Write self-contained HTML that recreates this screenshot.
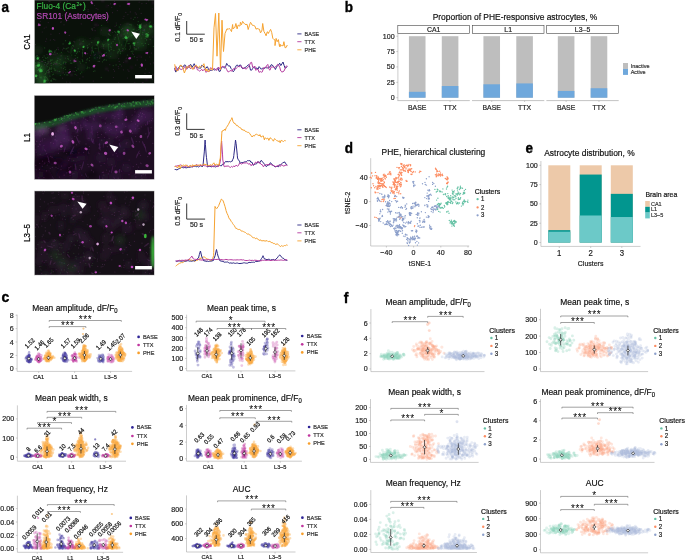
<!DOCTYPE html>
<html><head><meta charset="utf-8"><title>Figure</title>
<style>html,body{margin:0;padding:0;background:#fff;width:685px;height:560px;overflow:hidden}svg{display:block;will-change:transform}text{font-family:'Liberation Sans',sans-serif}</style>
</head><body>
<svg width="685" height="560" viewBox="0 0 685 560" style="font-family:'Liberation Sans',sans-serif">
<defs>
<filter id="b1" x="-50%" y="-50%" width="200%" height="200%"><feGaussianBlur stdDeviation="0.45"/></filter>
<filter id="b15" x="-50%" y="-50%" width="200%" height="200%"><feGaussianBlur stdDeviation="0.7"/></filter>
<filter id="b2" x="-50%" y="-50%" width="200%" height="200%"><feGaussianBlur stdDeviation="1.2"/></filter>
<filter id="b3" x="-50%" y="-50%" width="200%" height="200%"><feGaussianBlur stdDeviation="2.2"/></filter>
<clipPath id="clip1"><rect x="34.3" y="0" width="120.00000000000001" height="83.6"/></clipPath>
<clipPath id="clip2"><rect x="34.3" y="95.4" width="120.00000000000001" height="84.19999999999999"/></clipPath>
<clipPath id="clip3"><rect x="34.3" y="191" width="120.00000000000001" height="84.10000000000002"/></clipPath>
</defs>
<rect width="685" height="560" fill="#fff"/>
<text x="1.50" y="12.50" font-size="13.5" text-anchor="start" fill="#000" stroke="#000" stroke-width="0.35" font-weight="bold" transform="matrix(1 0 0 1.1 0 -1.250)">a</text>
<g clip-path="url(#clip1)">
<rect x="34.30" y="0.00" width="120.00" height="83.60" fill="#0a110a" />
<g filter="url(#b3)"><ellipse cx="110.8" cy="43.6" rx="3.7" ry="3.9" fill="#1a3f1d" fill-opacity="0.33"/><ellipse cx="41.6" cy="67.8" rx="4.4" ry="3.9" fill="#1a3f1d" fill-opacity="0.24"/><ellipse cx="60.2" cy="61.1" rx="4.7" ry="6.0" fill="#1a3f1d" fill-opacity="0.32"/><ellipse cx="102.5" cy="31.1" rx="3.5" ry="4.8" fill="#1a3f1d" fill-opacity="0.21"/><ellipse cx="37.6" cy="50.4" rx="5.8" ry="4.9" fill="#1a3f1d" fill-opacity="0.28"/><ellipse cx="91.5" cy="43.3" rx="5.1" ry="3.6" fill="#1a3f1d" fill-opacity="0.26"/><ellipse cx="39.2" cy="67.2" rx="3.8" ry="5.6" fill="#1a3f1d" fill-opacity="0.28"/><ellipse cx="136.3" cy="47.3" rx="3.3" ry="4.6" fill="#1a3f1d" fill-opacity="0.28"/><ellipse cx="148.9" cy="41.5" rx="3.2" ry="4.2" fill="#1a3f1d" fill-opacity="0.25"/><ellipse cx="55.7" cy="65.2" rx="5.9" ry="4.8" fill="#1a3f1d" fill-opacity="0.29"/><ellipse cx="108.5" cy="46.2" rx="4.3" ry="3.7" fill="#1a3f1d" fill-opacity="0.26"/><ellipse cx="51.6" cy="57.4" rx="5.0" ry="3.9" fill="#1a3f1d" fill-opacity="0.33"/><ellipse cx="113.3" cy="54.2" rx="5.8" ry="5.7" fill="#1a3f1d" fill-opacity="0.29"/><ellipse cx="59.4" cy="62.5" rx="4.7" ry="3.5" fill="#1a3f1d" fill-opacity="0.33"/><ellipse cx="105.7" cy="45.0" rx="4.2" ry="3.7" fill="#1a3f1d" fill-opacity="0.21"/><ellipse cx="142.8" cy="32.5" rx="4.0" ry="5.3" fill="#1a3f1d" fill-opacity="0.20"/><ellipse cx="80.7" cy="42.9" rx="5.9" ry="5.0" fill="#1a3f1d" fill-opacity="0.26"/><ellipse cx="108.4" cy="43.3" rx="4.8" ry="5.1" fill="#1a3f1d" fill-opacity="0.25"/><ellipse cx="95.6" cy="55.8" rx="3.5" ry="5.8" fill="#1a3f1d" fill-opacity="0.20"/><ellipse cx="119.4" cy="42.5" rx="4.3" ry="5.4" fill="#1a3f1d" fill-opacity="0.20"/><ellipse cx="106.8" cy="44.7" rx="5.2" ry="3.7" fill="#1a3f1d" fill-opacity="0.23"/><ellipse cx="82.1" cy="42.8" rx="5.8" ry="4.7" fill="#1a3f1d" fill-opacity="0.25"/><ellipse cx="59.2" cy="70.6" rx="5.9" ry="4.5" fill="#1a3f1d" fill-opacity="0.28"/><ellipse cx="137.0" cy="43.1" rx="4.3" ry="5.6" fill="#1a3f1d" fill-opacity="0.26"/><ellipse cx="138.6" cy="43.3" rx="4.6" ry="5.9" fill="#1a3f1d" fill-opacity="0.24"/><ellipse cx="129.4" cy="33.7" rx="4.9" ry="5.9" fill="#1a3f1d" fill-opacity="0.25"/><ellipse cx="75.2" cy="48.8" rx="3.6" ry="5.7" fill="#1a3f1d" fill-opacity="0.33"/><ellipse cx="44.0" cy="78.5" rx="4.8" ry="5.0" fill="#1a3f1d" fill-opacity="0.25"/><ellipse cx="153.3" cy="31.4" rx="4.9" ry="3.6" fill="#1a3f1d" fill-opacity="0.21"/><ellipse cx="83.0" cy="45.9" rx="5.2" ry="3.3" fill="#1a3f1d" fill-opacity="0.34"/><ellipse cx="130.4" cy="34.8" rx="5.7" ry="3.1" fill="#1a3f1d" fill-opacity="0.20"/><ellipse cx="36.8" cy="80.6" rx="3.6" ry="4.7" fill="#1a3f1d" fill-opacity="0.21"/><ellipse cx="109.9" cy="54.9" rx="3.1" ry="3.9" fill="#1a3f1d" fill-opacity="0.34"/><ellipse cx="103.5" cy="45.7" rx="4.8" ry="3.6" fill="#1a3f1d" fill-opacity="0.29"/><ellipse cx="43.4" cy="85.4" rx="5.6" ry="3.2" fill="#1a3f1d" fill-opacity="0.25"/><ellipse cx="67.4" cy="58.5" rx="5.4" ry="3.9" fill="#1a3f1d" fill-opacity="0.33"/><ellipse cx="130.2" cy="36.6" rx="5.6" ry="3.6" fill="#1a3f1d" fill-opacity="0.29"/><ellipse cx="106.1" cy="32.0" rx="5.0" ry="4.9" fill="#1a3f1d" fill-opacity="0.32"/><ellipse cx="127.4" cy="30.3" rx="5.6" ry="5.7" fill="#1a3f1d" fill-opacity="0.22"/><ellipse cx="39.2" cy="87.1" rx="4.7" ry="5.8" fill="#1a3f1d" fill-opacity="0.26"/><ellipse cx="57.4" cy="57.7" rx="3.3" ry="4.1" fill="#1a3f1d" fill-opacity="0.22"/><ellipse cx="119.6" cy="44.0" rx="4.1" ry="4.6" fill="#1a3f1d" fill-opacity="0.23"/><ellipse cx="60.6" cy="57.4" rx="3.2" ry="5.3" fill="#1a3f1d" fill-opacity="0.29"/><ellipse cx="75.9" cy="60.7" rx="3.4" ry="3.4" fill="#1a3f1d" fill-opacity="0.22"/><ellipse cx="46.8" cy="70.3" rx="3.9" ry="5.5" fill="#1a3f1d" fill-opacity="0.29"/><ellipse cx="50.4" cy="63.0" rx="4.1" ry="5.1" fill="#1a3f1d" fill-opacity="0.21"/><ellipse cx="119.3" cy="47.6" rx="5.0" ry="4.1" fill="#1a3f1d" fill-opacity="0.21"/><ellipse cx="97.0" cy="41.6" rx="3.8" ry="4.6" fill="#1a3f1d" fill-opacity="0.31"/><ellipse cx="141.9" cy="46.6" rx="5.4" ry="4.9" fill="#1a3f1d" fill-opacity="0.31"/><ellipse cx="158.7" cy="37.5" rx="5.3" ry="4.2" fill="#1a3f1d" fill-opacity="0.30"/><ellipse cx="55.4" cy="64.7" rx="5.2" ry="4.3" fill="#1a3f1d" fill-opacity="0.26"/><ellipse cx="81.5" cy="67.2" rx="4.6" ry="4.2" fill="#1a3f1d" fill-opacity="0.28"/><ellipse cx="120.6" cy="48.7" rx="5.8" ry="4.2" fill="#1a3f1d" fill-opacity="0.22"/><ellipse cx="117.6" cy="38.2" rx="5.1" ry="5.5" fill="#1a3f1d" fill-opacity="0.34"/><ellipse cx="42.2" cy="79.0" rx="3.4" ry="3.5" fill="#1a3f1d" fill-opacity="0.29"/><ellipse cx="38.0" cy="68.0" rx="7.0" ry="7.0" fill="#2a6a2e" fill-opacity="0.50"/><ellipse cx="42.0" cy="80.0" rx="6.0" ry="6.0" fill="#2a6a2e" fill-opacity="0.50"/><ellipse cx="128.0" cy="32.0" rx="8.0" ry="8.0" fill="#2a6a2e" fill-opacity="0.35"/><ellipse cx="146.0" cy="30.0" rx="7.0" ry="7.0" fill="#2a6a2e" fill-opacity="0.35"/><ellipse cx="140.0" cy="40.0" rx="6.0" ry="6.0" fill="#2a6a2e" fill-opacity="0.30"/></g>
<g filter="url(#b2)"><ellipse cx="71.4" cy="74.8" rx="1.1" ry="1.2" fill="#5a245a" fill-opacity="0.45"/><ellipse cx="139.6" cy="56.2" rx="0.9" ry="0.9" fill="#5a245a" fill-opacity="0.45"/><ellipse cx="153.2" cy="2.4" rx="1.0" ry="1.5" fill="#5a245a" fill-opacity="0.45"/><ellipse cx="36.1" cy="13.5" rx="0.9" ry="0.9" fill="#5a245a" fill-opacity="0.45"/><ellipse cx="90.9" cy="49.5" rx="1.0" ry="0.9" fill="#5a245a" fill-opacity="0.45"/><ellipse cx="131.6" cy="67.3" rx="1.2" ry="0.9" fill="#5a245a" fill-opacity="0.45"/><ellipse cx="99.3" cy="52.6" rx="1.1" ry="1.4" fill="#5a245a" fill-opacity="0.45"/><ellipse cx="81.1" cy="42.7" rx="0.9" ry="1.2" fill="#5a245a" fill-opacity="0.45"/><ellipse cx="126.3" cy="61.1" rx="1.0" ry="1.5" fill="#5a245a" fill-opacity="0.45"/><ellipse cx="120.7" cy="35.4" rx="1.1" ry="1.3" fill="#5a245a" fill-opacity="0.45"/><ellipse cx="55.4" cy="53.5" rx="1.3" ry="1.2" fill="#5a245a" fill-opacity="0.45"/><ellipse cx="139.1" cy="39.2" rx="1.1" ry="1.0" fill="#5a245a" fill-opacity="0.45"/><ellipse cx="144.6" cy="26.4" rx="1.3" ry="1.1" fill="#5a245a" fill-opacity="0.45"/><ellipse cx="146.6" cy="79.2" rx="0.8" ry="1.5" fill="#5a245a" fill-opacity="0.45"/><ellipse cx="106.9" cy="6.2" rx="1.1" ry="0.8" fill="#5a245a" fill-opacity="0.45"/><ellipse cx="100.2" cy="15.5" rx="1.1" ry="1.0" fill="#5a245a" fill-opacity="0.45"/><ellipse cx="106.6" cy="68.7" rx="1.5" ry="1.0" fill="#5a245a" fill-opacity="0.45"/><ellipse cx="102.7" cy="0.5" rx="1.1" ry="1.5" fill="#5a245a" fill-opacity="0.45"/><ellipse cx="48.6" cy="72.7" rx="1.3" ry="1.0" fill="#5a245a" fill-opacity="0.45"/><ellipse cx="127.7" cy="24.2" rx="1.4" ry="0.9" fill="#5a245a" fill-opacity="0.45"/><ellipse cx="48.6" cy="62.7" rx="1.1" ry="0.9" fill="#5a245a" fill-opacity="0.45"/><ellipse cx="95.9" cy="24.8" rx="1.2" ry="1.3" fill="#5a245a" fill-opacity="0.45"/></g>
<g filter="url(#b15)"><path d="M134.4 56.7h0M146.5 33.7h0M49.1 71.9h0M126.6 37.2h0M123.1 38.5h0M68.5 59.2h0M145.4 43.4h0M79.8 61.6h0M95.2 48.4h0M64.7 74.7h0M136.9 30.4h0M87.8 47.5h0M101.6 25.4h0M75.2 55.6h0M121.6 29.6h0M99.7 55.8h0M47.5 79.0h0M141.2 38.1h0M47.2 64.0h0M150.3 22.1h0M50.0 91.8h0M43.4 60.0h0M82.6 60.4h0M128.4 30.5h0M89.6 57.7h0M91.5 47.8h0M67.7 56.6h0M138.3 21.7h0M35.6 66.9h0M140.8 26.3h0M65.0 61.9h0M149.2 23.1h0M119.5 49.5h0M118.2 51.7h0M81.8 72.1h0M50.0 76.2h0M102.3 44.1h0M61.4 52.6h0M53.0 78.3h0M34.6 65.3h0M113.9 50.5h0M93.5 51.7h0M119.2 27.0h0M45.1 74.2h0M51.7 81.2h0M144.3 29.3h0M102.5 61.8h0M127.4 55.2h0M113.1 41.6h0M125.7 49.0h0M93.3 65.4h0M117.7 53.0h0M91.7 28.9h0M91.7 42.4h0M56.9 62.6h0M142.8 32.7h0M109.5 51.0h0M104.0 44.7h0M150.2 39.5h0M115.5 43.8h0M135.9 49.5h0M65.5 69.6h0M63.5 68.4h0M129.2 43.5h0M118.9 49.2h0M109.5 50.3h0M56.6 49.7h0M120.4 53.5h0M106.3 60.2h0M140.0 35.8h0M63.5 62.2h0M66.1 62.4h0M118.4 51.8h0M83.5 41.2h0M104.8 53.5h0M26.1 65.7h0M86.8 59.9h0M135.9 49.0h0M108.8 44.5h0M52.5 95.6h0M53.5 74.2h0M125.2 30.3h0M130.3 48.0h0M87.8 47.3h0M124.1 34.1h0M127.6 33.0h0M133.5 19.3h0M113.3 65.7h0M106.4 55.7h0M80.4 73.7h0M82.9 41.3h0M114.7 31.3h0M59.1 71.5h0M59.5 71.4h0M61.2 67.8h0M139.2 29.6h0M63.1 43.9h0M119.4 50.7h0M74.0 62.4h0M77.3 52.0h0M104.6 59.5h0M132.9 51.2h0M158.6 30.5h0M44.7 47.9h0M45.0 60.3h0M94.9 70.9h0M76.5 70.5h0M69.9 69.6h0M73.4 46.0h0M57.5 60.4h0M108.4 34.0h0M52.9 93.0h0M80.3 63.1h0M55.1 70.5h0M41.4 66.5h0M50.2 61.2h0M89.1 44.1h0M66.9 48.5h0M94.8 57.9h0M156.5 26.9h0M87.6 67.2h0M46.6 91.9h0M119.6 42.9h0M72.6 45.3h0M71.4 63.3h0M43.7 94.2h0M116.5 25.1h0M52.2 59.9h0M67.9 51.2h0M114.2 39.1h0M133.3 32.9h0M77.3 57.7h0M148.6 44.4h0M33.9 65.3h0M115.3 37.5h0M76.6 53.6h0M40.7 69.1h0M123.4 48.8h0M153.4 46.4h0M101.3 77.5h0M46.6 88.2h0M87.1 68.5h0M134.0 29.2h0M128.7 37.0h0M68.2 47.7h0M142.0 43.7h0M36.9 78.5h0M106.2 52.7h0M130.2 46.2h0M89.2 67.8h0M75.2 74.3h0M49.5 69.0h0M96.3 44.3h0M145.2 38.3h0M56.1 62.0h0M132.4 53.2h0M67.8 74.9h0M41.3 77.1h0M136.6 49.0h0M61.0 64.7h0M93.5 71.3h0M87.3 45.7h0M86.1 62.7h0M77.7 57.3h0M103.2 55.0h0M131.3 51.5h0M120.0 64.5h0M130.2 45.8h0M49.6 67.8h0M57.2 60.9h0M34.9 56.2h0M127.2 40.9h0M137.5 24.6h0M71.8 55.1h0M103.4 46.3h0M99.0 61.4h0M115.7 32.5h0M39.0 62.4h0M63.3 63.3h0M93.4 52.6h0M79.3 51.5h0M35.3 62.9h0M39.3 65.1h0M103.3 45.3h0M138.2 26.0h0M93.2 51.5h0M111.4 43.2h0M116.1 64.9h0M101.8 54.1h0M82.4 53.0h0M65.6 40.7h0M60.1 59.6h0M111.3 49.5h0M54.2 68.3h0M138.6 29.5h0M134.7 48.9h0M110.7 56.6h0M131.2 25.0h0M87.6 48.5h0M51.5 67.9h0M66.1 48.9h0M57.3 53.4h0M59.1 63.3h0M117.5 34.4h0M82.2 59.6h0M67.9 58.6h0M60.3 75.3h0M71.9 63.1h0M110.8 46.8h0M47.3 70.3h0M146.5 40.2h0M64.9 67.2h0M33.1 70.2h0M70.3 60.6h0M96.9 45.4h0M109.4 50.7h0M133.2 29.7h0M154.8 24.8h0M141.3 24.1h0M51.6 63.2h0M66.8 74.9h0M149.2 24.9h0M33.9 57.9h0M57.8 87.2h0M32.5 81.7h0M47.7 57.6h0M57.0 62.8h0M121.6 44.9h0M61.7 55.8h0M143.3 45.7h0M111.2 47.6h0M78.1 68.9h0M99.9 57.8h0M122.7 48.7h0M129.9 24.5h0M115.0 39.1h0M87.7 58.6h0M82.7 61.5h0M30.2 91.7h0M70.4 63.1h0M120.8 51.7h0M138.9 29.6h0M135.7 42.8h0M89.4 60.7h0M110.0 35.5h0M158.1 24.6h0M148.3 32.6h0M135.0 17.5h0M132.0 34.9h0M128.1 43.7h0M64.1 48.4h0M78.3 48.7h0M39.2 84.1h0M46.1 58.4h0M103.7 60.2h0M129.5 49.3h0M87.0 59.4h0M67.3 72.1h0M51.7 69.1h0M131.8 35.6h0M36.3 67.7h0M50.6 80.8h0M48.4 70.2h0M42.8 69.2h0M46.5 80.4h0M52.5 74.8h0M54.6 52.2h0M51.2 65.6h0M50.8 60.0h0M44.6 77.7h0M35.1 59.8h0M45.0 78.6h0M40.2 77.7h0M39.7 60.2h0M46.5 72.0h0M53.7 79.6h0M39.8 75.1h0M48.3 63.0h0M51.4 80.2h0M44.8 80.8h0M37.1 55.6h0M51.1 60.3h0M47.2 66.7h0M37.5 75.3h0M50.6 54.9h0M40.0 76.9h0M54.4 79.2h0M45.3 62.3h0M44.1 55.9h0M45.2 57.8h0M37.9 62.8h0M35.7 65.8h0M49.6 71.9h0M55.8 79.8h0M48.2 80.2h0M44.1 76.8h0M40.6 67.7h0M55.9 70.1h0M45.4 76.5h0M41.2 77.9h0M34.7 58.0h0M38.2 58.6h0M55.1 50.8h0M40.9 69.3h0M49.8 76.0h0M42.7 57.4h0M53.1 54.1h0M35.7 57.8h0M45.1 81.7h0M50.3 68.9h0M45.8 73.3h0M48.1 61.3h0M36.3 56.8h0M51.5 71.3h0M51.8 51.5h0M54.1 62.8h0M54.7 70.0h0M46.3 77.5h0M48.1 72.7h0M37.8 70.3h0" stroke="#3a9a40" stroke-opacity="0.3" stroke-width="1.3" stroke-linecap="round" fill="none"/><path d="M77.1 6.3h0M50.3 40.1h0M65.8 64.0h0M49.0 1.2h0M153.9 26.2h0M95.5 17.6h0M59.4 33.6h0M129.1 3.3h0M134.8 82.8h0M101.4 30.1h0M62.4 15.3h0M73.1 71.2h0M34.7 65.7h0M114.4 1.6h0M42.6 61.5h0M115.1 26.2h0M137.7 17.6h0M85.5 9.6h0M111.8 7.3h0M55.8 64.1h0M94.3 55.3h0M122.4 50.7h0M58.0 58.4h0M48.2 22.6h0M88.1 9.6h0M47.0 54.5h0M123.3 31.0h0M81.1 17.4h0M96.9 48.5h0M146.3 3.4h0M143.3 82.8h0M75.9 60.7h0M133.3 54.4h0M69.0 52.1h0M139.5 8.9h0M91.9 1.9h0M135.7 65.1h0M39.8 62.3h0M117.3 10.6h0M97.3 57.6h0M74.6 42.1h0M151.4 53.1h0M94.5 5.5h0M48.8 71.1h0M123.4 69.8h0M103.7 48.2h0M98.0 61.5h0M73.9 41.5h0M90.7 55.3h0M60.2 2.1h0M44.9 15.0h0M137.2 59.9h0M124.3 37.1h0M46.6 38.9h0M137.9 42.6h0M110.1 31.3h0M52.3 52.4h0M92.5 28.9h0M65.3 58.2h0M72.4 48.2h0M65.5 63.0h0M79.3 40.0h0M145.6 60.1h0M122.7 28.4h0M135.1 32.2h0M152.9 74.9h0M113.4 69.5h0M99.6 61.3h0M49.3 82.6h0M130.3 11.9h0M63.4 48.1h0M125.8 12.4h0M149.6 28.9h0M153.7 62.9h0M92.6 30.3h0M45.9 7.3h0M109.8 64.7h0M143.2 30.5h0M146.8 24.8h0M147.1 76.8h0M52.9 72.0h0M118.7 58.7h0M135.1 44.9h0M95.1 30.7h0M138.1 75.3h0M53.6 64.6h0M67.4 15.4h0M58.0 47.9h0M67.9 20.3h0M46.1 27.1h0M127.2 1.8h0M92.2 50.4h0M40.3 24.6h0M143.1 83.1h0M136.3 14.2h0M126.0 37.7h0M54.8 40.2h0M145.0 73.3h0M81.3 5.3h0M142.4 82.5h0M95.7 18.8h0M99.6 58.2h0M92.2 29.5h0M64.0 24.8h0M40.3 21.3h0M148.7 0.7h0M121.6 66.0h0M82.9 49.8h0M60.8 55.8h0M119.2 61.4h0M93.3 81.1h0M138.3 47.9h0M116.2 23.0h0M147.5 53.9h0M141.7 24.1h0M152.2 8.8h0M97.9 9.2h0M57.1 63.9h0M42.2 32.0h0M57.3 71.1h0M44.2 28.1h0M137.0 57.4h0M118.7 82.9h0M37.1 55.6h0M123.7 62.5h0M120.0 6.0h0M44.4 64.6h0M107.7 22.0h0M35.4 44.6h0M45.2 62.6h0M75.2 67.5h0M45.8 41.3h0M46.3 65.2h0M101.5 19.6h0M149.8 57.0h0M74.7 71.5h0M79.9 78.8h0M70.0 82.3h0M41.8 61.4h0M69.3 35.4h0M110.6 3.8h0M61.1 8.7h0M123.1 18.5h0M94.1 27.5h0M62.6 78.2h0M95.2 54.4h0M118.8 68.6h0M65.9 6.6h0M90.4 14.2h0M36.8 76.9h0M109.5 34.6h0M50.7 63.6h0M98.3 14.6h0M152.2 79.5h0M145.6 69.1h0M98.1 25.1h0M112.5 12.7h0M108.3 5.5h0M35.9 59.8h0M75.4 58.3h0M127.9 69.8h0M108.2 70.8h0M113.4 77.5h0M141.9 3.6h0M66.4 32.5h0M64.6 14.8h0M139.1 2.1h0M56.1 63.6h0M61.1 21.6h0M150.4 63.8h0M88.1 11.4h0M66.6 82.0h0M129.2 5.8h0M119.1 31.4h0M120.7 24.7h0M49.9 1.6h0M69.8 71.9h0M141.2 57.1h0M124.0 16.3h0M76.8 75.2h0M152.7 37.0h0M127.4 78.0h0M153.9 24.7h0M112.8 32.6h0M90.1 38.6h0M67.7 1.6h0M126.3 58.2h0M135.2 12.8h0M62.7 49.8h0M146.7 39.4h0M58.4 49.7h0M149.2 72.6h0M142.2 34.3h0M65.8 72.8h0M128.9 71.2h0M81.2 23.9h0M63.1 72.8h0M144.6 30.7h0M139.2 31.9h0M88.0 47.4h0M60.9 22.4h0M66.3 21.7h0M96.2 8.4h0M127.9 14.6h0M87.6 53.7h0M50.9 34.2h0M101.9 46.0h0M141.4 65.6h0M48.8 69.7h0M100.3 56.7h0M53.5 39.5h0M118.3 66.7h0M131.0 18.2h0M134.2 47.5h0M114.5 71.2h0M83.0 76.9h0M140.1 67.5h0M79.9 44.2h0M55.1 63.5h0M141.2 13.4h0" stroke="#8a3a8a" stroke-opacity="0.25" stroke-width="1.2" stroke-linecap="round" fill="none"/></g>
<g filter="url(#b1)"><ellipse cx="125.9" cy="37.7" rx="1.7" ry="1.1" fill="#3cbc48" fill-opacity="0.52"/><ellipse cx="126.6" cy="38.3" rx="1.0" ry="1.2" fill="#3cbc48" fill-opacity="0.45"/><ellipse cx="125.8" cy="37.2" rx="1.0" ry="1.7" fill="#3cbc48" fill-opacity="0.54"/><ellipse cx="126.3" cy="37.8" rx="1.3" ry="1.1" fill="#3cbc48" fill-opacity="0.41"/><ellipse cx="118.6" cy="31.8" rx="0.9" ry="1.4" fill="#3cbc48" fill-opacity="0.39"/><ellipse cx="119.2" cy="32.7" rx="1.0" ry="1.1" fill="#3cbc48" fill-opacity="0.36"/><ellipse cx="117.9" cy="31.7" rx="1.1" ry="1.1" fill="#3cbc48" fill-opacity="0.43"/><ellipse cx="119.0" cy="31.6" rx="0.9" ry="0.9" fill="#3cbc48" fill-opacity="0.46"/><ellipse cx="140.2" cy="27.9" rx="0.9" ry="1.1" fill="#3cbc48" fill-opacity="0.58"/><ellipse cx="140.1" cy="26.5" rx="1.0" ry="1.2" fill="#3cbc48" fill-opacity="0.49"/><ellipse cx="140.1" cy="27.2" rx="1.4" ry="1.3" fill="#3cbc48" fill-opacity="0.65"/><ellipse cx="140.1" cy="25.5" rx="1.3" ry="1.2" fill="#3cbc48" fill-opacity="0.63"/><ellipse cx="147.6" cy="36.3" rx="1.0" ry="1.5" fill="#3cbc48" fill-opacity="0.46"/><ellipse cx="146.3" cy="36.6" rx="1.0" ry="1.2" fill="#3cbc48" fill-opacity="0.38"/><ellipse cx="147.9" cy="35.1" rx="1.4" ry="1.1" fill="#3cbc48" fill-opacity="0.49"/><ellipse cx="146.7" cy="34.3" rx="1.5" ry="1.2" fill="#3cbc48" fill-opacity="0.43"/><ellipse cx="150.8" cy="26.1" rx="1.2" ry="0.9" fill="#3cbc48" fill-opacity="0.54"/><ellipse cx="150.6" cy="26.4" rx="1.3" ry="0.8" fill="#3cbc48" fill-opacity="0.62"/><ellipse cx="150.0" cy="26.6" rx="1.3" ry="1.1" fill="#3cbc48" fill-opacity="0.57"/><ellipse cx="151.3" cy="26.9" rx="1.2" ry="1.4" fill="#3cbc48" fill-opacity="0.44"/><ellipse cx="133.5" cy="43.5" rx="0.8" ry="1.1" fill="#3cbc48" fill-opacity="0.43"/><ellipse cx="134.4" cy="45.1" rx="0.8" ry="1.0" fill="#3cbc48" fill-opacity="0.52"/><ellipse cx="133.8" cy="43.3" rx="1.2" ry="1.0" fill="#3cbc48" fill-opacity="0.50"/><ellipse cx="134.4" cy="43.2" rx="1.1" ry="1.0" fill="#3cbc48" fill-opacity="0.49"/><ellipse cx="98.5" cy="41.9" rx="1.0" ry="1.2" fill="#3cbc48" fill-opacity="0.47"/><ellipse cx="97.9" cy="43.3" rx="0.9" ry="1.2" fill="#3cbc48" fill-opacity="0.51"/><ellipse cx="97.6" cy="42.7" rx="0.7" ry="0.9" fill="#3cbc48" fill-opacity="0.53"/><ellipse cx="97.9" cy="42.1" rx="1.1" ry="1.1" fill="#3cbc48" fill-opacity="0.48"/><ellipse cx="83.6" cy="47.1" rx="0.8" ry="0.9" fill="#3cbc48" fill-opacity="0.56"/><ellipse cx="83.2" cy="47.2" rx="0.8" ry="0.9" fill="#3cbc48" fill-opacity="0.55"/><ellipse cx="83.8" cy="46.5" rx="0.8" ry="1.1" fill="#3cbc48" fill-opacity="0.47"/><ellipse cx="83.5" cy="46.7" rx="1.1" ry="0.8" fill="#3cbc48" fill-opacity="0.47"/><ellipse cx="69.3" cy="43.8" rx="1.2" ry="1.0" fill="#3cbc48" fill-opacity="0.46"/><ellipse cx="69.7" cy="43.4" rx="1.0" ry="0.8" fill="#3cbc48" fill-opacity="0.40"/><ellipse cx="69.9" cy="42.3" rx="0.8" ry="1.1" fill="#3cbc48" fill-opacity="0.47"/><ellipse cx="70.1" cy="43.3" rx="1.1" ry="0.9" fill="#3cbc48" fill-opacity="0.45"/><ellipse cx="74.4" cy="50.2" rx="0.9" ry="0.9" fill="#3cbc48" fill-opacity="0.48"/><ellipse cx="74.9" cy="51.5" rx="0.8" ry="0.8" fill="#3cbc48" fill-opacity="0.42"/><ellipse cx="75.0" cy="50.6" rx="1.0" ry="1.0" fill="#3cbc48" fill-opacity="0.41"/><ellipse cx="74.8" cy="50.7" rx="1.0" ry="0.9" fill="#3cbc48" fill-opacity="0.53"/><ellipse cx="39.9" cy="69.6" rx="1.8" ry="1.4" fill="#3cbc48" fill-opacity="0.48"/><ellipse cx="40.1" cy="71.1" rx="1.2" ry="1.5" fill="#3cbc48" fill-opacity="0.55"/><ellipse cx="41.2" cy="70.9" rx="1.3" ry="1.4" fill="#3cbc48" fill-opacity="0.61"/><ellipse cx="41.4" cy="70.8" rx="1.3" ry="1.5" fill="#3cbc48" fill-opacity="0.43"/><ellipse cx="38.6" cy="65.8" rx="1.4" ry="1.0" fill="#3cbc48" fill-opacity="0.50"/><ellipse cx="37.8" cy="65.8" rx="1.5" ry="1.0" fill="#3cbc48" fill-opacity="0.55"/><ellipse cx="39.2" cy="64.7" rx="0.9" ry="1.3" fill="#3cbc48" fill-opacity="0.50"/><ellipse cx="38.4" cy="65.1" rx="1.6" ry="1.5" fill="#3cbc48" fill-opacity="0.41"/><ellipse cx="50.8" cy="51.4" rx="1.1" ry="1.1" fill="#3cbc48" fill-opacity="0.47"/><ellipse cx="49.5" cy="50.5" rx="0.9" ry="1.1" fill="#3cbc48" fill-opacity="0.47"/><ellipse cx="49.6" cy="51.7" rx="0.6" ry="1.0" fill="#3cbc48" fill-opacity="0.48"/><ellipse cx="49.0" cy="51.7" rx="1.0" ry="0.8" fill="#3cbc48" fill-opacity="0.38"/><ellipse cx="37.7" cy="58.7" rx="1.1" ry="1.4" fill="#3cbc48" fill-opacity="0.38"/><ellipse cx="38.3" cy="57.7" rx="1.3" ry="1.1" fill="#3cbc48" fill-opacity="0.34"/><ellipse cx="37.6" cy="58.0" rx="0.9" ry="1.3" fill="#3cbc48" fill-opacity="0.44"/><ellipse cx="37.6" cy="58.7" rx="1.4" ry="1.0" fill="#3cbc48" fill-opacity="0.44"/><ellipse cx="44.7" cy="81.1" rx="1.2" ry="0.9" fill="#3cbc48" fill-opacity="0.42"/><ellipse cx="44.7" cy="81.2" rx="1.1" ry="1.4" fill="#3cbc48" fill-opacity="0.43"/><ellipse cx="44.2" cy="82.2" rx="1.2" ry="1.5" fill="#3cbc48" fill-opacity="0.38"/><ellipse cx="44.6" cy="80.3" rx="1.4" ry="1.1" fill="#3cbc48" fill-opacity="0.44"/><ellipse cx="36.0" cy="76.0" rx="1.4" ry="1.3" fill="#3cbc48" fill-opacity="0.48"/><ellipse cx="36.0" cy="75.6" rx="1.1" ry="1.4" fill="#3cbc48" fill-opacity="0.52"/><ellipse cx="35.9" cy="76.4" rx="0.8" ry="0.9" fill="#3cbc48" fill-opacity="0.49"/><ellipse cx="36.0" cy="76.1" rx="1.1" ry="0.9" fill="#3cbc48" fill-opacity="0.58"/><ellipse cx="107.9" cy="40.7" rx="0.9" ry="0.7" fill="#3cbc48" fill-opacity="0.50"/><ellipse cx="108.4" cy="39.6" rx="1.1" ry="0.7" fill="#3cbc48" fill-opacity="0.60"/><ellipse cx="108.7" cy="39.3" rx="0.6" ry="0.9" fill="#3cbc48" fill-opacity="0.55"/><ellipse cx="108.0" cy="39.9" rx="0.8" ry="1.1" fill="#3cbc48" fill-opacity="0.57"/><ellipse cx="125.8" cy="44.0" rx="0.4" ry="4.5" fill="#2c8a33" fill-opacity="0.30" transform="rotate(14 125.8 44.0)"/><ellipse cx="118.4" cy="38.0" rx="0.4" ry="4.5" fill="#2c8a33" fill-opacity="0.30" transform="rotate(-14 118.4 38.0)"/><ellipse cx="98.3" cy="48.0" rx="0.4" ry="4.5" fill="#2c8a33" fill-opacity="0.30" transform="rotate(-10 98.3 48.0)"/><ellipse cx="82.7" cy="53.0" rx="0.4" ry="4.5" fill="#2c8a33" fill-opacity="0.30" transform="rotate(2 82.7 53.0)"/><ellipse cx="71.1" cy="50.0" rx="0.4" ry="4.5" fill="#2c8a33" fill-opacity="0.30" transform="rotate(2 71.1 50.0)"/><ellipse cx="108.3" cy="47.0" rx="0.4" ry="4.5" fill="#2c8a33" fill-opacity="0.30" transform="rotate(-5 108.3 47.0)"/><ellipse cx="140.1" cy="33.0" rx="0.4" ry="4.5" fill="#2c8a33" fill-opacity="0.30" transform="rotate(8 140.1 33.0)"/><ellipse cx="92.2" cy="50.0" rx="0.4" ry="4.5" fill="#2c8a33" fill-opacity="0.30" transform="rotate(9 92.2 50.0)"/><ellipse cx="38.8" cy="24.4" rx="0.8" ry="1.1" fill="#c24cc2" fill-opacity="0.65"/><ellipse cx="39.8" cy="25.2" rx="1.1" ry="0.9" fill="#c24cc2" fill-opacity="0.54"/><ellipse cx="38.8" cy="25.2" rx="1.1" ry="1.0" fill="#c24cc2" fill-opacity="0.50"/><ellipse cx="52.9" cy="28.5" rx="0.9" ry="1.3" fill="#c24cc2" fill-opacity="0.81"/><ellipse cx="53.0" cy="28.4" rx="0.9" ry="1.1" fill="#c24cc2" fill-opacity="0.82"/><ellipse cx="52.8" cy="28.4" rx="1.1" ry="1.1" fill="#c24cc2" fill-opacity="0.77"/><ellipse cx="65.1" cy="32.8" rx="1.1" ry="0.8" fill="#c24cc2" fill-opacity="0.64"/><ellipse cx="65.4" cy="32.7" rx="0.7" ry="1.2" fill="#c24cc2" fill-opacity="0.51"/><ellipse cx="65.0" cy="32.0" rx="1.0" ry="0.8" fill="#c24cc2" fill-opacity="0.50"/><ellipse cx="110.0" cy="30.2" rx="0.9" ry="0.8" fill="#c24cc2" fill-opacity="0.58"/><ellipse cx="110.0" cy="30.0" rx="0.8" ry="1.1" fill="#c24cc2" fill-opacity="0.51"/><ellipse cx="109.3" cy="30.5" rx="0.9" ry="1.1" fill="#c24cc2" fill-opacity="0.64"/><ellipse cx="127.6" cy="30.2" rx="0.9" ry="1.0" fill="#c24cc2" fill-opacity="0.78"/><ellipse cx="128.1" cy="30.7" rx="0.9" ry="0.7" fill="#c24cc2" fill-opacity="0.79"/><ellipse cx="127.5" cy="29.9" rx="1.1" ry="0.7" fill="#c24cc2" fill-opacity="0.58"/><ellipse cx="147.3" cy="19.6" rx="1.0" ry="0.7" fill="#c24cc2" fill-opacity="0.73"/><ellipse cx="145.5" cy="19.6" rx="1.1" ry="1.0" fill="#c24cc2" fill-opacity="0.84"/><ellipse cx="146.7" cy="20.2" rx="0.9" ry="1.1" fill="#c24cc2" fill-opacity="0.81"/><ellipse cx="128.1" cy="3.9" rx="1.4" ry="1.0" fill="#c24cc2" fill-opacity="0.69"/><ellipse cx="129.0" cy="3.8" rx="1.3" ry="1.1" fill="#c24cc2" fill-opacity="0.59"/><ellipse cx="128.9" cy="3.9" rx="0.9" ry="0.8" fill="#c24cc2" fill-opacity="0.65"/><ellipse cx="91.5" cy="2.4" rx="0.8" ry="0.9" fill="#c24cc2" fill-opacity="0.62"/><ellipse cx="91.4" cy="2.2" rx="0.9" ry="1.1" fill="#c24cc2" fill-opacity="0.59"/><ellipse cx="92.1" cy="3.3" rx="1.1" ry="0.9" fill="#c24cc2" fill-opacity="0.70"/><ellipse cx="85.0" cy="52.9" rx="0.8" ry="0.9" fill="#c24cc2" fill-opacity="0.64"/><ellipse cx="85.6" cy="53.6" rx="0.6" ry="1.1" fill="#c24cc2" fill-opacity="0.56"/><ellipse cx="85.2" cy="53.2" rx="1.1" ry="0.7" fill="#c24cc2" fill-opacity="0.64"/><ellipse cx="50.6" cy="54.1" rx="1.2" ry="1.2" fill="#c24cc2" fill-opacity="0.67"/><ellipse cx="49.9" cy="53.9" rx="0.8" ry="1.1" fill="#c24cc2" fill-opacity="0.61"/><ellipse cx="50.0" cy="54.4" rx="0.8" ry="0.8" fill="#c24cc2" fill-opacity="0.82"/><ellipse cx="117.0" cy="45.0" rx="0.8" ry="1.2" fill="#c24cc2" fill-opacity="0.67"/><ellipse cx="116.9" cy="44.9" rx="0.9" ry="0.7" fill="#c24cc2" fill-opacity="0.53"/><ellipse cx="117.2" cy="45.0" rx="1.0" ry="0.7" fill="#c24cc2" fill-opacity="0.52"/><ellipse cx="93.9" cy="66.4" rx="1.3" ry="1.2" fill="#c24cc2" fill-opacity="0.62"/><ellipse cx="93.9" cy="66.2" rx="0.9" ry="1.1" fill="#c24cc2" fill-opacity="0.71"/><ellipse cx="94.4" cy="65.5" rx="1.1" ry="0.8" fill="#c24cc2" fill-opacity="0.69"/><ellipse cx="74.3" cy="60.2" rx="1.0" ry="0.8" fill="#c24cc2" fill-opacity="0.51"/><ellipse cx="75.5" cy="61.2" rx="1.1" ry="0.7" fill="#c24cc2" fill-opacity="0.65"/><ellipse cx="74.3" cy="61.2" rx="0.9" ry="0.6" fill="#c24cc2" fill-opacity="0.56"/><ellipse cx="146.1" cy="53.0" rx="1.1" ry="0.8" fill="#c24cc2" fill-opacity="0.62"/><ellipse cx="147.6" cy="52.8" rx="0.7" ry="0.7" fill="#c24cc2" fill-opacity="0.79"/><ellipse cx="147.0" cy="53.0" rx="0.9" ry="0.9" fill="#c24cc2" fill-opacity="0.66"/><ellipse cx="142.0" cy="65.6" rx="1.0" ry="1.3" fill="#c24cc2" fill-opacity="0.74"/><ellipse cx="141.7" cy="64.6" rx="0.9" ry="1.3" fill="#c24cc2" fill-opacity="0.59"/><ellipse cx="141.7" cy="65.1" rx="1.1" ry="1.4" fill="#c24cc2" fill-opacity="0.72"/><ellipse cx="69.3" cy="72.3" rx="0.7" ry="0.6" fill="#c24cc2" fill-opacity="0.63"/><ellipse cx="68.9" cy="72.8" rx="0.8" ry="0.9" fill="#c24cc2" fill-opacity="0.55"/><ellipse cx="70.2" cy="71.8" rx="0.9" ry="0.8" fill="#c24cc2" fill-opacity="0.70"/><ellipse cx="114.2" cy="4.3" rx="0.8" ry="1.0" fill="#c24cc2" fill-opacity="0.79"/><ellipse cx="115.3" cy="3.8" rx="0.9" ry="0.9" fill="#c24cc2" fill-opacity="0.65"/><ellipse cx="114.7" cy="3.6" rx="1.0" ry="0.7" fill="#c24cc2" fill-opacity="0.73"/><ellipse cx="103.9" cy="55.3" rx="0.9" ry="1.4" fill="#c24cc2" fill-opacity="0.64"/><ellipse cx="103.9" cy="55.1" rx="1.2" ry="1.1" fill="#c24cc2" fill-opacity="0.64"/><ellipse cx="102.6" cy="55.9" rx="0.9" ry="0.9" fill="#c24cc2" fill-opacity="0.80"/><ellipse cx="130.4" cy="58.0" rx="0.9" ry="0.9" fill="#c24cc2" fill-opacity="0.59"/><ellipse cx="129.5" cy="58.3" rx="0.9" ry="1.2" fill="#c24cc2" fill-opacity="0.53"/><ellipse cx="129.5" cy="58.4" rx="1.4" ry="0.9" fill="#c24cc2" fill-opacity="0.62"/></g>
</g>
<text x="36.60" y="9.20" font-size="8.35" text-anchor="start" fill="#38b545" stroke="#38b545" stroke-width="0.18" transform="matrix(1 0 0 1.1 0 -0.920)">Fluo-4 (Ca<tspan font-size="5.2" dy="-3.0" dx="0.4">2+</tspan><tspan dy="3.0" dx="0.8">)</tspan></text>
<text x="36.60" y="18.80" font-size="8.35" text-anchor="start" fill="#b54ab5" stroke="#b54ab5" stroke-width="0.18" transform="matrix(1 0 0 1.1 0 -1.880)">SR101 (Astrocytes)</text>
<g clip-path="url(#clip2)">
<rect x="34.30" y="95.40" width="120.00" height="84.20" fill="#1e0e22" />
<g filter="url(#b3)"><ellipse cx="123.7" cy="124.3" rx="3.1" ry="5.8" fill="#48205a" fill-opacity="0.40"/><ellipse cx="66.6" cy="119.7" rx="5.3" ry="4.0" fill="#48205a" fill-opacity="0.40"/><ellipse cx="57.7" cy="137.8" rx="4.2" ry="5.4" fill="#48205a" fill-opacity="0.43"/><ellipse cx="120.9" cy="113.2" rx="3.2" ry="5.6" fill="#48205a" fill-opacity="0.49"/><ellipse cx="111.5" cy="132.2" rx="5.1" ry="4.8" fill="#48205a" fill-opacity="0.38"/><ellipse cx="77.0" cy="128.7" rx="3.7" ry="4.3" fill="#48205a" fill-opacity="0.40"/><ellipse cx="38.0" cy="136.9" rx="3.9" ry="4.9" fill="#48205a" fill-opacity="0.46"/><ellipse cx="108.0" cy="126.1" rx="4.8" ry="3.8" fill="#48205a" fill-opacity="0.38"/><ellipse cx="135.6" cy="129.6" rx="3.5" ry="3.0" fill="#48205a" fill-opacity="0.49"/><ellipse cx="137.5" cy="120.6" rx="5.5" ry="4.8" fill="#48205a" fill-opacity="0.48"/><ellipse cx="63.5" cy="131.6" rx="5.0" ry="3.6" fill="#48205a" fill-opacity="0.44"/><ellipse cx="65.8" cy="137.7" rx="5.4" ry="4.3" fill="#48205a" fill-opacity="0.50"/><ellipse cx="110.1" cy="128.2" rx="3.1" ry="3.3" fill="#48205a" fill-opacity="0.44"/><ellipse cx="147.5" cy="120.1" rx="5.7" ry="3.2" fill="#48205a" fill-opacity="0.48"/><ellipse cx="139.6" cy="120.9" rx="4.3" ry="5.1" fill="#48205a" fill-opacity="0.35"/><ellipse cx="114.4" cy="125.8" rx="4.6" ry="3.8" fill="#48205a" fill-opacity="0.30"/><ellipse cx="57.8" cy="143.7" rx="3.6" ry="3.2" fill="#48205a" fill-opacity="0.35"/><ellipse cx="96.6" cy="126.0" rx="5.6" ry="5.6" fill="#48205a" fill-opacity="0.49"/><ellipse cx="140.4" cy="116.2" rx="3.4" ry="5.9" fill="#48205a" fill-opacity="0.35"/><ellipse cx="109.0" cy="115.6" rx="5.5" ry="3.6" fill="#48205a" fill-opacity="0.38"/><ellipse cx="60.7" cy="143.4" rx="4.9" ry="4.9" fill="#48205a" fill-opacity="0.36"/><ellipse cx="55.5" cy="145.1" rx="5.3" ry="5.2" fill="#48205a" fill-opacity="0.50"/><ellipse cx="101.4" cy="114.6" rx="4.8" ry="3.9" fill="#48205a" fill-opacity="0.40"/><ellipse cx="89.4" cy="127.3" rx="5.8" ry="5.4" fill="#48205a" fill-opacity="0.38"/><ellipse cx="132.4" cy="127.7" rx="5.3" ry="4.7" fill="#48205a" fill-opacity="0.48"/><ellipse cx="93.3" cy="114.4" rx="3.8" ry="5.0" fill="#48205a" fill-opacity="0.38"/><ellipse cx="85.0" cy="124.3" rx="3.6" ry="3.3" fill="#48205a" fill-opacity="0.31"/><ellipse cx="115.0" cy="116.1" rx="4.4" ry="5.8" fill="#48205a" fill-opacity="0.43"/><ellipse cx="131.6" cy="125.3" rx="5.9" ry="3.2" fill="#48205a" fill-opacity="0.38"/><ellipse cx="148.3" cy="115.7" rx="5.8" ry="3.6" fill="#48205a" fill-opacity="0.31"/><ellipse cx="141.8" cy="115.0" rx="4.5" ry="5.8" fill="#48205a" fill-opacity="0.34"/><ellipse cx="150.5" cy="113.7" rx="3.7" ry="3.7" fill="#48205a" fill-opacity="0.40"/><ellipse cx="90.3" cy="135.4" rx="3.2" ry="3.1" fill="#48205a" fill-opacity="0.33"/><ellipse cx="107.0" cy="129.4" rx="4.4" ry="4.8" fill="#48205a" fill-opacity="0.43"/><ellipse cx="36.6" cy="133.4" rx="6.0" ry="4.0" fill="#48205a" fill-opacity="0.49"/><ellipse cx="93.4" cy="117.4" rx="3.0" ry="3.7" fill="#48205a" fill-opacity="0.36"/><ellipse cx="87.0" cy="124.9" rx="4.6" ry="4.4" fill="#48205a" fill-opacity="0.31"/><ellipse cx="66.3" cy="144.0" rx="3.1" ry="5.2" fill="#48205a" fill-opacity="0.40"/><ellipse cx="119.1" cy="115.6" rx="4.1" ry="4.6" fill="#48205a" fill-opacity="0.48"/><ellipse cx="73.7" cy="119.0" rx="3.1" ry="5.6" fill="#48205a" fill-opacity="0.36"/><ellipse cx="48.6" cy="140.2" rx="5.5" ry="4.8" fill="#48205a" fill-opacity="0.33"/><ellipse cx="83.0" cy="121.3" rx="3.0" ry="5.9" fill="#48205a" fill-opacity="0.39"/><ellipse cx="50.5" cy="147.3" rx="6.0" ry="5.4" fill="#48205a" fill-opacity="0.35"/><ellipse cx="57.2" cy="135.9" rx="4.8" ry="5.6" fill="#48205a" fill-opacity="0.49"/><ellipse cx="143.5" cy="113.0" rx="4.8" ry="3.4" fill="#48205a" fill-opacity="0.40"/><ellipse cx="42.8" cy="128.7" rx="3.4" ry="3.9" fill="#48205a" fill-opacity="0.36"/><ellipse cx="118.9" cy="109.0" rx="3.3" ry="5.0" fill="#48205a" fill-opacity="0.43"/><ellipse cx="119.6" cy="125.6" rx="5.0" ry="4.7" fill="#48205a" fill-opacity="0.45"/><ellipse cx="44.1" cy="131.0" rx="5.2" ry="3.6" fill="#48205a" fill-opacity="0.41"/><ellipse cx="65.5" cy="130.5" rx="5.5" ry="5.0" fill="#48205a" fill-opacity="0.39"/><ellipse cx="67.1" cy="139.7" rx="5.0" ry="4.3" fill="#48205a" fill-opacity="0.47"/><ellipse cx="117.4" cy="132.8" rx="5.0" ry="5.7" fill="#48205a" fill-opacity="0.41"/><ellipse cx="119.5" cy="128.8" rx="3.3" ry="4.4" fill="#48205a" fill-opacity="0.42"/><ellipse cx="41.2" cy="146.6" rx="5.1" ry="5.8" fill="#48205a" fill-opacity="0.37"/><ellipse cx="90.6" cy="136.0" rx="4.2" ry="5.5" fill="#48205a" fill-opacity="0.38"/><ellipse cx="74.8" cy="123.7" rx="3.6" ry="4.3" fill="#48205a" fill-opacity="0.33"/><ellipse cx="133.7" cy="130.5" rx="3.3" ry="3.2" fill="#48205a" fill-opacity="0.30"/><ellipse cx="146.1" cy="105.8" rx="5.0" ry="3.9" fill="#48205a" fill-opacity="0.34"/><ellipse cx="63.9" cy="137.8" rx="3.1" ry="5.6" fill="#48205a" fill-opacity="0.41"/><ellipse cx="62.6" cy="125.8" rx="5.0" ry="4.9" fill="#48205a" fill-opacity="0.36"/><ellipse cx="74.4" cy="158.4" rx="5.7" ry="4.6" fill="#321540" fill-opacity="0.38"/><ellipse cx="111.2" cy="162.3" rx="4.5" ry="5.0" fill="#321540" fill-opacity="0.32"/><ellipse cx="121.4" cy="147.2" rx="4.0" ry="5.6" fill="#321540" fill-opacity="0.31"/><ellipse cx="135.5" cy="177.1" rx="4.7" ry="3.3" fill="#321540" fill-opacity="0.36"/><ellipse cx="114.2" cy="151.5" rx="5.6" ry="4.4" fill="#321540" fill-opacity="0.26"/><ellipse cx="42.5" cy="149.0" rx="4.8" ry="5.4" fill="#321540" fill-opacity="0.26"/><ellipse cx="37.0" cy="164.7" rx="4.2" ry="4.3" fill="#321540" fill-opacity="0.37"/><ellipse cx="144.6" cy="178.3" rx="5.3" ry="3.0" fill="#321540" fill-opacity="0.27"/><ellipse cx="104.8" cy="177.8" rx="3.2" ry="4.5" fill="#321540" fill-opacity="0.31"/><ellipse cx="83.1" cy="150.6" rx="3.8" ry="3.7" fill="#321540" fill-opacity="0.27"/><ellipse cx="100.8" cy="157.7" rx="5.1" ry="4.9" fill="#321540" fill-opacity="0.39"/><ellipse cx="75.1" cy="174.9" rx="4.2" ry="5.0" fill="#321540" fill-opacity="0.37"/><ellipse cx="81.9" cy="157.7" rx="4.9" ry="3.3" fill="#321540" fill-opacity="0.33"/><ellipse cx="45.7" cy="148.9" rx="4.9" ry="5.9" fill="#321540" fill-opacity="0.40"/><ellipse cx="65.6" cy="145.8" rx="4.6" ry="4.3" fill="#321540" fill-opacity="0.31"/><ellipse cx="126.5" cy="168.1" rx="4.7" ry="4.9" fill="#321540" fill-opacity="0.34"/><ellipse cx="115.5" cy="176.7" rx="5.8" ry="5.9" fill="#321540" fill-opacity="0.38"/><ellipse cx="46.9" cy="157.9" rx="5.3" ry="3.9" fill="#321540" fill-opacity="0.34"/><ellipse cx="40.9" cy="148.1" rx="4.2" ry="3.2" fill="#321540" fill-opacity="0.31"/><ellipse cx="61.9" cy="174.1" rx="4.0" ry="4.1" fill="#321540" fill-opacity="0.37"/><ellipse cx="101.5" cy="142.0" rx="3.7" ry="4.8" fill="#321540" fill-opacity="0.28"/><ellipse cx="64.1" cy="164.7" rx="4.5" ry="3.8" fill="#321540" fill-opacity="0.33"/><ellipse cx="110.3" cy="141.6" rx="3.8" ry="3.9" fill="#321540" fill-opacity="0.38"/><ellipse cx="40.5" cy="153.7" rx="3.6" ry="5.1" fill="#321540" fill-opacity="0.37"/><ellipse cx="41.2" cy="174.2" rx="5.1" ry="3.7" fill="#321540" fill-opacity="0.39"/><ellipse cx="69.5" cy="171.2" rx="3.2" ry="4.4" fill="#321540" fill-opacity="0.33"/><ellipse cx="141.9" cy="173.1" rx="4.6" ry="3.2" fill="#321540" fill-opacity="0.31"/><ellipse cx="79.3" cy="179.4" rx="5.0" ry="4.2" fill="#321540" fill-opacity="0.30"/><ellipse cx="126.4" cy="143.8" rx="5.5" ry="5.0" fill="#321540" fill-opacity="0.32"/><ellipse cx="119.5" cy="155.8" rx="3.4" ry="4.3" fill="#321540" fill-opacity="0.26"/><ellipse cx="39.5" cy="163.0" rx="5.5" ry="3.6" fill="#0e060f" fill-opacity="0.40"/><ellipse cx="93.0" cy="174.5" rx="5.7" ry="5.0" fill="#0e060f" fill-opacity="0.42"/><ellipse cx="69.2" cy="167.8" rx="4.4" ry="4.1" fill="#0e060f" fill-opacity="0.35"/><ellipse cx="38.2" cy="160.9" rx="5.3" ry="4.7" fill="#0e060f" fill-opacity="0.33"/><ellipse cx="83.2" cy="151.2" rx="5.8" ry="5.0" fill="#0e060f" fill-opacity="0.41"/><ellipse cx="59.1" cy="174.4" rx="3.0" ry="3.0" fill="#0e060f" fill-opacity="0.40"/><ellipse cx="52.1" cy="161.9" rx="4.6" ry="3.1" fill="#0e060f" fill-opacity="0.50"/><ellipse cx="75.0" cy="152.9" rx="5.2" ry="4.6" fill="#0e060f" fill-opacity="0.44"/><ellipse cx="78.6" cy="179.3" rx="3.4" ry="6.0" fill="#0e060f" fill-opacity="0.40"/><ellipse cx="46.4" cy="161.1" rx="4.1" ry="5.7" fill="#0e060f" fill-opacity="0.40"/><ellipse cx="38.3" cy="171.2" rx="4.5" ry="5.4" fill="#0e060f" fill-opacity="0.31"/><ellipse cx="86.2" cy="176.4" rx="3.0" ry="4.4" fill="#0e060f" fill-opacity="0.32"/><ellipse cx="66.1" cy="152.6" rx="5.7" ry="3.6" fill="#0e060f" fill-opacity="0.43"/><ellipse cx="73.5" cy="159.5" rx="3.6" ry="5.7" fill="#0e060f" fill-opacity="0.31"/><ellipse cx="49.5" cy="159.7" rx="4.8" ry="4.1" fill="#0e060f" fill-opacity="0.32"/><ellipse cx="68.5" cy="171.4" rx="5.1" ry="4.5" fill="#0e060f" fill-opacity="0.36"/><ellipse cx="34.9" cy="165.8" rx="4.9" ry="4.3" fill="#0e060f" fill-opacity="0.49"/><ellipse cx="46.4" cy="174.1" rx="5.2" ry="5.7" fill="#0e060f" fill-opacity="0.48"/><ellipse cx="48.5" cy="177.3" rx="4.2" ry="5.0" fill="#0e060f" fill-opacity="0.49"/><ellipse cx="70.0" cy="167.3" rx="3.2" ry="4.8" fill="#0e060f" fill-opacity="0.35"/><ellipse cx="57.6" cy="161.2" rx="5.9" ry="4.9" fill="#0e060f" fill-opacity="0.44"/><ellipse cx="44.7" cy="159.0" rx="5.6" ry="3.4" fill="#0e060f" fill-opacity="0.49"/><ellipse cx="59.9" cy="161.5" rx="4.5" ry="4.3" fill="#0e060f" fill-opacity="0.39"/><ellipse cx="59.7" cy="170.8" rx="3.8" ry="3.5" fill="#0e060f" fill-opacity="0.39"/><ellipse cx="39.6" cy="163.2" rx="4.5" ry="5.4" fill="#0e060f" fill-opacity="0.32"/></g>
<path d="M 34.3 95.4 L 34.3 123.4 L 52 120 L 69.6 113.9 L 96 106.9 L 122.6 102.4 L 154.3 99 L 154.3 95.4 Z" fill="#080808" filter="url(#b1)"/>
<path d="M 34.3 126.9 L 52 123.5 L 69.6 117.4 L 96 110.4 L 122.6 105.9 L 154.3 102.5" fill="none" stroke="#1e5c26" stroke-width="6" stroke-opacity="0.75" filter="url(#b2)"/>
<g filter="url(#b3)"><ellipse cx="42.0" cy="130.0" rx="8.0" ry="4.0" fill="#8a7a90" fill-opacity="0.35"/><ellipse cx="60.0" cy="128.0" rx="6.0" ry="3.0" fill="#6a5a70" fill-opacity="0.30"/></g>
<g filter="url(#b15)"><path d="M38.2 146.3h0M42.1 140.8h0M52.3 167.4h0M45.6 150.9h0M118.8 118.6h0M105.4 123.2h0M36.2 152.1h0M44.7 163.1h0M97.8 134.8h0M104.3 163.5h0M109.2 138.6h0M71.9 138.9h0M152.8 143.4h0M91.6 170.2h0M129.0 174.7h0M35.5 144.0h0M50.8 142.7h0M138.7 116.7h0M100.8 125.2h0M75.5 129.4h0M34.7 131.5h0M66.1 125.5h0M53.8 123.6h0M118.2 178.2h0M58.0 168.4h0M36.1 169.8h0M113.0 154.9h0M141.7 137.5h0M71.7 122.2h0M58.9 148.9h0M147.4 102.5h0M80.7 125.0h0M43.9 145.5h0M152.3 118.7h0M121.6 171.2h0M66.8 172.8h0M124.1 149.8h0M46.5 170.8h0M98.0 113.3h0M126.2 143.7h0M147.7 156.6h0M46.4 126.8h0M103.5 172.2h0M52.8 124.4h0M64.2 138.4h0M141.6 175.8h0M53.4 143.3h0M115.2 108.2h0M98.1 112.2h0M78.0 122.7h0M132.1 115.1h0M99.1 144.7h0M73.9 173.7h0M74.2 122.9h0M117.4 136.5h0M121.3 108.3h0M52.1 157.4h0M80.9 167.6h0M137.9 125.9h0M126.6 117.8h0M101.0 165.7h0M107.6 158.8h0M151.5 120.6h0M139.4 141.8h0M126.9 142.3h0M39.6 169.4h0M105.8 132.7h0M51.2 135.0h0M144.4 144.6h0M89.4 146.6h0M100.4 147.9h0M35.8 165.4h0M104.5 137.5h0M142.5 113.4h0M94.0 119.9h0M88.9 153.3h0M72.9 151.4h0M36.7 141.4h0M143.2 174.1h0M102.9 178.2h0M62.5 120.5h0M88.1 138.2h0M132.6 133.1h0M40.1 154.3h0M61.0 169.7h0M59.7 120.3h0M106.4 117.9h0M40.1 144.8h0M122.5 104.6h0M36.3 126.9h0M68.7 169.1h0M35.9 149.8h0M122.3 130.5h0M94.4 116.2h0M50.8 156.4h0M89.2 138.5h0M130.2 105.8h0M69.8 158.7h0M70.1 175.5h0M55.3 139.8h0M98.9 137.5h0M99.8 161.9h0M40.4 141.4h0M87.2 129.5h0M98.8 148.0h0M118.7 171.0h0M113.1 179.5h0M114.1 118.1h0M116.3 153.5h0M107.7 127.6h0M90.0 117.2h0M72.8 143.6h0M56.0 167.3h0M92.0 126.6h0M105.1 119.1h0M39.7 144.2h0M70.8 166.7h0M117.3 156.1h0M141.1 163.6h0M73.8 143.3h0M115.0 116.6h0M39.9 130.9h0M58.4 153.4h0M60.9 142.3h0M55.4 136.0h0M138.4 120.9h0M97.6 132.3h0M135.4 124.1h0M116.6 130.1h0M134.9 111.8h0M92.4 141.6h0M77.8 135.4h0M99.5 153.8h0M122.3 114.3h0M87.2 120.5h0M80.8 126.0h0M68.7 167.6h0M135.2 174.1h0M109.4 171.1h0M47.2 165.1h0M34.5 157.1h0M93.5 171.9h0M94.1 115.8h0M77.6 129.8h0M34.8 135.4h0M147.7 136.6h0M59.6 177.0h0M91.1 132.2h0M79.5 169.6h0M135.6 136.5h0M106.5 170.0h0M93.7 118.7h0M98.0 137.5h0M77.2 157.3h0M54.1 179.3h0M62.5 118.4h0M49.0 128.4h0M78.9 152.8h0M141.8 116.3h0M131.4 121.4h0M141.4 126.8h0M118.0 114.5h0M88.5 152.1h0M54.8 139.8h0M134.6 109.2h0M90.4 110.9h0M51.5 136.7h0M89.1 149.6h0M137.2 154.9h0M74.7 136.3h0M115.2 166.0h0M116.2 137.7h0M50.3 168.5h0M68.1 129.5h0M140.5 112.9h0M144.0 114.7h0M44.8 138.6h0M129.7 129.3h0M135.4 128.8h0M132.1 104.9h0M123.1 134.9h0M113.0 115.5h0M122.5 179.0h0M138.6 167.1h0M138.9 114.5h0M86.0 143.9h0M65.3 130.9h0M42.5 161.2h0M34.7 178.4h0M142.0 178.5h0M144.3 172.0h0M126.3 116.7h0M136.6 164.4h0M50.6 129.8h0M85.9 125.3h0M141.4 108.3h0M113.0 122.6h0M111.9 164.6h0M133.3 166.6h0M69.4 118.6h0M48.6 161.4h0M129.1 160.1h0M151.1 127.7h0M39.7 163.4h0M68.7 160.5h0M106.1 153.0h0M101.7 140.2h0M41.9 124.8h0M100.0 116.4h0M55.8 133.0h0M83.5 118.0h0M145.5 174.8h0M39.9 135.8h0M62.8 123.7h0M140.6 163.0h0M66.6 153.6h0M148.5 105.2h0M101.5 134.6h0M71.5 119.6h0M44.7 149.9h0M58.0 131.0h0M145.7 124.7h0M72.2 173.9h0M104.3 143.4h0M61.0 149.4h0M79.8 141.2h0M139.6 153.6h0M149.3 121.2h0M71.0 122.8h0M69.6 167.6h0M87.9 164.4h0M42.6 139.0h0M107.3 146.7h0M56.9 140.8h0M88.9 166.7h0M135.8 176.9h0M73.7 160.6h0M64.2 175.2h0M42.5 134.0h0M38.9 177.9h0M110.0 143.3h0M109.4 130.6h0M140.6 155.4h0M85.9 119.3h0M145.3 117.1h0M100.5 149.8h0M43.9 177.5h0M122.7 123.8h0M139.5 115.5h0M72.0 153.7h0M137.5 169.8h0M68.9 140.1h0M83.6 152.3h0M61.6 166.1h0M119.9 110.1h0M72.0 123.7h0M145.9 133.8h0M108.3 173.8h0M81.9 175.1h0M46.6 153.7h0M80.1 165.6h0M98.3 153.1h0M76.6 144.8h0M118.1 127.1h0M93.2 166.4h0M145.8 124.9h0M42.3 166.3h0M88.0 177.0h0M125.8 126.4h0M136.3 141.5h0M119.9 169.9h0M103.9 175.2h0M82.1 127.3h0M111.1 129.5h0M119.2 140.1h0M123.4 164.9h0M102.4 172.4h0M128.0 167.6h0M110.5 123.4h0M139.1 128.4h0" stroke="#9a4aa0" stroke-opacity="0.25" stroke-width="1.2" stroke-linecap="round" fill="none"/></g>
<g filter="url(#b1)"><ellipse cx="81.9" cy="113.1" rx="0.6" ry="0.8" fill="#3fae45" fill-opacity="0.52"/><ellipse cx="39.3" cy="123.3" rx="0.8" ry="0.7" fill="#3fae45" fill-opacity="0.50"/><ellipse cx="153.1" cy="102.9" rx="0.7" ry="0.8" fill="#3fae45" fill-opacity="0.43"/><ellipse cx="35.5" cy="123.8" rx="0.7" ry="0.9" fill="#3fae45" fill-opacity="0.48"/><ellipse cx="68.3" cy="117.0" rx="0.7" ry="0.6" fill="#3fae45" fill-opacity="0.47"/><ellipse cx="75.6" cy="112.9" rx="0.8" ry="0.8" fill="#3fae45" fill-opacity="0.59"/><ellipse cx="50.7" cy="122.1" rx="0.8" ry="0.6" fill="#3fae45" fill-opacity="0.44"/><ellipse cx="109.9" cy="106.0" rx="0.5" ry="0.8" fill="#3fae45" fill-opacity="0.35"/><ellipse cx="93.2" cy="109.3" rx="0.9" ry="0.7" fill="#3fae45" fill-opacity="0.43"/><ellipse cx="151.5" cy="101.4" rx="0.8" ry="0.6" fill="#3fae45" fill-opacity="0.53"/><ellipse cx="124.5" cy="106.0" rx="0.7" ry="0.6" fill="#3fae45" fill-opacity="0.49"/><ellipse cx="143.5" cy="102.0" rx="0.5" ry="0.6" fill="#3fae45" fill-opacity="0.58"/><ellipse cx="35.0" cy="123.6" rx="0.5" ry="0.9" fill="#3fae45" fill-opacity="0.41"/><ellipse cx="117.3" cy="106.4" rx="0.7" ry="0.8" fill="#3fae45" fill-opacity="0.44"/><ellipse cx="99.3" cy="107.7" rx="0.5" ry="0.7" fill="#3fae45" fill-opacity="0.38"/><ellipse cx="67.3" cy="117.0" rx="0.6" ry="0.5" fill="#3fae45" fill-opacity="0.49"/><ellipse cx="98.9" cy="106.9" rx="0.6" ry="0.7" fill="#3fae45" fill-opacity="0.38"/><ellipse cx="152.6" cy="103.6" rx="0.7" ry="0.9" fill="#3fae45" fill-opacity="0.31"/><ellipse cx="61.2" cy="119.0" rx="0.7" ry="0.6" fill="#3fae45" fill-opacity="0.47"/><ellipse cx="121.9" cy="105.3" rx="0.5" ry="0.5" fill="#3fae45" fill-opacity="0.42"/><ellipse cx="36.3" cy="123.4" rx="0.8" ry="0.7" fill="#3fae45" fill-opacity="0.33"/><ellipse cx="139.5" cy="102.6" rx="0.9" ry="0.7" fill="#3fae45" fill-opacity="0.49"/><ellipse cx="85.2" cy="112.0" rx="0.6" ry="0.6" fill="#3fae45" fill-opacity="0.56"/><ellipse cx="58.7" cy="118.7" rx="0.8" ry="0.6" fill="#3fae45" fill-opacity="0.41"/><ellipse cx="143.4" cy="101.5" rx="0.6" ry="0.9" fill="#3fae45" fill-opacity="0.38"/><ellipse cx="74.0" cy="115.3" rx="0.6" ry="0.9" fill="#3fae45" fill-opacity="0.55"/><ellipse cx="135.9" cy="102.3" rx="0.6" ry="0.8" fill="#3fae45" fill-opacity="0.55"/><ellipse cx="61.2" cy="117.5" rx="0.6" ry="0.6" fill="#3fae45" fill-opacity="0.43"/><ellipse cx="94.6" cy="109.6" rx="0.5" ry="0.6" fill="#3fae45" fill-opacity="0.34"/><ellipse cx="66.7" cy="115.6" rx="0.9" ry="0.6" fill="#3fae45" fill-opacity="0.34"/><ellipse cx="114.3" cy="107.9" rx="0.8" ry="0.8" fill="#3fae45" fill-opacity="0.41"/><ellipse cx="82.7" cy="111.6" rx="0.8" ry="0.8" fill="#3fae45" fill-opacity="0.45"/><ellipse cx="137.7" cy="104.1" rx="0.8" ry="0.6" fill="#3fae45" fill-opacity="0.37"/><ellipse cx="61.6" cy="118.9" rx="0.8" ry="0.9" fill="#3fae45" fill-opacity="0.55"/><ellipse cx="130.9" cy="103.7" rx="0.8" ry="0.6" fill="#3fae45" fill-opacity="0.50"/><ellipse cx="39.4" cy="124.0" rx="0.9" ry="0.6" fill="#3fae45" fill-opacity="0.53"/><ellipse cx="133.1" cy="101.8" rx="0.7" ry="0.7" fill="#3fae45" fill-opacity="0.49"/><ellipse cx="140.7" cy="104.2" rx="0.6" ry="0.7" fill="#3fae45" fill-opacity="0.47"/><ellipse cx="35.7" cy="123.6" rx="0.6" ry="0.6" fill="#3fae45" fill-opacity="0.37"/><ellipse cx="115.4" cy="107.7" rx="0.7" ry="0.8" fill="#3fae45" fill-opacity="0.53"/><ellipse cx="115.1" cy="106.5" rx="0.5" ry="0.8" fill="#3fae45" fill-opacity="0.35"/><ellipse cx="56.0" cy="119.9" rx="0.7" ry="0.8" fill="#3fae45" fill-opacity="0.39"/><ellipse cx="147.7" cy="103.1" rx="0.8" ry="0.7" fill="#3fae45" fill-opacity="0.32"/><ellipse cx="35.8" cy="124.2" rx="0.7" ry="0.7" fill="#3fae45" fill-opacity="0.40"/><ellipse cx="55.7" cy="119.9" rx="0.6" ry="0.9" fill="#3fae45" fill-opacity="0.35"/><ellipse cx="150.4" cy="104.1" rx="0.7" ry="0.8" fill="#3fae45" fill-opacity="0.47"/><ellipse cx="90.2" cy="111.2" rx="0.8" ry="0.6" fill="#3fae45" fill-opacity="0.57"/><ellipse cx="38.1" cy="123.0" rx="0.7" ry="0.6" fill="#3fae45" fill-opacity="0.43"/><ellipse cx="91.8" cy="109.8" rx="0.9" ry="0.9" fill="#3fae45" fill-opacity="0.40"/><ellipse cx="68.8" cy="116.0" rx="0.6" ry="0.7" fill="#3fae45" fill-opacity="0.52"/><ellipse cx="35.0" cy="124.5" rx="0.8" ry="0.7" fill="#3fae45" fill-opacity="0.37"/><ellipse cx="99.1" cy="107.7" rx="0.8" ry="0.7" fill="#3fae45" fill-opacity="0.39"/><ellipse cx="131.2" cy="104.5" rx="0.6" ry="0.7" fill="#3fae45" fill-opacity="0.45"/><ellipse cx="147.7" cy="101.6" rx="0.7" ry="0.9" fill="#3fae45" fill-opacity="0.43"/><ellipse cx="133.6" cy="102.0" rx="0.7" ry="0.6" fill="#3fae45" fill-opacity="0.57"/><ellipse cx="100.6" cy="107.2" rx="0.5" ry="0.7" fill="#3fae45" fill-opacity="0.33"/><ellipse cx="92.5" cy="110.4" rx="0.6" ry="0.6" fill="#3fae45" fill-opacity="0.41"/><ellipse cx="54.2" cy="121.1" rx="0.5" ry="0.8" fill="#3fae45" fill-opacity="0.40"/><ellipse cx="121.7" cy="106.0" rx="0.6" ry="0.8" fill="#3fae45" fill-opacity="0.58"/><ellipse cx="102.3" cy="108.4" rx="0.6" ry="0.6" fill="#3fae45" fill-opacity="0.52"/><ellipse cx="132.8" cy="102.5" rx="0.5" ry="0.6" fill="#3fae45" fill-opacity="0.49"/><ellipse cx="78.1" cy="114.5" rx="0.8" ry="0.9" fill="#3fae45" fill-opacity="0.48"/><ellipse cx="125.0" cy="106.5" rx="0.5" ry="0.7" fill="#3fae45" fill-opacity="0.36"/><ellipse cx="129.7" cy="103.0" rx="0.8" ry="0.6" fill="#3fae45" fill-opacity="0.50"/><ellipse cx="115.8" cy="107.4" rx="0.8" ry="0.7" fill="#3fae45" fill-opacity="0.51"/><ellipse cx="56.2" cy="119.0" rx="0.8" ry="0.9" fill="#3fae45" fill-opacity="0.52"/><ellipse cx="96.3" cy="109.2" rx="0.8" ry="0.7" fill="#3fae45" fill-opacity="0.41"/><ellipse cx="136.4" cy="102.9" rx="0.9" ry="0.8" fill="#3fae45" fill-opacity="0.54"/><ellipse cx="134.3" cy="105.9" rx="0.9" ry="0.7" fill="#3fae45" fill-opacity="0.41"/><ellipse cx="122.3" cy="106.8" rx="0.8" ry="0.5" fill="#3fae45" fill-opacity="0.31"/><ellipse cx="90.0" cy="111.2" rx="0.9" ry="0.7" fill="#3fae45" fill-opacity="0.46"/><ellipse cx="95.9" cy="107.5" rx="0.5" ry="0.7" fill="#3fae45" fill-opacity="0.45"/><ellipse cx="137.9" cy="101.9" rx="0.8" ry="0.6" fill="#3fae45" fill-opacity="0.46"/><ellipse cx="119.1" cy="103.9" rx="0.9" ry="0.9" fill="#3fae45" fill-opacity="0.59"/><ellipse cx="34.6" cy="124.4" rx="0.8" ry="0.9" fill="#3fae45" fill-opacity="0.36"/><ellipse cx="49.2" cy="122.2" rx="0.6" ry="0.5" fill="#3fae45" fill-opacity="0.33"/><ellipse cx="111.7" cy="106.6" rx="0.8" ry="0.8" fill="#3fae45" fill-opacity="0.30"/><ellipse cx="146.3" cy="104.5" rx="0.9" ry="0.8" fill="#3fae45" fill-opacity="0.42"/><ellipse cx="64.1" cy="118.1" rx="0.7" ry="0.7" fill="#3fae45" fill-opacity="0.51"/><ellipse cx="116.9" cy="106.4" rx="0.7" ry="0.7" fill="#3fae45" fill-opacity="0.53"/><ellipse cx="81.8" cy="111.7" rx="0.9" ry="0.8" fill="#3fae45" fill-opacity="0.52"/><ellipse cx="54.5" cy="119.5" rx="0.9" ry="0.9" fill="#3fae45" fill-opacity="0.38"/><ellipse cx="109.8" cy="104.9" rx="0.7" ry="0.8" fill="#3fae45" fill-opacity="0.41"/><ellipse cx="131.2" cy="105.8" rx="0.6" ry="0.8" fill="#3fae45" fill-opacity="0.41"/><ellipse cx="55.2" cy="119.8" rx="0.7" ry="0.9" fill="#3fae45" fill-opacity="0.53"/><ellipse cx="34.9" cy="123.6" rx="0.9" ry="0.7" fill="#3fae45" fill-opacity="0.48"/><ellipse cx="76.6" cy="114.5" rx="0.7" ry="0.7" fill="#3fae45" fill-opacity="0.37"/><ellipse cx="127.5" cy="103.1" rx="0.6" ry="0.7" fill="#3fae45" fill-opacity="0.55"/><ellipse cx="69.5" cy="115.0" rx="0.6" ry="0.7" fill="#3fae45" fill-opacity="0.53"/><ellipse cx="49.4" cy="121.7" rx="0.7" ry="0.5" fill="#3fae45" fill-opacity="0.46"/><ellipse cx="66.9" cy="115.6" rx="0.9" ry="0.5" fill="#3fae45" fill-opacity="0.40"/><ellipse cx="108.5" cy="106.6" rx="0.5" ry="0.8" fill="#3fae45" fill-opacity="0.37"/><ellipse cx="83.7" cy="113.0" rx="0.9" ry="0.9" fill="#3fae45" fill-opacity="0.42"/><ellipse cx="123.6" cy="106.1" rx="0.6" ry="0.9" fill="#3fae45" fill-opacity="0.33"/><ellipse cx="113.2" cy="105.2" rx="0.6" ry="0.6" fill="#3fae45" fill-opacity="0.58"/><ellipse cx="49.7" cy="122.3" rx="0.6" ry="0.6" fill="#3fae45" fill-opacity="0.36"/><ellipse cx="152.9" cy="99.9" rx="0.8" ry="0.6" fill="#3fae45" fill-opacity="0.59"/><ellipse cx="124.3" cy="103.6" rx="0.7" ry="0.6" fill="#3fae45" fill-opacity="0.42"/><ellipse cx="37.5" cy="124.0" rx="0.7" ry="0.6" fill="#3fae45" fill-opacity="0.30"/><ellipse cx="147.0" cy="100.7" rx="0.6" ry="0.5" fill="#3fae45" fill-opacity="0.41"/><ellipse cx="82.5" cy="112.3" rx="0.6" ry="0.6" fill="#3fae45" fill-opacity="0.54"/><ellipse cx="67.8" cy="115.6" rx="0.7" ry="0.6" fill="#3fae45" fill-opacity="0.52"/><ellipse cx="44.4" cy="122.3" rx="0.7" ry="0.6" fill="#3fae45" fill-opacity="0.55"/><ellipse cx="76.8" cy="113.4" rx="0.7" ry="0.8" fill="#3fae45" fill-opacity="0.37"/><ellipse cx="133.8" cy="105.8" rx="0.6" ry="0.6" fill="#3fae45" fill-opacity="0.54"/><ellipse cx="71.8" cy="114.2" rx="0.5" ry="0.7" fill="#3fae45" fill-opacity="0.58"/><ellipse cx="140.1" cy="103.6" rx="0.7" ry="0.9" fill="#3fae45" fill-opacity="0.50"/><ellipse cx="149.0" cy="103.3" rx="0.8" ry="0.8" fill="#3fae45" fill-opacity="0.34"/><ellipse cx="64.6" cy="116.1" rx="0.9" ry="0.9" fill="#3fae45" fill-opacity="0.48"/><ellipse cx="53.0" cy="120.2" rx="0.7" ry="0.7" fill="#3fae45" fill-opacity="0.36"/><ellipse cx="45.0" cy="122.7" rx="0.8" ry="0.5" fill="#3fae45" fill-opacity="0.39"/><ellipse cx="70.4" cy="115.3" rx="0.7" ry="0.7" fill="#3fae45" fill-opacity="0.56"/><ellipse cx="81.2" cy="112.0" rx="0.8" ry="0.8" fill="#3fae45" fill-opacity="0.56"/><ellipse cx="54.6" cy="119.8" rx="0.7" ry="0.9" fill="#3fae45" fill-opacity="0.49"/><ellipse cx="109.1" cy="106.2" rx="0.9" ry="0.6" fill="#3fae45" fill-opacity="0.47"/><ellipse cx="115.3" cy="107.1" rx="0.8" ry="0.7" fill="#3fae45" fill-opacity="0.38"/><ellipse cx="151.9" cy="102.4" rx="0.6" ry="0.6" fill="#3fae45" fill-opacity="0.54"/><ellipse cx="136.1" cy="103.9" rx="0.7" ry="0.8" fill="#3fae45" fill-opacity="0.59"/><ellipse cx="103.7" cy="108.7" rx="0.9" ry="0.8" fill="#3fae45" fill-opacity="0.45"/><ellipse cx="55.7" cy="120.4" rx="0.8" ry="0.9" fill="#3fae45" fill-opacity="0.35"/><ellipse cx="52.6" cy="133.9" rx="1.4" ry="1.4" fill="#cc5ccc" fill-opacity="0.81"/><ellipse cx="75.5" cy="127.7" rx="1.7" ry="1.2" fill="#cc5ccc" fill-opacity="0.85" transform="rotate(65 75.5 127.7)"/><ellipse cx="100.3" cy="125.9" rx="1.3" ry="1.4" fill="#cc5ccc" fill-opacity="0.68"/><ellipse cx="116.2" cy="126.8" rx="1.4" ry="1.2" fill="#cc5ccc" fill-opacity="0.63"/><ellipse cx="125.9" cy="119.7" rx="1.6" ry="1.2" fill="#cc5ccc" fill-opacity="0.77" transform="rotate(162 125.9 119.7)"/><ellipse cx="138.2" cy="120.6" rx="1.6" ry="1.1" fill="#cc5ccc" fill-opacity="0.84" transform="rotate(36 138.2 120.6)"/><ellipse cx="121.5" cy="132.1" rx="1.5" ry="1.3" fill="#cc5ccc" fill-opacity="0.75" transform="rotate(62 121.5 132.1)"/><ellipse cx="130.3" cy="131.2" rx="1.6" ry="1.4" fill="#cc5ccc" fill-opacity="0.71" transform="rotate(51 130.3 131.2)"/><ellipse cx="140.9" cy="136.5" rx="1.5" ry="1.3" fill="#cc5ccc" fill-opacity="0.67" transform="rotate(108 140.9 136.5)"/><ellipse cx="61.4" cy="146.2" rx="1.6" ry="1.3" fill="#cc5ccc" fill-opacity="0.78" transform="rotate(146 61.4 146.2)"/><ellipse cx="86.1" cy="148.9" rx="1.7" ry="1.2" fill="#cc5ccc" fill-opacity="0.83" transform="rotate(19 86.1 148.9)"/><ellipse cx="106.4" cy="142.7" rx="1.8" ry="1.3" fill="#cc5ccc" fill-opacity="0.70" transform="rotate(152 106.4 142.7)"/><ellipse cx="105.6" cy="153.3" rx="1.7" ry="1.5" fill="#cc5ccc" fill-opacity="0.82" transform="rotate(21 105.6 153.3)"/><ellipse cx="124.1" cy="153.3" rx="1.6" ry="1.4" fill="#cc5ccc" fill-opacity="0.62" transform="rotate(98 124.1 153.3)"/><ellipse cx="132.9" cy="146.2" rx="1.9" ry="1.2" fill="#cc5ccc" fill-opacity="0.63" transform="rotate(52 132.9 146.2)"/><ellipse cx="149.7" cy="153.3" rx="1.5" ry="1.2" fill="#cc5ccc" fill-opacity="0.71" transform="rotate(150 149.7 153.3)"/><ellipse cx="55.2" cy="163.0" rx="1.6" ry="1.3" fill="#cc5ccc" fill-opacity="0.63" transform="rotate(12 55.2 163.0)"/><ellipse cx="72.9" cy="141.8" rx="1.9" ry="1.2" fill="#cc5ccc" fill-opacity="0.84" transform="rotate(60 72.9 141.8)"/><ellipse cx="147.1" cy="165.7" rx="1.7" ry="1.4" fill="#cc5ccc" fill-opacity="0.62" transform="rotate(13 147.1 165.7)"/><ellipse cx="92.0" cy="165.0" rx="1.6" ry="1.2" fill="#cc5ccc" fill-opacity="0.67" transform="rotate(35 92.0 165.0)"/><ellipse cx="70.0" cy="172.0" rx="1.5" ry="1.3" fill="#cc5ccc" fill-opacity="0.68" transform="rotate(60 70.0 172.0)"/><ellipse cx="116.0" cy="172.0" rx="1.6" ry="1.4" fill="#cc5ccc" fill-opacity="0.61" transform="rotate(180 116.0 172.0)"/><ellipse cx="86.0" cy="175.0" rx="0.4" ry="2.2" fill="#5e2a6c" fill-opacity="0.45" transform="rotate(-24 86.0 175.0)"/><ellipse cx="143.8" cy="144.8" rx="0.7" ry="4.1" fill="#5e2a6c" fill-opacity="0.45" transform="rotate(-25 143.8 144.8)"/><ellipse cx="77.7" cy="140.0" rx="0.6" ry="4.3" fill="#5e2a6c" fill-opacity="0.45" transform="rotate(-25 77.7 140.0)"/><ellipse cx="145.5" cy="148.6" rx="0.5" ry="4.1" fill="#5e2a6c" fill-opacity="0.45" transform="rotate(-13 145.5 148.6)"/><ellipse cx="119.8" cy="145.0" rx="0.6" ry="2.6" fill="#5e2a6c" fill-opacity="0.45" transform="rotate(-18 119.8 145.0)"/><ellipse cx="137.7" cy="154.5" rx="0.6" ry="4.3" fill="#5e2a6c" fill-opacity="0.45" transform="rotate(25 137.7 154.5)"/><ellipse cx="53.4" cy="179.5" rx="0.4" ry="3.8" fill="#5e2a6c" fill-opacity="0.45" transform="rotate(-14 53.4 179.5)"/><ellipse cx="64.6" cy="149.7" rx="0.6" ry="3.3" fill="#5e2a6c" fill-opacity="0.45" transform="rotate(13 64.6 149.7)"/><ellipse cx="148.3" cy="130.4" rx="0.5" ry="3.8" fill="#5e2a6c" fill-opacity="0.45" transform="rotate(-5 148.3 130.4)"/><ellipse cx="72.1" cy="150.3" rx="0.7" ry="4.7" fill="#5e2a6c" fill-opacity="0.45" transform="rotate(26 72.1 150.3)"/><ellipse cx="132.6" cy="140.9" rx="0.8" ry="4.1" fill="#5e2a6c" fill-opacity="0.45" transform="rotate(-20 132.6 140.9)"/><ellipse cx="148.7" cy="135.0" rx="0.7" ry="4.1" fill="#5e2a6c" fill-opacity="0.45" transform="rotate(24 148.7 135.0)"/><ellipse cx="114.3" cy="178.6" rx="0.4" ry="2.1" fill="#5e2a6c" fill-opacity="0.45" transform="rotate(-18 114.3 178.6)"/><ellipse cx="103.3" cy="145.5" rx="0.4" ry="2.6" fill="#5e2a6c" fill-opacity="0.45" transform="rotate(5 103.3 145.5)"/><ellipse cx="82.6" cy="165.6" rx="0.6" ry="4.6" fill="#5e2a6c" fill-opacity="0.45" transform="rotate(16 82.6 165.6)"/><ellipse cx="93.6" cy="141.6" rx="0.5" ry="2.9" fill="#5e2a6c" fill-opacity="0.45" transform="rotate(-9 93.6 141.6)"/><ellipse cx="77.6" cy="131.0" rx="0.6" ry="2.3" fill="#5e2a6c" fill-opacity="0.45" transform="rotate(22 77.6 131.0)"/><ellipse cx="100.3" cy="126.0" rx="0.5" ry="2.8" fill="#5e2a6c" fill-opacity="0.45" transform="rotate(-21 100.3 126.0)"/><ellipse cx="92.0" cy="131.2" rx="0.5" ry="4.1" fill="#5e2a6c" fill-opacity="0.45" transform="rotate(-4 92.0 131.2)"/><ellipse cx="114.9" cy="148.2" rx="0.6" ry="2.9" fill="#5e2a6c" fill-opacity="0.45" transform="rotate(-4 114.9 148.2)"/><ellipse cx="92.0" cy="140.7" rx="0.7" ry="2.7" fill="#5e2a6c" fill-opacity="0.45" transform="rotate(-17 92.0 140.7)"/><ellipse cx="75.6" cy="166.9" rx="0.7" ry="3.7" fill="#5e2a6c" fill-opacity="0.45" transform="rotate(-8 75.6 166.9)"/><ellipse cx="112.2" cy="169.3" rx="0.5" ry="4.0" fill="#5e2a6c" fill-opacity="0.45" transform="rotate(13 112.2 169.3)"/><ellipse cx="81.1" cy="129.0" rx="0.6" ry="2.6" fill="#5e2a6c" fill-opacity="0.45" transform="rotate(-8 81.1 129.0)"/><ellipse cx="99.6" cy="177.4" rx="0.5" ry="2.2" fill="#5e2a6c" fill-opacity="0.45" transform="rotate(2 99.6 177.4)"/><ellipse cx="147.5" cy="123.1" rx="0.7" ry="2.1" fill="#5e2a6c" fill-opacity="0.45" transform="rotate(3 147.5 123.1)"/><ellipse cx="48.6" cy="159.4" rx="0.5" ry="4.0" fill="#5e2a6c" fill-opacity="0.45" transform="rotate(-15 48.6 159.4)"/><ellipse cx="43.3" cy="131.2" rx="0.5" ry="2.5" fill="#5e2a6c" fill-opacity="0.45" transform="rotate(-18 43.3 131.2)"/><ellipse cx="99.6" cy="146.3" rx="0.7" ry="3.5" fill="#5e2a6c" fill-opacity="0.45" transform="rotate(2 99.6 146.3)"/><ellipse cx="119.5" cy="170.9" rx="0.6" ry="2.1" fill="#5e2a6c" fill-opacity="0.45" transform="rotate(-2 119.5 170.9)"/><ellipse cx="52.6" cy="133.9" rx="1.3" ry="1.9" fill="#f0c8f0" fill-opacity="0.80"/></g>
</g>
<g clip-path="url(#clip3)">
<rect x="34.30" y="191.00" width="120.00" height="84.10" fill="#161017" />
<g filter="url(#b3)"><ellipse cx="123.6" cy="211.7" rx="4.9" ry="5.7" fill="#301c34" fill-opacity="0.52"/><ellipse cx="78.3" cy="231.5" rx="4.6" ry="4.0" fill="#301c34" fill-opacity="0.42"/><ellipse cx="150.0" cy="265.0" rx="3.9" ry="5.1" fill="#301c34" fill-opacity="0.54"/><ellipse cx="77.8" cy="262.4" rx="5.4" ry="5.7" fill="#301c34" fill-opacity="0.32"/><ellipse cx="145.1" cy="273.5" rx="3.7" ry="4.9" fill="#301c34" fill-opacity="0.32"/><ellipse cx="106.6" cy="250.6" rx="5.2" ry="5.6" fill="#301c34" fill-opacity="0.37"/><ellipse cx="48.2" cy="259.7" rx="3.1" ry="3.7" fill="#301c34" fill-opacity="0.36"/><ellipse cx="127.3" cy="228.2" rx="5.5" ry="5.0" fill="#301c34" fill-opacity="0.51"/><ellipse cx="128.6" cy="265.0" rx="3.8" ry="4.1" fill="#301c34" fill-opacity="0.46"/><ellipse cx="104.2" cy="256.4" rx="5.4" ry="3.9" fill="#301c34" fill-opacity="0.33"/><ellipse cx="123.3" cy="248.8" rx="3.8" ry="3.2" fill="#301c34" fill-opacity="0.31"/><ellipse cx="64.1" cy="214.0" rx="3.6" ry="3.2" fill="#301c34" fill-opacity="0.34"/><ellipse cx="76.3" cy="198.8" rx="3.6" ry="4.3" fill="#301c34" fill-opacity="0.51"/><ellipse cx="138.9" cy="225.1" rx="3.4" ry="3.8" fill="#301c34" fill-opacity="0.47"/><ellipse cx="83.2" cy="239.0" rx="5.2" ry="5.0" fill="#301c34" fill-opacity="0.51"/><ellipse cx="44.6" cy="216.0" rx="3.1" ry="4.6" fill="#301c34" fill-opacity="0.45"/><ellipse cx="64.8" cy="195.7" rx="4.4" ry="3.5" fill="#301c34" fill-opacity="0.35"/><ellipse cx="80.1" cy="270.5" rx="4.1" ry="5.1" fill="#301c34" fill-opacity="0.39"/><ellipse cx="82.9" cy="202.8" rx="3.6" ry="5.3" fill="#301c34" fill-opacity="0.41"/><ellipse cx="68.5" cy="274.0" rx="5.6" ry="3.8" fill="#301c34" fill-opacity="0.41"/><ellipse cx="102.3" cy="205.0" rx="4.3" ry="3.9" fill="#301c34" fill-opacity="0.50"/><ellipse cx="45.6" cy="274.4" rx="3.7" ry="4.0" fill="#301c34" fill-opacity="0.32"/><ellipse cx="143.8" cy="260.6" rx="3.2" ry="4.6" fill="#301c34" fill-opacity="0.40"/><ellipse cx="107.0" cy="219.2" rx="5.9" ry="3.7" fill="#301c34" fill-opacity="0.51"/><ellipse cx="66.4" cy="245.6" rx="4.3" ry="4.6" fill="#301c34" fill-opacity="0.43"/><ellipse cx="109.4" cy="196.7" rx="3.2" ry="5.9" fill="#301c34" fill-opacity="0.36"/><ellipse cx="77.1" cy="211.2" rx="4.9" ry="6.0" fill="#301c34" fill-opacity="0.40"/><ellipse cx="72.9" cy="220.4" rx="3.1" ry="3.3" fill="#301c34" fill-opacity="0.31"/><ellipse cx="73.2" cy="273.8" rx="3.4" ry="4.6" fill="#301c34" fill-opacity="0.35"/><ellipse cx="38.7" cy="261.4" rx="3.4" ry="3.4" fill="#301c34" fill-opacity="0.50"/><ellipse cx="63.5" cy="207.7" rx="5.8" ry="3.6" fill="#301c34" fill-opacity="0.51"/><ellipse cx="71.1" cy="238.6" rx="3.9" ry="4.0" fill="#301c34" fill-opacity="0.53"/><ellipse cx="143.2" cy="205.7" rx="5.2" ry="3.4" fill="#301c34" fill-opacity="0.37"/><ellipse cx="42.8" cy="245.5" rx="5.2" ry="5.2" fill="#301c34" fill-opacity="0.49"/><ellipse cx="81.7" cy="205.9" rx="3.0" ry="4.3" fill="#301c34" fill-opacity="0.53"/><ellipse cx="88.2" cy="242.8" rx="5.8" ry="5.6" fill="#301c34" fill-opacity="0.48"/><ellipse cx="105.4" cy="210.5" rx="5.2" ry="4.3" fill="#301c34" fill-opacity="0.48"/><ellipse cx="61.1" cy="270.1" rx="3.5" ry="5.4" fill="#301c34" fill-opacity="0.52"/><ellipse cx="52.5" cy="263.8" rx="4.9" ry="4.8" fill="#301c34" fill-opacity="0.36"/><ellipse cx="73.7" cy="210.8" rx="4.3" ry="4.9" fill="#301c34" fill-opacity="0.48"/><ellipse cx="119.0" cy="220.2" rx="4.0" ry="5.3" fill="#301c34" fill-opacity="0.54"/><ellipse cx="60.9" cy="225.7" rx="3.8" ry="5.9" fill="#301c34" fill-opacity="0.30"/><ellipse cx="141.4" cy="255.5" rx="4.0" ry="5.0" fill="#301c34" fill-opacity="0.39"/><ellipse cx="110.7" cy="226.8" rx="5.7" ry="4.4" fill="#301c34" fill-opacity="0.50"/><ellipse cx="103.5" cy="222.3" rx="5.9" ry="3.6" fill="#301c34" fill-opacity="0.53"/><ellipse cx="152.1" cy="262.4" rx="4.8" ry="4.9" fill="#301c34" fill-opacity="0.53"/><ellipse cx="86.3" cy="260.3" rx="5.3" ry="5.6" fill="#301c34" fill-opacity="0.41"/><ellipse cx="112.6" cy="198.8" rx="3.2" ry="3.3" fill="#301c34" fill-opacity="0.48"/><ellipse cx="76.9" cy="267.4" rx="3.2" ry="3.5" fill="#301c34" fill-opacity="0.51"/><ellipse cx="84.5" cy="209.5" rx="5.3" ry="3.7" fill="#301c34" fill-opacity="0.54"/><ellipse cx="67.3" cy="263.2" rx="4.4" ry="5.8" fill="#301c34" fill-opacity="0.37"/><ellipse cx="145.3" cy="216.5" rx="4.3" ry="4.9" fill="#301c34" fill-opacity="0.44"/><ellipse cx="114.8" cy="249.5" rx="3.8" ry="3.0" fill="#301c34" fill-opacity="0.48"/><ellipse cx="106.3" cy="238.4" rx="4.5" ry="5.8" fill="#301c34" fill-opacity="0.37"/><ellipse cx="143.7" cy="205.1" rx="5.1" ry="5.8" fill="#301c34" fill-opacity="0.34"/><ellipse cx="126.7" cy="214.0" rx="3.2" ry="4.3" fill="#301c34" fill-opacity="0.47"/><ellipse cx="68.3" cy="270.9" rx="3.0" ry="3.8" fill="#301c34" fill-opacity="0.39"/><ellipse cx="78.8" cy="216.2" rx="3.1" ry="3.6" fill="#301c34" fill-opacity="0.37"/><ellipse cx="115.0" cy="222.7" rx="5.2" ry="4.3" fill="#301c34" fill-opacity="0.39"/><ellipse cx="53.4" cy="210.2" rx="5.7" ry="4.4" fill="#301c34" fill-opacity="0.38"/><ellipse cx="60.5" cy="264.7" rx="5.1" ry="5.1" fill="#301c34" fill-opacity="0.50"/><ellipse cx="63.3" cy="252.5" rx="3.2" ry="5.0" fill="#301c34" fill-opacity="0.38"/><ellipse cx="113.7" cy="210.1" rx="4.1" ry="5.0" fill="#301c34" fill-opacity="0.53"/><ellipse cx="75.2" cy="205.2" rx="3.4" ry="5.0" fill="#301c34" fill-opacity="0.52"/><ellipse cx="36.3" cy="220.0" rx="3.5" ry="5.9" fill="#301c34" fill-opacity="0.33"/><ellipse cx="42.5" cy="255.6" rx="6.0" ry="5.3" fill="#301c34" fill-opacity="0.33"/><ellipse cx="83.2" cy="234.7" rx="5.7" ry="5.3" fill="#301c34" fill-opacity="0.32"/><ellipse cx="88.7" cy="256.5" rx="4.6" ry="5.0" fill="#301c34" fill-opacity="0.54"/><ellipse cx="151.7" cy="261.4" rx="4.7" ry="3.9" fill="#301c34" fill-opacity="0.34"/><ellipse cx="54.4" cy="244.9" rx="5.3" ry="5.6" fill="#301c34" fill-opacity="0.53"/><ellipse cx="62.0" cy="262.0" rx="5.0" ry="5.0" fill="#1e3a20" fill-opacity="0.50"/><ellipse cx="72.0" cy="268.0" rx="5.0" ry="5.0" fill="#1e3a20" fill-opacity="0.50"/><ellipse cx="55.0" cy="255.0" rx="5.0" ry="5.0" fill="#1e3a20" fill-opacity="0.50"/><ellipse cx="140.0" cy="215.0" rx="5.0" ry="5.0" fill="#1e3a20" fill-opacity="0.50"/><ellipse cx="120.0" cy="240.0" rx="5.0" ry="5.0" fill="#1e3a20" fill-opacity="0.50"/></g>
<g filter="url(#b2)"><ellipse cx="153.0" cy="252.0" rx="2.0" ry="16.0" fill="#3ec83e" fill-opacity="0.85"/></g>
<g filter="url(#b15)"><path d="M83.5 193.2h0M139.8 225.4h0M45.3 215.3h0M64.9 194.7h0M74.0 205.2h0M59.9 247.7h0M53.3 192.8h0M55.7 215.8h0M54.1 241.2h0M139.9 260.9h0M90.8 257.1h0M129.2 244.4h0M130.6 222.8h0M124.0 235.0h0M122.9 253.2h0M42.2 261.1h0M38.6 226.9h0M105.2 260.3h0M41.2 247.5h0M75.7 194.4h0M74.2 244.9h0M44.2 262.3h0M39.5 211.1h0M73.9 196.4h0M145.4 272.3h0M142.9 207.7h0M134.3 219.4h0M69.0 249.0h0M44.5 191.5h0M146.0 220.8h0M129.7 226.8h0M45.4 230.9h0M54.8 197.8h0M36.6 224.7h0M65.3 219.3h0M149.7 260.7h0M119.0 211.5h0M124.3 249.7h0M97.7 211.1h0M59.2 226.3h0M67.5 265.4h0M90.2 248.0h0M142.0 243.2h0M53.6 217.9h0M145.0 194.9h0M60.9 243.0h0M136.8 260.0h0M122.0 250.1h0M79.1 196.2h0M110.6 197.1h0M130.1 202.0h0M37.2 275.0h0M54.4 239.9h0M41.7 273.5h0M36.3 248.9h0M135.5 215.9h0M35.2 194.1h0M41.6 254.4h0M97.7 266.4h0M110.2 241.0h0M58.5 209.8h0M151.7 271.1h0M86.8 257.9h0M120.7 214.4h0M58.3 254.0h0M149.8 273.7h0M77.2 196.5h0M72.6 196.9h0M152.8 216.8h0M136.0 211.7h0M149.5 232.1h0M134.4 241.4h0M126.2 197.1h0M44.8 221.0h0M139.6 267.5h0M119.6 241.4h0M40.2 269.0h0M113.5 242.8h0M135.3 210.9h0M108.7 248.4h0M125.0 199.0h0M121.7 266.9h0M109.7 205.3h0M144.5 199.6h0M61.9 262.9h0M105.0 219.2h0M130.7 245.4h0M48.5 210.5h0M131.6 259.2h0M43.2 234.9h0M119.9 218.4h0M41.8 226.1h0M146.5 252.4h0M59.9 262.0h0M114.4 215.4h0M66.5 205.9h0M82.9 221.3h0M68.5 264.5h0M125.6 232.4h0M149.8 247.7h0M148.5 260.4h0M110.4 249.3h0M127.3 254.7h0M139.1 219.6h0M77.9 211.8h0M144.9 267.0h0M87.3 224.7h0M50.2 273.0h0M114.9 272.0h0M110.2 234.2h0M124.2 265.6h0M135.7 220.1h0M95.1 270.5h0M95.1 258.5h0M97.3 261.0h0M42.5 191.1h0M45.2 227.7h0M78.4 271.7h0M153.9 202.3h0M134.4 233.8h0M135.3 222.0h0M127.0 191.4h0M90.4 219.0h0M64.5 216.3h0M84.6 232.7h0M97.3 252.8h0M133.5 271.9h0M114.6 212.6h0M103.8 227.9h0M62.5 219.0h0M61.8 236.3h0M42.2 236.7h0M83.7 191.6h0M67.4 272.7h0M103.8 196.4h0M103.6 250.2h0M50.5 224.9h0M60.0 236.6h0M133.0 211.2h0M51.0 202.7h0M108.0 196.8h0M97.5 259.1h0M126.3 247.4h0M35.6 227.3h0M63.5 234.3h0M52.5 202.4h0M148.5 265.1h0M46.0 260.6h0M42.2 219.5h0M153.6 270.1h0M90.4 250.0h0M80.2 262.4h0M72.2 208.3h0M51.6 244.0h0M101.2 266.9h0M51.9 258.7h0M147.6 253.8h0M48.1 203.9h0M44.8 219.1h0M125.4 203.2h0M88.2 194.7h0M115.7 199.3h0M129.5 242.5h0M57.2 249.7h0M76.2 235.0h0M101.1 213.8h0M84.3 257.1h0M138.0 262.4h0M102.5 264.4h0M51.1 273.7h0M39.7 266.6h0M129.3 223.8h0M129.1 271.5h0M54.0 245.6h0M34.8 246.9h0M41.7 247.2h0M37.5 224.9h0M138.3 216.8h0M150.6 230.6h0M56.1 269.7h0M53.0 241.0h0M147.4 270.1h0M101.0 208.8h0M94.4 215.6h0M72.0 217.7h0M58.5 194.3h0M124.4 192.1h0M103.1 221.9h0M112.3 239.8h0M91.8 256.4h0M102.9 266.6h0M104.5 264.7h0M138.0 250.4h0M73.8 231.9h0M43.8 252.0h0M111.8 259.8h0M44.4 201.8h0M111.8 252.6h0M43.1 193.6h0M73.3 219.5h0M40.5 199.2h0M58.8 192.2h0M52.0 193.2h0M78.7 254.0h0M113.7 241.8h0M90.4 206.8h0M40.1 206.6h0M148.0 259.5h0M102.7 242.6h0M123.7 260.1h0M63.3 258.5h0M112.1 214.4h0M68.8 205.4h0M100.0 272.5h0M129.1 205.0h0M48.7 214.7h0M54.0 203.0h0M122.1 217.5h0M102.2 217.5h0M152.5 240.8h0M51.1 256.4h0M69.1 229.3h0M68.8 232.2h0M71.2 218.0h0M53.2 271.7h0M59.2 214.8h0M83.5 200.9h0M61.8 225.3h0M104.4 236.1h0M78.5 247.9h0M123.8 213.3h0M63.1 243.6h0M83.7 260.8h0M35.5 236.5h0M76.1 208.9h0M138.5 209.2h0M128.9 262.8h0M150.4 200.8h0M53.0 198.1h0M72.8 267.3h0M111.5 204.0h0M47.0 254.0h0M109.1 191.2h0M104.8 207.0h0M69.5 199.5h0M153.3 229.4h0M108.3 208.2h0M79.3 245.4h0M123.9 267.3h0M64.0 211.2h0" stroke="#8a4a8e" stroke-opacity="0.25" stroke-width="1.2" stroke-linecap="round" fill="none"/><path d="M58.5 250.8h0M83.5 253.0h0M56.7 257.6h0M68.1 252.4h0M34.8 265.8h0M41.2 270.0h0M49.1 249.0h0M66.4 271.8h0M57.1 256.9h0M59.2 243.9h0M51.6 272.2h0M90.7 249.0h0M89.5 240.6h0M77.4 240.9h0M59.9 254.5h0M60.4 273.0h0M55.4 240.6h0M40.9 266.3h0M42.0 242.1h0M46.0 274.3h0M61.0 245.2h0M73.8 253.3h0M67.5 275.0h0M76.2 258.8h0M94.2 257.7h0M61.5 269.9h0M91.8 265.3h0M56.2 254.1h0M34.8 248.4h0M80.9 257.2h0M85.7 263.5h0M68.3 268.3h0M64.2 263.4h0M63.7 252.4h0M80.2 242.5h0M92.9 273.7h0M84.1 256.4h0M61.3 254.1h0M61.9 247.8h0M82.2 270.9h0M64.3 269.9h0M51.8 270.2h0M92.7 263.5h0M92.1 265.5h0M75.9 256.6h0M37.9 244.4h0M84.0 246.4h0M75.5 245.6h0M79.6 273.5h0M71.4 241.4h0" stroke="#4a8a4e" stroke-opacity="0.25" stroke-width="1.2" stroke-linecap="round" fill="none"/></g>
<g filter="url(#b1)"><ellipse cx="145.3" cy="236.0" rx="1.4" ry="2.2" fill="#3ec83e" fill-opacity="0.90"/><ellipse cx="72.0" cy="192.8" rx="1.2" ry="1.1" fill="#cc50cc" fill-opacity="0.75"/><ellipse cx="73.2" cy="199.0" rx="1.5" ry="1.2" fill="#cc50cc" fill-opacity="0.81" transform="rotate(29 73.2 199.0)"/><ellipse cx="110.9" cy="203.0" rx="1.4" ry="1.3" fill="#cc50cc" fill-opacity="0.89" transform="rotate(53 110.9 203.0)"/><ellipse cx="132.9" cy="197.7" rx="1.3" ry="1.2" fill="#cc50cc" fill-opacity="0.93"/><ellipse cx="51.7" cy="215.7" rx="1.3" ry="1.0" fill="#cc50cc" fill-opacity="0.70" transform="rotate(44 51.7 215.7)"/><ellipse cx="125.9" cy="222.8" rx="1.4" ry="1.2" fill="#cc50cc" fill-opacity="0.82" transform="rotate(74 125.9 222.8)"/><ellipse cx="122.3" cy="221.0" rx="1.2" ry="1.2" fill="#cc50cc" fill-opacity="0.82"/><ellipse cx="90.5" cy="226.3" rx="1.4" ry="1.3" fill="#cc50cc" fill-opacity="0.72"/><ellipse cx="111.7" cy="232.5" rx="1.1" ry="1.1" fill="#cc50cc" fill-opacity="0.94"/><ellipse cx="82.6" cy="242.2" rx="1.2" ry="1.2" fill="#cc50cc" fill-opacity="0.85"/><ellipse cx="97.6" cy="244.0" rx="1.4" ry="1.2" fill="#cc50cc" fill-opacity="0.76" transform="rotate(88 97.6 244.0)"/><ellipse cx="120.6" cy="249.3" rx="1.4" ry="1.2" fill="#cc50cc" fill-opacity="0.84" transform="rotate(133 120.6 249.3)"/><ellipse cx="119.7" cy="266.1" rx="1.2" ry="1.0" fill="#cc50cc" fill-opacity="0.71"/><ellipse cx="132.0" cy="267.0" rx="1.3" ry="1.3" fill="#cc50cc" fill-opacity="0.94"/><ellipse cx="95.8" cy="272.3" rx="1.3" ry="1.1" fill="#cc50cc" fill-opacity="0.84"/><ellipse cx="106.4" cy="226.3" rx="1.3" ry="1.1" fill="#cc50cc" fill-opacity="0.87" transform="rotate(59 106.4 226.3)"/><ellipse cx="60.0" cy="235.0" rx="1.3" ry="1.0" fill="#cc50cc" fill-opacity="0.84" transform="rotate(86 60.0 235.0)"/><ellipse cx="45.0" cy="250.0" rx="1.4" ry="1.2" fill="#cc50cc" fill-opacity="0.84" transform="rotate(133 45.0 250.0)"/><ellipse cx="140.0" cy="250.0" rx="1.2" ry="1.2" fill="#cc50cc" fill-opacity="0.86"/><ellipse cx="89.7" cy="258.1" rx="1.2" ry="1.3" fill="#e8d0e8" fill-opacity="0.75"/><ellipse cx="138.2" cy="209.6" rx="1.2" ry="1.3" fill="#e8d0e8" fill-opacity="0.75"/><ellipse cx="143.5" cy="224.6" rx="1.2" ry="1.3" fill="#e8d0e8" fill-opacity="0.75"/><ellipse cx="80.8" cy="212.2" rx="1.2" ry="1.3" fill="#e8d0e8" fill-opacity="0.75"/><ellipse cx="97.6" cy="244.0" rx="1.2" ry="1.3" fill="#e8d0e8" fill-opacity="0.75"/><ellipse cx="82.2" cy="198.2" rx="0.9" ry="3.2" fill="#5a3060" fill-opacity="0.45" transform="rotate(176 82.2 198.2)"/><ellipse cx="89.5" cy="265.4" rx="0.8" ry="2.6" fill="#5a3060" fill-opacity="0.45" transform="rotate(162 89.5 265.4)"/><ellipse cx="132.1" cy="199.6" rx="0.6" ry="2.3" fill="#5a3060" fill-opacity="0.45" transform="rotate(96 132.1 199.6)"/><ellipse cx="112.6" cy="238.5" rx="0.9" ry="3.1" fill="#5a3060" fill-opacity="0.45" transform="rotate(18 112.6 238.5)"/><ellipse cx="75.0" cy="265.7" rx="0.8" ry="1.5" fill="#5a3060" fill-opacity="0.45" transform="rotate(113 75.0 265.7)"/><ellipse cx="49.5" cy="233.3" rx="0.9" ry="1.7" fill="#5a3060" fill-opacity="0.45" transform="rotate(148 49.5 233.3)"/><ellipse cx="92.3" cy="273.3" rx="0.8" ry="1.6" fill="#5a3060" fill-opacity="0.45" transform="rotate(116 92.3 273.3)"/><ellipse cx="137.5" cy="214.5" rx="0.8" ry="2.0" fill="#5a3060" fill-opacity="0.45" transform="rotate(37 137.5 214.5)"/><ellipse cx="74.2" cy="215.6" rx="0.9" ry="2.0" fill="#5a3060" fill-opacity="0.45" transform="rotate(76 74.2 215.6)"/><ellipse cx="92.6" cy="249.1" rx="0.9" ry="2.7" fill="#5a3060" fill-opacity="0.45" transform="rotate(155 92.6 249.1)"/><ellipse cx="50.1" cy="246.6" rx="0.6" ry="3.2" fill="#5a3060" fill-opacity="0.45" transform="rotate(107 50.1 246.6)"/><ellipse cx="50.6" cy="262.5" rx="0.7" ry="2.5" fill="#5a3060" fill-opacity="0.45" transform="rotate(15 50.6 262.5)"/><ellipse cx="143.1" cy="234.2" rx="0.8" ry="1.7" fill="#5a3060" fill-opacity="0.45" transform="rotate(122 143.1 234.2)"/><ellipse cx="79.4" cy="236.1" rx="0.7" ry="3.2" fill="#5a3060" fill-opacity="0.45" transform="rotate(166 79.4 236.1)"/><ellipse cx="54.3" cy="263.3" rx="0.5" ry="1.5" fill="#5a3060" fill-opacity="0.45" transform="rotate(54 54.3 263.3)"/><ellipse cx="68.5" cy="255.9" rx="0.7" ry="2.3" fill="#5a3060" fill-opacity="0.45" transform="rotate(142 68.5 255.9)"/><ellipse cx="146.6" cy="244.9" rx="0.8" ry="3.2" fill="#5a3060" fill-opacity="0.45" transform="rotate(53 146.6 244.9)"/><ellipse cx="153.8" cy="205.8" rx="0.5" ry="3.1" fill="#5a3060" fill-opacity="0.45" transform="rotate(31 153.8 205.8)"/><ellipse cx="74.6" cy="234.2" rx="0.5" ry="2.3" fill="#5a3060" fill-opacity="0.45" transform="rotate(64 74.6 234.2)"/><ellipse cx="44.6" cy="241.7" rx="0.7" ry="1.8" fill="#5a3060" fill-opacity="0.45" transform="rotate(142 44.6 241.7)"/></g>
</g>
<rect x="34.3" y="0" width="120.00000000000001" height="83.6" fill="none" stroke="#bbb" stroke-width="0.5"/>
<rect x="34.3" y="95.4" width="120.00000000000001" height="84.19999999999999" fill="none" stroke="#bbb" stroke-width="0.5"/>
<rect x="34.3" y="191" width="120.00000000000001" height="84.10000000000002" fill="none" stroke="#bbb" stroke-width="0.5"/>
<polygon points="131.2,31.4 139.9,33.8 136.3,39" fill="#fff"/>
<polygon points="109.2,144.4 118.3,147.1 114.3,152.2" fill="#fff"/>
<polygon points="77.3,201.6 86.6,203.7 82.6,208.7" fill="#fff"/>
<rect x="135.10" y="75.00" width="16.80" height="3.40" fill="#fff" />
<rect x="135.10" y="170.10" width="16.80" height="3.40" fill="#fff" />
<rect x="135.10" y="266.00" width="16.80" height="3.40" fill="#fff" />
<text x="30.10" y="42.00" font-size="8" text-anchor="middle" fill="#000" stroke="#000" stroke-width="0.18" transform="rotate(-90 30.10 42.00) matrix(1 0 0 1.1 0 -4.200)">CA1</text>
<text x="30.10" y="137.50" font-size="8" text-anchor="middle" fill="#000" stroke="#000" stroke-width="0.18" transform="rotate(-90 30.10 137.50) matrix(1 0 0 1.1 0 -13.750)">L1</text>
<text x="30.10" y="233.00" font-size="8" text-anchor="middle" fill="#000" stroke="#000" stroke-width="0.18" transform="rotate(-90 30.10 233.00) matrix(1 0 0 1.1 0 -23.300)">L3–5</text>
<line x1="186.70" y1="21.00" x2="186.70" y2="34.20" stroke="#222" stroke-width="0.9"/>
<line x1="186.70" y1="34.20" x2="204.80" y2="34.20" stroke="#222" stroke-width="0.9"/>
<text x="196.35" y="42.40" font-size="7.0" text-anchor="middle" fill="#222" stroke="#222" stroke-width="0.18" transform="matrix(1 0 0 1.1 0 -4.240)">50 s</text>
<text x="179.40" y="29.10" font-size="6.6" text-anchor="middle" fill="#222" stroke="#222" stroke-width="0.18" transform="rotate(-90 179.40 29.10) matrix(1 0 0 1.1 0 -2.910)"></text>
<text x="179.80" y="27.50" font-size="7.0" text-anchor="middle" fill="#222" stroke="#222" stroke-width="0.18" transform="rotate(-90 179.80 27.50) matrix(1 0 0 1.1 0 -2.750)">0.1 dF/F<tspan font-size="4.7" dy="1.7">0</tspan></text>
<polyline points="174.7,67.9 175.8,72.1 176.9,69.5 177.9,68.6 179.0,67.5 180.1,65.7 181.2,65.9 182.3,67.0 183.4,66.6 184.4,64.9 185.5,65.3 186.6,68.2 187.7,67.9 188.8,67.1 189.9,64.9 190.9,64.6 192.0,67.3 193.1,65.9 194.2,63.7 195.3,66.0 196.4,67.2 197.4,67.4 198.5,67.9 199.6,68.1 200.7,68.2 201.8,65.2 202.8,65.6 203.9,67.2 205.0,68.3 206.1,68.1 207.2,66.6 208.3,68.5 209.3,70.6 210.4,70.5 211.5,70.3 212.6,69.9 213.7,69.5 214.8,70.1 215.8,69.6 216.9,68.5 218.0,68.1 219.1,71.4 220.2,71.2 221.3,67.5 222.3,67.0 223.4,67.2 224.5,68.1 225.6,66.6 226.7,63.4 227.8,65.4 228.8,66.0 229.9,65.9 231.0,68.4 232.1,69.6 233.2,71.8 234.2,70.7 235.3,67.5 236.4,65.4 237.5,65.0 238.6,66.7 239.7,65.0 240.7,65.0 241.8,67.9 242.9,68.7 244.0,68.2 245.1,67.5 246.2,66.9 247.2,66.1 248.3,64.7 249.4,65.5 250.5,70.1 251.6,70.2 252.7,68.5 253.7,66.9 254.8,68.4 255.9,68.7 257.0,67.8 258.1,69.1 259.1,66.6 260.2,67.9 261.3,69.3 262.4,68.1 263.5,68.7 264.6,68.4 265.6,67.2 266.7,67.9 267.8,67.9 268.9,67.3 270.0,67.0 271.1,64.8 272.1,64.8 273.2,66.2 274.3,67.1 275.4,69.5 276.5,67.1 277.6,65.6 278.6,64.9 279.7,63.2 280.8,65.6 281.9,63.9 283.0,62.0 284.1,65.4 285.1,68.1 286.2,67.7 287.3,66.5" fill="none" stroke="#2e2a85" stroke-width="1.0" stroke-linejoin="round" />
<polyline points="174.7,70.5 175.8,66.4 176.9,68.9 177.9,70.8 179.0,68.1 180.1,68.9 181.2,69.6 182.3,68.9 183.4,69.0 184.4,66.7 185.5,67.7 186.6,69.3 187.7,66.7 188.8,65.4 189.9,68.1 190.9,68.6 192.0,67.4 193.1,68.7 194.2,68.8 195.3,65.9 196.4,66.6 197.4,69.9 198.5,70.2 199.6,71.1 200.7,70.4 201.8,69.3 202.8,70.9 203.9,69.5 205.0,69.7 206.1,72.4 207.2,71.1 208.3,71.3 209.3,71.4 210.4,67.8 211.5,68.1 212.6,69.7 213.7,68.8 214.8,68.6 215.8,69.8 216.9,70.3 218.0,67.6 219.1,67.5 220.2,69.4 221.3,67.8 222.3,66.3 223.4,66.7 224.5,66.5 225.6,67.5 226.7,69.6 227.8,71.7 228.8,71.9 229.9,70.7 231.0,70.7 232.1,71.1 233.2,69.1 234.2,68.2 235.3,69.2 236.4,68.1 237.5,67.0 238.6,66.5 239.7,66.8 240.7,65.8 241.8,66.9 242.9,68.5 244.0,67.9 245.1,68.4 246.2,69.2 247.2,68.0 248.3,66.9 249.4,65.5 250.5,62.7 251.6,62.3 252.7,67.3 253.7,67.4 254.8,66.0 255.9,70.4 257.0,69.2 258.1,69.4 259.1,72.4 260.2,71.5 261.3,72.2 262.4,71.8 263.5,67.7 264.6,67.5 265.6,67.9 266.7,65.5 267.8,64.4 268.9,69.2 270.0,70.2 271.1,67.1 272.1,66.9 273.2,67.1 274.3,67.7 275.4,67.0 276.5,65.7 277.6,64.3 278.6,65.0 279.7,67.2 280.8,71.0 281.9,72.0 283.0,71.7 284.1,70.9 285.1,68.4 286.2,66.0 287.3,66.1" fill="none" stroke="#b53a9f" stroke-width="1.0" stroke-linejoin="round" />
<polyline points="174.7,64.3 175.8,70.1 176.9,71.1 177.9,70.3 179.0,69.2 180.1,65.4 181.2,65.2 182.3,66.7 183.3,69.3 184.4,73.0 185.5,70.0 186.6,66.4 187.7,67.3 188.7,67.3 189.8,65.6 190.9,66.3 192.0,68.8 193.1,69.2 194.1,66.8 195.2,66.0 196.3,65.2 197.4,66.8 198.5,67.9 199.5,66.1 200.6,67.0 201.7,66.5 202.8,65.6 203.9,63.7 204.9,68.0 206.0,71.1 207.1,68.9 208.2,71.7 209.3,71.2 210.3,68.8 211.4,69.0 212.5,70.0 214.0,27.8 215.5,13.5 217.0,56.2 218.8,13.0 220.5,69.5 222.0,20.2 223.5,51.5 225.0,33.5 227.0,28.7 227.0,28.7 228.1,29.5 229.2,28.3 230.3,29.6 231.5,31.6 232.6,24.5 233.0,29.0 233.7,27.9 234.8,27.6 235.9,23.5 237.1,28.9 238.2,25.0 239.3,25.9 240.0,26.0 240.4,22.3 241.5,24.7 242.6,21.4 243.8,23.1 244.9,24.2 246.0,24.6 246.0,24.5 247.1,24.4 248.2,29.5 249.3,25.8 250.5,22.3 251.6,23.7 252.0,25.0 252.7,25.4 253.8,25.5 254.9,26.1 256.0,29.0 256.0,29.2 257.1,28.5 258.3,28.9 259.4,29.2 260.5,32.9 261.6,31.1 262.0,30.0 262.7,23.5 263.9,31.4 265.0,33.4 266.1,35.8 267.2,31.9 268.0,32.0 268.3,33.5 269.4,31.5 270.6,29.4 271.7,32.5 272.0,34.0 272.8,38.3 273.9,39.5 275.0,40.0 275.0,45.6 276.1,38.4 277.2,41.7 278.4,39.6 279.5,46.6 280.0,44.0 280.6,46.4 281.7,45.4 282.8,45.8 283.0,46.0 283.9,41.7 285.1,47.8 286.2,47.4 287.3,45.0" fill="none" stroke="#f6a331" stroke-width="1.0" stroke-linejoin="round" />
<line x1="297.30" y1="33.90" x2="301.50" y2="33.90" stroke="#2e2a85" stroke-width="1.0" stroke-opacity="0.9"/>
<text x="304.60" y="35.90" font-size="5.5" text-anchor="start" fill="#333" stroke="#333" stroke-width="0.18" transform="matrix(1 0 0 1.1 0 -3.590)">BASE</text>
<line x1="297.30" y1="41.70" x2="301.50" y2="41.70" stroke="#b53a9f" stroke-width="1.0" stroke-opacity="0.9"/>
<text x="304.60" y="43.70" font-size="5.5" text-anchor="start" fill="#333" stroke="#333" stroke-width="0.18" transform="matrix(1 0 0 1.1 0 -4.370)">TTX</text>
<line x1="297.30" y1="49.80" x2="301.50" y2="49.80" stroke="#f6a331" stroke-width="1.0" stroke-opacity="0.9"/>
<text x="304.60" y="51.80" font-size="5.5" text-anchor="start" fill="#333" stroke="#333" stroke-width="0.18" transform="matrix(1 0 0 1.1 0 -5.180)">PHE</text>
<line x1="186.70" y1="113.30" x2="186.70" y2="129.40" stroke="#222" stroke-width="0.9"/>
<line x1="186.70" y1="129.40" x2="204.70" y2="129.40" stroke="#222" stroke-width="0.9"/>
<text x="196.30" y="137.60" font-size="7.0" text-anchor="middle" fill="#222" stroke="#222" stroke-width="0.18" transform="matrix(1 0 0 1.1 0 -13.760)">50 s</text>
<text x="179.40" y="122.85" font-size="6.6" text-anchor="middle" fill="#222" stroke="#222" stroke-width="0.18" transform="rotate(-90 179.40 122.85) matrix(1 0 0 1.1 0 -12.285)"></text>
<text x="179.80" y="121.50" font-size="7.0" text-anchor="middle" fill="#222" stroke="#222" stroke-width="0.18" transform="rotate(-90 179.80 121.50) matrix(1 0 0 1.1 0 -12.150)">0.3 dF/F<tspan font-size="4.7" dy="1.7">0</tspan></text>
<polyline points="174.7,169.5 175.8,169.5 177.0,170.0 178.1,169.1 179.2,168.7 180.4,168.1 181.5,167.3 182.7,167.6 183.8,167.8 184.9,167.4 185.0,167.5 186.1,167.9 187.2,167.6 188.3,167.4 189.5,167.5 190.6,167.1 191.8,166.8 192.9,167.0 194.0,165.6 195.0,166.5 195.2,165.7 196.3,166.9 197.4,166.4 198.6,167.0 199.7,166.3 200.9,165.6 202.0,166.7 203.0,166.0 203.1,164.6 204.0,155.0 204.3,151.9 205.1,140.0 205.4,144.4 206.2,155.0 206.5,157.7 207.5,166.0 207.7,167.1 208.8,166.3 210.0,166.1 211.1,167.0 212.2,166.3 213.4,166.4 214.5,166.6 215.0,166.5 215.6,167.0 216.8,166.4 217.9,165.7 219.1,165.0 220.2,165.5 221.3,166.0 222.0,165.0 222.5,164.1 223.6,164.3 224.7,162.4 225.9,161.4 227.0,162.0 227.0,161.6 228.2,161.8 229.3,161.5 230.4,161.9 231.6,161.4 232.0,161.5 232.7,159.6 233.5,158.0 233.8,155.5 235.0,145.2 235.5,140.0 236.1,143.6 237.3,155.2 237.5,158.0 238.4,159.9 239.5,161.1 240.0,163.0 240.7,163.1 241.8,162.4 242.9,162.6 244.1,162.1 245.2,161.7 246.0,162.0 246.4,161.6 247.5,160.6 248.6,160.7 249.8,160.6 250.0,160.5 250.9,162.3 252.0,162.2 253.2,165.2 254.0,165.0 254.3,164.2 255.5,164.0 256.6,163.8 257.7,162.1 258.0,162.0 258.9,161.9 260.0,162.7 261.1,160.4 262.0,161.0 262.3,161.4 263.4,162.9 264.6,164.3 265.7,165.9 266.0,166.5 266.8,166.3 268.0,164.6 269.1,165.3 270.2,162.8 271.0,163.0 271.4,163.5 272.5,165.1 273.7,165.6 274.8,167.0 275.0,166.5 275.9,166.8 277.1,166.1 278.2,166.9 279.3,164.8 280.0,165.0 280.5,165.0 281.6,163.9 282.8,162.6 283.9,162.4 284.0,162.0 285.0,162.2 286.2,164.4 287.3,165.0" fill="none" stroke="#2e2a85" stroke-width="1.0" stroke-linejoin="round" />
<polyline points="174.7,166.5 175.8,166.1 177.0,166.1 178.1,165.6 179.2,165.5 180.0,165.0 180.4,164.9 181.5,165.4 182.7,166.3 183.8,166.7 184.9,167.0 186.0,166.5 186.1,166.4 187.2,165.4 188.3,166.7 189.5,166.7 190.6,165.8 191.8,166.4 192.9,166.6 194.0,165.7 195.0,165.5 195.2,165.7 196.3,164.5 197.4,165.3 198.6,165.4 199.7,166.0 200.9,165.2 202.0,165.4 203.1,165.1 204.3,165.7 205.4,165.8 206.5,166.4 207.7,166.3 208.8,165.9 210.0,166.0 211.1,165.9 212.2,166.0 213.4,166.9 214.5,164.5 215.6,165.9 216.8,166.2 217.9,166.7 219.0,166.0 219.1,166.0 220.2,161.8 220.5,160.0 221.3,144.5 221.6,141.0 222.5,154.1 222.8,160.0 223.6,163.9 224.0,166.5 224.7,166.6 225.9,166.1 227.0,166.2 228.2,165.9 229.3,166.8 230.4,167.4 231.6,166.4 232.7,167.1 233.8,166.0 235.0,166.7 235.0,166.5 236.1,165.1 237.3,166.2 238.4,165.6 239.5,163.2 240.0,164.0 240.7,163.3 241.8,164.2 242.9,163.1 244.1,162.9 245.2,163.2 246.0,162.5 246.4,162.8 247.5,163.0 248.6,164.3 249.8,163.6 250.9,165.6 252.0,165.0 252.0,164.5 253.2,164.8 254.3,164.2 255.5,162.1 256.6,162.9 257.7,161.4 258.0,162.0 258.9,163.1 260.0,162.9 261.1,164.4 262.3,164.7 263.4,166.8 264.0,166.0 264.6,165.2 265.7,164.8 266.8,164.6 268.0,164.8 269.1,164.3 270.0,164.0 270.2,164.2 271.4,164.7 272.5,165.3 273.7,165.5 274.8,166.2 275.9,167.0 276.0,166.5 277.1,166.1 278.2,165.3 279.3,165.8 280.5,166.3 281.6,164.5 282.8,165.7 283.9,166.1 285.0,165.4 286.2,165.0 287.3,165.5" fill="none" stroke="#b53a9f" stroke-width="1.0" stroke-linejoin="round" />
<polyline points="174.7,166.5 175.8,166.3 176.9,167.6 178.1,167.5 179.2,165.3 180.3,168.6 181.4,165.3 182.5,165.9 183.7,165.0 184.8,166.0 185.9,164.7 187.0,165.8 188.2,166.7 189.3,165.9 190.4,165.4 191.5,166.9 192.6,164.7 193.8,166.3 194.9,165.1 196.0,165.5 197.1,165.2 198.2,165.3 199.4,165.0 200.0,165.0 200.5,164.5 201.6,165.5 202.7,165.0 203.9,164.1 205.0,164.5 206.1,164.6 207.2,165.2 208.3,165.4 209.5,165.4 210.6,164.7 211.7,165.4 212.8,164.1 213.9,162.8 215.1,165.4 216.2,164.0 217.3,164.6 218.4,164.4 219.0,165.5 219.5,161.3 220.3,158.0 220.7,151.7 221.8,133.2 222.0,131.0 222.9,130.8 224.0,130.0 225.0,129.0 225.2,130.5 226.3,127.6 227.4,126.1 228.0,125.0 228.5,124.3 229.6,122.0 230.8,119.7 231.7,119.0 231.9,117.7 233.0,121.5 234.0,123.0 234.1,123.3 235.2,123.5 236.4,125.4 236.4,125.6 237.5,125.4 238.6,127.0 239.7,127.5 240.9,128.1 242.0,129.9 242.1,129.4 243.1,130.3 244.2,129.9 245.3,131.4 246.5,131.7 247.6,132.4 247.8,132.3 248.7,132.5 249.8,133.5 250.9,135.5 251.6,136.0 252.1,137.0 253.2,135.5 254.3,136.1 255.4,134.5 256.5,134.0 257.7,135.2 258.8,135.4 259.2,136.0 259.9,134.6 261.0,137.1 262.2,136.3 263.3,135.9 264.4,139.9 264.9,138.0 265.5,137.8 266.6,139.0 267.8,138.0 268.9,140.4 270.0,137.8 271.1,138.3 272.2,139.6 272.5,139.8 273.4,141.2 274.5,138.6 275.6,139.5 276.7,140.6 277.9,141.0 279.0,141.5 280.0,140.8 280.1,142.8 281.2,140.3 282.3,140.9 283.5,141.5 284.6,140.5 285.7,140.8" fill="none" stroke="#f6a331" stroke-width="1.0" stroke-linejoin="round" />
<line x1="297.30" y1="129.80" x2="301.50" y2="129.80" stroke="#2e2a85" stroke-width="1.0" stroke-opacity="0.9"/>
<text x="304.60" y="131.80" font-size="5.5" text-anchor="start" fill="#333" stroke="#333" stroke-width="0.18" transform="matrix(1 0 0 1.1 0 -13.180)">BASE</text>
<line x1="297.30" y1="137.60" x2="301.50" y2="137.60" stroke="#b53a9f" stroke-width="1.0" stroke-opacity="0.9"/>
<text x="304.60" y="139.60" font-size="5.5" text-anchor="start" fill="#333" stroke="#333" stroke-width="0.18" transform="matrix(1 0 0 1.1 0 -13.960)">TTX</text>
<line x1="297.30" y1="145.70" x2="301.50" y2="145.70" stroke="#f6a331" stroke-width="1.0" stroke-opacity="0.9"/>
<text x="304.60" y="147.70" font-size="5.5" text-anchor="start" fill="#333" stroke="#333" stroke-width="0.18" transform="matrix(1 0 0 1.1 0 -14.770)">PHE</text>
<line x1="186.70" y1="203.50" x2="186.70" y2="219.10" stroke="#222" stroke-width="0.9"/>
<line x1="186.70" y1="219.10" x2="205.10" y2="219.10" stroke="#222" stroke-width="0.9"/>
<text x="196.50" y="227.30" font-size="7.0" text-anchor="middle" fill="#222" stroke="#222" stroke-width="0.18" transform="matrix(1 0 0 1.1 0 -22.730)">50 s</text>
<text x="179.40" y="212.80" font-size="6.6" text-anchor="middle" fill="#222" stroke="#222" stroke-width="0.18" transform="rotate(-90 179.40 212.80) matrix(1 0 0 1.1 0 -21.280)"></text>
<text x="179.80" y="211.50" font-size="7.0" text-anchor="middle" fill="#222" stroke="#222" stroke-width="0.18" transform="rotate(-90 179.80 211.50) matrix(1 0 0 1.1 0 -21.150)">0.5 dF/F<tspan font-size="4.7" dy="1.7">0</tspan></text>
<polyline points="175.7,266.2 176.7,265.3 177.8,264.4 178.8,263.9 179.8,262.9 180.8,262.9 181.4,262.4 181.9,262.9 182.9,262.4 183.9,261.8 184.9,261.0 186.0,260.4 187.0,260.7 188.0,259.9 189.0,259.5 189.0,259.2 190.1,260.2 191.1,259.9 192.1,260.6 193.2,260.3 194.2,261.0 194.7,261.4 195.2,261.0 196.2,260.5 197.3,260.4 198.3,259.6 199.3,259.6 200.3,257.8 200.4,258.6 201.4,258.4 202.4,257.3 203.4,257.0 204.2,257.2 204.4,257.0 205.5,257.7 206.5,258.8 207.5,259.1 208.0,259.5 208.6,259.3 209.6,260.0 210.6,260.6 211.6,260.6 211.7,260.5 212.7,258.3 213.6,255.7 213.7,252.4 214.7,217.0 215.0,206.4 215.7,208.0 216.5,208.3 216.8,208.6 217.8,207.0 218.4,206.4 218.8,205.3 219.8,202.8 220.9,200.2 221.2,199.2 221.9,199.4 222.9,200.7 223.1,200.7 224.0,203.4 225.0,206.5 226.0,210.2 226.0,210.5 227.0,213.3 228.1,215.5 228.8,217.8 229.1,218.6 230.1,219.2 231.1,221.3 232.2,222.5 232.6,223.5 233.2,224.3 234.2,225.4 235.2,227.3 236.3,228.8 236.4,228.2 237.3,229.0 238.3,229.5 239.3,229.4 240.4,229.8 241.4,231.2 242.1,231.0 242.4,231.1 243.5,231.6 244.5,232.1 245.5,232.5 246.5,233.5 247.6,234.2 247.8,233.9 248.6,233.9 249.6,235.1 250.6,235.3 251.7,236.2 252.7,237.6 253.5,237.7 253.7,237.9 254.7,237.8 255.8,238.8 256.8,238.1 257.8,239.0 258.9,240.2 259.9,240.3 260.9,239.9 261.1,240.5 261.9,240.9 263.0,240.7 264.0,240.7 265.0,241.1 266.0,240.9 267.1,240.6 268.1,241.7 268.7,241.5 269.1,241.3 270.1,241.5 271.2,242.5 272.2,242.5 273.2,243.4 274.3,243.4 275.3,244.3 276.3,244.3 276.3,244.1 277.3,243.9 278.4,244.6 279.4,245.6 280.4,246.7 281.4,245.6 282.0,246.2 282.5,246.2 283.5,246.1 284.5,245.5 285.5,245.6 286.6,244.9 287.6,245.3" fill="none" stroke="#f6a331" stroke-width="1.0" stroke-linejoin="round" />
<polyline points="175.7,261.0 176.8,261.5 178.0,260.9 179.1,260.9 180.2,261.1 181.3,261.3 182.5,261.1 183.6,260.8 184.7,261.1 185.8,261.3 187.0,260.8 188.1,260.6 189.2,261.1 190.4,261.1 191.5,261.3 192.6,261.0 193.7,260.8 194.9,260.9 195.0,261.0 196.0,259.9 197.1,259.0 198.2,258.1 198.5,258.0 199.4,254.4 200.4,251.0 200.5,251.2 201.6,256.0 202.3,258.0 202.8,258.7 203.9,261.0 204.0,261.0 205.0,260.8 206.1,261.4 207.3,261.2 208.4,261.5 209.5,261.3 210.6,261.2 211.8,261.0 212.9,260.7 213.0,261.0 214.0,258.4 215.0,256.0 215.2,255.3 216.3,250.2 216.5,249.5 217.4,253.6 218.0,256.0 218.5,257.2 219.7,260.3 220.0,261.0 220.8,260.9 221.9,261.3 223.0,261.3 224.2,262.2 225.3,262.1 226.4,262.1 227.6,262.0 228.7,262.7 229.8,263.2 230.0,263.0 230.9,262.9 232.1,263.3 233.2,262.8 234.3,263.2 235.4,263.4 236.6,263.1 237.7,263.1 238.8,263.5 240.0,263.5 240.0,263.5 241.1,263.4 242.2,263.3 243.3,262.9 244.5,262.8 245.6,263.1 246.7,263.2 247.8,263.1 249.0,262.3 250.0,262.5 250.1,262.7 251.2,262.3 252.4,262.3 253.5,262.2 254.6,262.3 255.7,261.3 256.9,261.6 258.0,261.2 259.1,261.1 260.0,261.0 260.2,260.9 261.4,258.6 262.0,258.0 262.5,256.9 263.0,255.7 263.6,257.3 264.5,259.0 264.8,259.1 265.9,259.2 267.0,259.8 268.1,259.3 269.3,259.3 270.4,260.1 271.5,259.5 272.6,259.6 273.8,259.5 274.9,260.3 275.0,260.0 276.0,259.1 277.2,257.9 278.0,257.0 278.3,256.4 279.4,255.2 280.0,254.8 280.5,255.5 281.7,257.4 282.5,258.0 282.8,258.0 283.9,258.6 285.0,260.0 286.2,259.9 287.3,261.0" fill="none" stroke="#2e2a85" stroke-width="1.0" stroke-linejoin="round" />
<polyline points="175.7,261.0 177.0,260.9 178.2,260.9 179.5,260.3 180.7,260.5 182.0,260.2 183.2,260.4 184.5,260.3 185.7,260.0 187.0,260.3 188.0,260.0 188.2,259.7 189.5,258.7 190.5,258.0 190.7,257.6 191.8,256.1 192.0,256.3 193.3,258.7 193.5,259.0 194.5,259.3 195.8,259.4 197.0,259.5 198.3,259.4 199.5,259.8 200.0,260.0 200.8,259.9 202.0,260.1 203.3,259.8 204.5,259.5 205.8,259.9 207.0,259.8 208.3,259.6 209.6,259.6 210.8,259.7 212.1,259.5 213.3,259.6 214.6,259.5 215.0,259.5 215.8,259.5 217.1,259.4 218.3,259.4 219.6,259.7 220.8,259.5 222.1,259.7 223.3,259.9 224.6,259.7 225.9,259.4 227.1,259.6 228.4,259.9 229.6,259.7 230.9,259.7 232.1,259.8 233.4,260.0 234.6,259.9 235.9,260.0 237.1,259.8 238.4,259.9 239.7,259.9 240.0,260.0 240.9,259.6 242.2,260.0 243.4,259.8 244.7,260.4 245.9,260.5 247.2,260.5 248.4,260.4 249.7,260.1 250.9,260.5 252.2,260.3 253.4,260.5 254.7,260.2 256.0,260.3 257.2,260.5 258.5,260.8 259.7,260.5 260.0,260.5 261.0,261.0 262.2,260.2 263.5,260.4 264.7,260.2 266.0,260.4 267.2,260.3 268.5,260.3 269.7,260.5 271.0,260.5 272.3,260.3 273.5,260.2 274.8,260.2 276.0,260.2 277.3,260.3 278.5,260.2 279.8,260.2 281.0,259.9 282.3,260.2 283.5,260.4 284.8,260.1 286.0,259.7 287.3,260.0" fill="none" stroke="#b53a9f" stroke-width="1.0" stroke-linejoin="round" />
<line x1="297.30" y1="225.00" x2="301.50" y2="225.00" stroke="#2e2a85" stroke-width="1.0" stroke-opacity="0.9"/>
<text x="304.60" y="227.00" font-size="5.5" text-anchor="start" fill="#333" stroke="#333" stroke-width="0.18" transform="matrix(1 0 0 1.1 0 -22.700)">BASE</text>
<line x1="297.30" y1="232.80" x2="301.50" y2="232.80" stroke="#b53a9f" stroke-width="1.0" stroke-opacity="0.9"/>
<text x="304.60" y="234.80" font-size="5.5" text-anchor="start" fill="#333" stroke="#333" stroke-width="0.18" transform="matrix(1 0 0 1.1 0 -23.480)">TTX</text>
<line x1="297.30" y1="240.90" x2="301.50" y2="240.90" stroke="#f6a331" stroke-width="1.0" stroke-opacity="0.9"/>
<text x="304.60" y="242.90" font-size="5.5" text-anchor="start" fill="#333" stroke="#333" stroke-width="0.18" transform="matrix(1 0 0 1.1 0 -24.290)">PHE</text>
<text x="344.80" y="12.50" font-size="13.5" text-anchor="start" fill="#000" stroke="#000" stroke-width="0.35" font-weight="bold" transform="matrix(1 0 0 1.1 0 -1.250)">b</text>
<text x="515.00" y="19.60" font-size="8.45" text-anchor="middle" fill="#111" stroke="#111" stroke-width="0.18" transform="matrix(1 0 0 1.1 0 -1.960)">Proportion of PHE-responsive astrocytes, %</text>
<line x1="397.90" y1="33.40" x2="397.90" y2="100.60" stroke="#aaa" stroke-width="0.6"/>
<line x1="396.30" y1="97.70" x2="397.90" y2="97.70" stroke="#aaa" stroke-width="0.6"/>
<text x="394.60" y="100.20" font-size="7.1" text-anchor="end" fill="#222" stroke="#222" stroke-width="0.18" transform="matrix(1 0 0 1.1 0 -10.020)">0</text>
<line x1="396.30" y1="82.33" x2="397.90" y2="82.33" stroke="#aaa" stroke-width="0.6"/>
<text x="394.60" y="84.83" font-size="7.1" text-anchor="end" fill="#222" stroke="#222" stroke-width="0.18" transform="matrix(1 0 0 1.1 0 -8.483)">25</text>
<line x1="396.30" y1="66.95" x2="397.90" y2="66.95" stroke="#aaa" stroke-width="0.6"/>
<text x="394.60" y="69.45" font-size="7.1" text-anchor="end" fill="#222" stroke="#222" stroke-width="0.18" transform="matrix(1 0 0 1.1 0 -6.945)">50</text>
<line x1="396.30" y1="51.58" x2="397.90" y2="51.58" stroke="#aaa" stroke-width="0.6"/>
<text x="394.60" y="54.08" font-size="7.1" text-anchor="end" fill="#222" stroke="#222" stroke-width="0.18" transform="matrix(1 0 0 1.1 0 -5.408)">75</text>
<line x1="396.30" y1="36.20" x2="397.90" y2="36.20" stroke="#aaa" stroke-width="0.6"/>
<text x="394.60" y="38.70" font-size="7.1" text-anchor="end" fill="#222" stroke="#222" stroke-width="0.18" transform="matrix(1 0 0 1.1 0 -3.870)">100</text>
<rect x="397.80" y="25.4" width="71.70" height="8" fill="#fff" stroke="#444" stroke-width="0.6"/>
<text x="433.65" y="32.00" font-size="6.9" text-anchor="middle" fill="#222" stroke="#222" stroke-width="0.18" transform="matrix(1 0 0 1.1 0 -3.200)">CA1</text>
<line x1="397.50" y1="100.60" x2="469.80" y2="100.60" stroke="#aaa" stroke-width="0.7"/>
<rect x="408.92" y="36.20" width="16.60" height="61.50" fill="#bebebe" />
<rect x="408.92" y="91.80" width="16.60" height="5.90" fill="#6fa8dc" />
<line x1="417.22" y1="100.60" x2="417.22" y2="102.00" stroke="#aaa" stroke-width="0.6"/>
<text x="417.22" y="109.80" font-size="6.9" text-anchor="middle" fill="#222" stroke="#222" stroke-width="0.18" transform="matrix(1 0 0 1.1 0 -10.980)">BASE</text>
<rect x="441.78" y="36.20" width="16.60" height="61.50" fill="#bebebe" />
<rect x="441.78" y="86.02" width="16.60" height="11.69" fill="#6fa8dc" />
<line x1="450.08" y1="100.60" x2="450.08" y2="102.00" stroke="#aaa" stroke-width="0.6"/>
<text x="450.08" y="109.80" font-size="6.9" text-anchor="middle" fill="#222" stroke="#222" stroke-width="0.18" transform="matrix(1 0 0 1.1 0 -10.980)">TTX</text>
<rect x="472.30" y="25.4" width="71.70" height="8" fill="#fff" stroke="#444" stroke-width="0.6"/>
<text x="508.15" y="32.00" font-size="6.9" text-anchor="middle" fill="#222" stroke="#222" stroke-width="0.18" transform="matrix(1 0 0 1.1 0 -3.200)">L1</text>
<line x1="472.00" y1="100.60" x2="544.30" y2="100.60" stroke="#aaa" stroke-width="0.7"/>
<rect x="483.42" y="36.20" width="16.60" height="61.50" fill="#bebebe" />
<rect x="483.42" y="84.29" width="16.60" height="13.41" fill="#6fa8dc" />
<line x1="491.72" y1="100.60" x2="491.72" y2="102.00" stroke="#aaa" stroke-width="0.6"/>
<text x="491.72" y="109.80" font-size="6.9" text-anchor="middle" fill="#222" stroke="#222" stroke-width="0.18" transform="matrix(1 0 0 1.1 0 -10.980)">BASE</text>
<rect x="516.28" y="36.20" width="16.60" height="61.50" fill="#bebebe" />
<rect x="516.28" y="83.43" width="16.60" height="14.27" fill="#6fa8dc" />
<line x1="524.58" y1="100.60" x2="524.58" y2="102.00" stroke="#aaa" stroke-width="0.6"/>
<text x="524.58" y="109.80" font-size="6.9" text-anchor="middle" fill="#222" stroke="#222" stroke-width="0.18" transform="matrix(1 0 0 1.1 0 -10.980)">TTX</text>
<rect x="546.70" y="25.4" width="71.70" height="8" fill="#fff" stroke="#444" stroke-width="0.6"/>
<text x="582.55" y="32.00" font-size="6.9" text-anchor="middle" fill="#222" stroke="#222" stroke-width="0.18" transform="matrix(1 0 0 1.1 0 -3.200)">L3–5</text>
<line x1="546.40" y1="100.60" x2="618.70" y2="100.60" stroke="#aaa" stroke-width="0.7"/>
<rect x="557.82" y="36.20" width="16.60" height="61.50" fill="#bebebe" />
<rect x="557.82" y="90.94" width="16.60" height="6.77" fill="#6fa8dc" />
<line x1="566.12" y1="100.60" x2="566.12" y2="102.00" stroke="#aaa" stroke-width="0.6"/>
<text x="566.12" y="109.80" font-size="6.9" text-anchor="middle" fill="#222" stroke="#222" stroke-width="0.18" transform="matrix(1 0 0 1.1 0 -10.980)">BASE</text>
<rect x="590.68" y="36.20" width="16.60" height="61.50" fill="#bebebe" />
<rect x="590.68" y="88.23" width="16.60" height="9.47" fill="#6fa8dc" />
<line x1="598.98" y1="100.60" x2="598.98" y2="102.00" stroke="#aaa" stroke-width="0.6"/>
<text x="598.98" y="109.80" font-size="6.9" text-anchor="middle" fill="#222" stroke="#222" stroke-width="0.18" transform="matrix(1 0 0 1.1 0 -10.980)">TTX</text>
<rect x="623.00" y="63.00" width="5.00" height="5.95" fill="#bebebe" />
<rect x="623.00" y="68.95" width="5.00" height="5.95" fill="#6fa8dc" />
<text x="630.70" y="68.10" font-size="5.5" text-anchor="start" fill="#333" stroke="#333" stroke-width="0.18" transform="matrix(1 0 0 1.1 0 -6.810)">Inactive</text>
<text x="630.70" y="74.10" font-size="5.5" text-anchor="start" fill="#333" stroke="#333" stroke-width="0.18" transform="matrix(1 0 0 1.1 0 -7.410)">Active</text>
<text x="344.80" y="152.70" font-size="13.5" text-anchor="start" fill="#000" stroke="#000" stroke-width="0.35" font-weight="bold" transform="matrix(1 0 0 1.1 0 -15.270)">d</text>
<text x="381.60" y="155.30" font-size="8.45" text-anchor="start" fill="#111" stroke="#111" stroke-width="0.18" transform="matrix(1 0 0 1.1 0 -15.530)">PHE, hierarchical clustering</text>
<line x1="370.70" y1="158.20" x2="370.70" y2="246.00" stroke="#aaa" stroke-width="0.6"/>
<line x1="370.70" y1="246.00" x2="469.20" y2="246.00" stroke="#aaa" stroke-width="0.6"/>
<line x1="369.20" y1="225.50" x2="370.70" y2="225.50" stroke="#aaa" stroke-width="0.6"/>
<text x="367.60" y="228.00" font-size="7.1" text-anchor="end" fill="#222" stroke="#222" stroke-width="0.18" transform="matrix(1 0 0 1.1 0 -22.800)">−40</text>
<line x1="369.20" y1="201.60" x2="370.70" y2="201.60" stroke="#aaa" stroke-width="0.6"/>
<text x="367.60" y="204.10" font-size="7.1" text-anchor="end" fill="#222" stroke="#222" stroke-width="0.18" transform="matrix(1 0 0 1.1 0 -20.410)">0</text>
<line x1="369.20" y1="177.70" x2="370.70" y2="177.70" stroke="#aaa" stroke-width="0.6"/>
<text x="367.60" y="180.20" font-size="7.1" text-anchor="end" fill="#222" stroke="#222" stroke-width="0.18" transform="matrix(1 0 0 1.1 0 -18.020)">40</text>
<line x1="386.40" y1="246.00" x2="386.40" y2="247.50" stroke="#aaa" stroke-width="0.6"/>
<text x="386.40" y="255.20" font-size="7.1" text-anchor="middle" fill="#222" stroke="#222" stroke-width="0.18" transform="matrix(1 0 0 1.1 0 -25.520)">−40</text>
<line x1="413.60" y1="246.00" x2="413.60" y2="247.50" stroke="#aaa" stroke-width="0.6"/>
<text x="413.60" y="255.20" font-size="7.1" text-anchor="middle" fill="#222" stroke="#222" stroke-width="0.18" transform="matrix(1 0 0 1.1 0 -25.520)">0</text>
<line x1="440.80" y1="246.00" x2="440.80" y2="247.50" stroke="#aaa" stroke-width="0.6"/>
<text x="440.80" y="255.20" font-size="7.1" text-anchor="middle" fill="#222" stroke="#222" stroke-width="0.18" transform="matrix(1 0 0 1.1 0 -25.520)">40</text>
<line x1="468.00" y1="246.00" x2="468.00" y2="247.50" stroke="#aaa" stroke-width="0.6"/>
<text x="468.00" y="255.20" font-size="7.1" text-anchor="middle" fill="#222" stroke="#222" stroke-width="0.18" transform="matrix(1 0 0 1.1 0 -25.520)">80</text>
<text x="420.00" y="265.80" font-size="6.9" text-anchor="middle" fill="#222" stroke="#222" stroke-width="0.18" transform="matrix(1 0 0 1.1 0 -26.580)">tSNE-1</text>
<text x="350.50" y="202.80" font-size="6.9" text-anchor="middle" fill="#222" stroke="#222" stroke-width="0.18" transform="rotate(-90 350.50 202.80) matrix(1 0 0 1.1 0 -20.280)">tSNE-2</text>
<path d="M378.3 177.1h0M412.0 174.3h0M397.2 190.2h0M395.3 198.4h0M384.1 174.2h0M401.9 164.3h0M389.4 174.1h0M400.7 184.4h0M447.1 183.7h0M384.2 176.7h0M403.7 165.2h0M378.5 182.9h0M376.9 176.0h0M383.3 185.3h0M447.8 182.3h0M384.7 186.4h0M389.8 187.0h0M413.5 171.9h0M401.4 172.4h0M398.8 167.6h0M398.9 193.8h0M407.7 166.6h0M448.2 178.8h0M393.4 182.5h0M382.5 199.2h0M414.5 226.6h0M383.9 200.6h0M407.1 181.3h0M397.8 186.3h0M401.4 164.5h0M371.7 173.3h0M409.9 168.9h0M394.5 186.8h0M381.1 201.5h0M381.8 180.5h0M379.7 185.2h0M440.5 173.0h0M440.9 174.9h0M435.8 169.2h0M370.4 177.2h0M394.7 184.5h0M399.2 181.4h0M381.5 179.3h0M419.3 172.6h0M446.1 179.0h0M371.5 178.0h0M391.9 191.6h0M394.4 191.6h0M412.4 172.6h0M405.5 171.2h0M389.4 172.2h0M385.6 186.7h0M394.6 184.1h0M380.8 179.5h0M382.3 180.7h0M440.9 174.8h0M400.9 186.3h0M380.5 180.9h0M390.9 174.8h0M387.9 174.3h0M401.6 178.2h0M383.1 186.9h0M380.8 180.1h0M396.3 178.9h0M438.6 173.9h0M402.1 179.7h0M400.8 169.9h0M394.1 182.0h0M374.7 187.8h0M436.7 171.7h0M403.1 168.4h0M397.0 182.2h0M401.1 217.4h0M396.2 177.8h0M397.2 187.2h0M386.2 187.5h0M400.3 179.3h0M381.9 180.0h0M447.5 183.5h0M376.3 217.6h0M378.2 185.5h0M401.1 173.2h0M395.0 179.2h0M406.1 168.0h0M384.5 199.1h0M400.3 186.8h0M408.3 171.7h0M382.3 183.8h0M384.0 177.2h0M377.9 189.4h0M399.7 172.0h0M390.1 187.5h0M405.8 165.8h0M379.9 185.6h0M401.2 174.2h0M406.4 181.4h0M402.2 179.1h0M400.9 163.4h0M402.4 167.5h0M399.8 183.7h0M376.1 178.0h0M394.0 198.5h0M384.6 175.9h0M408.7 170.5h0M403.5 170.5h0M384.4 182.5h0M404.3 165.1h0M379.8 188.4h0M375.0 175.7h0M383.3 175.0h0M378.9 186.3h0M399.6 167.6h0M378.4 177.3h0M395.1 178.6h0M384.0 181.8h0M399.8 183.7h0M380.9 185.9h0M382.4 180.3h0M378.2 182.3h0M400.7 193.8h0M400.2 172.9h0M385.6 176.1h0M378.0 182.8h0M400.3 178.1h0M381.0 181.3h0M391.4 188.9h0M383.3 179.7h0M400.4 173.8h0M408.2 169.2h0M410.4 170.8h0M393.1 184.6h0M398.6 216.9h0M382.0 199.5h0M447.0 183.0h0M399.6 185.1h0M404.1 167.1h0M396.6 189.1h0M375.9 186.5h0M402.1 169.4h0M387.8 174.4h0M381.3 181.0h0M407.8 170.7h0M397.8 184.3h0M435.4 174.7h0M377.8 188.4h0M406.5 165.2h0M385.9 175.6h0M394.4 185.4h0M409.6 170.2h0M378.2 187.8h0M407.6 170.8h0M378.7 183.0h0M382.6 178.1h0M398.3 178.1h0M385.9 176.6h0M392.8 190.8h0M395.0 196.4h0M408.3 165.6h0M401.2 172.2h0M394.0 192.7h0M381.9 181.1h0M385.4 178.9h0M407.6 165.3h0M436.2 176.8h0M391.9 187.3h0M403.9 166.4h0M436.7 176.6h0M399.3 172.4h0M381.4 178.5h0M398.9 167.8h0M399.2 216.9h0M442.7 175.5h0M401.4 175.3h0M394.2 184.3h0M396.4 182.6h0M380.6 178.9h0M398.1 174.6h0M376.6 177.1h0M379.6 182.7h0M375.5 172.4h0M377.0 178.3h0M383.3 201.5h0M377.2 187.5h0M388.7 173.9h0M404.0 171.0h0M410.6 164.8h0M400.7 218.1h0M405.0 170.5h0M393.5 192.0h0M402.0 169.9h0M386.4 177.2h0M373.6 185.7h0M438.4 175.7h0M385.3 176.0h0M410.1 170.6h0M411.7 168.7h0M391.2 190.4h0M382.0 179.9h0M382.6 186.4h0M380.3 183.4h0M396.3 186.5h0M436.4 169.6h0M447.6 178.0h0M398.1 181.5h0M399.8 185.1h0M394.1 193.7h0M375.2 192.8h0M395.4 181.2h0M392.0 191.8h0M410.6 165.4h0M372.5 175.9h0M395.3 189.8h0M406.1 180.4h0M394.3 182.9h0M401.0 182.6h0M438.0 171.4h0M377.3 178.7h0M439.8 174.4h0M390.8 173.3h0M394.7 185.2h0M442.1 175.6h0M404.7 167.6h0M378.0 186.0h0M379.6 182.7h0M420.8 171.5h0M439.0 174.7h0M391.4 191.2h0M408.0 172.2h0M385.3 175.3h0M395.6 182.3h0M378.7 179.2h0M414.7 225.6h0M397.1 187.9h0M382.1 185.3h0M380.1 178.5h0M401.4 166.4h0M447.7 177.4h0M375.9 192.6h0M413.3 171.4h0M436.7 173.9h0M436.6 175.2h0M395.7 184.9h0M440.5 176.1h0M390.1 171.8h0M371.7 172.8h0M410.3 169.5h0M391.7 188.0h0M413.5 171.7h0M378.7 186.6h0M397.2 177.9h0M437.3 175.1h0M392.7 193.0h0M439.7 171.2h0M381.2 180.4h0M436.2 169.2h0M376.9 177.0h0M377.9 218.4h0M401.7 175.3h0M435.5 168.3h0M377.6 186.0h0M397.0 167.4h0M403.5 168.7h0M408.4 172.5h0M390.0 173.9h0M401.2 185.1h0M378.0 178.1h0M380.2 186.8h0M394.1 179.0h0M378.0 192.6h0M398.9 168.6h0M383.2 184.6h0M371.3 187.7h0M400.7 182.4h0M448.4 182.1h0M403.1 165.6h0M394.4 179.3h0M400.2 169.9h0M382.8 187.2h0M399.2 174.9h0M403.5 169.1h0M446.6 179.4h0M406.0 168.9h0M411.1 168.9h0M377.6 179.4h0M384.9 186.5h0M446.6 183.4h0M397.2 188.7h0M379.4 186.6h0M381.2 185.9h0M392.9 181.9h0M402.1 164.0h0M396.2 187.6h0M373.0 183.8h0M397.0 182.1h0M396.8 186.2h0M383.7 183.7h0M398.7 192.3h0M442.4 174.2h0M441.0 174.7h0M419.8 171.2h0M447.2 179.9h0M411.2 171.4h0M378.1 178.2h0M395.8 189.5h0M397.0 192.5h0M378.3 183.5h0M380.8 185.4h0M404.5 166.8h0M384.3 185.5h0M395.9 177.5h0M381.3 183.7h0M401.4 184.3h0M374.8 217.3h0M410.4 165.7h0M379.5 183.4h0M445.3 178.4h0M403.9 167.0h0M398.2 182.5h0M378.6 180.7h0M400.1 184.6h0M437.3 171.5h0M394.3 187.2h0M376.6 188.9h0M400.8 163.9h0M384.1 175.6h0M436.6 170.1h0M409.4 169.1h0M440.0 175.3h0M376.6 175.7h0M399.4 175.7h0M447.1 179.0h0M404.3 164.9h0M402.1 172.6h0M411.2 174.5h0M395.9 188.5h0M401.0 180.1h0M398.9 179.9h0M399.4 190.9h0M395.4 180.4h0M379.0 178.4h0M447.0 176.9h0M375.1 191.9h0M404.6 167.0h0M401.7 163.8h0M409.0 164.5h0M437.2 170.6h0M383.8 199.3h0M385.0 178.5h0M393.5 184.0h0M398.6 177.0h0M398.4 174.3h0M378.6 179.2h0M398.2 182.8h0M379.2 179.6h0M397.6 181.9h0M378.4 181.4h0M442.4 175.6h0M393.8 179.0h0M394.5 180.8h0M411.0 174.2h0M415.3 171.9h0M399.5 183.8h0" stroke="#fc8d62" stroke-width="1.4" stroke-linecap="round" fill="none"/>
<path d="M409.5 243.0h0M402.5 228.0h0M397.8 234.0h0M400.5 207.8h0M400.2 231.1h0M390.0 203.7h0M414.5 203.5h0M378.7 220.6h0M391.6 225.9h0M396.1 225.9h0M427.2 193.1h0M433.0 207.2h0M408.5 222.8h0M394.6 196.5h0M382.5 216.2h0M389.8 223.3h0M439.1 205.4h0M380.5 210.0h0M428.6 201.4h0M380.8 211.7h0M410.3 222.1h0M429.4 194.6h0M412.6 237.5h0M390.5 193.0h0M428.3 199.1h0M395.4 200.6h0M384.6 195.2h0M409.6 239.2h0M397.2 217.3h0M396.4 218.8h0M431.0 227.0h0M433.2 210.1h0M379.8 213.7h0M405.6 234.2h0M419.0 205.0h0M432.6 182.5h0M427.8 205.3h0M387.9 203.9h0M390.7 211.5h0M426.8 196.0h0M416.3 205.5h0M429.6 225.3h0M431.7 207.6h0M394.7 218.7h0M405.5 205.9h0M415.7 202.1h0M398.9 230.7h0M405.3 215.8h0M388.0 206.5h0M427.8 195.7h0M418.3 237.3h0M429.1 216.4h0M389.9 211.5h0M435.8 210.1h0M435.0 209.3h0M414.2 203.4h0M430.6 194.3h0M415.5 203.9h0M416.0 204.6h0M429.7 190.5h0M377.1 198.8h0M426.4 217.1h0M403.5 236.1h0M416.1 230.0h0M429.1 176.7h0M428.2 197.0h0M395.0 195.5h0M402.9 225.0h0M430.4 229.0h0M435.2 206.5h0M416.2 214.4h0M410.6 223.3h0M432.2 207.2h0M434.4 206.3h0M415.8 231.4h0M407.4 238.8h0M405.9 209.4h0M416.9 231.2h0M415.2 238.3h0M388.4 204.6h0M388.9 211.1h0M399.1 227.1h0M423.6 227.0h0M436.3 209.0h0M399.7 213.6h0M424.2 222.2h0M398.7 234.7h0M427.4 206.6h0M432.0 207.1h0M415.2 205.1h0M383.8 198.0h0M378.5 199.7h0M400.0 218.0h0M411.7 213.6h0M407.8 238.3h0M418.7 214.9h0M409.7 239.9h0M429.8 228.1h0M415.1 202.6h0M417.5 205.1h0M437.8 206.9h0M386.7 204.7h0M429.4 198.1h0M390.2 221.2h0M402.8 197.1h0M429.0 190.9h0M386.4 221.6h0M390.3 224.5h0M408.1 223.7h0M433.7 208.9h0M388.8 222.0h0M389.3 195.9h0M410.7 238.6h0M436.8 206.8h0M414.0 203.1h0M387.8 202.7h0M402.3 208.3h0M402.3 233.3h0M438.9 206.2h0M433.3 211.1h0M414.6 238.3h0M405.8 234.8h0M387.9 201.7h0M427.9 190.3h0M409.3 213.7h0M413.6 183.3h0M390.2 224.0h0M409.7 214.0h0M413.9 239.2h0M435.0 206.6h0M413.8 186.5h0M412.8 236.4h0M416.3 232.6h0M415.4 204.8h0M400.0 228.0h0M412.4 230.7h0M390.6 212.0h0M403.9 225.7h0M409.4 212.8h0M377.4 200.7h0M424.8 197.6h0M432.6 207.2h0M379.3 219.7h0M393.7 221.0h0M408.6 245.5h0M430.9 228.6h0M383.8 196.7h0M396.6 220.1h0M389.6 200.5h0M417.1 235.6h0M430.6 229.1h0M400.2 215.7h0M393.4 222.6h0M389.6 224.1h0M435.4 186.2h0M396.7 196.6h0M408.1 222.4h0M391.7 201.6h0M380.0 201.2h0M387.6 222.1h0M400.7 231.4h0M392.4 226.3h0M428.0 217.4h0M391.2 224.7h0M400.4 215.8h0M425.4 212.6h0M396.5 202.1h0M424.3 226.9h0M397.1 233.6h0M405.0 207.3h0M379.6 219.3h0M415.0 185.3h0M388.5 197.8h0M394.8 229.9h0M388.5 223.0h0M419.8 222.1h0M431.3 211.6h0M402.8 197.7h0M403.1 225.4h0M431.8 228.6h0M389.6 206.2h0M379.3 220.9h0M401.3 206.8h0M411.8 238.4h0M394.9 219.9h0M410.1 239.4h0M390.3 212.5h0M417.5 215.2h0M378.3 198.4h0M410.6 237.1h0M406.7 203.9h0M413.0 238.0h0M423.0 227.1h0M402.3 228.0h0M381.9 216.6h0M428.5 198.1h0M410.3 214.0h0M414.8 239.3h0M396.7 232.7h0M382.6 209.5h0M416.9 241.4h0M387.5 196.4h0M400.8 214.1h0M437.5 204.9h0M428.8 217.6h0M417.3 217.8h0M420.0 227.4h0M439.3 207.6h0M395.6 212.8h0M407.4 243.6h0M400.6 227.5h0M394.8 229.9h0M397.0 232.4h0M410.7 240.1h0M397.2 235.7h0M379.3 219.4h0M386.5 224.4h0M387.0 203.4h0M418.0 226.2h0M391.9 225.7h0M414.8 239.9h0M412.9 207.4h0M386.0 205.6h0M408.4 221.7h0M405.2 205.2h0M399.3 212.5h0M387.7 221.8h0M424.1 219.5h0M395.2 220.1h0M390.2 205.2h0M393.6 219.0h0M390.1 224.0h0M417.4 236.6h0M405.6 234.4h0M411.1 207.9h0M435.0 205.6h0M427.9 206.7h0M414.3 203.5h0M439.6 206.1h0M423.7 221.3h0M411.8 238.4h0M428.4 216.6h0M414.2 238.0h0M414.9 206.8h0M397.4 234.6h0M404.9 217.9h0M411.2 221.2h0M417.6 213.0h0M405.5 223.1h0M421.4 211.7h0M399.3 227.0h0M404.0 197.7h0M388.6 203.7h0M397.8 233.0h0M428.3 196.6h0M424.1 221.6h0M380.1 218.2h0M393.8 228.5h0M400.3 226.5h0M381.6 194.1h0M418.3 204.3h0M414.6 236.3h0M395.2 231.3h0M377.9 198.5h0M404.9 216.1h0M398.7 217.1h0M437.4 207.3h0M433.8 183.4h0M399.1 227.8h0M387.7 220.7h0M379.4 200.4h0M402.8 216.7h0M397.0 213.1h0M397.2 231.1h0M430.5 226.8h0M431.5 209.5h0M411.4 230.8h0M393.6 222.7h0M433.0 212.6h0M418.8 226.0h0M407.3 243.5h0M398.2 231.9h0M380.7 221.6h0M387.2 205.8h0M402.6 218.5h0M423.0 226.9h0M425.0 182.4h0M417.4 223.8h0M413.2 182.7h0M415.2 238.2h0M393.8 221.7h0M380.3 211.5h0M397.1 225.3h0M410.8 212.7h0M410.6 215.3h0M424.1 221.1h0M412.8 181.7h0M412.8 208.2h0M430.9 208.8h0M399.3 214.9h0M390.0 203.6h0M428.2 199.0h0M403.7 226.6h0M394.1 228.8h0M409.4 212.7h0M409.9 213.0h0M397.4 227.6h0M400.3 215.6h0M398.0 212.9h0M436.1 205.6h0M385.5 201.8h0M411.5 208.4h0M431.2 195.2h0M396.5 234.6h0M378.6 221.1h0M413.9 239.0h0M405.3 234.8h0M406.7 239.4h0M424.7 222.1h0M417.4 245.1h0M418.6 242.9h0M435.3 205.9h0M407.1 242.7h0M432.6 184.4h0M408.6 238.9h0M416.7 230.5h0M397.9 225.9h0M401.5 216.7h0M428.6 195.5h0M398.5 231.2h0M390.4 214.0h0M419.8 218.3h0M388.9 208.9h0M401.4 228.7h0M400.6 227.7h0M387.8 202.5h0M389.4 225.6h0M389.8 203.8h0M410.4 241.9h0M396.1 230.8h0M411.1 206.9h0M422.5 183.7h0M396.5 233.5h0M414.0 184.9h0M403.3 198.2h0M415.9 202.8h0M409.7 212.6h0M390.6 226.5h0M378.6 219.6h0M418.9 213.2h0M387.9 224.2h0M396.5 201.2h0M395.6 219.4h0M425.3 184.5h0M417.4 204.5h0M405.0 236.5h0M398.1 231.8h0M402.8 197.5h0M436.6 207.5h0M396.1 221.1h0M427.2 206.7h0M413.8 181.5h0M387.3 203.7h0M417.5 214.0h0M411.9 239.0h0M387.8 224.5h0M396.6 232.4h0M409.6 215.0h0M399.3 225.5h0M411.3 208.8h0M431.5 229.4h0M379.9 193.5h0M402.3 228.8h0M382.4 197.0h0M403.4 218.5h0M417.9 238.2h0M388.4 197.7h0M405.8 226.5h0M400.7 231.2h0M379.4 218.9h0M394.1 220.5h0M415.5 238.3h0M410.8 237.6h0M384.8 197.1h0M415.5 205.6h0M377.9 197.5h0M396.9 235.5h0M399.8 216.3h0M396.0 226.7h0M409.1 241.9h0M429.6 226.9h0M399.5 224.7h0M387.8 212.1h0M421.6 227.3h0M400.3 214.6h0M393.3 218.8h0M378.6 199.5h0M395.9 228.4h0M406.5 208.5h0M395.5 195.8h0M412.6 230.7h0M408.8 222.4h0M378.4 218.7h0M384.8 196.9h0M424.9 205.3h0M429.3 189.8h0M400.5 228.0h0M384.8 224.6h0M388.7 209.8h0M399.1 230.5h0M389.2 206.6h0M426.5 198.6h0M402.3 220.5h0M387.1 205.2h0M388.7 195.8h0M395.9 234.7h0M402.9 220.7h0M397.6 227.5h0M424.7 221.3h0M399.0 225.5h0M432.8 209.3h0M377.5 201.3h0M422.9 221.1h0M387.8 206.2h0M413.6 185.4h0M428.5 198.8h0M420.3 225.3h0M387.4 208.9h0M398.5 227.7h0M391.6 211.3h0M429.3 198.9h0M420.1 220.9h0M434.8 209.3h0M428.2 215.8h0M420.0 217.9h0M407.2 237.6h0M403.7 197.8h0M386.0 224.5h0M418.9 237.8h0M419.4 220.4h0M397.9 232.4h0M402.5 207.7h0M402.7 219.2h0M424.8 205.6h0M410.5 222.5h0M426.4 178.8h0M426.8 204.7h0M388.8 197.0h0M419.7 238.0h0M384.4 196.6h0M398.7 207.4h0M381.9 194.2h0M412.6 203.5h0M410.8 207.9h0M394.8 227.9h0M426.5 185.1h0M389.1 202.7h0M396.5 234.8h0M387.2 206.4h0M382.3 215.5h0M409.7 223.1h0M390.0 211.6h0M388.7 205.7h0M402.6 218.8h0M413.1 206.1h0M390.0 221.3h0M428.8 198.4h0M411.2 207.4h0M418.8 206.2h0M389.6 211.4h0M407.8 240.8h0M398.8 216.8h0M386.4 223.2h0M404.9 226.9h0M383.2 223.0h0M399.8 219.2h0M401.4 215.1h0M393.2 225.1h0M388.1 194.6h0M384.9 195.9h0M404.1 225.7h0M397.5 227.0h0M412.9 239.7h0M433.4 210.6h0M422.7 222.2h0M408.1 238.7h0M385.1 224.2h0M402.4 219.4h0M388.2 205.8h0M411.7 206.6h0M402.5 230.8h0M429.2 195.7h0M415.5 242.8h0M410.2 215.3h0M398.9 226.4h0M417.8 213.0h0M395.3 220.0h0M398.3 231.1h0M399.7 219.3h0M396.8 232.9h0M401.5 206.9h0M397.6 201.2h0M416.7 236.2h0M398.3 230.9h0M387.7 195.9h0M403.8 222.5h0M395.7 232.5h0M401.3 227.3h0M407.0 235.0h0M412.5 237.7h0M396.6 230.4h0M406.6 222.1h0M403.7 219.3h0" stroke="#8da0cb" stroke-width="1.4" stroke-linecap="round" fill="none"/>
<path d="M464.2 199.9h0M440.7 191.6h0M463.6 203.7h0M441.2 207.4h0M451.0 200.1h0M453.8 192.8h0M463.3 203.8h0M442.9 188.9h0M451.9 226.1h0M454.2 223.4h0M455.8 196.7h0M455.1 222.9h0M455.0 222.0h0M459.8 194.7h0M444.6 207.0h0M451.4 221.5h0M463.5 201.3h0M464.6 193.2h0M452.4 203.6h0M454.3 190.9h0M458.9 199.3h0M446.7 203.4h0M453.3 199.8h0M453.0 223.8h0M454.0 220.8h0M467.9 200.1h0M443.2 208.4h0M460.5 188.6h0M460.3 187.7h0M455.0 195.6h0M451.1 222.0h0M447.0 187.2h0M462.5 202.1h0M467.9 202.4h0M464.7 192.8h0M440.7 203.9h0M452.2 197.0h0M454.2 195.9h0M465.5 189.4h0M451.2 222.2h0M446.8 204.0h0M449.8 202.4h0M456.1 193.7h0M437.3 189.2h0M451.4 223.8h0M439.3 206.1h0M447.5 201.9h0M439.4 190.9h0M448.2 198.4h0M439.1 204.1h0M462.5 203.3h0M445.5 193.7h0M452.9 193.9h0M437.4 204.4h0M451.4 223.9h0M454.8 199.8h0M458.0 202.7h0M459.5 199.3h0M440.4 191.1h0M461.4 206.1h0M445.8 202.9h0M449.3 220.5h0M448.3 198.2h0M463.6 193.3h0M448.0 202.4h0M440.0 191.7h0M454.6 221.7h0M459.4 189.6h0M455.0 221.5h0M446.7 203.1h0M451.7 223.4h0M439.4 203.8h0M453.4 221.3h0M458.2 203.9h0M464.3 190.7h0M449.0 213.3h0M457.6 193.8h0M457.0 194.2h0M446.8 202.6h0M437.3 191.2h0M457.4 203.2h0M442.1 192.0h0M458.9 193.0h0M450.7 203.2h0M445.5 194.7h0M452.5 203.4h0M447.3 203.8h0M448.2 195.7h0M452.9 224.5h0M450.0 200.0h0M450.2 198.2h0M456.5 203.7h0M458.2 199.0h0M439.4 191.0h0M452.1 190.1h0M452.6 191.7h0M434.9 189.4h0M452.8 199.0h0M455.9 202.0h0M448.1 211.2h0M460.9 187.8h0M450.9 201.8h0M446.6 203.1h0M452.5 222.6h0M451.2 198.1h0M440.1 212.1h0M463.5 192.4h0M440.4 204.5h0M453.4 191.6h0M451.3 220.3h0M454.3 226.3h0M460.3 188.2h0M447.7 204.5h0M465.8 201.5h0M454.9 195.9h0M453.1 194.6h0M457.8 187.7h0M450.0 197.3h0M450.0 197.7h0M458.4 193.4h0M462.7 203.2h0M455.0 221.8h0M450.2 198.0h0M444.3 205.4h0M448.1 202.8h0M452.8 202.4h0M464.6 202.1h0M458.4 199.5h0M450.7 195.6h0M440.3 208.0h0M438.4 203.4h0M444.7 206.8h0M439.6 204.9h0M450.0 222.9h0M446.9 212.0h0M460.9 187.9h0M463.0 205.1h0M438.7 211.4h0M462.4 203.8h0M452.4 193.2h0M457.3 188.1h0M463.2 203.3h0M464.4 193.5h0M457.4 195.1h0M450.3 198.9h0M449.3 199.3h0M449.0 198.2h0M437.5 209.5h0M456.3 222.0h0M439.0 205.0h0M455.9 196.1h0M459.5 203.0h0M458.0 186.9h0M446.7 196.5h0M446.4 203.1h0M454.6 220.5h0M442.5 207.5h0M446.5 202.7h0M450.5 221.8h0M436.6 200.1h0M443.4 194.6h0M459.0 199.2h0M451.7 201.4h0M445.9 203.2h0M441.2 208.1h0M458.9 193.5h0M447.6 186.3h0M437.8 209.1h0M437.7 208.7h0M460.3 198.9h0M452.6 222.7h0M451.9 221.8h0M447.6 202.5h0M446.5 189.0h0M457.2 188.6h0M454.1 225.0h0M464.6 193.4h0M446.6 211.9h0M436.3 192.0h0M453.3 224.8h0M460.4 186.3h0M457.6 202.5h0M449.0 198.8h0M462.5 188.2h0M440.4 204.4h0M439.1 205.9h0M453.5 225.4h0M437.9 198.2h0M458.4 197.6h0M452.3 222.3h0M441.1 203.2h0M460.1 188.6h0M451.6 221.8h0M448.1 197.5h0M456.0 198.4h0M448.4 202.6h0M455.5 221.4h0M452.6 223.4h0M463.0 194.2h0M447.8 193.6h0M460.6 197.8h0M444.0 194.3h0M458.7 193.9h0M448.2 197.3h0M457.5 190.1h0M448.2 201.5h0M455.2 221.9h0M452.4 193.2h0M453.9 197.6h0M459.6 199.4h0M437.9 189.8h0M464.6 201.0h0M467.6 201.7h0M439.2 205.4h0M460.5 193.4h0M453.0 197.2h0M446.9 204.5h0M456.0 194.0h0M447.4 203.6h0M458.0 191.9h0" stroke="#66c2a5" stroke-width="1.4" stroke-linecap="round" fill="none"/>
<text x="474.70" y="193.80" font-size="7" text-anchor="start" fill="#111" stroke="#111" stroke-width="0.18" transform="matrix(1 0 0 1.1 0 -19.380)">Clusters</text>
<circle cx="477.6" cy="199.2" r="1.15" fill="#66c2a5"/>
<text x="480.90" y="201.40" font-size="6" text-anchor="start" fill="#222" stroke="#222" stroke-width="0.18" transform="matrix(1 0 0 1.1 0 -20.140)">1</text>
<circle cx="477.6" cy="207.4" r="1.15" fill="#fc8d62"/>
<text x="480.90" y="209.60" font-size="6" text-anchor="start" fill="#222" stroke="#222" stroke-width="0.18" transform="matrix(1 0 0 1.1 0 -20.960)">2</text>
<circle cx="477.6" cy="215.3" r="1.15" fill="#8da0cb"/>
<text x="480.90" y="217.50" font-size="6" text-anchor="start" fill="#222" stroke="#222" stroke-width="0.18" transform="matrix(1 0 0 1.1 0 -21.750)">3</text>
<text x="525.50" y="152.90" font-size="13.5" text-anchor="start" fill="#000" stroke="#000" stroke-width="0.35" font-weight="bold" transform="matrix(1 0 0 1.1 0 -15.290)">e</text>
<text x="544.20" y="155.80" font-size="8.45" text-anchor="start" fill="#111" stroke="#111" stroke-width="0.18" transform="matrix(1 0 0 1.1 0 -15.580)">Astrocyte distribution, %</text>
<line x1="540.90" y1="161.00" x2="540.90" y2="246.40" stroke="#aaa" stroke-width="0.6"/>
<line x1="540.90" y1="246.40" x2="640.50" y2="246.40" stroke="#aaa" stroke-width="0.6"/>
<line x1="539.40" y1="242.50" x2="540.90" y2="242.50" stroke="#aaa" stroke-width="0.6"/>
<text x="537.80" y="245.00" font-size="7.1" text-anchor="end" fill="#222" stroke="#222" stroke-width="0.18" transform="matrix(1 0 0 1.1 0 -24.500)">0</text>
<line x1="539.40" y1="223.20" x2="540.90" y2="223.20" stroke="#aaa" stroke-width="0.6"/>
<text x="537.80" y="225.70" font-size="7.1" text-anchor="end" fill="#222" stroke="#222" stroke-width="0.18" transform="matrix(1 0 0 1.1 0 -22.570)">25</text>
<line x1="539.40" y1="203.90" x2="540.90" y2="203.90" stroke="#aaa" stroke-width="0.6"/>
<text x="537.80" y="206.40" font-size="7.1" text-anchor="end" fill="#222" stroke="#222" stroke-width="0.18" transform="matrix(1 0 0 1.1 0 -20.640)">50</text>
<line x1="539.40" y1="184.60" x2="540.90" y2="184.60" stroke="#aaa" stroke-width="0.6"/>
<text x="537.80" y="187.10" font-size="7.1" text-anchor="end" fill="#222" stroke="#222" stroke-width="0.18" transform="matrix(1 0 0 1.1 0 -18.710)">75</text>
<line x1="539.40" y1="165.30" x2="540.90" y2="165.30" stroke="#aaa" stroke-width="0.6"/>
<text x="537.80" y="167.80" font-size="7.1" text-anchor="end" fill="#222" stroke="#222" stroke-width="0.18" transform="matrix(1 0 0 1.1 0 -16.780)">100</text>
<rect x="548.30" y="165.30" width="22.00" height="77.20" fill="#edc9a9" />
<rect x="548.30" y="230.15" width="22.00" height="12.35" fill="#02968f" />
<rect x="548.30" y="231.69" width="22.00" height="10.81" fill="#6cc9c8" />
<line x1="559.30" y1="246.40" x2="559.30" y2="248.00" stroke="#aaa" stroke-width="0.6"/>
<text x="559.30" y="255.70" font-size="7.8" text-anchor="middle" fill="#222" stroke="#222" stroke-width="0.18" transform="matrix(1 0 0 1.1 0 -25.570)">1</text>
<rect x="579.70" y="165.30" width="22.00" height="77.20" fill="#edc9a9" />
<rect x="579.70" y="174.56" width="22.00" height="67.94" fill="#02968f" />
<rect x="579.70" y="215.48" width="22.00" height="27.02" fill="#6cc9c8" />
<line x1="590.70" y1="246.40" x2="590.70" y2="248.00" stroke="#aaa" stroke-width="0.6"/>
<text x="590.70" y="255.70" font-size="7.8" text-anchor="middle" fill="#222" stroke="#222" stroke-width="0.18" transform="matrix(1 0 0 1.1 0 -25.570)">2</text>
<rect x="610.80" y="165.30" width="22.00" height="77.20" fill="#edc9a9" />
<rect x="610.80" y="193.86" width="22.00" height="48.64" fill="#02968f" />
<rect x="610.80" y="217.02" width="22.00" height="25.48" fill="#6cc9c8" />
<line x1="621.80" y1="246.40" x2="621.80" y2="248.00" stroke="#aaa" stroke-width="0.6"/>
<text x="621.80" y="255.70" font-size="7.8" text-anchor="middle" fill="#222" stroke="#222" stroke-width="0.18" transform="matrix(1 0 0 1.1 0 -25.570)">3</text>
<text x="590.60" y="266.20" font-size="7.0" text-anchor="middle" fill="#222" stroke="#222" stroke-width="0.18" transform="matrix(1 0 0 1.1 0 -26.620)">Clusters</text>
<text x="645.40" y="197.00" font-size="6.9" text-anchor="start" fill="#111" stroke="#111" stroke-width="0.18" transform="matrix(1 0 0 1.1 0 -19.700)">Brain area</text>
<rect x="645.20" y="201.00" width="4.60" height="5.80" fill="#edc9a9" />
<text x="651.00" y="205.60" font-size="5.5" text-anchor="start" fill="#333" stroke="#333" stroke-width="0.18" transform="matrix(1 0 0 1.1 0 -20.560)">CA1</text>
<rect x="645.20" y="206.80" width="4.60" height="5.80" fill="#02968f" />
<text x="651.00" y="211.40" font-size="5.5" text-anchor="start" fill="#333" stroke="#333" stroke-width="0.18" transform="matrix(1 0 0 1.1 0 -21.140)">L1</text>
<rect x="645.20" y="212.60" width="4.60" height="5.80" fill="#6cc9c8" />
<text x="651.00" y="217.20" font-size="5.5" text-anchor="start" fill="#333" stroke="#333" stroke-width="0.18" transform="matrix(1 0 0 1.1 0 -21.720)">L3–5</text>
<text x="1.50" y="302.30" font-size="14" text-anchor="start" fill="#000" stroke="#000" stroke-width="0.35" font-weight="bold" transform="matrix(1 0 0 1.1 0 -30.230)">c</text>
<line x1="17.10" y1="314.60" x2="17.10" y2="371.40" stroke="#aaa" stroke-width="0.6"/>
<line x1="17.10" y1="371.40" x2="132.10" y2="371.40" stroke="#aaa" stroke-width="0.6"/>
<line x1="15.60" y1="368.80" x2="17.10" y2="368.80" stroke="#aaa" stroke-width="0.6"/>
<text x="13.80" y="371.40" font-size="7.1" text-anchor="end" fill="#222" stroke="#222" stroke-width="0.18" transform="matrix(1 0 0 1.1 0 -37.140)">0</text>
<line x1="15.60" y1="355.40" x2="17.10" y2="355.40" stroke="#aaa" stroke-width="0.6"/>
<text x="13.80" y="358.00" font-size="7.1" text-anchor="end" fill="#222" stroke="#222" stroke-width="0.18" transform="matrix(1 0 0 1.1 0 -35.800)">2</text>
<line x1="15.60" y1="342.00" x2="17.10" y2="342.00" stroke="#aaa" stroke-width="0.6"/>
<text x="13.80" y="344.60" font-size="7.1" text-anchor="end" fill="#222" stroke="#222" stroke-width="0.18" transform="matrix(1 0 0 1.1 0 -34.460)">4</text>
<line x1="15.60" y1="328.60" x2="17.10" y2="328.60" stroke="#aaa" stroke-width="0.6"/>
<text x="13.80" y="331.20" font-size="7.1" text-anchor="end" fill="#222" stroke="#222" stroke-width="0.18" transform="matrix(1 0 0 1.1 0 -33.120)">6</text>
<line x1="15.60" y1="315.20" x2="17.10" y2="315.20" stroke="#aaa" stroke-width="0.6"/>
<text x="13.80" y="317.80" font-size="7.1" text-anchor="end" fill="#222" stroke="#222" stroke-width="0.18" transform="matrix(1 0 0 1.1 0 -31.780)">8</text>
<line x1="38.66" y1="371.40" x2="38.66" y2="372.90" stroke="#aaa" stroke-width="0.6"/>
<text x="38.66" y="378.90" font-size="5.6" text-anchor="middle" fill="#222" stroke="#222" stroke-width="0.18" transform="matrix(1 0 0 1.1 0 -37.890)">CA1</text>
<line x1="74.60" y1="371.40" x2="74.60" y2="372.90" stroke="#aaa" stroke-width="0.6"/>
<text x="74.60" y="378.90" font-size="5.6" text-anchor="middle" fill="#222" stroke="#222" stroke-width="0.18" transform="matrix(1 0 0 1.1 0 -37.890)">L1</text>
<line x1="110.54" y1="371.40" x2="110.54" y2="372.90" stroke="#aaa" stroke-width="0.6"/>
<text x="110.54" y="378.90" font-size="5.6" text-anchor="middle" fill="#222" stroke="#222" stroke-width="0.18" transform="matrix(1 0 0 1.1 0 -37.890)">L3–5</text>
<text x="32.20" y="310.60" font-size="8.45" text-anchor="start" fill="#111" stroke="#111" stroke-width="0.18" transform="matrix(1 0 0 1.1 0 -31.060)">Mean amplitude, dF/F<tspan font-size="5.9" dy="1.9">0</tspan></text>
<path d="M26.1 357.6h0M30.9 360.2h0M28.3 357.5h0M31.0 359.7h0M29.1 352.4h0M28.9 356.5h0M29.2 358.2h0M28.8 360.9h0M27.0 356.0h0M28.9 353.4h0M27.6 361.5h0M30.8 361.4h0M27.7 357.5h0M27.0 357.2h0M28.0 359.0h0M65.9 354.5h0M62.8 356.4h0M65.3 356.3h0M65.9 354.1h0M64.4 357.4h0M62.9 360.1h0M64.6 352.6h0M66.3 358.6h0M63.8 361.0h0M64.1 355.5h0M63.0 358.2h0M62.8 358.6h0M63.2 355.9h0M64.5 359.3h0M63.6 358.4h0" stroke="#2e2496" stroke-opacity="0.34" stroke-width="2.60" stroke-linecap="round" fill="none"/>
<path d="M38.7 359.1h0M40.2 360.8h0M38.2 360.7h0M39.4 354.3h0M38.3 359.7h0M38.2 357.0h0M37.1 355.8h0M39.0 361.5h0M40.2 360.9h0M37.0 359.6h0M75.3 354.1h0M75.5 357.3h0M72.1 355.3h0M75.8 360.7h0M74.8 358.9h0M73.0 360.6h0M76.7 361.4h0M72.8 359.3h0" stroke="#c0359e" stroke-opacity="0.34" stroke-width="2.60" stroke-linecap="round" fill="none"/>
<path d="M49.0 358.5h0M54.4 357.8h0M47.6 356.2h0M49.5 352.5h0M49.1 359.2h0M49.9 354.9h0M49.1 355.6h0M52.0 358.5h0M47.3 359.7h0M45.0 358.0h0M49.5 353.7h0M49.7 357.3h0M50.5 357.7h0M49.5 353.1h0M45.6 360.5h0M46.7 358.1h0M49.5 358.3h0M48.6 360.4h0M45.0 356.0h0M48.8 359.5h0M87.1 351.6h0M83.6 349.8h0M87.6 357.0h0M82.6 352.2h0M83.2 356.6h0M89.2 354.5h0M84.7 346.6h0M84.6 357.9h0M85.4 346.1h0M86.5 352.8h0M84.2 351.9h0M85.3 350.1h0M83.9 353.5h0M85.3 354.2h0M86.7 356.7h0M85.8 350.1h0M85.4 357.5h0M84.0 350.2h0M80.6 356.0h0M85.7 355.5h0M83.7 355.1h0M84.1 351.5h0M83.3 355.9h0M80.3 356.0h0M85.1 359.6h0M83.9 358.5h0M86.1 357.8h0M83.6 355.9h0M81.4 358.4h0M84.9 349.4h0M84.0 355.6h0M79.0 353.7h0M84.9 355.3h0M84.7 361.2h0M83.9 348.4h0M79.3 356.1h0M83.0 355.8h0M81.8 351.1h0M83.0 353.0h0M83.8 353.2h0M84.0 356.1h0M86.4 359.2h0M85.5 352.3h0M85.2 358.7h0M84.2 351.8h0M87.0 356.1h0M124.0 359.6h0M122.4 348.7h0M121.5 357.2h0M121.0 355.8h0M120.5 350.0h0M120.7 358.9h0M120.6 351.5h0M118.6 352.3h0M121.8 350.1h0M118.0 356.9h0M120.8 354.5h0M120.0 359.3h0M121.4 351.2h0M117.4 356.5h0M121.3 358.5h0M120.1 353.9h0M119.6 352.6h0M119.9 353.9h0M119.0 350.8h0M120.9 352.3h0M118.4 360.6h0M123.6 353.3h0M121.7 355.0h0M120.2 354.1h0M121.6 355.9h0M119.7 357.5h0M122.7 353.0h0M122.5 353.6h0M118.5 355.3h0M120.2 352.3h0M118.8 358.2h0M122.0 357.9h0" stroke="#f89e2a" stroke-opacity="0.34" stroke-width="2.60" stroke-linecap="round" fill="none"/>
<path d="M83.4 328.6h0" stroke="#f89e2a" stroke-opacity="0.52" stroke-width="2.20" stroke-linecap="round" fill="none"/>
<path d="M101.5 360.7h0M102.6 358.2h0M99.4 356.8h0M102.8 359.3h0M103.4 356.7h0" stroke="#2e2496" stroke-opacity="0.27" stroke-width="2.90" stroke-linecap="round" fill="none"/>
<path d="M109.4 358.0h0M108.3 360.7h0M112.1 362.0h0M112.5 360.4h0M107.5 359.0h0M109.4 356.7h0M110.8 357.5h0M108.9 357.5h0" stroke="#c0359e" stroke-opacity="0.27" stroke-width="2.90" stroke-linecap="round" fill="none"/>
<path d="M29.2 357.1h0M29.2 362.1h0M28.1 358.7h0M28.8 358.6h0M28.3 359.3h0M29.8 359.9h0M29.3 355.0h0M30.1 361.3h0M28.1 358.8h0M29.5 355.6h0M28.5 357.6h0M30.6 361.6h0M28.6 358.4h0M30.9 358.9h0M67.1 359.4h0M63.2 353.9h0M64.4 360.2h0M66.4 355.4h0M64.9 353.7h0M64.4 356.2h0M66.3 361.7h0M66.8 361.7h0M66.2 357.8h0M65.2 353.3h0M65.0 358.8h0M66.3 357.9h0M64.8 358.2h0" stroke="#2e2496" stroke-opacity="0.34" stroke-width="2.60" stroke-linecap="round" fill="none"/>
<path d="M40.7 358.8h0M37.6 359.4h0M37.9 359.1h0M39.0 359.1h0M39.0 356.3h0M37.5 361.2h0M37.6 357.7h0M37.5 357.8h0M39.2 362.1h0M35.6 359.7h0M40.9 359.0h0M36.7 356.6h0M38.4 358.9h0M40.1 357.3h0M40.4 361.1h0M38.7 355.9h0M37.4 356.1h0M73.4 358.2h0M71.5 359.7h0M73.3 359.0h0M72.5 356.6h0M74.1 357.4h0M72.8 356.6h0M73.8 359.4h0M74.0 357.1h0M75.6 359.8h0M75.4 354.0h0M74.5 358.8h0M73.4 361.8h0" stroke="#c0359e" stroke-opacity="0.34" stroke-width="2.60" stroke-linecap="round" fill="none"/>
<path d="M45.8 354.6h0M50.0 355.1h0M48.6 356.5h0M47.7 356.9h0M44.0 358.7h0M48.2 355.3h0M48.3 355.2h0M45.7 357.2h0M48.5 355.8h0M51.3 358.1h0M46.6 356.0h0M49.3 358.1h0M47.8 360.7h0M49.1 353.3h0M48.7 359.3h0M48.1 354.5h0M49.4 358.5h0M51.7 357.2h0M48.8 353.0h0M46.6 358.7h0M48.6 353.9h0M47.1 356.8h0M49.1 353.9h0M53.2 357.2h0M47.2 357.6h0M50.2 355.8h0M47.5 354.4h0M48.9 359.4h0M46.2 358.6h0M50.8 358.1h0M45.9 356.0h0M47.3 357.5h0M49.3 358.2h0M50.0 353.7h0M47.7 360.3h0M48.2 360.5h0M82.3 357.4h0M85.7 354.6h0M82.2 359.2h0M80.1 356.0h0M86.7 352.4h0M82.5 357.2h0M85.0 354.3h0M83.6 352.2h0M83.7 350.3h0M85.3 354.1h0M82.2 354.0h0M85.5 347.8h0M85.0 346.5h0M82.3 355.5h0M85.1 357.7h0M81.8 352.3h0M83.2 359.6h0M83.2 356.5h0M84.7 355.2h0M83.0 357.5h0M83.4 357.7h0M83.5 351.0h0M87.4 357.1h0M83.3 345.7h0M85.1 356.6h0M84.3 357.4h0M84.9 354.0h0M82.7 353.1h0M81.1 356.9h0M85.5 360.3h0M83.4 350.7h0M87.0 353.4h0M88.2 357.9h0M83.9 353.9h0M82.1 351.6h0M84.9 357.5h0M81.0 354.4h0M83.1 359.5h0M81.4 353.8h0M87.4 354.0h0M83.8 359.8h0M83.6 351.3h0M86.6 353.6h0M87.9 357.0h0M85.2 354.8h0M85.9 359.0h0M89.0 357.9h0M86.5 354.1h0M84.5 351.6h0M119.4 352.1h0M121.3 356.0h0M119.4 360.1h0M118.1 357.5h0M119.9 353.1h0M120.9 357.3h0M119.5 354.2h0M118.4 356.6h0M125.4 354.2h0M119.5 356.9h0M122.9 352.1h0M117.8 359.9h0M121.7 348.6h0M120.9 359.9h0M119.5 354.5h0M125.1 355.0h0M120.3 347.3h0M119.3 348.2h0M119.7 353.0h0M121.4 360.9h0M121.0 355.1h0M119.9 352.0h0M118.2 360.1h0M118.6 352.9h0M120.1 354.7h0M122.0 350.9h0M120.5 353.2h0M119.6 354.7h0M120.4 349.4h0M119.0 357.5h0M122.2 359.2h0M119.6 345.4h0M122.7 353.6h0M119.8 352.0h0M120.3 359.6h0M119.5 355.5h0M119.1 360.8h0M115.9 358.5h0" stroke="#f89e2a" stroke-opacity="0.34" stroke-width="2.60" stroke-linecap="round" fill="none"/>
<path d="M99.1 355.2h0M103.8 359.7h0M103.0 358.7h0M103.2 362.1h0M100.1 356.6h0M98.3 361.0h0M100.8 358.4h0M103.3 357.2h0M101.7 360.2h0M97.6 358.1h0M98.5 361.2h0" stroke="#2e2496" stroke-opacity="0.27" stroke-width="2.90" stroke-linecap="round" fill="none"/>
<path d="M111.9 359.1h0M110.9 359.4h0M107.7 357.3h0M108.8 358.7h0M111.0 355.1h0M110.4 362.0h0M109.4 359.1h0M113.0 357.3h0M110.5 360.2h0M109.5 358.8h0" stroke="#c0359e" stroke-opacity="0.27" stroke-width="2.90" stroke-linecap="round" fill="none"/>
<path d="M28.8 361.6h0M27.3 360.4h0M30.1 359.3h0M29.1 358.5h0M31.4 360.0h0M26.6 357.3h0M28.9 358.6h0M28.8 355.6h0M28.7 356.5h0M66.3 360.5h0M65.1 353.8h0M68.3 360.3h0M65.2 357.5h0M65.8 357.8h0M66.2 357.5h0M66.6 355.8h0M63.4 360.9h0M64.4 355.9h0M65.6 359.0h0M65.2 355.3h0M63.1 355.7h0M63.7 356.2h0M64.9 361.4h0M64.8 357.0h0" stroke="#2e2496" stroke-opacity="0.34" stroke-width="2.60" stroke-linecap="round" fill="none"/>
<path d="M36.7 357.1h0M38.8 361.2h0M40.6 360.5h0M38.0 356.2h0M39.5 359.1h0M39.2 356.0h0M74.0 358.3h0M75.2 355.9h0M76.0 360.8h0M74.5 356.6h0M75.0 355.0h0M73.7 360.6h0M79.3 357.7h0M73.4 358.7h0M74.4 353.6h0M75.6 358.6h0M74.9 352.5h0M73.8 359.9h0M75.4 357.2h0M73.9 356.9h0" stroke="#c0359e" stroke-opacity="0.34" stroke-width="2.60" stroke-linecap="round" fill="none"/>
<path d="M49.5 353.8h0M49.5 359.3h0M44.3 358.4h0M47.8 360.6h0M48.5 360.2h0M46.4 360.9h0M48.9 350.9h0M46.2 352.8h0M46.8 359.0h0M48.3 360.2h0M47.9 354.6h0M49.7 355.1h0M46.6 359.6h0M48.3 359.0h0M51.5 358.1h0M46.8 352.7h0M45.0 358.2h0M47.5 356.8h0M49.2 356.9h0M47.6 359.6h0M48.8 356.8h0M48.9 355.6h0M46.8 358.5h0M51.8 358.2h0M49.5 358.4h0M83.1 353.0h0M83.6 356.6h0M79.3 353.7h0M83.2 356.7h0M85.0 354.8h0M81.8 358.4h0M83.6 353.4h0M87.0 355.1h0M83.3 360.2h0M83.3 348.1h0M84.3 360.7h0M85.7 354.2h0M83.4 355.5h0M84.6 356.2h0M85.3 360.6h0M89.9 357.3h0M83.0 355.4h0M84.9 352.7h0M89.0 355.7h0M84.2 360.3h0M84.8 349.3h0M84.1 358.0h0M84.1 345.7h0M81.9 355.5h0M86.4 354.0h0M82.6 353.0h0M81.8 357.4h0M83.3 354.6h0M86.1 358.8h0M84.5 350.5h0M82.4 360.6h0M86.4 358.5h0M83.2 350.0h0M83.5 347.7h0M86.0 354.9h0M81.4 355.9h0M85.8 357.4h0M84.8 349.7h0M86.5 354.2h0M82.7 356.7h0M118.6 356.2h0M120.4 350.9h0M124.5 355.9h0M122.5 359.2h0M121.9 355.6h0M117.9 357.2h0M123.1 353.5h0M118.4 359.7h0M119.2 354.1h0M123.0 355.6h0M121.6 353.0h0M124.8 354.2h0M123.7 354.8h0M116.5 357.1h0M120.8 356.8h0M119.7 354.5h0M119.3 351.5h0M121.8 358.0h0M119.4 356.6h0M117.8 355.8h0M120.7 358.5h0M122.4 350.0h0M119.0 353.1h0M122.8 357.7h0M123.8 357.7h0M118.9 356.8h0M120.6 359.0h0M119.5 360.0h0M123.9 352.9h0M115.6 354.9h0M120.2 355.4h0M120.5 360.1h0M121.3 350.7h0M120.7 360.9h0M120.3 350.6h0" stroke="#f89e2a" stroke-opacity="0.34" stroke-width="2.60" stroke-linecap="round" fill="none"/>
<path d="M102.5 358.2h0M100.4 360.4h0M100.4 361.2h0M103.0 358.6h0M102.8 361.0h0M100.8 356.4h0M102.6 359.8h0" stroke="#2e2496" stroke-opacity="0.27" stroke-width="2.90" stroke-linecap="round" fill="none"/>
<path d="M112.0 355.6h0M112.1 357.7h0M108.1 361.1h0M109.5 358.3h0M112.0 356.7h0M108.6 359.7h0M112.5 359.0h0" stroke="#c0359e" stroke-opacity="0.27" stroke-width="2.90" stroke-linecap="round" fill="none"/>
<path d="M28.0 357.2h0M27.9 361.3h0M29.0 356.1h0M28.5 361.9h0M30.0 361.9h0M27.7 357.9h0M29.4 355.7h0M29.6 360.5h0M29.5 357.2h0M28.4 355.6h0M30.1 359.5h0M65.0 356.9h0M64.5 357.8h0M63.0 358.0h0M65.0 353.1h0M63.6 357.8h0M63.7 354.8h0M62.7 358.1h0M65.4 360.3h0M65.2 358.3h0M61.4 358.2h0M63.5 356.5h0M63.4 358.7h0M66.0 357.9h0M63.0 355.0h0M66.4 358.5h0" stroke="#2e2496" stroke-opacity="0.34" stroke-width="2.60" stroke-linecap="round" fill="none"/>
<path d="M38.5 359.4h0M40.0 361.1h0M39.4 361.2h0M41.7 359.6h0M42.4 359.2h0M38.2 358.8h0M41.6 360.0h0M37.3 360.1h0M41.2 357.3h0M39.2 358.7h0M36.8 357.0h0M38.0 361.4h0M38.6 360.3h0M35.4 359.3h0M39.1 359.5h0M39.3 360.2h0M36.0 358.3h0M71.8 356.1h0M72.8 355.0h0M76.1 357.5h0M73.8 359.1h0M74.7 359.6h0M75.1 359.3h0M74.3 354.3h0M73.5 358.1h0M74.3 359.4h0M73.1 360.2h0M75.2 357.3h0" stroke="#c0359e" stroke-opacity="0.34" stroke-width="2.60" stroke-linecap="round" fill="none"/>
<path d="M48.5 358.9h0M49.9 357.1h0M50.7 353.5h0M47.2 354.1h0M46.8 355.4h0M47.5 352.8h0M47.6 355.0h0M49.4 354.9h0M50.5 357.3h0M48.1 356.0h0M49.2 360.5h0M47.7 358.4h0M49.0 355.8h0M46.7 358.9h0M48.0 350.7h0M50.0 355.0h0M47.7 359.4h0M48.7 358.5h0M47.9 355.0h0M47.7 358.0h0M49.3 359.3h0M47.6 354.6h0M50.1 356.6h0M50.4 359.2h0M46.9 361.3h0M49.7 357.3h0M48.4 352.1h0M48.0 359.2h0M48.7 354.4h0M49.9 355.1h0M47.7 359.7h0M51.7 357.0h0M49.2 354.5h0M48.2 359.5h0M50.7 357.7h0M50.4 359.1h0M47.0 357.2h0M50.0 353.8h0M48.0 353.1h0M47.4 354.7h0M49.4 357.5h0M84.4 361.0h0M86.4 351.6h0M83.5 358.3h0M80.8 357.0h0M84.3 347.1h0M84.2 345.4h0M85.3 354.8h0M83.8 355.8h0M83.7 359.3h0M85.8 350.4h0M83.3 349.5h0M84.7 350.1h0M83.6 350.8h0M84.6 352.7h0M81.8 356.8h0M86.7 355.7h0M82.6 358.3h0M80.3 353.7h0M83.8 354.9h0M85.6 350.5h0M90.4 356.1h0M84.6 359.3h0M83.2 349.1h0M84.3 356.6h0M85.3 359.9h0M82.3 354.3h0M85.6 358.2h0M84.4 356.6h0M86.8 358.7h0M82.8 358.9h0M83.6 353.9h0M83.7 358.1h0M84.8 350.8h0M84.6 350.1h0M86.0 349.2h0M86.9 350.1h0M83.7 352.6h0M83.7 358.4h0M83.8 349.4h0M81.5 357.0h0M122.5 354.7h0M119.3 348.1h0M120.3 347.2h0M121.3 360.7h0M116.4 355.1h0M118.5 356.7h0M123.2 354.2h0M121.8 357.5h0M119.1 348.9h0M118.6 349.7h0M119.4 350.7h0M120.3 354.9h0M118.6 353.8h0M119.0 352.8h0M119.1 353.2h0M120.8 349.8h0M123.1 352.9h0M119.1 355.3h0M122.7 355.1h0M122.8 355.4h0M120.8 354.7h0M119.9 354.8h0M118.7 354.7h0M119.9 349.5h0M121.2 354.5h0M122.2 353.6h0M119.8 347.4h0M116.8 352.8h0M120.2 359.5h0M120.3 358.1h0M122.7 361.1h0M120.2 356.4h0M123.1 354.2h0M120.9 359.6h0M118.9 353.8h0M119.0 349.6h0M121.4 351.3h0M121.0 357.2h0M119.8 361.0h0M122.9 358.2h0M121.9 357.3h0M122.2 352.2h0M122.2 356.2h0M119.8 354.0h0" stroke="#f89e2a" stroke-opacity="0.34" stroke-width="2.60" stroke-linecap="round" fill="none"/>
<path d="M99.5 356.9h0M101.6 360.7h0M101.2 355.1h0M98.5 359.6h0M102.9 359.4h0M98.8 358.6h0M99.9 361.8h0M100.7 356.7h0M102.9 355.1h0" stroke="#2e2496" stroke-opacity="0.27" stroke-width="2.90" stroke-linecap="round" fill="none"/>
<path d="M113.2 361.2h0M113.7 358.4h0M108.8 354.6h0M108.2 360.5h0M107.8 361.2h0M111.7 356.9h0M111.5 361.7h0M108.9 360.9h0M108.4 357.2h0" stroke="#c0359e" stroke-opacity="0.27" stroke-width="2.90" stroke-linecap="round" fill="none"/>
<path d="M29.0 356.9h0M29.2 361.9h0M28.8 359.0h0M28.5 357.1h0M25.7 358.5h0M28.0 356.5h0M26.9 360.6h0M28.6 357.6h0M31.7 359.1h0M27.3 359.8h0M29.5 355.3h0M65.5 359.0h0M65.1 359.5h0M64.2 357.1h0M64.2 361.0h0M64.4 361.1h0M63.7 358.7h0M66.7 357.5h0M65.3 360.5h0M64.3 359.6h0M63.2 359.5h0M64.0 358.9h0M63.5 358.4h0" stroke="#2e2496" stroke-opacity="0.34" stroke-width="2.60" stroke-linecap="round" fill="none"/>
<path d="M39.2 357.7h0M36.1 358.2h0M39.9 354.9h0M38.1 358.5h0M41.4 355.2h0M40.8 357.5h0M38.7 362.1h0M38.7 353.5h0M38.2 353.7h0M38.4 360.3h0M76.8 357.4h0M73.5 361.1h0M76.3 354.7h0M74.9 356.8h0M75.7 360.4h0M75.0 360.0h0M74.5 356.6h0M74.4 354.2h0M75.2 356.5h0M76.1 359.9h0M75.2 359.7h0M73.8 358.0h0M74.5 359.6h0M73.1 355.8h0M74.1 356.5h0" stroke="#c0359e" stroke-opacity="0.34" stroke-width="2.60" stroke-linecap="round" fill="none"/>
<path d="M52.9 356.1h0M51.2 358.2h0M50.9 357.5h0M49.7 356.0h0M46.1 355.5h0M44.9 357.5h0M48.2 356.1h0M49.1 358.4h0M45.9 359.5h0M45.1 355.8h0M45.2 356.6h0M51.4 356.9h0M48.4 359.5h0M49.5 355.8h0M51.1 358.4h0M47.7 357.3h0M49.1 356.7h0M48.8 358.5h0M47.7 356.1h0M48.1 353.4h0M50.1 354.7h0M47.5 359.3h0M48.8 361.4h0M48.0 358.5h0M48.9 354.8h0M47.9 357.1h0M48.0 358.9h0M47.0 357.4h0M49.0 354.3h0M48.5 353.5h0M50.8 360.0h0M47.0 356.4h0M48.7 353.6h0M47.2 360.9h0M46.0 357.5h0M51.5 357.8h0M48.0 359.2h0M48.2 355.1h0M84.8 351.4h0M84.3 359.6h0M83.2 350.7h0M85.7 354.1h0M85.8 353.2h0M83.6 351.5h0M84.3 355.7h0M82.0 354.1h0M86.4 356.0h0M85.8 355.4h0M82.8 350.4h0M87.5 356.5h0M84.8 351.0h0M90.7 354.3h0M84.8 357.9h0M86.2 356.1h0M84.1 360.7h0M87.8 352.0h0M82.4 361.3h0M88.7 356.7h0M88.8 356.3h0M85.4 353.1h0M85.5 346.1h0M84.3 356.2h0M85.3 354.9h0M83.5 348.1h0M81.8 353.4h0M83.2 347.4h0M85.8 351.8h0M85.3 351.1h0M82.4 353.1h0M86.1 354.1h0M83.7 354.0h0M85.7 359.5h0M83.9 351.0h0M88.2 356.6h0M83.4 357.0h0M87.9 350.6h0M84.0 352.1h0M86.3 353.9h0M81.9 354.9h0M83.9 358.8h0M87.2 356.7h0M83.9 360.9h0M82.6 356.1h0M121.9 355.6h0M120.2 350.6h0M120.0 356.5h0M122.6 352.3h0M121.7 358.3h0M120.5 349.8h0M119.2 348.2h0M118.2 355.4h0M124.4 353.2h0M119.8 346.7h0M121.1 344.0h0M120.7 355.0h0M119.4 355.9h0M119.0 357.7h0M119.2 356.0h0M116.2 356.8h0M121.1 353.5h0M122.7 351.6h0M122.8 358.5h0M119.1 355.5h0M119.4 350.1h0M120.5 352.5h0M120.7 346.4h0M119.8 352.0h0M118.9 360.2h0M121.9 354.1h0M117.0 358.2h0M121.7 348.6h0M118.0 353.4h0M125.0 355.6h0M119.0 358.3h0M122.3 356.6h0M121.3 357.1h0M116.6 352.6h0M123.5 354.5h0M120.0 348.8h0M122.1 349.8h0M116.9 353.8h0M119.6 352.7h0M120.8 357.7h0M123.4 353.4h0M121.0 356.2h0M120.0 352.8h0M122.3 351.3h0M120.2 359.4h0M120.2 354.6h0M120.4 355.3h0M118.2 358.7h0M124.2 357.9h0M121.6 358.0h0M118.8 352.1h0" stroke="#f89e2a" stroke-opacity="0.34" stroke-width="2.60" stroke-linecap="round" fill="none"/>
<path d="M83.0 334.0h0" stroke="#f89e2a" stroke-opacity="0.52" stroke-width="2.20" stroke-linecap="round" fill="none"/>
<path d="M103.0 361.2h0M100.1 359.4h0M100.3 360.4h0M100.0 357.9h0M100.2 358.2h0M102.6 354.9h0M101.4 359.4h0M99.0 360.7h0" stroke="#2e2496" stroke-opacity="0.27" stroke-width="2.90" stroke-linecap="round" fill="none"/>
<path d="M113.7 359.6h0M113.0 360.8h0M107.8 358.4h0M111.1 360.6h0M109.9 358.9h0M108.3 357.4h0" stroke="#c0359e" stroke-opacity="0.27" stroke-width="2.90" stroke-linecap="round" fill="none"/>
<line x1="28.85" y1="360.29" x2="28.85" y2="356.94" stroke="#222" stroke-width="0.7"/>
<path d="M28.85 357.02 L30.45 358.62 L28.85 360.22 L27.25 358.62 Z" fill="#e4e4e4" stroke="#1a1a1a" stroke-width="0.6"/>
<line x1="38.66" y1="360.69" x2="38.66" y2="357.34" stroke="#222" stroke-width="0.7"/>
<path d="M38.66 357.42 L40.26 359.02 L38.66 360.62 L37.06 359.02 Z" fill="#e4e4e4" stroke="#1a1a1a" stroke-width="0.6"/>
<line x1="48.47" y1="359.75" x2="48.47" y2="355.74" stroke="#222" stroke-width="0.7"/>
<path d="M48.47 356.14 L50.07 357.75 L48.47 359.35 L46.87 357.75 Z" fill="#e4e4e4" stroke="#1a1a1a" stroke-width="0.6"/>
<line x1="64.79" y1="360.29" x2="64.79" y2="356.27" stroke="#222" stroke-width="0.7"/>
<path d="M64.79 356.68 L66.39 358.28 L64.79 359.88 L63.19 358.28 Z" fill="#e4e4e4" stroke="#1a1a1a" stroke-width="0.6"/>
<line x1="74.60" y1="360.16" x2="74.60" y2="356.14" stroke="#222" stroke-width="0.7"/>
<path d="M74.60 356.55 L76.20 358.15 L74.60 359.75 L73.00 358.15 Z" fill="#e4e4e4" stroke="#1a1a1a" stroke-width="0.6"/>
<line x1="84.41" y1="359.02" x2="84.41" y2="350.98" stroke="#222" stroke-width="0.7"/>
<path d="M84.41 353.40 L86.01 355.00 L84.41 356.60 L82.81 355.00 Z" fill="#e4e4e4" stroke="#1a1a1a" stroke-width="0.6"/>
<line x1="100.73" y1="360.16" x2="100.73" y2="357.48" stroke="#222" stroke-width="0.7"/>
<path d="M100.73 357.22 L102.33 358.82 L100.73 360.42 L99.13 358.82 Z" fill="#e4e4e4" stroke="#1a1a1a" stroke-width="0.6"/>
<line x1="110.54" y1="360.43" x2="110.54" y2="357.75" stroke="#222" stroke-width="0.7"/>
<path d="M110.54 357.49 L112.14 359.09 L110.54 360.69 L108.94 359.09 Z" fill="#e4e4e4" stroke="#1a1a1a" stroke-width="0.6"/>
<line x1="120.35" y1="358.28" x2="120.35" y2="351.58" stroke="#222" stroke-width="0.7"/>
<path d="M120.35 353.33 L121.95 354.93 L120.35 356.53 L118.75 354.93 Z" fill="#e4e4e4" stroke="#1a1a1a" stroke-width="0.6"/>
<text x="27.30" y="348.70" font-size="5.7" text-anchor="start" fill="#111" stroke="#111" stroke-width="0.18" transform="rotate(-45 27.30 348.70) matrix(1 0 0 1.1 0 -34.870)">1.52</text>
<text x="37.00" y="350.70" font-size="5.7" text-anchor="start" fill="#111" stroke="#111" stroke-width="0.18" transform="rotate(-45 37.00 350.70) matrix(1 0 0 1.1 0 -35.070)">1.46</text>
<text x="46.20" y="348.10" font-size="5.7" text-anchor="start" fill="#111" stroke="#111" stroke-width="0.18" transform="rotate(-45 46.20 348.10) matrix(1 0 0 1.1 0 -34.810)">1.65</text>
<text x="63.30" y="348.70" font-size="5.7" text-anchor="start" fill="#111" stroke="#111" stroke-width="0.18" transform="rotate(-45 63.30 348.70) matrix(1 0 0 1.1 0 -34.870)">1.57</text>
<text x="73.20" y="348.70" font-size="5.7" text-anchor="start" fill="#111" stroke="#111" stroke-width="0.18" transform="rotate(-45 73.20 348.70) matrix(1 0 0 1.1 0 -34.870)">1.59</text>
<text x="81.70" y="343.50" font-size="5.7" text-anchor="start" fill="#111" stroke="#111" stroke-width="0.18" transform="rotate(-45 81.70 343.50) matrix(1 0 0 1.1 0 -34.350)">2.06</text>
<text x="98.60" y="350.30" font-size="5.7" text-anchor="start" fill="#111" stroke="#111" stroke-width="0.18" transform="rotate(-45 98.60 350.30) matrix(1 0 0 1.1 0 -35.030)">1.49</text>
<text x="109.30" y="351.00" font-size="5.7" text-anchor="start" fill="#111" stroke="#111" stroke-width="0.18" transform="rotate(-45 109.30 351.00) matrix(1 0 0 1.1 0 -35.100)">1.45</text>
<text x="117.90" y="343.90" font-size="5.7" text-anchor="start" fill="#111" stroke="#111" stroke-width="0.18" transform="rotate(-45 117.90 343.90) matrix(1 0 0 1.1 0 -34.390)">2.07</text>
<polyline points="49.2,321.8 49.2,320.5 121.3,320.5 121.3,321.8" fill="none" stroke="#555" stroke-width="0.55"/>
<text x="85.55" y="323.00" font-size="10.0" text-anchor="middle" fill="#000" transform="matrix(1 0 0 1.1 0 -32.300)" letter-spacing="0.6">***</text>
<polyline points="49.2,327.9 49.2,326.6 85.9,326.6 85.9,327.9" fill="none" stroke="#555" stroke-width="0.55"/>
<text x="67.85" y="329.10" font-size="10.0" text-anchor="middle" fill="#000" transform="matrix(1 0 0 1.1 0 -32.910)" letter-spacing="0.6">***</text>
<circle cx="138.6" cy="336.9" r="1.35" fill="#2e2496"/>
<text x="142.90" y="338.90" font-size="5.6" text-anchor="start" fill="#333" stroke="#333" stroke-width="0.18" transform="matrix(1 0 0 1.1 0 -33.890)">BASE</text>
<circle cx="138.6" cy="345.0" r="1.35" fill="#c0359e"/>
<text x="142.90" y="347.00" font-size="5.6" text-anchor="start" fill="#333" stroke="#333" stroke-width="0.18" transform="matrix(1 0 0 1.1 0 -34.700)">TTX</text>
<circle cx="138.6" cy="352.9" r="1.35" fill="#f89e2a"/>
<text x="142.90" y="354.90" font-size="5.6" text-anchor="start" fill="#333" stroke="#333" stroke-width="0.18" transform="matrix(1 0 0 1.1 0 -35.490)">PHE</text>
<line x1="186.60" y1="314.70" x2="186.60" y2="370.90" stroke="#aaa" stroke-width="0.6"/>
<line x1="186.60" y1="370.90" x2="295.40" y2="370.90" stroke="#aaa" stroke-width="0.6"/>
<line x1="185.10" y1="368.60" x2="186.60" y2="368.60" stroke="#aaa" stroke-width="0.6"/>
<text x="183.30" y="371.20" font-size="7.1" text-anchor="end" fill="#222" stroke="#222" stroke-width="0.18" transform="matrix(1 0 0 1.1 0 -37.120)">0</text>
<line x1="185.10" y1="358.38" x2="186.60" y2="358.38" stroke="#aaa" stroke-width="0.6"/>
<text x="183.30" y="360.98" font-size="7.1" text-anchor="end" fill="#222" stroke="#222" stroke-width="0.18" transform="matrix(1 0 0 1.1 0 -36.098)">100</text>
<line x1="185.10" y1="348.16" x2="186.60" y2="348.16" stroke="#aaa" stroke-width="0.6"/>
<text x="183.30" y="350.76" font-size="7.1" text-anchor="end" fill="#222" stroke="#222" stroke-width="0.18" transform="matrix(1 0 0 1.1 0 -35.076)">200</text>
<line x1="185.10" y1="337.94" x2="186.60" y2="337.94" stroke="#aaa" stroke-width="0.6"/>
<text x="183.30" y="340.54" font-size="7.1" text-anchor="end" fill="#222" stroke="#222" stroke-width="0.18" transform="matrix(1 0 0 1.1 0 -34.054)">300</text>
<line x1="185.10" y1="327.72" x2="186.60" y2="327.72" stroke="#aaa" stroke-width="0.6"/>
<text x="183.30" y="330.32" font-size="7.1" text-anchor="end" fill="#222" stroke="#222" stroke-width="0.18" transform="matrix(1 0 0 1.1 0 -33.032)">400</text>
<line x1="185.10" y1="317.50" x2="186.60" y2="317.50" stroke="#aaa" stroke-width="0.6"/>
<text x="183.30" y="320.10" font-size="7.1" text-anchor="end" fill="#222" stroke="#222" stroke-width="0.18" transform="matrix(1 0 0 1.1 0 -32.010)">500</text>
<line x1="207.00" y1="370.90" x2="207.00" y2="372.40" stroke="#aaa" stroke-width="0.6"/>
<text x="207.00" y="378.40" font-size="5.6" text-anchor="middle" fill="#222" stroke="#222" stroke-width="0.18" transform="matrix(1 0 0 1.1 0 -37.840)">CA1</text>
<line x1="241.00" y1="370.90" x2="241.00" y2="372.40" stroke="#aaa" stroke-width="0.6"/>
<text x="241.00" y="378.40" font-size="5.6" text-anchor="middle" fill="#222" stroke="#222" stroke-width="0.18" transform="matrix(1 0 0 1.1 0 -37.840)">L1</text>
<line x1="275.00" y1="370.90" x2="275.00" y2="372.40" stroke="#aaa" stroke-width="0.6"/>
<text x="275.00" y="378.40" font-size="5.6" text-anchor="middle" fill="#222" stroke="#222" stroke-width="0.18" transform="matrix(1 0 0 1.1 0 -37.840)">L3–5</text>
<text x="207.00" y="310.60" font-size="8.45" text-anchor="start" fill="#111" stroke="#111" stroke-width="0.18" transform="matrix(1 0 0 1.1 0 -31.060)">Mean peak time, s</text>
<path d="M198.4 348.5h0M199.3 356.6h0M196.1 354.9h0M200.1 357.2h0M197.2 359.5h0M264.8 346.9h0M264.6 351.5h0M266.8 340.7h0M264.4 354.4h0M267.3 350.2h0M267.1 349.1h0" stroke="#2e2496" stroke-opacity="0.29" stroke-width="2.90" stroke-linecap="round" fill="none"/>
<path d="M205.9 345.2h0M208.3 347.7h0M205.9 353.6h0M207.9 348.5h0M273.0 355.7h0M276.5 358.7h0M275.0 360.7h0M275.9 353.5h0" stroke="#c0359e" stroke-opacity="0.29" stroke-width="2.90" stroke-linecap="round" fill="none"/>
<path d="M216.7 344.7h0M216.5 354.6h0M211.2 353.4h0M219.7 355.6h0M216.7 358.1h0M215.8 355.1h0M215.8 356.4h0M214.1 351.5h0M215.3 349.2h0M216.2 354.3h0M215.7 353.0h0M217.2 349.8h0M217.2 349.7h0M215.9 353.5h0M216.6 351.3h0M214.5 350.6h0M215.5 350.3h0M214.5 357.2h0M214.8 352.4h0M212.9 351.7h0M214.9 357.7h0M215.2 349.9h0M211.9 355.6h0M213.8 349.2h0M215.8 353.9h0M219.7 350.7h0M215.3 356.8h0M221.8 353.0h0M215.5 345.9h0M216.0 354.1h0M214.8 348.2h0M213.6 356.6h0M216.8 352.4h0M249.2 363.3h0M250.1 353.6h0M250.1 353.2h0M250.1 353.7h0M252.0 359.2h0M248.4 356.4h0M250.2 356.9h0M253.3 357.7h0M251.1 350.9h0M250.3 354.3h0M247.4 355.1h0M247.1 360.0h0M252.1 360.7h0M249.4 359.3h0M248.1 356.9h0M250.0 351.3h0M248.5 357.6h0M249.4 356.3h0M250.3 360.7h0M250.4 354.7h0M250.3 353.6h0M252.2 363.0h0M248.6 353.2h0M250.6 353.9h0M249.6 361.2h0M250.8 349.9h0M248.9 360.0h0M250.1 354.6h0M248.6 355.8h0M248.7 360.1h0M283.8 357.5h0M282.8 354.0h0M284.9 350.3h0M281.9 361.7h0M281.3 352.6h0M282.7 355.6h0M286.2 351.8h0M283.4 365.0h0M284.9 353.1h0M284.4 362.6h0M285.6 356.5h0M283.8 357.9h0M283.5 353.3h0M284.6 355.7h0M282.7 355.6h0M285.4 361.5h0M282.8 355.6h0M282.5 361.4h0M283.8 354.1h0M283.6 349.8h0M286.1 357.2h0M282.5 350.3h0M282.8 361.8h0M280.0 356.4h0M285.2 351.6h0M282.5 351.5h0M288.0 352.0h0M283.6 360.1h0M283.6 353.2h0M284.3 362.4h0M284.8 353.1h0M284.6 354.4h0M285.0 355.8h0" stroke="#f89e2a" stroke-opacity="0.34" stroke-width="2.60" stroke-linecap="round" fill="none"/>
<path d="M230.4 352.3h0M230.5 361.9h0M230.8 351.2h0M232.1 348.8h0M232.6 347.9h0M229.1 353.8h0M231.7 348.3h0M232.9 355.8h0" stroke="#2e2496" stroke-opacity="0.28" stroke-width="2.90" stroke-linecap="round" fill="none"/>
<path d="M242.6 345.8h0M242.9 355.7h0M242.9 350.2h0M238.2 351.7h0M241.0 348.8h0M242.8 347.9h0M239.5 346.3h0" stroke="#c0359e" stroke-opacity="0.28" stroke-width="2.90" stroke-linecap="round" fill="none"/>
<path d="M200.2 350.8h0M197.9 355.0h0M199.9 345.4h0M197.7 344.5h0M199.6 350.9h0M198.1 344.3h0M195.9 353.3h0M265.0 349.1h0M264.4 350.1h0M263.4 353.7h0M267.4 345.4h0M264.7 346.7h0M266.1 348.5h0M267.4 342.4h0M267.2 339.3h0" stroke="#2e2496" stroke-opacity="0.29" stroke-width="2.90" stroke-linecap="round" fill="none"/>
<path d="M204.9 350.8h0M206.7 353.7h0M208.1 343.7h0M206.5 338.5h0M206.6 341.8h0M209.6 347.0h0M206.5 348.6h0M205.7 346.0h0M209.0 354.9h0M206.2 354.6h0M208.2 349.7h0M206.6 340.1h0M209.0 349.7h0M273.6 359.2h0" stroke="#c0359e" stroke-opacity="0.29" stroke-width="2.90" stroke-linecap="round" fill="none"/>
<path d="M216.6 353.9h0M219.1 355.3h0M215.6 353.1h0M217.8 355.2h0M219.0 354.6h0M216.9 362.0h0M218.5 349.4h0M213.4 351.7h0M216.0 346.5h0M214.7 351.3h0M217.7 357.3h0M220.2 354.8h0M217.9 350.6h0M214.7 348.9h0M216.9 360.1h0M218.9 356.0h0M212.1 352.3h0M218.8 354.7h0M217.3 349.8h0M217.7 356.8h0M215.7 345.2h0M216.9 354.7h0M214.9 351.5h0M218.2 354.7h0M218.4 353.4h0M217.0 360.6h0M216.1 349.2h0M215.5 350.7h0M215.6 357.7h0M215.4 352.7h0M214.0 354.6h0M212.6 354.6h0M218.7 355.6h0M216.4 355.0h0M249.3 360.5h0M250.2 355.1h0M249.7 363.0h0M252.6 356.2h0M245.6 355.4h0M246.5 359.0h0M248.3 357.0h0M248.0 355.1h0M247.9 360.2h0M250.2 357.7h0M254.0 357.4h0M248.0 357.0h0M248.9 359.5h0M248.7 359.1h0M251.3 357.2h0M247.5 355.8h0M250.5 359.6h0M252.7 358.6h0M248.2 354.2h0M251.2 357.1h0M250.4 359.0h0M248.6 357.8h0M248.7 357.3h0M254.0 359.7h0M252.8 357.5h0M251.4 359.6h0M251.6 352.6h0M253.9 356.1h0M250.5 349.3h0M251.5 361.9h0M287.5 357.3h0M287.1 352.4h0M284.9 356.7h0M285.5 357.8h0M283.8 350.9h0M284.8 351.1h0M282.9 354.8h0M284.9 362.9h0M283.6 354.4h0M283.6 355.9h0M282.1 359.2h0M283.5 357.5h0M282.6 351.2h0M286.8 351.8h0M287.2 356.3h0M284.2 351.8h0M281.8 358.2h0M282.5 358.7h0M286.5 358.1h0M284.2 353.0h0M285.3 349.0h0M284.8 360.2h0M286.2 356.9h0M285.3 356.6h0M283.0 358.6h0M282.8 352.7h0M284.6 351.2h0M284.4 351.7h0M285.8 360.9h0M282.4 359.2h0M286.9 359.4h0" stroke="#f89e2a" stroke-opacity="0.34" stroke-width="2.60" stroke-linecap="round" fill="none"/>
<path d="M233.3 350.1h0M231.4 352.8h0M232.1 363.2h0M233.2 349.0h0M229.6 351.2h0" stroke="#2e2496" stroke-opacity="0.28" stroke-width="2.90" stroke-linecap="round" fill="none"/>
<path d="M239.9 346.4h0M238.5 355.5h0M241.8 365.6h0M242.9 346.9h0M242.4 360.8h0M240.4 354.2h0M242.3 358.8h0" stroke="#c0359e" stroke-opacity="0.28" stroke-width="2.90" stroke-linecap="round" fill="none"/>
<path d="M197.7 353.5h0M199.8 344.5h0M200.1 352.0h0M198.3 342.0h0M197.3 361.3h0M265.1 343.1h0M264.5 346.4h0M265.4 345.6h0M266.6 353.9h0" stroke="#2e2496" stroke-opacity="0.29" stroke-width="2.90" stroke-linecap="round" fill="none"/>
<path d="M208.4 347.7h0M204.6 354.3h0M204.8 351.8h0M209.4 351.2h0M204.6 348.4h0M209.3 354.2h0M276.2 356.8h0M273.8 357.2h0M275.5 353.4h0M274.5 357.5h0M276.2 347.9h0M276.6 352.2h0" stroke="#c0359e" stroke-opacity="0.29" stroke-width="2.90" stroke-linecap="round" fill="none"/>
<path d="M219.5 359.1h0M213.2 357.1h0M217.2 351.5h0M216.9 359.3h0M220.0 351.6h0M218.0 358.0h0M216.3 361.6h0M217.9 357.3h0M216.5 360.7h0M214.8 355.4h0M218.1 350.6h0M217.4 356.2h0M216.7 359.5h0M212.1 357.9h0M216.6 350.9h0M216.9 362.2h0M217.2 345.7h0M217.3 352.8h0M216.4 357.8h0M217.5 351.6h0M219.3 352.7h0M217.6 350.4h0M217.8 354.4h0M215.7 360.6h0M215.2 358.4h0M216.5 353.0h0M216.7 354.3h0M215.6 353.3h0M250.1 358.2h0M248.8 361.8h0M249.0 357.7h0M248.9 361.9h0M247.9 359.4h0M249.6 356.8h0M250.0 352.7h0M249.4 357.8h0M249.6 354.0h0M251.7 352.7h0M249.8 362.7h0M251.0 361.4h0M248.4 364.4h0M250.2 354.9h0M252.0 359.7h0M249.9 357.5h0M252.3 358.7h0M251.7 359.1h0M251.6 356.3h0M250.6 355.8h0M249.5 355.6h0M246.7 359.5h0M249.6 356.1h0M251.1 362.5h0M252.0 353.8h0M247.0 354.3h0M248.8 361.3h0M250.2 358.6h0M251.1 351.4h0M250.8 362.2h0M247.4 352.8h0M281.3 355.0h0M284.9 353.4h0M285.9 354.6h0M282.9 348.0h0M285.6 364.7h0M283.0 352.0h0M284.9 359.7h0M283.8 354.5h0M283.9 361.0h0M282.7 356.7h0M284.5 350.9h0M285.4 357.8h0M284.7 349.2h0M282.8 359.6h0M282.4 350.6h0M284.3 356.7h0M286.8 356.2h0M283.3 349.6h0M285.6 360.9h0M283.0 352.6h0M286.5 357.2h0M285.9 357.1h0M284.8 354.6h0M286.7 355.1h0M285.1 355.2h0M288.0 354.1h0M281.8 359.5h0M285.9 359.2h0M284.8 358.1h0M283.2 360.1h0M286.8 360.2h0M284.4 351.5h0M283.4 351.3h0M285.8 354.0h0M282.1 356.8h0M282.8 352.0h0M284.6 351.9h0M283.6 355.1h0" stroke="#f89e2a" stroke-opacity="0.34" stroke-width="2.60" stroke-linecap="round" fill="none"/>
<path d="M231.4 342.3h0M230.4 360.3h0M230.8 348.8h0M232.4 360.7h0M229.6 352.0h0M231.0 363.3h0M232.6 354.5h0M232.4 357.7h0M234.3 356.1h0" stroke="#2e2496" stroke-opacity="0.28" stroke-width="2.90" stroke-linecap="round" fill="none"/>
<path d="M241.0 347.2h0M242.3 355.0h0M241.0 353.1h0M239.1 346.3h0M243.2 346.5h0M242.4 352.7h0M241.1 358.1h0" stroke="#c0359e" stroke-opacity="0.28" stroke-width="2.90" stroke-linecap="round" fill="none"/>
<path d="M195.1 351.0h0M199.9 356.4h0M196.7 357.6h0M197.2 344.6h0M199.0 342.3h0M196.5 346.3h0M199.3 356.4h0M199.0 355.2h0M198.0 365.1h0M197.3 355.0h0M263.2 349.1h0M267.9 348.0h0M264.1 347.3h0M267.3 338.9h0" stroke="#2e2496" stroke-opacity="0.29" stroke-width="2.90" stroke-linecap="round" fill="none"/>
<path d="M208.4 353.1h0M205.0 357.2h0M205.3 347.6h0M206.4 341.6h0M205.2 351.1h0M207.7 351.1h0M209.4 345.7h0M208.5 356.7h0M276.5 355.1h0M274.8 346.6h0M275.7 356.6h0M272.9 357.5h0M274.9 362.0h0M277.8 351.6h0M276.8 342.1h0M275.0 359.6h0M275.1 349.3h0M273.2 346.2h0" stroke="#c0359e" stroke-opacity="0.29" stroke-width="2.90" stroke-linecap="round" fill="none"/>
<path d="M218.3 351.4h0M217.3 347.9h0M215.0 354.4h0M217.3 348.1h0M216.5 359.2h0M218.9 352.1h0M217.6 352.7h0M218.1 345.9h0M214.5 352.8h0M215.7 347.6h0M216.5 354.0h0M216.0 353.3h0M215.0 351.3h0M216.4 356.8h0M215.7 351.1h0M213.5 357.4h0M217.9 353.3h0M216.3 349.1h0M216.8 347.7h0M214.0 358.2h0M219.0 354.6h0M219.0 352.7h0M217.4 356.2h0M215.0 350.2h0M216.5 351.7h0M217.5 358.7h0M214.0 352.0h0M216.5 356.3h0M216.4 350.0h0M212.6 352.9h0M215.9 346.4h0M218.4 349.3h0M217.2 360.6h0M214.9 353.0h0M250.5 358.6h0M252.9 359.6h0M247.9 360.9h0M248.8 353.7h0M251.0 354.9h0M250.4 358.5h0M251.8 360.6h0M251.1 357.1h0M247.0 359.9h0M248.9 358.8h0M251.3 351.7h0M246.1 359.0h0M248.3 355.0h0M250.4 361.8h0M251.7 362.2h0M252.9 355.2h0M248.5 357.4h0M247.8 356.7h0M255.6 356.6h0M249.0 357.8h0M252.7 359.0h0M252.2 361.3h0M249.8 356.8h0M251.7 354.2h0M250.7 357.8h0M250.1 352.0h0M249.6 356.2h0M252.0 358.0h0M250.4 364.1h0M284.9 350.3h0M284.3 344.8h0M285.4 360.3h0M285.4 356.0h0M280.6 353.3h0M284.1 359.8h0M284.0 358.3h0M286.2 356.0h0M284.8 349.2h0M280.4 354.5h0M284.1 360.1h0M286.8 357.1h0M282.8 356.6h0M284.3 358.1h0M284.3 361.6h0M286.0 355.6h0M284.5 359.2h0M287.9 354.6h0M284.6 354.0h0M285.0 360.2h0M286.0 353.9h0M283.5 351.9h0" stroke="#f89e2a" stroke-opacity="0.34" stroke-width="2.60" stroke-linecap="round" fill="none"/>
<path d="M229.8 365.3h0M230.9 353.6h0M234.0 354.3h0M231.1 350.6h0M234.1 359.0h0M233.0 359.0h0M232.2 356.8h0M232.7 357.9h0M229.1 353.0h0M231.2 345.4h0M230.0 346.9h0M234.1 356.8h0" stroke="#2e2496" stroke-opacity="0.28" stroke-width="2.90" stroke-linecap="round" fill="none"/>
<path d="M242.1 358.5h0M243.2 346.9h0M240.7 352.9h0M239.5 351.2h0M242.0 350.0h0M240.0 351.8h0M241.2 347.4h0" stroke="#c0359e" stroke-opacity="0.28" stroke-width="2.90" stroke-linecap="round" fill="none"/>
<path d="M197.5 357.4h0M197.9 354.5h0M198.9 347.8h0M264.2 349.2h0M267.1 343.2h0M266.4 344.8h0" stroke="#2e2496" stroke-opacity="0.29" stroke-width="2.90" stroke-linecap="round" fill="none"/>
<path d="M206.6 352.8h0M206.5 348.0h0M208.5 343.2h0M206.0 348.6h0M273.1 343.8h0M277.6 354.8h0M273.0 342.6h0M277.0 348.2h0M277.2 344.9h0M275.3 350.2h0M275.2 354.3h0M275.4 343.9h0M274.1 352.2h0" stroke="#c0359e" stroke-opacity="0.29" stroke-width="2.90" stroke-linecap="round" fill="none"/>
<path d="M216.2 358.4h0M216.4 358.1h0M216.6 350.3h0M210.5 353.7h0M215.7 355.5h0M217.4 349.7h0M216.4 352.5h0M213.7 355.4h0M219.2 350.7h0M216.2 346.6h0M220.8 350.4h0M217.6 359.3h0M215.3 359.9h0M213.9 349.5h0M215.9 347.8h0M217.4 351.2h0M216.1 350.8h0M214.6 355.2h0M218.1 352.4h0M218.5 356.3h0M215.9 349.2h0M253.1 358.0h0M250.6 356.3h0M250.8 355.3h0M248.2 359.5h0M248.9 357.6h0M248.5 358.0h0M249.2 355.7h0M250.6 362.9h0M248.4 361.9h0M249.2 355.0h0M251.3 354.4h0M252.8 356.5h0M251.2 362.2h0M251.0 362.3h0M249.8 358.6h0M250.2 359.0h0M250.9 360.8h0M248.9 355.4h0M246.2 357.4h0M250.7 356.6h0M252.3 358.2h0M251.6 361.7h0M250.6 360.6h0M251.2 357.3h0M247.7 359.9h0M252.3 361.2h0M251.6 359.3h0M250.7 359.7h0M249.3 358.5h0M250.9 356.0h0M285.9 354.7h0M280.1 357.6h0M281.8 354.5h0M284.8 348.5h0M283.2 361.0h0M285.9 360.8h0M284.9 347.8h0M285.6 361.6h0M285.2 362.7h0M285.8 356.8h0M287.3 356.7h0M285.2 355.0h0M282.6 358.5h0M285.2 360.6h0M284.3 350.2h0M288.8 356.8h0M284.0 362.4h0M285.9 357.0h0M288.1 358.3h0M286.8 358.0h0M284.7 356.2h0M284.5 348.7h0M284.7 350.6h0M282.3 354.5h0M283.3 357.3h0M283.1 362.3h0M283.9 354.9h0M284.2 357.6h0M282.4 351.7h0M284.8 359.5h0M284.3 350.0h0M284.2 358.4h0M282.9 354.1h0M285.3 351.8h0M283.1 352.9h0M284.1 350.7h0" stroke="#f89e2a" stroke-opacity="0.34" stroke-width="2.60" stroke-linecap="round" fill="none"/>
<path d="M231.9 354.5h0M231.9 353.2h0M233.4 367.3h0M231.1 343.8h0M233.1 360.8h0M231.7 365.4h0M231.3 359.5h0M232.1 354.1h0M230.4 352.3h0M231.5 354.7h0M233.2 352.7h0" stroke="#2e2496" stroke-opacity="0.28" stroke-width="2.90" stroke-linecap="round" fill="none"/>
<path d="M240.3 353.9h0M242.1 348.9h0M240.0 360.3h0M239.3 357.8h0M243.1 353.4h0M238.8 355.2h0M243.2 344.2h0M242.1 350.2h0M242.5 341.4h0M240.4 350.8h0M242.2 350.2h0M240.7 349.7h0" stroke="#c0359e" stroke-opacity="0.28" stroke-width="2.90" stroke-linecap="round" fill="none"/>
<line x1="197.72" y1="359.61" x2="197.72" y2="347.34" stroke="#222" stroke-width="0.7"/>
<path d="M197.72 351.87 L199.32 353.47 L197.72 355.07 L196.12 353.47 Z" fill="#e4e4e4" stroke="#1a1a1a" stroke-width="0.6"/>
<line x1="207.00" y1="356.44" x2="207.00" y2="345.20" stroke="#222" stroke-width="0.7"/>
<path d="M207.00 349.22 L208.60 350.82 L207.00 352.42 L205.40 350.82 Z" fill="#e4e4e4" stroke="#1a1a1a" stroke-width="0.6"/>
<line x1="216.28" y1="358.58" x2="216.28" y2="350.41" stroke="#222" stroke-width="0.7"/>
<path d="M216.28 352.90 L217.88 354.50 L216.28 356.10 L214.68 354.50 Z" fill="#e4e4e4" stroke="#1a1a1a" stroke-width="0.6"/>
<line x1="231.72" y1="359.91" x2="231.72" y2="346.63" stroke="#222" stroke-width="0.7"/>
<path d="M231.72 351.67 L233.32 353.27 L231.72 354.87 L230.12 353.27 Z" fill="#e4e4e4" stroke="#1a1a1a" stroke-width="0.6"/>
<line x1="241.00" y1="357.56" x2="241.00" y2="343.25" stroke="#222" stroke-width="0.7"/>
<path d="M241.00 348.81 L242.60 350.41 L241.00 352.01 L239.40 350.41 Z" fill="#e4e4e4" stroke="#1a1a1a" stroke-width="0.6"/>
<line x1="250.28" y1="360.94" x2="250.28" y2="354.80" stroke="#222" stroke-width="0.7"/>
<path d="M250.28 356.27 L251.88 357.87 L250.28 359.47 L248.68 357.87 Z" fill="#e4e4e4" stroke="#1a1a1a" stroke-width="0.6"/>
<line x1="265.72" y1="352.25" x2="265.72" y2="345.09" stroke="#222" stroke-width="0.7"/>
<path d="M265.72 347.07 L267.32 348.67 L265.72 350.27 L264.12 348.67 Z" fill="#e4e4e4" stroke="#1a1a1a" stroke-width="0.6"/>
<line x1="275.00" y1="357.15" x2="275.00" y2="346.93" stroke="#222" stroke-width="0.7"/>
<path d="M275.00 350.44 L276.60 352.04 L275.00 353.64 L273.40 352.04 Z" fill="#e4e4e4" stroke="#1a1a1a" stroke-width="0.6"/>
<line x1="284.28" y1="359.81" x2="284.28" y2="351.63" stroke="#222" stroke-width="0.7"/>
<path d="M284.28 354.12 L285.88 355.72 L284.28 357.32 L282.68 355.72 Z" fill="#e4e4e4" stroke="#1a1a1a" stroke-width="0.6"/>
<text x="196.80" y="337.00" font-size="5.7" text-anchor="start" fill="#111" stroke="#111" stroke-width="0.18" transform="rotate(-45 196.80 337.00) matrix(1 0 0 1.1 0 -33.700)">148</text>
<text x="206.20" y="337.00" font-size="5.7" text-anchor="start" fill="#111" stroke="#111" stroke-width="0.18" transform="rotate(-45 206.20 337.00) matrix(1 0 0 1.1 0 -33.700)">174</text>
<text x="215.30" y="341.50" font-size="5.7" text-anchor="start" fill="#111" stroke="#111" stroke-width="0.18" transform="rotate(-45 215.30 341.50) matrix(1 0 0 1.1 0 -34.150)">138</text>
<text x="230.50" y="337.00" font-size="5.7" text-anchor="start" fill="#111" stroke="#111" stroke-width="0.18" transform="rotate(-45 230.50 337.00) matrix(1 0 0 1.1 0 -33.700)">150</text>
<text x="239.60" y="337.00" font-size="5.7" text-anchor="start" fill="#111" stroke="#111" stroke-width="0.18" transform="rotate(-45 239.60 337.00) matrix(1 0 0 1.1 0 -33.700)">178</text>
<text x="249.00" y="346.10" font-size="5.7" text-anchor="start" fill="#111" stroke="#111" stroke-width="0.18" transform="rotate(-45 249.00 346.10) matrix(1 0 0 1.1 0 -34.610)">105</text>
<text x="264.20" y="337.70" font-size="5.7" text-anchor="start" fill="#111" stroke="#111" stroke-width="0.18" transform="rotate(-45 264.20 337.70) matrix(1 0 0 1.1 0 -33.770)">195</text>
<text x="273.30" y="337.70" font-size="5.7" text-anchor="start" fill="#111" stroke="#111" stroke-width="0.18" transform="rotate(-45 273.30 337.70) matrix(1 0 0 1.1 0 -33.770)">162</text>
<text x="283.20" y="346.10" font-size="5.7" text-anchor="start" fill="#111" stroke="#111" stroke-width="0.18" transform="rotate(-45 283.20 346.10) matrix(1 0 0 1.1 0 -34.610)">126</text>
<polyline points="196.1,322.5 196.1,321.2 265.1,321.2 265.1,322.5" fill="none" stroke="#555" stroke-width="0.55"/>
<text x="230.90" y="323.70" font-size="10.0" text-anchor="middle" fill="#000" transform="matrix(1 0 0 1.1 0 -32.370)" letter-spacing="0.6">*</text>
<polyline points="217.0,329.8 217.0,328.5 251.5,328.5 251.5,329.8" fill="none" stroke="#555" stroke-width="0.55"/>
<text x="234.55" y="331.00" font-size="10.0" text-anchor="middle" fill="#000" transform="matrix(1 0 0 1.1 0 -33.100)" letter-spacing="0.6">***</text>
<polyline points="251.5,329.8 251.5,328.5 285.8,328.5 285.8,329.8" fill="none" stroke="#555" stroke-width="0.55"/>
<text x="268.95" y="331.00" font-size="10.0" text-anchor="middle" fill="#000" transform="matrix(1 0 0 1.1 0 -33.100)" letter-spacing="0.6">***</text>
<circle cx="302.2" cy="336.0" r="1.35" fill="#2e2496"/>
<text x="306.80" y="338.00" font-size="5.6" text-anchor="start" fill="#333" stroke="#333" stroke-width="0.18" transform="matrix(1 0 0 1.1 0 -33.800)">BASE</text>
<circle cx="302.2" cy="344.3" r="1.35" fill="#c0359e"/>
<text x="306.80" y="346.30" font-size="5.6" text-anchor="start" fill="#333" stroke="#333" stroke-width="0.18" transform="matrix(1 0 0 1.1 0 -34.630)">TTX</text>
<circle cx="302.2" cy="352.4" r="1.35" fill="#f89e2a"/>
<text x="306.80" y="354.40" font-size="5.6" text-anchor="start" fill="#333" stroke="#333" stroke-width="0.18" transform="matrix(1 0 0 1.1 0 -35.440)">PHE</text>
<line x1="17.40" y1="405.40" x2="17.40" y2="461.20" stroke="#aaa" stroke-width="0.6"/>
<line x1="17.40" y1="461.20" x2="126.00" y2="461.20" stroke="#aaa" stroke-width="0.6"/>
<line x1="15.90" y1="457.20" x2="17.40" y2="457.20" stroke="#aaa" stroke-width="0.6"/>
<text x="14.10" y="459.80" font-size="7.1" text-anchor="end" fill="#222" stroke="#222" stroke-width="0.18" transform="matrix(1 0 0 1.1 0 -45.980)">0</text>
<line x1="15.90" y1="438.05" x2="17.40" y2="438.05" stroke="#aaa" stroke-width="0.6"/>
<text x="14.10" y="440.65" font-size="7.1" text-anchor="end" fill="#222" stroke="#222" stroke-width="0.18" transform="matrix(1 0 0 1.1 0 -44.065)">100</text>
<line x1="15.90" y1="418.90" x2="17.40" y2="418.90" stroke="#aaa" stroke-width="0.6"/>
<text x="14.10" y="421.50" font-size="7.1" text-anchor="end" fill="#222" stroke="#222" stroke-width="0.18" transform="matrix(1 0 0 1.1 0 -42.150)">200</text>
<line x1="37.76" y1="461.20" x2="37.76" y2="462.70" stroke="#aaa" stroke-width="0.6"/>
<text x="37.76" y="468.70" font-size="5.6" text-anchor="middle" fill="#222" stroke="#222" stroke-width="0.18" transform="matrix(1 0 0 1.1 0 -46.870)">CA1</text>
<line x1="71.70" y1="461.20" x2="71.70" y2="462.70" stroke="#aaa" stroke-width="0.6"/>
<text x="71.70" y="468.70" font-size="5.6" text-anchor="middle" fill="#222" stroke="#222" stroke-width="0.18" transform="matrix(1 0 0 1.1 0 -46.870)">L1</text>
<line x1="105.64" y1="461.20" x2="105.64" y2="462.70" stroke="#aaa" stroke-width="0.6"/>
<text x="105.64" y="468.70" font-size="5.6" text-anchor="middle" fill="#222" stroke="#222" stroke-width="0.18" transform="matrix(1 0 0 1.1 0 -46.870)">L3–5</text>
<text x="35.00" y="400.90" font-size="8.45" text-anchor="start" fill="#111" stroke="#111" stroke-width="0.18" transform="matrix(1 0 0 1.1 0 -40.090)">Mean peak width, s</text>
<path d="M26.1 456.3h0M28.6 455.4h0M28.2 455.5h0M28.4 454.9h0M29.8 455.8h0M29.2 454.2h0M29.0 454.5h0M33.2 455.8h0M27.9 456.0h0M29.7 454.7h0M62.4 456.5h0M61.8 454.8h0M62.7 455.3h0M62.2 455.1h0M60.5 455.6h0M62.1 453.4h0M59.8 456.0h0M65.7 454.3h0M60.5 456.4h0M65.0 454.7h0M60.9 456.1h0" stroke="#2e2496" stroke-opacity="0.37" stroke-width="2.60" stroke-linecap="round" fill="none"/>
<path d="M37.3 455.7h0M37.6 455.0h0M36.0 456.1h0M37.9 455.9h0M37.4 455.8h0M34.2 455.5h0M36.9 456.7h0M36.0 455.0h0M73.8 456.2h0M73.1 455.4h0M68.5 456.5h0M72.4 456.1h0M69.7 456.1h0M72.0 453.9h0M73.4 455.8h0M73.8 455.0h0M71.8 454.9h0M72.2 453.8h0M70.7 454.4h0M72.1 454.7h0M71.8 455.3h0M72.5 454.4h0M72.0 456.3h0M71.7 456.5h0M74.4 455.6h0M106.0 454.4h0M105.6 455.8h0M103.2 455.3h0M106.5 454.5h0M105.4 456.7h0M105.9 455.3h0M107.4 455.2h0M107.0 455.1h0M103.8 455.7h0M106.4 456.2h0" stroke="#c0359e" stroke-opacity="0.37" stroke-width="2.60" stroke-linecap="round" fill="none"/>
<path d="M46.9 451.1h0M45.4 446.4h0M46.3 449.6h0M51.8 455.6h0M43.6 444.9h0M45.9 441.7h0M43.8 447.7h0M46.0 456.4h0M50.5 454.2h0M47.2 452.8h0M47.1 449.5h0M46.8 447.2h0M46.5 448.2h0M43.0 452.8h0M48.5 448.3h0M45.9 443.3h0M46.2 437.7h0M50.7 451.7h0M47.2 451.8h0M44.4 456.5h0M46.4 457.1h0M48.0 454.7h0M51.5 446.6h0M46.1 451.7h0M47.4 450.3h0M43.7 444.5h0M49.3 454.1h0M47.8 449.1h0M48.0 446.7h0M45.6 456.1h0M44.3 446.2h0M47.0 441.5h0M46.1 445.3h0M46.7 452.6h0M47.9 452.6h0M46.5 448.7h0M48.9 444.8h0M47.7 446.2h0M46.7 443.6h0M49.1 451.5h0M46.4 439.7h0M47.1 439.0h0M45.4 454.0h0M48.9 446.3h0M49.9 453.8h0M46.0 452.1h0M44.9 447.0h0M49.0 456.6h0M47.7 450.7h0M46.7 455.8h0M42.2 454.4h0M49.2 447.6h0M47.6 449.3h0M80.1 451.3h0M84.0 451.7h0M78.9 451.2h0M80.5 456.4h0M80.4 449.7h0M82.2 438.4h0M83.8 448.3h0M76.8 451.4h0M84.3 452.9h0M80.2 441.5h0M79.2 445.9h0M80.4 451.6h0M83.2 441.6h0M80.1 440.4h0M82.5 449.4h0M81.7 449.6h0M84.2 447.2h0M81.0 452.2h0M79.6 453.6h0M80.1 440.8h0M83.0 448.4h0M80.5 448.2h0M83.7 454.2h0M79.9 449.9h0M78.0 450.3h0M80.2 454.9h0M81.3 450.7h0M77.7 453.5h0M84.6 447.9h0M83.3 447.1h0M83.1 450.7h0M78.1 449.5h0M82.7 452.5h0M80.4 451.4h0M81.5 435.7h0M80.1 450.4h0M81.5 448.9h0M78.3 454.3h0M79.5 441.9h0M82.4 440.9h0M78.8 448.8h0M115.1 453.6h0M113.2 444.8h0M117.4 445.4h0M113.7 443.6h0M112.4 441.6h0M115.1 444.8h0M114.6 448.4h0M119.9 447.9h0M113.0 440.2h0M117.1 443.4h0M116.2 444.7h0M112.9 448.2h0M108.8 447.3h0M115.3 446.6h0M114.5 441.2h0M112.7 452.4h0M112.8 448.9h0M115.2 449.6h0M115.4 446.7h0M114.0 451.1h0M114.2 451.7h0M112.5 441.9h0M117.8 454.6h0M118.8 447.2h0M117.0 453.8h0M110.7 450.7h0M115.5 440.7h0M114.9 449.0h0M113.3 448.1h0M109.9 445.2h0M116.4 455.6h0M115.8 443.7h0M114.9 448.8h0M116.7 444.9h0M110.6 451.9h0M114.8 450.0h0M112.1 451.9h0M115.5 455.5h0M112.2 447.5h0M112.4 444.9h0M115.3 456.0h0M114.3 451.3h0M113.1 451.0h0M116.5 451.3h0M113.0 454.5h0M110.4 449.1h0M116.0 448.7h0M115.4 444.5h0M112.0 445.5h0M113.7 440.9h0M118.3 453.4h0M118.1 448.2h0" stroke="#f89e2a" stroke-opacity="0.34" stroke-width="2.60" stroke-linecap="round" fill="none"/>
<path d="M95.1 454.7h0M96.6 454.5h0M95.2 456.4h0M97.7 455.1h0M96.5 453.9h0M95.4 455.4h0M95.7 456.1h0" stroke="#2e2496" stroke-opacity="0.32" stroke-width="2.90" stroke-linecap="round" fill="none"/>
<path d="M28.2 456.5h0M28.6 453.7h0M29.3 455.3h0M27.3 456.1h0M26.9 455.1h0M27.2 455.8h0M31.4 456.2h0M30.3 455.5h0M28.0 453.9h0M28.8 455.8h0M27.4 456.1h0M27.9 455.8h0M24.6 456.0h0M64.1 454.7h0M66.2 455.5h0M61.2 455.1h0M64.4 454.3h0M64.3 455.1h0M65.2 454.3h0M63.6 455.3h0M61.1 455.5h0M62.9 454.7h0M65.5 455.3h0M64.1 454.3h0M62.1 455.3h0M62.4 454.1h0M62.3 454.4h0M62.1 453.9h0M62.6 454.7h0M59.3 455.6h0" stroke="#2e2496" stroke-opacity="0.37" stroke-width="2.60" stroke-linecap="round" fill="none"/>
<path d="M38.4 455.6h0M36.9 455.8h0M38.0 454.9h0M38.4 456.7h0M41.5 455.9h0M37.1 455.6h0M37.9 455.7h0M37.8 455.5h0M38.7 455.7h0M37.6 455.7h0M38.7 455.2h0M37.2 455.4h0M37.6 456.5h0M36.8 455.7h0M36.5 455.9h0M71.3 454.6h0M71.7 454.7h0M73.9 455.7h0M70.7 456.7h0M73.2 455.6h0M70.1 454.8h0M71.0 454.6h0M75.1 455.0h0M108.4 456.3h0M106.5 456.2h0M107.1 455.9h0M102.9 455.1h0M109.9 456.0h0M105.2 456.0h0M107.5 454.7h0M106.7 454.9h0M106.0 454.5h0M108.0 455.6h0" stroke="#c0359e" stroke-opacity="0.37" stroke-width="2.60" stroke-linecap="round" fill="none"/>
<path d="M50.8 452.6h0M47.3 439.6h0M50.7 455.9h0M45.2 443.1h0M47.0 452.4h0M45.1 449.4h0M48.5 449.6h0M46.8 454.9h0M49.1 445.9h0M48.9 449.0h0M47.3 456.0h0M46.2 448.7h0M46.5 450.7h0M44.4 451.0h0M43.9 442.8h0M48.5 453.6h0M46.0 446.6h0M46.1 452.5h0M45.7 447.8h0M45.8 445.9h0M40.4 451.2h0M45.0 444.9h0M43.9 449.4h0M45.1 447.8h0M50.1 446.5h0M45.3 447.1h0M49.8 445.4h0M46.1 456.7h0M46.5 453.2h0M46.1 454.7h0M45.5 457.2h0M49.6 449.5h0M45.2 454.6h0M49.6 447.9h0M48.0 448.4h0M47.6 446.8h0M47.4 456.2h0M45.3 450.4h0M79.8 443.4h0M78.9 449.1h0M77.1 444.9h0M81.0 432.7h0M79.4 443.3h0M82.7 444.4h0M83.4 451.4h0M86.5 444.4h0M84.4 445.0h0M79.5 442.1h0M84.1 446.3h0M80.3 449.4h0M79.3 438.1h0M82.1 446.0h0M80.7 455.0h0M75.4 447.4h0M75.9 451.3h0M79.1 451.8h0M76.8 450.2h0M80.6 451.2h0M77.0 449.6h0M77.9 441.4h0M82.6 447.4h0M82.6 456.5h0M82.6 447.5h0M79.7 452.4h0M79.3 447.2h0M79.0 446.2h0M73.3 445.0h0M77.6 443.5h0M81.4 444.6h0M82.4 450.9h0M82.6 449.7h0M80.5 442.7h0M78.3 441.7h0M84.8 449.2h0M78.5 443.3h0M81.3 443.3h0M82.4 450.8h0M79.9 455.5h0M75.3 450.8h0M88.1 447.8h0M79.0 449.4h0M81.4 441.2h0M74.7 449.0h0M80.6 433.1h0M80.4 452.1h0M79.4 443.9h0M79.8 441.9h0M82.4 450.4h0M80.6 447.7h0M78.0 449.6h0M80.5 447.0h0M80.6 433.3h0M78.0 447.4h0M78.0 454.2h0M79.0 450.9h0M78.4 449.1h0M113.5 449.4h0M113.9 450.0h0M116.3 444.0h0M113.7 445.4h0M112.4 445.4h0M113.7 441.8h0M118.2 447.9h0M117.3 454.0h0M114.0 453.4h0M113.1 447.9h0M113.7 453.4h0M112.7 445.4h0M115.3 452.0h0M120.6 446.3h0M109.0 449.3h0M116.6 453.5h0M115.2 443.2h0M117.1 443.9h0M115.2 445.0h0M115.0 442.3h0M115.4 454.1h0M114.7 441.7h0M115.8 436.7h0M120.5 447.4h0M112.8 456.8h0M115.8 450.0h0M115.4 448.2h0M112.4 449.3h0M115.0 454.2h0M114.5 452.4h0M112.8 452.2h0M114.6 445.4h0M117.4 442.4h0M112.0 447.9h0M114.1 452.2h0M112.1 449.1h0M113.5 449.8h0M112.4 445.8h0M113.2 440.4h0M114.9 455.3h0M114.0 452.1h0M114.9 445.6h0" stroke="#f89e2a" stroke-opacity="0.34" stroke-width="2.60" stroke-linecap="round" fill="none"/>
<path d="M94.7 455.4h0M96.6 455.6h0M95.0 454.7h0M94.1 455.8h0M94.7 454.8h0M96.7 454.1h0M94.2 454.2h0M94.3 455.5h0M94.6 454.0h0" stroke="#2e2496" stroke-opacity="0.32" stroke-width="2.90" stroke-linecap="round" fill="none"/>
<path d="M32.1 455.5h0M28.5 455.4h0M30.7 456.6h0M31.9 455.7h0M27.8 456.3h0M26.9 456.7h0M29.9 456.3h0M25.9 455.6h0M30.6 456.4h0M26.8 455.3h0M30.2 455.4h0M26.6 454.8h0M27.8 456.7h0M29.1 454.9h0M28.8 455.0h0M63.0 455.0h0M59.3 454.5h0M60.7 454.9h0M60.7 454.9h0M61.4 455.1h0M61.7 453.5h0M62.0 455.5h0M62.2 453.8h0M62.9 455.9h0M61.2 455.9h0M60.1 456.1h0M63.0 455.2h0M63.0 456.7h0M61.7 455.2h0M62.7 455.0h0" stroke="#2e2496" stroke-opacity="0.37" stroke-width="2.60" stroke-linecap="round" fill="none"/>
<path d="M40.0 456.1h0M36.3 455.4h0M37.8 456.7h0M38.0 454.3h0M35.8 454.9h0M38.1 454.7h0M39.7 455.1h0M38.3 455.3h0M35.3 455.6h0M40.8 456.0h0M36.7 455.2h0M36.5 455.9h0M35.0 455.8h0M39.8 455.7h0M40.3 455.4h0M36.1 456.7h0M37.8 455.9h0M36.6 454.7h0M70.9 455.8h0M70.5 456.3h0M71.8 456.0h0M72.3 455.4h0M72.0 455.5h0M71.2 454.8h0M71.3 454.2h0M71.0 455.5h0M71.7 455.8h0M69.8 456.0h0M74.0 455.9h0M74.7 455.4h0M71.4 456.7h0M74.1 456.3h0M68.3 455.9h0M72.3 455.4h0M71.5 456.2h0M71.2 455.5h0M106.5 455.4h0M104.2 455.8h0M106.6 456.2h0M106.8 455.8h0M104.4 456.6h0M108.0 455.8h0M105.4 456.3h0M105.8 454.5h0M108.1 455.8h0M104.0 456.0h0M108.8 455.3h0M107.6 455.7h0M104.1 456.2h0M102.6 455.5h0M108.3 455.4h0M104.6 456.5h0" stroke="#c0359e" stroke-opacity="0.37" stroke-width="2.60" stroke-linecap="round" fill="none"/>
<path d="M46.0 448.7h0M44.8 445.5h0M50.4 445.3h0M47.2 445.1h0M46.8 456.2h0M44.0 447.9h0M46.4 449.7h0M44.5 453.2h0M46.5 439.5h0M48.3 454.0h0M47.5 446.1h0M48.2 449.5h0M41.7 450.0h0M50.5 449.8h0M50.5 449.5h0M45.5 455.1h0M45.5 450.8h0M46.0 452.1h0M46.7 454.1h0M46.8 450.9h0M49.8 447.9h0M47.2 446.6h0M52.3 453.6h0M46.6 449.4h0M48.1 439.4h0M51.4 448.6h0M41.1 456.5h0M47.4 453.9h0M48.2 449.8h0M49.5 454.6h0M43.0 444.1h0M46.0 453.1h0M44.5 455.2h0M45.2 449.5h0M49.1 445.7h0M47.4 443.4h0M49.3 447.4h0M49.7 455.6h0M46.8 441.7h0M45.5 448.5h0M49.4 450.0h0M40.8 452.6h0M46.9 443.2h0M49.0 451.7h0M48.9 457.0h0M47.7 442.8h0M51.5 447.9h0M45.9 456.9h0M48.1 449.0h0M44.0 456.5h0M81.4 445.2h0M81.8 440.3h0M78.0 455.1h0M82.8 443.8h0M78.8 447.3h0M83.0 442.1h0M84.4 448.3h0M83.4 454.5h0M81.2 452.8h0M80.9 449.1h0M82.0 443.4h0M77.8 448.0h0M83.5 445.5h0M77.0 445.2h0M79.8 456.5h0M80.3 455.6h0M79.2 452.3h0M79.3 443.4h0M81.5 455.3h0M80.3 455.5h0M75.3 448.0h0M75.4 449.5h0M86.9 450.6h0M81.7 446.8h0M80.1 438.6h0M82.0 439.9h0M82.3 445.5h0M84.7 444.8h0M81.7 435.6h0M79.0 444.8h0M79.9 447.4h0M82.2 450.7h0M82.9 449.4h0M82.1 452.3h0M79.2 449.9h0M80.1 439.1h0M74.9 445.8h0M81.7 437.9h0M82.2 447.7h0M80.2 450.7h0M79.6 438.8h0M76.3 449.7h0M83.6 444.2h0M82.2 454.2h0M80.9 444.6h0M82.8 451.4h0M83.3 448.2h0M85.5 445.0h0M110.5 448.2h0M114.3 453.9h0M114.5 453.4h0M119.1 445.9h0M114.6 455.8h0M115.2 437.6h0M111.5 453.3h0M115.5 444.3h0M115.8 450.5h0M118.3 448.5h0M118.6 448.4h0M115.3 449.7h0M113.2 446.2h0M114.8 455.5h0M113.4 453.6h0M118.4 450.1h0M113.2 453.4h0M113.0 440.2h0M117.2 456.8h0M114.7 456.7h0M114.5 447.6h0M114.2 445.9h0M113.7 455.9h0M116.1 450.3h0M120.7 445.8h0M117.0 454.7h0M119.5 448.6h0M116.5 445.1h0M116.3 454.9h0M117.6 445.7h0M118.6 442.7h0M114.4 451.7h0M118.1 449.8h0M119.1 446.3h0M115.2 442.7h0M116.2 456.4h0M113.8 442.2h0M115.3 453.2h0M116.2 447.0h0M120.5 451.7h0M114.4 451.5h0M117.6 446.0h0M117.9 445.6h0M116.5 442.8h0M115.8 456.3h0M117.0 447.4h0M114.6 439.7h0M116.8 449.3h0" stroke="#f89e2a" stroke-opacity="0.34" stroke-width="2.60" stroke-linecap="round" fill="none"/>
<path d="M94.5 454.9h0M95.5 455.8h0M98.5 456.8h0M96.0 455.0h0M95.5 454.7h0M98.3 455.3h0M98.0 453.2h0M97.8 454.8h0M97.2 456.0h0M98.1 455.7h0M98.5 456.2h0M94.0 455.4h0M99.0 455.2h0M95.0 453.9h0" stroke="#2e2496" stroke-opacity="0.32" stroke-width="2.90" stroke-linecap="round" fill="none"/>
<path d="M28.5 455.6h0M25.0 455.6h0M27.4 455.1h0M29.2 456.3h0M27.8 455.6h0M28.9 453.8h0M27.9 454.5h0M26.0 455.2h0M29.2 456.1h0M27.9 455.9h0M30.3 456.2h0M24.4 455.6h0M27.7 455.9h0M30.2 454.6h0M29.6 455.7h0M30.3 455.5h0M30.8 456.0h0M27.8 455.9h0M64.8 455.4h0M63.3 454.3h0M63.4 455.9h0M62.3 454.5h0M62.5 455.8h0M62.2 456.3h0M61.7 455.3h0M61.7 455.4h0M63.8 454.7h0M62.7 455.9h0M61.0 454.3h0" stroke="#2e2496" stroke-opacity="0.37" stroke-width="2.60" stroke-linecap="round" fill="none"/>
<path d="M40.0 455.1h0M38.1 456.2h0M38.4 455.1h0M36.4 456.4h0M37.1 456.0h0M41.0 456.0h0M36.9 454.5h0M35.8 455.1h0M36.5 455.3h0M38.4 456.5h0M37.1 455.7h0M38.3 455.2h0M71.2 454.2h0M72.2 456.5h0M70.5 455.3h0M71.0 456.6h0M72.5 454.6h0M70.9 455.6h0M71.6 455.5h0M68.6 456.7h0M73.7 456.0h0M72.4 456.4h0M69.7 456.1h0M70.6 454.7h0M71.4 456.3h0M107.3 455.7h0M107.5 455.1h0M106.9 455.7h0M106.1 456.4h0M105.5 456.1h0" stroke="#c0359e" stroke-opacity="0.37" stroke-width="2.60" stroke-linecap="round" fill="none"/>
<path d="M51.7 449.3h0M43.9 446.7h0M45.2 447.6h0M52.5 450.0h0M44.6 451.4h0M46.0 451.2h0M45.1 444.8h0M48.7 455.6h0M53.5 449.6h0M46.4 455.3h0M41.6 450.7h0M46.3 454.9h0M46.2 446.7h0M51.2 450.8h0M43.0 446.2h0M48.0 451.1h0M48.1 445.4h0M45.1 453.3h0M46.8 452.0h0M44.3 447.4h0M49.1 443.9h0M48.0 456.3h0M48.0 450.2h0M47.9 452.1h0M48.3 437.6h0M44.4 451.8h0M52.1 449.3h0M51.0 447.9h0M47.9 450.9h0M43.8 456.2h0M52.9 452.4h0M42.7 442.0h0M47.7 442.4h0M44.7 455.0h0M53.0 449.4h0M46.1 452.9h0M43.9 448.9h0M50.8 448.5h0M45.7 455.1h0M44.3 456.3h0M46.4 439.0h0M48.3 444.8h0M47.0 446.0h0M47.4 436.6h0M45.2 449.0h0M49.2 446.2h0M49.3 447.6h0M46.0 448.1h0M47.8 453.1h0M49.0 452.7h0M46.2 448.7h0M79.6 450.1h0M84.4 447.7h0M79.8 440.8h0M80.1 449.0h0M82.8 449.5h0M76.8 449.8h0M80.4 445.9h0M81.5 442.5h0M77.8 452.1h0M83.6 445.1h0M80.0 456.3h0M79.2 450.7h0M78.3 440.9h0M78.5 453.5h0M80.9 446.8h0M86.3 445.0h0M78.7 455.0h0M82.8 443.2h0M78.0 449.8h0M77.8 441.9h0M82.7 448.6h0M85.5 450.1h0M83.2 454.2h0M79.0 443.0h0M84.2 447.0h0M82.9 451.1h0M83.0 443.5h0M79.1 445.5h0M82.9 446.3h0M81.2 436.8h0M86.2 451.0h0M85.1 447.8h0M81.2 438.0h0M81.5 446.9h0M82.5 449.0h0M80.4 433.6h0M80.5 449.0h0M80.4 452.9h0M77.2 447.3h0M80.2 450.8h0M76.1 454.9h0M80.1 451.6h0M79.8 457.1h0M83.5 451.9h0M77.2 446.2h0M80.7 452.4h0M77.6 444.3h0M80.9 456.7h0M76.4 444.6h0M77.2 447.6h0M80.5 446.3h0M82.4 442.6h0M80.6 448.0h0M82.8 444.4h0M80.1 452.8h0M81.0 439.7h0M82.1 455.6h0M80.0 445.2h0M80.2 454.5h0M83.0 445.8h0M82.2 455.8h0M80.0 452.4h0M78.8 450.2h0M83.3 451.4h0M84.2 451.7h0M79.4 453.7h0M112.3 447.1h0M115.8 447.0h0M117.3 453.6h0M115.2 452.2h0M115.8 449.1h0M114.6 452.5h0M117.6 452.2h0M110.2 446.6h0M116.5 452.4h0M118.0 449.2h0M115.8 446.6h0M113.3 449.4h0M114.9 457.2h0M119.4 445.2h0M113.6 447.4h0M117.0 442.7h0M114.7 451.4h0M115.3 455.8h0M116.1 451.3h0M116.8 456.1h0M113.0 450.4h0M115.8 446.3h0M112.9 450.5h0M116.0 442.1h0M115.6 453.5h0M113.2 452.1h0M118.3 455.1h0M114.6 453.9h0M112.7 447.1h0M119.6 447.1h0M119.4 449.4h0M115.9 444.2h0M116.4 443.7h0M117.8 445.2h0M111.5 457.1h0M113.9 448.2h0M116.3 446.7h0M118.1 450.3h0M114.6 445.3h0M118.0 443.8h0M113.9 451.6h0M114.5 453.7h0M109.8 449.8h0M112.4 442.3h0M118.6 451.7h0M110.6 452.0h0M113.9 448.6h0M113.4 450.2h0" stroke="#f89e2a" stroke-opacity="0.34" stroke-width="2.60" stroke-linecap="round" fill="none"/>
<path d="M94.5 453.9h0M96.7 455.3h0M96.6 452.4h0M97.4 456.0h0M95.9 452.6h0M97.8 454.9h0" stroke="#2e2496" stroke-opacity="0.32" stroke-width="2.90" stroke-linecap="round" fill="none"/>
<path d="M95.2 439.4h0" stroke="#2e2496" stroke-opacity="0.56" stroke-width="2.20" stroke-linecap="round" fill="none"/>
<path d="M26.6 456.0h0M27.8 455.3h0M31.0 455.0h0M25.8 455.9h0M28.6 454.9h0M28.1 456.5h0M28.2 455.3h0M27.8 454.8h0M28.0 456.7h0M26.5 456.7h0M25.6 456.2h0M28.3 455.1h0M28.0 456.3h0M29.6 456.2h0M59.8 455.4h0M63.7 454.2h0M63.9 454.5h0M62.9 455.3h0M61.3 455.3h0M60.5 455.8h0M62.3 454.8h0M62.8 455.1h0M62.6 455.1h0M60.9 455.2h0M64.4 456.0h0M62.8 456.7h0M62.5 453.3h0M61.8 454.1h0M59.6 455.7h0M62.6 454.5h0" stroke="#2e2496" stroke-opacity="0.37" stroke-width="2.60" stroke-linecap="round" fill="none"/>
<path d="M38.1 455.7h0M39.7 456.8h0M38.2 455.4h0M36.2 454.7h0M37.8 454.4h0M35.0 456.0h0M36.8 456.4h0M35.7 455.1h0M34.5 456.0h0M38.1 456.2h0M36.0 455.4h0M36.5 456.4h0M37.8 456.7h0M36.3 454.7h0M32.0 456.0h0M35.4 454.6h0M37.9 456.1h0M72.0 456.2h0M73.9 456.5h0M72.3 455.6h0M72.0 456.3h0M71.0 456.2h0M71.9 455.5h0M72.4 456.3h0M72.1 455.7h0M71.3 456.2h0M68.3 455.1h0M71.4 456.0h0M70.7 456.7h0M72.3 456.5h0M68.9 456.3h0M105.3 454.7h0M104.6 455.5h0M106.8 454.6h0M105.6 456.0h0M102.2 456.2h0M103.9 456.0h0M106.1 454.6h0M107.5 454.6h0M106.0 454.8h0M106.3 456.2h0M107.1 454.6h0M105.0 456.5h0M107.0 456.0h0M104.8 456.0h0M107.1 456.3h0M103.5 455.5h0M105.4 456.1h0M105.4 455.7h0M104.2 455.4h0" stroke="#c0359e" stroke-opacity="0.37" stroke-width="2.60" stroke-linecap="round" fill="none"/>
<path d="M44.1 455.7h0M46.9 436.1h0M45.3 446.6h0M50.1 447.0h0M46.4 448.4h0M45.6 451.1h0M51.6 448.4h0M49.8 452.3h0M46.4 453.8h0M46.4 455.2h0M50.2 448.3h0M47.4 453.1h0M47.0 446.3h0M46.9 455.1h0M47.1 444.3h0M47.4 440.6h0M45.0 442.6h0M45.1 455.9h0M47.7 447.5h0M46.4 445.8h0M47.8 449.0h0M49.0 451.9h0M50.3 453.7h0M48.8 445.5h0M48.3 448.0h0M50.0 450.3h0M45.5 455.7h0M48.4 452.9h0M48.3 455.1h0M48.3 455.5h0M50.6 456.3h0M47.3 450.0h0M48.2 450.5h0M47.2 453.5h0M48.5 454.3h0M42.0 449.6h0M48.9 452.1h0M48.9 452.6h0M49.6 446.1h0M45.6 448.9h0M45.2 451.3h0M46.2 446.4h0M45.8 457.2h0M49.8 450.7h0M47.8 450.2h0M48.4 454.9h0M46.6 457.1h0M47.5 450.5h0M81.5 441.7h0M80.5 449.5h0M78.4 445.7h0M78.9 442.1h0M82.4 453.7h0M78.3 445.3h0M74.3 450.6h0M79.1 444.9h0M79.5 449.4h0M80.7 439.6h0M77.1 445.9h0M80.5 436.8h0M82.5 449.2h0M79.8 449.7h0M80.8 439.8h0M82.5 455.9h0M80.1 447.7h0M81.7 448.1h0M82.8 449.1h0M80.9 440.0h0M80.1 435.7h0M79.6 443.5h0M78.4 446.5h0M81.8 456.8h0M77.2 445.8h0M79.2 448.8h0M80.3 444.5h0M79.5 440.5h0M81.4 440.3h0M80.5 451.8h0M80.8 442.8h0M79.4 440.4h0M79.3 440.3h0M86.0 442.9h0M79.3 444.7h0M81.9 449.7h0M81.1 455.9h0M81.2 449.6h0M83.5 455.1h0M81.1 446.7h0M82.2 442.1h0M82.2 446.3h0M81.3 444.3h0M87.3 449.8h0M82.5 445.6h0M81.7 453.3h0M83.0 452.5h0M113.5 450.1h0M114.5 446.4h0M119.7 445.9h0M113.5 450.2h0M115.7 452.4h0M112.0 441.6h0M116.3 447.4h0M110.1 456.6h0M113.6 451.6h0M114.2 452.0h0M117.1 447.9h0M112.6 447.6h0M115.3 435.9h0M115.7 444.7h0M113.4 440.7h0M113.2 447.6h0M113.8 454.4h0M118.5 448.6h0M117.6 453.9h0M111.1 447.1h0M114.8 454.6h0M115.3 442.8h0M116.9 454.4h0M111.4 455.6h0M118.6 444.5h0M116.6 440.3h0M115.7 439.7h0M113.4 449.4h0M114.6 454.5h0M112.9 445.5h0M116.8 442.6h0M115.5 456.3h0M114.8 444.5h0M117.0 452.9h0M115.7 449.7h0M119.2 446.3h0M113.0 443.4h0M115.7 438.0h0M113.3 440.0h0M118.8 451.1h0M113.6 449.8h0M111.7 448.1h0M116.9 442.2h0M114.9 451.2h0M118.5 448.3h0M116.7 451.3h0M111.1 449.1h0M116.4 449.7h0M116.0 449.7h0M114.7 445.4h0" stroke="#f89e2a" stroke-opacity="0.34" stroke-width="2.60" stroke-linecap="round" fill="none"/>
<path d="M97.6 453.6h0M94.6 453.3h0M95.3 452.1h0M96.7 454.3h0" stroke="#2e2496" stroke-opacity="0.32" stroke-width="2.90" stroke-linecap="round" fill="none"/>
<path d="M28.50 454.07 L30.10 455.67 L28.50 457.27 L26.90 455.67 Z" fill="#e4e4e4" stroke="#1a1a1a" stroke-width="0.6"/>
<path d="M37.76 454.34 L39.36 455.94 L37.76 457.54 L36.16 455.94 Z" fill="#e4e4e4" stroke="#1a1a1a" stroke-width="0.6"/>
<line x1="47.03" y1="456.05" x2="47.03" y2="446.48" stroke="#222" stroke-width="0.7"/>
<path d="M47.03 449.66 L48.63 451.26 L47.03 452.86 L45.43 451.26 Z" fill="#e4e4e4" stroke="#1a1a1a" stroke-width="0.6"/>
<path d="M62.44 453.68 L64.04 455.28 L62.44 456.88 L60.84 455.28 Z" fill="#e4e4e4" stroke="#1a1a1a" stroke-width="0.6"/>
<path d="M71.70 454.16 L73.30 455.76 L71.70 457.36 L70.10 455.76 Z" fill="#e4e4e4" stroke="#1a1a1a" stroke-width="0.6"/>
<line x1="80.96" y1="453.56" x2="80.96" y2="443.99" stroke="#222" stroke-width="0.7"/>
<path d="M80.96 447.17 L82.56 448.77 L80.96 450.37 L79.36 448.77 Z" fill="#e4e4e4" stroke="#1a1a1a" stroke-width="0.6"/>
<line x1="96.37" y1="456.63" x2="96.37" y2="452.80" stroke="#222" stroke-width="0.7"/>
<path d="M96.37 453.11 L97.97 454.71 L96.37 456.31 L94.77 454.71 Z" fill="#e4e4e4" stroke="#1a1a1a" stroke-width="0.6"/>
<path d="M105.64 454.18 L107.24 455.78 L105.64 457.38 L104.04 455.78 Z" fill="#e4e4e4" stroke="#1a1a1a" stroke-width="0.6"/>
<line x1="114.90" y1="453.94" x2="114.90" y2="444.37" stroke="#222" stroke-width="0.7"/>
<path d="M114.90 447.56 L116.50 449.16 L114.90 450.76 L113.30 449.16 Z" fill="#e4e4e4" stroke="#1a1a1a" stroke-width="0.6"/>
<text x="28.70" y="451.70" font-size="5.7" text-anchor="start" fill="#111" stroke="#111" stroke-width="0.18" transform="rotate(-45 28.70 451.70) matrix(1 0 0 1.1 0 -45.170)">8</text>
<text x="36.80" y="453.30" font-size="5.7" text-anchor="start" fill="#111" stroke="#111" stroke-width="0.18" transform="rotate(-45 36.80 453.30) matrix(1 0 0 1.1 0 -45.330)">6.6</text>
<text x="46.40" y="437.30" font-size="5.7" text-anchor="start" fill="#111" stroke="#111" stroke-width="0.18" transform="rotate(-45 46.40 437.30) matrix(1 0 0 1.1 0 -43.730)">31</text>
<text x="61.70" y="450.90" font-size="5.7" text-anchor="start" fill="#111" stroke="#111" stroke-width="0.18" transform="rotate(-45 61.70 450.90) matrix(1 0 0 1.1 0 -45.090)">10</text>
<text x="70.50" y="451.70" font-size="5.7" text-anchor="start" fill="#111" stroke="#111" stroke-width="0.18" transform="rotate(-45 70.50 451.70) matrix(1 0 0 1.1 0 -45.170)">7.5</text>
<text x="80.20" y="434.90" font-size="5.7" text-anchor="start" fill="#111" stroke="#111" stroke-width="0.18" transform="rotate(-45 80.20 434.90) matrix(1 0 0 1.1 0 -43.490)">44</text>
<text x="95.50" y="450.10" font-size="5.7" text-anchor="start" fill="#111" stroke="#111" stroke-width="0.18" transform="rotate(-45 95.50 450.10) matrix(1 0 0 1.1 0 -45.010)">13</text>
<text x="104.40" y="451.70" font-size="5.7" text-anchor="start" fill="#111" stroke="#111" stroke-width="0.18" transform="rotate(-45 104.40 451.70) matrix(1 0 0 1.1 0 -45.170)">7.4</text>
<text x="113.20" y="436.50" font-size="5.7" text-anchor="start" fill="#111" stroke="#111" stroke-width="0.18" transform="rotate(-45 113.20 436.50) matrix(1 0 0 1.1 0 -43.650)">42</text>
<polyline points="27.0,429.5 27.0,428.2 61.6,428.2 61.6,429.5" fill="none" stroke="#555" stroke-width="0.55"/>
<text x="44.60" y="430.70" font-size="10.0" text-anchor="middle" fill="#000" transform="matrix(1 0 0 1.1 0 -43.070)" letter-spacing="0.6">***</text>
<polyline points="37.5,423.9 37.5,422.6 71.5,422.6 71.5,423.9" fill="none" stroke="#555" stroke-width="0.55"/>
<text x="54.80" y="425.10" font-size="10.0" text-anchor="middle" fill="#000" transform="matrix(1 0 0 1.1 0 -42.510)" letter-spacing="0.6">*</text>
<polyline points="47.0,418.6 47.0,417.3 81.7,417.3 81.7,418.6" fill="none" stroke="#555" stroke-width="0.55"/>
<text x="64.65" y="419.80" font-size="10.0" text-anchor="middle" fill="#000" transform="matrix(1 0 0 1.1 0 -41.980)" letter-spacing="0.6">***</text>
<polyline points="47.0,412.7 47.0,411.4 115.8,411.4 115.8,412.7" fill="none" stroke="#555" stroke-width="0.55"/>
<text x="81.70" y="413.90" font-size="10.0" text-anchor="middle" fill="#000" transform="matrix(1 0 0 1.1 0 -41.390)" letter-spacing="0.6">***</text>
<circle cx="132.4" cy="427.4" r="1.35" fill="#2e2496"/>
<text x="136.70" y="429.40" font-size="5.6" text-anchor="start" fill="#333" stroke="#333" stroke-width="0.18" transform="matrix(1 0 0 1.1 0 -42.940)">BASE</text>
<circle cx="132.4" cy="436.0" r="1.35" fill="#c0359e"/>
<text x="136.70" y="438.00" font-size="5.6" text-anchor="start" fill="#333" stroke="#333" stroke-width="0.18" transform="matrix(1 0 0 1.1 0 -43.800)">TTX</text>
<circle cx="132.4" cy="443.8" r="1.35" fill="#f89e2a"/>
<text x="136.70" y="445.80" font-size="5.6" text-anchor="start" fill="#333" stroke="#333" stroke-width="0.18" transform="matrix(1 0 0 1.1 0 -44.580)">PHE</text>
<line x1="186.50" y1="404.90" x2="186.50" y2="461.20" stroke="#aaa" stroke-width="0.6"/>
<line x1="186.50" y1="461.20" x2="301.90" y2="461.20" stroke="#aaa" stroke-width="0.6"/>
<line x1="185.00" y1="458.80" x2="186.50" y2="458.80" stroke="#aaa" stroke-width="0.6"/>
<text x="183.20" y="461.40" font-size="7.1" text-anchor="end" fill="#222" stroke="#222" stroke-width="0.18" transform="matrix(1 0 0 1.1 0 -46.140)">0</text>
<line x1="185.00" y1="442.10" x2="186.50" y2="442.10" stroke="#aaa" stroke-width="0.6"/>
<text x="183.20" y="444.70" font-size="7.1" text-anchor="end" fill="#222" stroke="#222" stroke-width="0.18" transform="matrix(1 0 0 1.1 0 -44.470)">2</text>
<line x1="185.00" y1="425.40" x2="186.50" y2="425.40" stroke="#aaa" stroke-width="0.6"/>
<text x="183.20" y="428.00" font-size="7.1" text-anchor="end" fill="#222" stroke="#222" stroke-width="0.18" transform="matrix(1 0 0 1.1 0 -42.800)">4</text>
<line x1="185.00" y1="408.70" x2="186.50" y2="408.70" stroke="#aaa" stroke-width="0.6"/>
<text x="183.20" y="411.30" font-size="7.1" text-anchor="end" fill="#222" stroke="#222" stroke-width="0.18" transform="matrix(1 0 0 1.1 0 -41.130)">6</text>
<line x1="208.14" y1="461.20" x2="208.14" y2="462.70" stroke="#aaa" stroke-width="0.6"/>
<text x="208.14" y="468.70" font-size="5.6" text-anchor="middle" fill="#222" stroke="#222" stroke-width="0.18" transform="matrix(1 0 0 1.1 0 -46.870)">CA1</text>
<line x1="244.20" y1="461.20" x2="244.20" y2="462.70" stroke="#aaa" stroke-width="0.6"/>
<text x="244.20" y="468.70" font-size="5.6" text-anchor="middle" fill="#222" stroke="#222" stroke-width="0.18" transform="matrix(1 0 0 1.1 0 -46.870)">L1</text>
<line x1="280.26" y1="461.20" x2="280.26" y2="462.70" stroke="#aaa" stroke-width="0.6"/>
<text x="280.26" y="468.70" font-size="5.6" text-anchor="middle" fill="#222" stroke="#222" stroke-width="0.18" transform="matrix(1 0 0 1.1 0 -46.870)">L3–5</text>
<text x="188.10" y="400.90" font-size="8.45" text-anchor="start" fill="#111" stroke="#111" stroke-width="0.18" transform="matrix(1 0 0 1.1 0 -40.090)">Mean peak prominence, dF/F<tspan font-size="5.9" dy="1.9">0</tspan></text>
<path d="M199.1 454.6h0M199.6 453.5h0M198.3 454.2h0M198.5 451.5h0M196.6 454.8h0M199.8 453.8h0M197.1 452.9h0M200.2 453.3h0M198.2 455.5h0M199.6 452.7h0M199.0 451.9h0M233.5 450.9h0M235.8 455.8h0M234.8 457.7h0M233.1 455.0h0M235.0 448.9h0M234.1 454.0h0M233.7 445.1h0M234.7 444.9h0M236.9 457.8h0M234.0 457.7h0M235.3 455.4h0M232.4 450.2h0M232.5 448.9h0M234.4 451.0h0" stroke="#2e2496" stroke-opacity="0.34" stroke-width="2.60" stroke-linecap="round" fill="none"/>
<path d="M208.8 455.9h0M208.5 452.1h0M206.8 449.6h0M207.4 454.3h0M208.2 457.0h0M208.5 450.7h0M209.4 454.7h0M207.4 455.4h0M207.7 457.2h0M208.3 450.5h0M243.5 455.3h0M245.0 454.0h0M244.5 450.3h0M245.1 448.6h0M247.0 455.2h0M244.6 451.9h0M243.3 456.1h0M244.0 448.5h0M242.9 453.7h0M244.8 453.8h0M244.3 457.4h0M244.4 450.3h0M244.6 454.3h0M243.5 450.3h0M244.4 446.2h0M242.8 453.1h0M243.0 457.5h0M245.5 455.4h0M245.4 454.3h0" stroke="#c0359e" stroke-opacity="0.34" stroke-width="2.60" stroke-linecap="round" fill="none"/>
<path d="M215.2 454.3h0M217.2 451.0h0M220.1 456.2h0M216.0 454.2h0M217.4 455.0h0M214.5 457.7h0M220.2 452.9h0M218.1 453.7h0M217.2 456.1h0M216.4 452.9h0M216.3 454.8h0M219.6 451.5h0M219.7 451.9h0M219.3 455.2h0M217.4 456.0h0M217.5 454.9h0M217.8 456.9h0M219.3 451.2h0M216.4 457.2h0M219.0 452.3h0M219.3 454.0h0M217.4 452.9h0M216.3 454.6h0M216.1 456.5h0M214.0 454.5h0M216.4 451.4h0M219.0 455.0h0M217.8 450.0h0M217.9 453.6h0M215.8 456.4h0M220.7 455.7h0M253.6 448.6h0M255.8 448.0h0M254.5 448.8h0M253.1 445.8h0M253.4 446.9h0M256.1 450.3h0M255.2 451.4h0M252.7 444.8h0M255.9 449.4h0M255.2 448.3h0M252.7 451.5h0M255.3 455.3h0M256.3 446.9h0M253.0 445.0h0M254.9 453.5h0M253.3 449.2h0M254.7 451.4h0M260.4 451.0h0M254.3 446.6h0M256.2 454.0h0M252.9 450.6h0M252.8 452.5h0M254.6 450.4h0M258.0 446.4h0M253.6 453.8h0M253.4 455.4h0M252.8 451.7h0M256.9 446.6h0M256.1 450.1h0M254.6 446.1h0M253.9 451.6h0M252.8 446.9h0M253.0 453.3h0M256.0 454.1h0M250.2 448.3h0M254.7 447.7h0M255.5 453.5h0M254.1 446.5h0M254.5 452.9h0M254.7 455.3h0M255.1 449.6h0M250.6 452.5h0M254.5 446.5h0M251.5 449.0h0M257.3 450.4h0M258.0 451.0h0M256.7 452.2h0M253.7 444.7h0M252.2 453.9h0M251.7 450.1h0M290.6 452.1h0M288.7 454.7h0M289.0 454.3h0M288.9 456.1h0M288.0 449.9h0M290.0 448.8h0M290.1 452.2h0M284.9 451.5h0M292.5 453.3h0M293.1 452.3h0M290.1 457.5h0M290.5 450.5h0M290.8 453.2h0M288.2 449.9h0M290.1 456.5h0M287.2 453.1h0M291.9 451.3h0M292.0 453.9h0M291.6 452.3h0M292.3 452.8h0M291.3 452.8h0M291.8 454.0h0M291.5 455.2h0M289.4 451.4h0M288.2 448.6h0M291.0 455.9h0M289.5 455.5h0M290.3 456.9h0M290.6 446.9h0M288.8 450.7h0M294.1 454.3h0M288.4 449.9h0M289.9 453.0h0M291.7 452.8h0M291.3 450.3h0M289.3 455.5h0M289.1 453.8h0M291.4 449.4h0M289.2 449.7h0M290.7 450.0h0M289.9 452.1h0" stroke="#f89e2a" stroke-opacity="0.34" stroke-width="2.60" stroke-linecap="round" fill="none"/>
<path d="M272.5 453.3h0M269.3 450.5h0M272.3 449.7h0M269.9 452.9h0M273.3 452.1h0M267.9 455.1h0M270.2 455.0h0M270.1 456.3h0M270.0 454.4h0M273.3 453.0h0M269.2 454.0h0M272.8 454.6h0" stroke="#2e2496" stroke-opacity="0.28" stroke-width="2.90" stroke-linecap="round" fill="none"/>
<path d="M278.0 456.5h0M281.2 453.7h0M278.8 453.2h0M279.4 453.6h0M278.9 450.1h0M280.4 453.5h0M280.7 448.8h0M281.9 455.5h0M279.6 449.4h0M279.8 450.0h0M278.6 454.9h0M279.3 452.5h0M280.9 451.9h0M282.2 452.4h0M279.6 452.3h0M278.8 455.6h0" stroke="#c0359e" stroke-opacity="0.28" stroke-width="2.90" stroke-linecap="round" fill="none"/>
<path d="M201.1 454.3h0M200.2 455.0h0M197.1 451.1h0M198.6 449.9h0M197.0 457.1h0M200.1 454.5h0M198.8 453.9h0M197.1 456.1h0M198.0 452.4h0M198.1 457.5h0M197.0 452.4h0M197.0 454.1h0M197.2 454.9h0M196.6 453.3h0M235.6 452.9h0M234.3 453.2h0M235.9 453.0h0M232.3 451.8h0M237.0 452.3h0M234.9 451.7h0M231.1 453.9h0M235.8 452.5h0M232.6 453.3h0M233.9 456.8h0M235.8 454.4h0M233.4 451.1h0M233.6 448.6h0M234.3 453.4h0M235.2 456.5h0" stroke="#2e2496" stroke-opacity="0.34" stroke-width="2.60" stroke-linecap="round" fill="none"/>
<path d="M206.7 455.3h0M206.5 454.3h0M208.2 449.2h0M210.5 454.5h0M208.5 450.4h0M206.9 456.6h0M208.5 456.1h0M205.3 452.1h0M207.8 449.8h0M209.7 452.6h0M209.9 452.9h0M210.4 454.9h0M206.5 453.3h0M245.6 451.4h0M242.5 451.5h0M243.1 457.2h0M245.0 447.7h0M243.1 453.5h0M246.7 451.2h0M244.3 457.0h0M243.5 445.8h0M246.1 454.3h0M246.1 457.6h0M243.7 451.7h0M243.6 454.1h0M244.0 451.3h0" stroke="#c0359e" stroke-opacity="0.34" stroke-width="2.60" stroke-linecap="round" fill="none"/>
<path d="M216.8 449.7h0M218.4 456.3h0M218.5 455.6h0M214.5 454.8h0M220.9 454.2h0M213.5 455.9h0M219.5 453.1h0M218.4 455.1h0M216.6 456.1h0M219.3 451.7h0M218.6 457.2h0M217.2 455.1h0M219.2 455.9h0M218.4 452.7h0M217.1 449.9h0M214.8 455.0h0M217.6 457.2h0M215.6 451.4h0M216.6 451.8h0M218.7 458.2h0M214.3 455.1h0M217.1 455.0h0M221.3 452.1h0M219.0 454.6h0M216.1 456.3h0M218.8 455.1h0M217.0 454.1h0M214.6 456.2h0M216.3 454.5h0M218.5 456.7h0M217.1 452.0h0M218.4 455.7h0M218.8 453.4h0M219.7 454.4h0M254.0 441.8h0M254.8 455.5h0M254.6 455.3h0M254.2 456.0h0M252.0 451.3h0M253.8 457.0h0M253.5 450.9h0M255.8 446.0h0M251.6 451.5h0M258.0 449.9h0M252.7 446.2h0M254.6 447.6h0M252.9 450.5h0M253.4 456.6h0M252.9 453.0h0M255.7 448.2h0M251.8 446.4h0M252.9 450.2h0M257.3 453.2h0M254.0 457.1h0M250.2 451.8h0M253.6 453.8h0M254.9 447.4h0M256.1 451.3h0M256.0 451.7h0M253.2 449.1h0M250.3 453.1h0M255.4 447.9h0M254.2 445.6h0M254.3 452.7h0M253.5 454.2h0M254.6 454.6h0M256.7 451.6h0M254.8 456.7h0M257.6 451.8h0M254.7 450.5h0M252.9 451.7h0M254.3 452.7h0M256.1 450.3h0M253.0 445.0h0M256.3 452.9h0M288.1 448.7h0M293.5 454.5h0M290.4 455.2h0M288.1 453.2h0M287.3 452.5h0M287.9 455.1h0M288.7 451.4h0M291.1 456.4h0M287.9 453.1h0M287.4 455.2h0M290.9 453.1h0M290.0 455.8h0M290.9 455.5h0M287.9 456.0h0M290.4 451.9h0M289.9 453.7h0M290.2 456.6h0M289.8 450.7h0M293.0 448.5h0M291.4 453.6h0M290.4 448.6h0M289.7 453.4h0M290.7 451.3h0M290.3 452.0h0M292.5 449.6h0M291.4 451.3h0M291.8 453.4h0M289.3 449.3h0M289.6 452.0h0M290.6 457.1h0M289.9 450.6h0M290.7 455.5h0M289.4 448.9h0M291.0 453.6h0M292.2 452.5h0M287.9 454.4h0M294.5 453.8h0M286.4 452.0h0M287.0 450.2h0M290.9 454.9h0M291.4 450.5h0M291.4 450.8h0M288.8 448.0h0M291.1 454.5h0" stroke="#f89e2a" stroke-opacity="0.34" stroke-width="2.60" stroke-linecap="round" fill="none"/>
<path d="M254.6 424.6h0" stroke="#f89e2a" stroke-opacity="0.52" stroke-width="2.20" stroke-linecap="round" fill="none"/>
<path d="M268.2 452.8h0M272.8 451.9h0M269.9 455.9h0" stroke="#2e2496" stroke-opacity="0.28" stroke-width="2.90" stroke-linecap="round" fill="none"/>
<path d="M278.1 454.9h0M283.1 455.9h0M280.6 453.8h0M282.3 450.8h0M279.4 453.2h0M278.0 452.7h0M282.0 454.6h0M277.5 453.0h0M282.8 456.1h0" stroke="#c0359e" stroke-opacity="0.28" stroke-width="2.90" stroke-linecap="round" fill="none"/>
<path d="M199.8 452.6h0M198.9 456.0h0M197.5 454.1h0M197.8 450.0h0M199.9 453.7h0M198.6 455.1h0M199.6 455.3h0M201.8 455.7h0M194.9 455.9h0M197.4 457.6h0M198.6 453.1h0M235.9 450.7h0M234.8 454.4h0M233.6 450.4h0M237.4 451.1h0M234.7 455.7h0M233.8 454.1h0M232.7 454.9h0M235.3 450.0h0M235.0 451.6h0M233.4 455.9h0M233.6 457.9h0M232.4 451.9h0M235.1 447.5h0M235.7 450.2h0" stroke="#2e2496" stroke-opacity="0.34" stroke-width="2.60" stroke-linecap="round" fill="none"/>
<path d="M209.3 453.1h0M211.1 455.7h0M207.0 456.4h0M210.0 455.7h0M206.0 453.5h0M209.9 455.5h0M207.7 456.8h0M208.2 454.7h0M207.5 454.3h0M209.4 453.9h0M211.6 454.3h0M209.0 456.1h0M205.9 454.4h0M208.5 455.8h0M207.5 452.1h0M244.5 449.0h0M245.1 457.0h0M245.0 452.1h0M244.2 453.2h0M243.2 453.5h0M244.2 450.0h0M244.4 452.0h0M242.5 454.1h0M245.2 454.9h0M244.7 456.4h0M246.1 453.3h0M244.0 454.1h0M244.7 451.1h0M242.2 448.4h0" stroke="#c0359e" stroke-opacity="0.34" stroke-width="2.60" stroke-linecap="round" fill="none"/>
<path d="M215.3 457.3h0M220.9 453.8h0M216.7 457.1h0M219.0 457.5h0M217.3 452.8h0M217.1 457.4h0M220.9 455.5h0M216.2 454.2h0M217.2 456.5h0M216.0 457.5h0M217.7 451.0h0M218.5 456.0h0M219.3 454.5h0M216.2 454.6h0M218.2 451.6h0M221.1 456.0h0M217.4 456.4h0M220.5 452.9h0M219.4 451.6h0M217.9 455.8h0M218.6 452.0h0M220.5 451.9h0M218.7 453.9h0M219.6 451.3h0M219.8 452.3h0M252.6 456.7h0M257.4 452.7h0M255.3 449.4h0M253.6 453.7h0M255.3 454.6h0M255.6 449.1h0M255.2 447.2h0M255.3 451.4h0M250.4 449.8h0M253.7 451.9h0M252.9 453.9h0M255.1 446.4h0M253.7 448.2h0M253.3 451.0h0M251.5 452.6h0M253.4 455.5h0M255.1 455.4h0M255.3 446.4h0M255.9 451.0h0M253.5 456.4h0M253.5 457.0h0M255.4 456.0h0M253.1 447.2h0M253.1 446.0h0M255.6 452.1h0M250.7 450.2h0M254.3 446.8h0M253.6 451.3h0M252.7 453.8h0M257.6 450.6h0M254.9 449.6h0M257.4 448.6h0M253.9 448.7h0M254.5 446.4h0M251.6 454.8h0M253.8 449.0h0M252.3 454.2h0M253.9 455.5h0M252.0 450.4h0M251.2 452.0h0M252.9 452.7h0M293.9 454.9h0M290.4 449.6h0M287.7 456.3h0M292.2 453.6h0M288.6 452.7h0M289.4 452.5h0M291.3 452.9h0M290.9 451.7h0M292.0 452.5h0M289.9 453.1h0M291.9 455.0h0M293.4 454.1h0M291.3 454.4h0M289.9 455.4h0M293.1 453.2h0M286.2 452.5h0M291.9 453.0h0M290.7 453.8h0M289.5 452.8h0M288.2 450.2h0M290.8 454.8h0M289.7 453.5h0M289.5 450.7h0M291.7 454.6h0M288.5 454.9h0M287.9 450.7h0M288.4 455.7h0M287.2 453.6h0M291.1 452.0h0M288.8 453.5h0M292.9 454.3h0M291.4 456.0h0M294.1 454.6h0M292.8 455.3h0M292.3 451.4h0M293.4 451.1h0M291.1 448.4h0M294.8 454.2h0M289.1 449.1h0M288.8 456.7h0M290.3 452.8h0M291.2 455.0h0M286.6 452.1h0M289.7 451.0h0M289.0 451.5h0M293.0 452.2h0" stroke="#f89e2a" stroke-opacity="0.34" stroke-width="2.60" stroke-linecap="round" fill="none"/>
<path d="M270.9 457.9h0M270.8 451.0h0M271.5 454.0h0M270.0 448.8h0M268.5 452.8h0M272.2 455.9h0M271.9 453.3h0M267.3 453.8h0M271.1 455.3h0" stroke="#2e2496" stroke-opacity="0.28" stroke-width="2.90" stroke-linecap="round" fill="none"/>
<path d="M279.7 452.7h0M280.6 457.7h0M282.6 450.3h0M280.3 456.3h0M279.9 454.1h0M281.9 454.5h0M278.5 450.5h0M280.7 453.6h0M280.5 453.8h0" stroke="#c0359e" stroke-opacity="0.28" stroke-width="2.90" stroke-linecap="round" fill="none"/>
<path d="M197.0 454.7h0M197.9 450.4h0M197.8 449.6h0M198.7 451.9h0M196.3 451.8h0M200.5 454.0h0M198.1 454.8h0M199.0 452.7h0M199.9 453.0h0M200.3 454.5h0M197.9 456.7h0M197.4 453.3h0M197.3 453.9h0M198.8 452.4h0M200.2 453.2h0M198.1 453.4h0M196.9 451.2h0M199.0 455.8h0M197.1 455.4h0M198.0 452.5h0M234.6 454.8h0M232.7 457.2h0M232.5 451.0h0M233.4 452.0h0M236.0 455.9h0M234.3 453.9h0M235.9 454.1h0M233.8 448.0h0M235.7 452.9h0M233.9 452.3h0M234.4 456.9h0M234.8 448.2h0M233.3 452.1h0M234.5 455.4h0M236.7 455.1h0M231.6 455.5h0M233.6 447.5h0M234.0 452.1h0" stroke="#2e2496" stroke-opacity="0.34" stroke-width="2.60" stroke-linecap="round" fill="none"/>
<path d="M208.5 455.0h0M207.0 452.5h0M208.0 452.6h0M208.1 455.4h0M207.9 452.2h0M205.7 454.9h0M207.5 455.1h0M207.1 450.4h0M208.7 456.8h0M208.4 451.0h0M206.8 450.4h0M208.0 453.3h0M208.0 453.3h0M207.3 451.2h0M209.0 456.7h0M209.3 454.8h0M208.7 456.0h0M209.7 457.1h0M210.3 456.8h0M207.2 455.0h0M243.4 456.1h0M244.2 455.9h0M244.8 444.0h0M242.5 451.9h0M244.2 455.6h0M244.8 450.9h0M242.9 455.5h0M243.6 453.6h0" stroke="#c0359e" stroke-opacity="0.34" stroke-width="2.60" stroke-linecap="round" fill="none"/>
<path d="M222.0 454.6h0M218.5 456.0h0M220.3 455.0h0M215.2 455.2h0M214.6 452.9h0M217.2 455.4h0M217.2 458.1h0M217.3 455.4h0M217.2 455.7h0M221.3 453.5h0M218.5 456.2h0M219.8 454.1h0M217.8 457.4h0M216.6 457.3h0M219.6 457.3h0M220.2 455.0h0M220.2 458.0h0M216.6 456.7h0M219.4 457.1h0M219.7 455.1h0M220.8 456.8h0M215.3 456.0h0M215.3 452.1h0M221.1 455.3h0M212.8 453.2h0M220.0 454.8h0M220.3 456.6h0M218.0 458.4h0M219.4 450.5h0M219.0 451.7h0M215.3 455.5h0M219.5 450.8h0M220.2 457.0h0M219.8 455.8h0M217.7 456.7h0M216.2 456.1h0M218.1 456.2h0M217.0 454.7h0M217.3 455.3h0M219.3 454.7h0M214.3 455.7h0M218.0 455.3h0M218.8 451.6h0M218.4 454.5h0M252.6 447.8h0M254.3 452.2h0M253.5 443.8h0M253.3 447.3h0M253.3 450.1h0M253.9 453.5h0M258.1 450.0h0M253.2 453.7h0M253.3 452.2h0M252.7 445.0h0M252.9 450.7h0M250.4 449.6h0M256.0 447.3h0M255.3 452.1h0M254.0 454.1h0M255.2 448.9h0M251.6 447.9h0M257.3 450.6h0M256.5 455.3h0M254.0 453.7h0M254.8 454.8h0M252.8 453.9h0M253.5 449.5h0M253.5 447.8h0M247.4 453.2h0M252.8 450.7h0M254.7 444.9h0M253.7 453.4h0M252.4 448.6h0M254.7 453.9h0M255.7 448.0h0M254.4 445.6h0M255.3 450.0h0M254.1 448.0h0M253.5 446.3h0M253.7 444.1h0M254.8 452.3h0M254.5 446.8h0M254.2 452.1h0M255.0 449.4h0M256.9 448.2h0M257.6 451.8h0M253.4 450.0h0M254.3 450.5h0M255.6 453.7h0M290.5 456.4h0M287.4 451.1h0M292.5 452.7h0M291.9 455.0h0M289.2 450.6h0M287.6 456.0h0M291.8 451.7h0M290.7 453.8h0M290.9 456.4h0M290.6 453.2h0M291.2 453.3h0M292.0 452.1h0M288.5 450.5h0M288.2 454.9h0M288.5 451.3h0M293.4 454.3h0M286.3 451.2h0M286.3 454.3h0M289.2 449.2h0M292.3 453.7h0M291.7 449.8h0M291.1 449.9h0M288.0 451.4h0M287.3 449.1h0M290.5 456.6h0M290.2 456.2h0M287.7 453.1h0M290.1 451.9h0M289.4 454.5h0M293.0 450.7h0M289.1 448.1h0M292.1 453.3h0" stroke="#f89e2a" stroke-opacity="0.34" stroke-width="2.60" stroke-linecap="round" fill="none"/>
<path d="M273.2 455.7h0M268.5 450.2h0M267.8 454.2h0M270.4 453.5h0M268.5 454.5h0M267.6 455.9h0M270.1 457.4h0" stroke="#2e2496" stroke-opacity="0.28" stroke-width="2.90" stroke-linecap="round" fill="none"/>
<path d="M277.1 453.2h0M277.7 452.6h0M283.4 453.5h0M280.0 453.3h0M278.4 450.4h0M280.7 454.4h0" stroke="#c0359e" stroke-opacity="0.28" stroke-width="2.90" stroke-linecap="round" fill="none"/>
<path d="M196.8 455.3h0M198.1 456.6h0M196.6 454.4h0M197.9 453.6h0M198.2 451.4h0M196.9 455.0h0M197.8 452.2h0M200.1 453.5h0M197.4 454.4h0M197.9 455.6h0M200.5 450.9h0M197.4 451.7h0M198.1 452.0h0M196.6 450.1h0M233.5 454.2h0M235.1 453.8h0M234.0 451.5h0M233.8 456.0h0M232.9 456.2h0M233.9 453.8h0M236.4 457.8h0M233.2 457.1h0M234.5 455.2h0" stroke="#2e2496" stroke-opacity="0.34" stroke-width="2.60" stroke-linecap="round" fill="none"/>
<path d="M208.6 452.6h0M207.1 453.1h0M208.6 454.9h0M210.4 450.8h0M210.7 452.5h0M209.1 452.2h0M209.2 451.2h0M210.0 456.6h0M210.0 454.1h0M209.8 456.2h0M207.7 455.9h0M209.7 454.8h0M242.7 451.9h0M241.2 452.2h0M242.1 450.7h0M241.6 457.1h0M243.0 449.3h0M244.1 455.6h0M244.3 452.3h0M243.6 454.8h0M243.4 448.9h0M244.8 454.0h0M243.8 448.2h0M244.2 456.2h0M245.5 451.7h0M244.3 448.6h0M243.9 445.2h0M244.0 452.1h0" stroke="#c0359e" stroke-opacity="0.34" stroke-width="2.60" stroke-linecap="round" fill="none"/>
<path d="M220.2 456.8h0M217.1 456.1h0M213.8 455.6h0M219.3 456.7h0M218.2 456.0h0M217.7 455.8h0M216.8 450.6h0M219.7 450.6h0M218.3 455.1h0M217.7 452.1h0M217.5 450.8h0M220.1 454.8h0M220.2 456.3h0M217.7 449.3h0M218.6 453.3h0M218.5 451.7h0M219.8 455.0h0M217.0 451.9h0M215.8 455.7h0M218.0 457.0h0M215.9 457.1h0M217.9 452.2h0M215.3 456.3h0M213.6 454.3h0M219.9 458.0h0M216.4 455.0h0M217.3 452.4h0M213.6 453.5h0M217.8 458.1h0M220.1 454.4h0M219.1 452.7h0M223.2 453.8h0M217.6 450.6h0M215.0 455.4h0M221.8 457.9h0M216.7 456.7h0M254.6 456.9h0M249.5 452.8h0M255.8 446.4h0M253.7 453.7h0M252.0 447.3h0M255.4 451.8h0M255.5 447.4h0M251.2 453.1h0M255.1 446.6h0M254.8 455.2h0M253.0 450.1h0M255.3 453.6h0M254.8 445.8h0M251.2 449.9h0M254.4 447.7h0M253.6 456.6h0M256.1 447.6h0M252.8 452.7h0M252.9 450.8h0M254.2 447.0h0M256.1 448.8h0M252.4 454.2h0M250.9 453.9h0M254.0 450.2h0M253.3 455.5h0M250.2 448.2h0M255.9 455.4h0M256.7 452.2h0M255.8 447.7h0M257.8 449.5h0M256.0 452.5h0M255.6 455.4h0M252.4 444.2h0M254.9 451.5h0M254.5 452.1h0M255.4 453.9h0M255.4 444.4h0M255.1 448.9h0M252.8 449.6h0M255.6 447.3h0M252.5 447.5h0M255.6 454.5h0M253.3 449.5h0M288.0 452.3h0M287.8 455.0h0M290.2 454.3h0M290.9 453.9h0M292.3 454.5h0M290.0 456.6h0M286.1 452.6h0M290.2 451.4h0M289.6 451.7h0M290.8 449.8h0M292.2 450.9h0M289.7 448.5h0M288.6 448.7h0M290.5 451.7h0M292.4 450.5h0M290.3 450.4h0M291.8 451.1h0M288.8 454.4h0M287.7 451.1h0M286.8 452.8h0M290.5 452.6h0M291.6 452.4h0M295.6 453.0h0M288.8 456.0h0M289.0 452.3h0M289.0 451.7h0M288.2 450.4h0M291.5 452.7h0M289.0 451.4h0M290.4 450.7h0M288.2 453.4h0M290.6 452.2h0M290.8 453.4h0M286.1 451.6h0M289.8 448.0h0M290.9 450.7h0M288.2 453.7h0" stroke="#f89e2a" stroke-opacity="0.34" stroke-width="2.60" stroke-linecap="round" fill="none"/>
<path d="M271.8 451.3h0M267.7 452.7h0M268.9 456.6h0M270.7 451.9h0M270.4 455.6h0M268.6 450.6h0M270.0 455.2h0M269.3 453.5h0M267.9 454.2h0" stroke="#2e2496" stroke-opacity="0.28" stroke-width="2.90" stroke-linecap="round" fill="none"/>
<path d="M279.4 453.2h0M282.8 456.9h0M280.1 455.7h0M277.1 453.0h0M282.2 449.0h0" stroke="#c0359e" stroke-opacity="0.28" stroke-width="2.90" stroke-linecap="round" fill="none"/>
<line x1="198.29" y1="456.04" x2="198.29" y2="451.03" stroke="#222" stroke-width="0.7"/>
<path d="M198.29 451.94 L199.89 453.54 L198.29 455.14 L196.69 453.54 Z" fill="#e4e4e4" stroke="#1a1a1a" stroke-width="0.6"/>
<line x1="208.14" y1="456.71" x2="208.14" y2="451.70" stroke="#222" stroke-width="0.7"/>
<path d="M208.14 452.61 L209.74 454.21 L208.14 455.81 L206.54 454.21 Z" fill="#e4e4e4" stroke="#1a1a1a" stroke-width="0.6"/>
<line x1="217.98" y1="456.96" x2="217.98" y2="452.79" stroke="#222" stroke-width="0.7"/>
<path d="M217.98 453.28 L219.58 454.88 L217.98 456.48 L216.38 454.88 Z" fill="#e4e4e4" stroke="#1a1a1a" stroke-width="0.6"/>
<line x1="234.35" y1="456.21" x2="234.35" y2="450.37" stroke="#222" stroke-width="0.7"/>
<path d="M234.35 451.69 L235.95 453.29 L234.35 454.89 L232.75 453.29 Z" fill="#e4e4e4" stroke="#1a1a1a" stroke-width="0.6"/>
<line x1="244.20" y1="456.30" x2="244.20" y2="450.45" stroke="#222" stroke-width="0.7"/>
<path d="M244.20 451.77 L245.80 453.37 L244.20 454.97 L242.60 453.37 Z" fill="#e4e4e4" stroke="#1a1a1a" stroke-width="0.6"/>
<line x1="254.05" y1="454.79" x2="254.05" y2="447.28" stroke="#222" stroke-width="0.7"/>
<path d="M254.05 449.43 L255.65 451.03 L254.05 452.63 L252.45 451.03 Z" fill="#e4e4e4" stroke="#1a1a1a" stroke-width="0.6"/>
<line x1="270.42" y1="455.88" x2="270.42" y2="451.70" stroke="#222" stroke-width="0.7"/>
<path d="M270.42 452.19 L272.02 453.79 L270.42 455.39 L268.82 453.79 Z" fill="#e4e4e4" stroke="#1a1a1a" stroke-width="0.6"/>
<line x1="280.26" y1="456.04" x2="280.26" y2="451.87" stroke="#222" stroke-width="0.7"/>
<path d="M280.26 452.36 L281.86 453.96 L280.26 455.56 L278.66 453.96 Z" fill="#e4e4e4" stroke="#1a1a1a" stroke-width="0.6"/>
<line x1="290.11" y1="455.21" x2="290.11" y2="450.20" stroke="#222" stroke-width="0.7"/>
<path d="M290.11 451.10 L291.71 452.70 L290.11 454.30 L288.51 452.70 Z" fill="#e4e4e4" stroke="#1a1a1a" stroke-width="0.6"/>
<text x="196.80" y="442.90" font-size="5.7" text-anchor="start" fill="#111" stroke="#111" stroke-width="0.18" transform="rotate(-45 196.80 442.90) matrix(1 0 0 1.1 0 -44.290)">0.63</text>
<text x="206.40" y="444.50" font-size="5.7" text-anchor="start" fill="#111" stroke="#111" stroke-width="0.18" transform="rotate(-45 206.40 444.50) matrix(1 0 0 1.1 0 -44.450)">0.55</text>
<text x="216.10" y="448.50" font-size="5.7" text-anchor="start" fill="#111" stroke="#111" stroke-width="0.18" transform="rotate(-45 216.10 448.50) matrix(1 0 0 1.1 0 -44.850)">0.47</text>
<text x="232.90" y="441.80" font-size="5.7" text-anchor="start" fill="#111" stroke="#111" stroke-width="0.18" transform="rotate(-45 232.90 441.80) matrix(1 0 0 1.1 0 -44.180)">0.66</text>
<text x="242.60" y="442.90" font-size="5.7" text-anchor="start" fill="#111" stroke="#111" stroke-width="0.18" transform="rotate(-45 242.60 442.90) matrix(1 0 0 1.1 0 -44.290)">0.65</text>
<text x="252.70" y="432.40" font-size="5.7" text-anchor="start" fill="#111" stroke="#111" stroke-width="0.18" transform="rotate(-45 252.70 432.40) matrix(1 0 0 1.1 0 -43.240)">0.93</text>
<text x="269.50" y="442.90" font-size="5.7" text-anchor="start" fill="#111" stroke="#111" stroke-width="0.18" transform="rotate(-45 269.50 442.90) matrix(1 0 0 1.1 0 -44.290)">0.6</text>
<text x="279.20" y="443.70" font-size="5.7" text-anchor="start" fill="#111" stroke="#111" stroke-width="0.18" transform="rotate(-45 279.20 443.70) matrix(1 0 0 1.1 0 -44.370)">0.58</text>
<text x="288.00" y="441.30" font-size="5.7" text-anchor="start" fill="#111" stroke="#111" stroke-width="0.18" transform="rotate(-45 288.00 441.30) matrix(1 0 0 1.1 0 -44.130)">0.73</text>
<polyline points="219.8,411.8 219.8,410.5 291.4,410.5 291.4,411.8" fill="none" stroke="#555" stroke-width="0.55"/>
<text x="255.90" y="413.00" font-size="10.0" text-anchor="middle" fill="#000" transform="matrix(1 0 0 1.1 0 -41.300)" letter-spacing="0.6">***</text>
<polyline points="219.8,419.1 219.8,417.8 255.3,417.8 255.3,419.1" fill="none" stroke="#555" stroke-width="0.55"/>
<text x="237.85" y="420.30" font-size="10.0" text-anchor="middle" fill="#000" transform="matrix(1 0 0 1.1 0 -42.030)" letter-spacing="0.6">***</text>
<polyline points="256.1,422.6 256.1,421.3 291.8,421.3 291.8,422.6" fill="none" stroke="#555" stroke-width="0.55"/>
<text x="274.25" y="423.80" font-size="10.0" text-anchor="middle" fill="#000" transform="matrix(1 0 0 1.1 0 -42.380)" letter-spacing="0.6">***</text>
<circle cx="309.1" cy="427.0" r="1.35" fill="#2e2496"/>
<text x="313.20" y="429.00" font-size="5.6" text-anchor="start" fill="#333" stroke="#333" stroke-width="0.18" transform="matrix(1 0 0 1.1 0 -42.900)">BASE</text>
<circle cx="309.1" cy="435.5" r="1.35" fill="#c0359e"/>
<text x="313.20" y="437.50" font-size="5.6" text-anchor="start" fill="#333" stroke="#333" stroke-width="0.18" transform="matrix(1 0 0 1.1 0 -43.750)">TTX</text>
<circle cx="309.1" cy="443.5" r="1.35" fill="#f89e2a"/>
<text x="313.20" y="445.50" font-size="5.6" text-anchor="start" fill="#333" stroke="#333" stroke-width="0.18" transform="matrix(1 0 0 1.1 0 -44.550)">PHE</text>
<line x1="17.40" y1="495.70" x2="17.40" y2="552.30" stroke="#aaa" stroke-width="0.6"/>
<line x1="17.40" y1="552.30" x2="123.10" y2="552.30" stroke="#aaa" stroke-width="0.6"/>
<line x1="15.90" y1="548.80" x2="17.40" y2="548.80" stroke="#aaa" stroke-width="0.6"/>
<text x="14.10" y="551.40" font-size="7.1" text-anchor="end" fill="#222" stroke="#222" stroke-width="0.18" transform="matrix(1 0 0 1.1 0 -55.140)">0.00</text>
<line x1="15.90" y1="535.40" x2="17.40" y2="535.40" stroke="#aaa" stroke-width="0.6"/>
<text x="14.10" y="538.00" font-size="7.1" text-anchor="end" fill="#222" stroke="#222" stroke-width="0.18" transform="matrix(1 0 0 1.1 0 -53.800)">0.02</text>
<line x1="15.90" y1="522.00" x2="17.40" y2="522.00" stroke="#aaa" stroke-width="0.6"/>
<text x="14.10" y="524.60" font-size="7.1" text-anchor="end" fill="#222" stroke="#222" stroke-width="0.18" transform="matrix(1 0 0 1.1 0 -52.460)">0.04</text>
<line x1="15.90" y1="508.60" x2="17.40" y2="508.60" stroke="#aaa" stroke-width="0.6"/>
<text x="14.10" y="511.20" font-size="7.1" text-anchor="end" fill="#222" stroke="#222" stroke-width="0.18" transform="matrix(1 0 0 1.1 0 -51.120)">0.06</text>
<line x1="37.22" y1="552.30" x2="37.22" y2="553.80" stroke="#aaa" stroke-width="0.6"/>
<text x="37.22" y="559.80" font-size="5.6" text-anchor="middle" fill="#222" stroke="#222" stroke-width="0.18" transform="matrix(1 0 0 1.1 0 -55.980)">CA1</text>
<line x1="70.25" y1="552.30" x2="70.25" y2="553.80" stroke="#aaa" stroke-width="0.6"/>
<text x="70.25" y="559.80" font-size="5.6" text-anchor="middle" fill="#222" stroke="#222" stroke-width="0.18" transform="matrix(1 0 0 1.1 0 -55.980)">L1</text>
<line x1="103.28" y1="552.30" x2="103.28" y2="553.80" stroke="#aaa" stroke-width="0.6"/>
<text x="103.28" y="559.80" font-size="5.6" text-anchor="middle" fill="#222" stroke="#222" stroke-width="0.18" transform="matrix(1 0 0 1.1 0 -55.980)">L3–5</text>
<text x="33.00" y="491.70" font-size="8.45" text-anchor="start" fill="#111" stroke="#111" stroke-width="0.18" transform="matrix(1 0 0 1.1 0 -49.170)">Mean frequency, Hz</text>
<path d="M25.3 545.9h0M27.0 545.1h0M28.4 546.1h0M27.4 544.2h0M29.0 544.7h0M28.2 542.3h0M24.8 545.5h0M28.6 548.1h0M26.1 545.7h0M26.8 543.4h0M27.6 547.2h0M31.0 545.8h0M26.0 544.3h0M26.2 547.9h0M28.1 545.9h0M30.0 546.2h0" stroke="#2e2496" stroke-opacity="0.37" stroke-width="2.60" stroke-linecap="round" fill="none"/>
<path d="M39.3 536.9h0M39.0 533.3h0M39.8 541.8h0M40.6 540.2h0M34.6 544.0h0M35.9 547.1h0M37.6 542.4h0" stroke="#c0359e" stroke-opacity="0.29" stroke-width="2.90" stroke-linecap="round" fill="none"/>
<path d="M49.3 544.6h0M46.2 532.8h0M46.2 541.0h0M45.3 544.5h0M48.2 541.8h0M43.4 542.7h0M47.2 548.1h0M48.7 548.2h0M44.8 544.0h0M45.5 546.5h0M43.1 543.3h0M45.9 533.4h0M47.6 548.4h0M44.7 540.9h0M45.4 543.9h0M46.4 525.9h0M43.6 548.3h0M44.5 547.6h0M47.1 546.6h0M48.2 539.1h0M43.9 534.9h0M43.1 546.0h0M45.7 542.8h0M44.9 535.1h0M47.8 546.8h0M42.3 548.4h0M46.6 546.6h0M45.0 544.0h0M46.2 545.3h0M47.0 537.7h0M49.7 539.4h0M45.9 545.4h0M45.1 547.0h0M46.9 533.6h0M43.9 543.8h0M80.0 546.9h0M79.5 543.9h0M77.7 545.9h0M81.9 547.9h0M76.5 548.1h0M73.8 548.3h0M78.1 548.2h0M78.6 548.4h0M79.1 545.3h0M80.9 546.8h0M79.4 547.5h0M76.3 547.7h0M80.1 547.2h0M79.6 547.8h0M82.5 547.6h0M82.1 543.4h0M79.3 542.8h0M83.5 545.9h0M81.0 546.8h0M76.3 544.4h0M78.9 546.4h0M78.9 545.4h0M78.3 547.5h0M80.5 547.4h0M76.8 545.6h0M84.8 548.1h0M79.4 544.3h0M76.7 547.6h0M77.6 548.0h0M77.3 545.4h0M78.8 543.2h0M82.9 546.6h0M80.7 545.3h0M78.2 546.8h0M80.6 545.7h0M80.9 547.2h0M78.6 539.8h0M82.2 547.4h0M78.9 540.0h0M80.6 547.4h0M117.3 548.4h0M108.3 548.0h0M115.6 546.2h0M115.4 543.6h0M114.6 544.6h0M112.9 546.1h0M115.3 547.0h0M108.8 547.4h0M112.4 545.7h0M108.7 548.2h0M112.8 543.6h0M111.1 544.9h0M112.0 546.6h0M108.2 547.1h0M112.0 545.4h0M109.9 547.8h0M112.4 548.4h0M110.5 538.2h0M112.1 548.4h0M114.3 546.2h0M115.1 546.8h0M114.0 545.7h0M111.0 543.1h0M113.2 545.0h0M111.5 547.9h0M113.4 540.0h0M111.4 543.3h0M112.5 546.0h0M113.1 546.9h0M111.1 536.1h0M119.3 548.2h0M112.4 546.1h0M111.6 546.8h0M113.7 545.5h0" stroke="#f89e2a" stroke-opacity="0.34" stroke-width="2.60" stroke-linecap="round" fill="none"/>
<path d="M47.3 515.3h0" stroke="#f89e2a" stroke-opacity="0.52" stroke-width="2.20" stroke-linecap="round" fill="none"/>
<path d="M61.3 542.0h0M65.2 548.2h0M60.6 544.0h0M62.2 547.7h0M60.3 546.5h0M62.6 547.4h0M62.4 548.3h0M60.7 541.9h0M63.3 548.2h0M62.8 546.7h0M60.4 546.7h0M62.9 546.4h0M65.5 546.9h0M59.9 548.3h0" stroke="#2e2496" stroke-opacity="0.34" stroke-width="2.60" stroke-linecap="round" fill="none"/>
<path d="M72.2 547.6h0M71.4 545.0h0M72.9 545.1h0M70.7 545.6h0M69.5 545.4h0M68.0 548.2h0M71.1 546.6h0M70.6 546.5h0M72.2 546.2h0M69.1 540.6h0M72.8 545.6h0M70.0 547.6h0" stroke="#c0359e" stroke-opacity="0.34" stroke-width="2.60" stroke-linecap="round" fill="none"/>
<path d="M98.1 544.6h0M92.4 542.3h0M93.1 547.1h0M98.9 548.5h0M91.1 548.2h0M94.1 544.5h0" stroke="#2e2496" stroke-opacity="0.28" stroke-width="2.90" stroke-linecap="round" fill="none"/>
<path d="M105.5 542.6h0M103.2 548.2h0M102.9 547.2h0M106.9 540.9h0M99.5 548.1h0M99.9 546.0h0M105.4 547.0h0M101.4 547.4h0M108.0 547.7h0M103.3 548.3h0M103.6 547.9h0M102.3 548.4h0M105.8 548.5h0" stroke="#c0359e" stroke-opacity="0.28" stroke-width="2.90" stroke-linecap="round" fill="none"/>
<path d="M29.8 542.0h0M28.2 544.4h0M29.8 547.7h0M27.8 544.4h0M31.0 545.2h0M32.1 547.5h0M30.4 545.2h0M32.5 548.1h0" stroke="#2e2496" stroke-opacity="0.37" stroke-width="2.60" stroke-linecap="round" fill="none"/>
<path d="M34.5 547.7h0M34.3 547.8h0M35.0 541.7h0M33.7 546.7h0M33.8 540.5h0M40.5 544.2h0M40.2 547.2h0M39.9 548.4h0M36.4 548.0h0M38.9 547.2h0M36.7 538.8h0M36.4 540.1h0M38.4 537.9h0M40.3 533.4h0M33.9 543.2h0M35.9 545.5h0" stroke="#c0359e" stroke-opacity="0.29" stroke-width="2.90" stroke-linecap="round" fill="none"/>
<path d="M44.0 545.7h0M46.0 547.5h0M46.3 545.9h0M46.1 526.5h0M45.3 542.8h0M46.8 544.4h0M48.7 542.2h0M47.3 540.8h0M47.7 542.0h0M47.0 546.2h0M45.5 545.3h0M47.4 526.6h0M45.6 540.7h0M48.9 546.5h0M46.6 548.3h0M46.5 546.5h0M47.6 542.1h0M49.0 544.3h0M40.5 541.2h0M44.6 542.1h0M40.2 543.4h0M44.1 546.1h0M43.6 533.9h0M46.0 543.4h0M47.7 545.2h0M44.0 547.9h0M45.3 544.4h0M42.4 547.0h0M43.5 548.4h0M47.0 543.0h0M46.0 541.9h0M47.0 547.7h0M45.5 542.8h0M50.2 547.8h0M46.7 548.3h0M51.4 547.9h0M44.7 546.0h0M45.2 547.1h0M76.6 548.0h0M77.5 546.7h0M79.3 547.7h0M84.0 546.5h0M78.8 545.0h0M78.4 547.2h0M80.0 547.9h0M87.7 548.2h0M81.4 547.8h0M82.7 547.8h0M82.7 546.5h0M82.1 548.3h0M81.2 547.0h0M80.7 546.4h0M77.8 547.7h0M75.9 547.7h0M78.0 545.9h0M76.1 548.1h0M79.4 545.1h0M76.6 548.3h0M76.2 544.3h0M79.6 545.1h0M78.9 547.8h0M81.9 548.4h0M79.1 546.8h0M78.9 548.4h0M82.5 547.3h0M78.1 544.2h0M82.5 544.7h0M78.9 547.1h0M79.8 544.5h0M80.2 547.1h0M80.4 547.8h0M80.6 546.0h0M78.3 548.4h0M116.5 545.4h0M111.3 544.7h0M107.1 548.3h0M112.4 545.8h0M116.6 546.3h0M112.5 547.7h0M108.4 547.4h0M110.0 544.8h0M117.9 546.3h0M110.2 548.0h0M114.5 548.1h0M109.0 538.9h0M109.2 547.0h0M119.1 547.3h0M110.6 541.8h0M113.5 548.4h0M110.5 547.2h0M111.0 538.0h0M111.5 541.4h0M111.1 548.1h0M109.8 546.8h0M115.7 547.0h0M115.4 545.7h0M111.7 547.6h0M111.7 545.8h0M112.3 538.8h0M113.6 541.0h0M113.2 547.0h0M112.2 547.9h0M109.8 543.8h0M108.3 547.6h0M115.2 546.5h0M111.7 546.9h0M111.1 544.0h0M110.9 548.0h0M112.2 539.7h0M111.8 544.9h0M109.9 547.8h0M112.8 542.1h0M112.1 543.1h0M113.2 541.1h0M112.2 544.3h0" stroke="#f89e2a" stroke-opacity="0.34" stroke-width="2.60" stroke-linecap="round" fill="none"/>
<path d="M62.4 548.1h0M61.5 547.0h0M61.7 547.1h0M62.8 537.5h0M57.7 539.9h0M63.2 546.0h0M61.8 536.2h0M63.8 547.6h0M60.5 545.8h0M61.0 547.9h0M59.0 548.4h0M61.1 541.5h0M64.3 546.1h0M60.9 537.8h0M59.9 544.5h0M57.3 544.9h0" stroke="#2e2496" stroke-opacity="0.34" stroke-width="2.60" stroke-linecap="round" fill="none"/>
<path d="M68.8 544.2h0M67.8 543.5h0M73.4 546.7h0M71.0 542.9h0M69.3 547.7h0M68.4 548.3h0M69.2 541.8h0M70.3 545.2h0M71.8 545.7h0M69.6 548.1h0M71.8 548.4h0M74.8 547.9h0M71.7 542.9h0M68.8 547.5h0M69.2 542.8h0M69.6 541.8h0" stroke="#c0359e" stroke-opacity="0.34" stroke-width="2.60" stroke-linecap="round" fill="none"/>
<path d="M93.8 545.1h0M95.3 546.3h0M92.3 542.6h0M93.0 547.5h0M94.8 541.3h0M92.0 547.9h0M91.1 548.0h0" stroke="#2e2496" stroke-opacity="0.28" stroke-width="2.90" stroke-linecap="round" fill="none"/>
<path d="M104.9 546.1h0M99.6 547.5h0M106.2 548.4h0M106.0 548.1h0M102.3 540.1h0M100.3 544.6h0M100.2 544.5h0M105.9 546.6h0" stroke="#c0359e" stroke-opacity="0.28" stroke-width="2.90" stroke-linecap="round" fill="none"/>
<path d="M31.4 547.3h0M30.4 546.5h0M26.1 546.4h0M28.5 547.0h0M26.9 546.4h0M28.9 544.6h0M25.6 547.0h0M28.2 545.3h0M28.8 546.6h0M29.0 547.0h0M27.5 545.5h0M24.3 546.4h0M27.3 545.2h0M28.5 542.0h0" stroke="#2e2496" stroke-opacity="0.37" stroke-width="2.60" stroke-linecap="round" fill="none"/>
<path d="M36.2 532.2h0M35.4 542.1h0M41.1 548.4h0M39.5 544.7h0M33.9 540.4h0" stroke="#c0359e" stroke-opacity="0.29" stroke-width="2.90" stroke-linecap="round" fill="none"/>
<path d="M38.1 518.0h0" stroke="#c0359e" stroke-opacity="0.52" stroke-width="2.20" stroke-linecap="round" fill="none"/>
<path d="M46.9 540.5h0M44.4 548.3h0M46.9 548.3h0M47.9 539.0h0M41.2 548.3h0M45.5 530.8h0M46.4 542.5h0M43.3 546.4h0M44.8 547.0h0M45.0 545.8h0M41.8 544.7h0M46.7 542.0h0M51.5 544.4h0M45.8 537.1h0M41.8 545.8h0M45.4 541.4h0M45.6 544.6h0M43.7 545.3h0M46.0 546.7h0M45.3 538.7h0M46.8 544.1h0M46.8 543.6h0M44.9 541.2h0M47.0 535.9h0M45.6 535.7h0M46.0 538.5h0M77.3 547.2h0M80.0 544.8h0M81.9 547.2h0M84.2 547.3h0M78.3 546.3h0M84.5 547.9h0M77.5 548.1h0M78.9 547.6h0M79.5 547.7h0M81.7 548.2h0M74.1 548.0h0M77.5 547.7h0M77.5 548.0h0M80.9 538.7h0M76.8 545.1h0M78.3 547.7h0M80.6 545.0h0M80.1 547.4h0M81.0 547.7h0M79.5 547.6h0M82.8 547.8h0M79.0 543.6h0M81.6 548.4h0M83.5 548.3h0M78.2 547.6h0M75.1 548.3h0M82.8 547.2h0M80.4 545.1h0M78.9 544.3h0M75.2 546.7h0M80.0 543.8h0M113.5 547.6h0M107.0 548.4h0M113.0 548.1h0M116.1 548.4h0M109.1 541.7h0M111.6 548.2h0M113.4 543.0h0M109.1 547.9h0M116.8 543.7h0M112.9 547.2h0M117.0 547.9h0M113.5 546.6h0M112.3 547.6h0M114.1 547.9h0M113.9 545.2h0M113.0 542.0h0M108.5 545.1h0M111.1 542.1h0M112.1 547.9h0M114.9 544.6h0M112.2 546.7h0M110.0 545.7h0M111.4 544.9h0M110.9 546.7h0M112.0 543.3h0M113.1 543.1h0" stroke="#f89e2a" stroke-opacity="0.34" stroke-width="2.60" stroke-linecap="round" fill="none"/>
<path d="M64.1 545.6h0M58.7 547.2h0M63.4 544.6h0M62.4 548.4h0M62.6 543.1h0M59.6 534.6h0M58.6 546.9h0M62.0 542.9h0M61.2 547.3h0M61.4 547.7h0M62.2 545.5h0M60.6 535.7h0M66.0 548.1h0M62.8 547.3h0M64.3 546.4h0M55.4 547.5h0M60.4 538.6h0M60.1 545.7h0" stroke="#2e2496" stroke-opacity="0.34" stroke-width="2.60" stroke-linecap="round" fill="none"/>
<path d="M69.4 547.8h0M73.2 546.7h0M67.9 547.4h0M69.7 541.6h0M71.3 540.8h0M68.6 537.8h0M66.4 548.0h0M72.6 542.2h0M69.9 544.1h0M67.0 548.2h0" stroke="#c0359e" stroke-opacity="0.34" stroke-width="2.60" stroke-linecap="round" fill="none"/>
<path d="M91.3 542.1h0M98.1 548.1h0M93.3 545.8h0M90.5 548.3h0M94.1 548.3h0M98.2 546.1h0M98.3 548.0h0M94.5 548.4h0" stroke="#2e2496" stroke-opacity="0.28" stroke-width="2.90" stroke-linecap="round" fill="none"/>
<path d="M105.3 545.1h0M102.8 546.4h0M103.9 547.7h0M101.5 544.7h0M100.6 544.2h0M102.4 546.9h0M101.0 545.6h0" stroke="#c0359e" stroke-opacity="0.28" stroke-width="2.90" stroke-linecap="round" fill="none"/>
<path d="M30.2 544.6h0M25.2 547.4h0M26.3 546.2h0M32.0 547.5h0M28.6 547.9h0M29.2 545.5h0M23.7 545.8h0M27.2 542.9h0" stroke="#2e2496" stroke-opacity="0.37" stroke-width="2.60" stroke-linecap="round" fill="none"/>
<path d="M36.2 547.7h0M37.7 539.5h0M38.3 542.3h0M40.0 537.7h0M35.5 537.1h0M39.4 545.9h0M39.4 544.1h0M34.5 533.0h0M40.4 541.8h0" stroke="#c0359e" stroke-opacity="0.29" stroke-width="2.90" stroke-linecap="round" fill="none"/>
<path d="M48.9 542.8h0M44.3 548.2h0M47.5 533.1h0M51.4 546.9h0M46.7 529.9h0M47.7 547.8h0M47.7 541.6h0M43.7 548.3h0M45.5 547.7h0M43.9 546.9h0M43.7 541.9h0M46.9 535.5h0M46.6 545.4h0M47.7 544.7h0M46.4 530.4h0M47.9 537.7h0M45.0 544.6h0M48.7 531.3h0M44.2 545.8h0M43.9 530.6h0M47.4 548.1h0M48.8 547.9h0M49.2 545.3h0M49.1 540.0h0M47.8 536.1h0M43.5 545.0h0M47.9 546.1h0M45.5 544.5h0M43.9 545.0h0M44.6 542.7h0M42.6 547.8h0M46.9 542.2h0M84.3 547.0h0M76.4 548.1h0M79.7 546.3h0M70.4 548.3h0M83.3 548.2h0M75.9 545.6h0M81.7 548.3h0M76.4 542.2h0M82.5 548.3h0M76.1 547.6h0M81.3 548.0h0M79.9 544.9h0M77.6 546.9h0M77.9 546.3h0M79.6 547.6h0M81.3 546.7h0M77.9 547.0h0M76.2 546.4h0M81.1 547.5h0M81.0 546.8h0M79.9 547.1h0M78.1 538.7h0M74.6 546.3h0M81.3 548.4h0M77.2 548.1h0M82.8 547.7h0M79.6 543.0h0M78.9 541.1h0M112.1 546.4h0M110.8 543.8h0M112.8 542.7h0M113.0 539.5h0M113.2 548.0h0M112.2 542.7h0M115.1 543.6h0M108.8 544.9h0M109.9 547.4h0M110.3 544.7h0M111.4 545.3h0M112.9 545.2h0M115.2 547.3h0M111.6 543.1h0M114.5 539.8h0M113.4 544.2h0M108.5 548.3h0M113.3 546.1h0M116.7 547.6h0M112.5 548.1h0M113.7 545.1h0M113.9 547.6h0M111.8 543.6h0M113.2 543.4h0M112.2 548.3h0M113.6 545.6h0M108.3 547.9h0M117.5 543.7h0M110.1 546.6h0M112.9 545.2h0M111.5 546.6h0M111.0 541.6h0M112.6 548.0h0M111.9 543.2h0M110.9 547.8h0" stroke="#f89e2a" stroke-opacity="0.34" stroke-width="2.60" stroke-linecap="round" fill="none"/>
<path d="M61.8 544.6h0M60.7 537.9h0M63.7 538.2h0M60.4 545.8h0M60.7 546.3h0M59.2 544.5h0M62.6 546.6h0M63.4 543.8h0M58.1 546.4h0M62.5 547.0h0M62.4 542.1h0M57.7 544.9h0M63.2 544.0h0" stroke="#2e2496" stroke-opacity="0.34" stroke-width="2.60" stroke-linecap="round" fill="none"/>
<path d="M72.2 546.8h0M68.2 540.2h0M68.7 544.5h0M74.7 547.9h0M68.1 548.3h0M73.0 544.9h0M68.4 547.1h0M71.6 545.6h0M71.1 546.3h0M70.0 543.5h0" stroke="#c0359e" stroke-opacity="0.34" stroke-width="2.60" stroke-linecap="round" fill="none"/>
<path d="M69.7 528.0h0" stroke="#c0359e" stroke-opacity="0.52" stroke-width="2.20" stroke-linecap="round" fill="none"/>
<path d="M94.6 542.7h0M98.3 547.1h0M92.3 542.4h0M95.7 546.6h0M95.1 546.4h0M96.9 543.2h0M94.9 544.3h0M94.2 547.8h0M90.1 545.2h0M97.6 546.9h0M97.6 546.6h0M96.8 547.9h0M97.2 548.2h0M92.3 545.3h0M90.7 543.9h0" stroke="#2e2496" stroke-opacity="0.28" stroke-width="2.90" stroke-linecap="round" fill="none"/>
<path d="M101.7 545.5h0M102.4 545.6h0M105.5 547.6h0M99.4 545.1h0M105.4 547.8h0M106.1 545.3h0M107.7 548.0h0M99.4 540.9h0M104.7 544.6h0M98.9 548.3h0M105.8 540.8h0" stroke="#c0359e" stroke-opacity="0.28" stroke-width="2.90" stroke-linecap="round" fill="none"/>
<path d="M111.9 514.0h0" stroke="#f89e2a" stroke-opacity="0.52" stroke-width="2.20" stroke-linecap="round" fill="none"/>
<path d="M27.0 547.0h0M27.9 544.4h0M28.0 547.0h0M29.5 544.0h0M29.8 546.2h0M28.1 542.7h0M25.3 548.1h0M28.5 547.8h0M29.5 542.9h0M29.7 544.0h0M27.1 545.6h0M26.8 546.7h0M25.7 546.4h0M27.0 546.5h0" stroke="#2e2496" stroke-opacity="0.37" stroke-width="2.60" stroke-linecap="round" fill="none"/>
<path d="M41.0 546.3h0M40.1 534.4h0M41.3 548.3h0M35.4 548.3h0M41.2 547.0h0M33.3 547.5h0M36.5 545.0h0M36.0 536.4h0" stroke="#c0359e" stroke-opacity="0.29" stroke-width="2.90" stroke-linecap="round" fill="none"/>
<path d="M46.9 547.6h0M48.3 543.7h0M47.1 547.4h0M48.0 547.7h0M45.4 546.7h0M44.7 547.5h0M49.9 533.5h0M46.8 546.0h0M47.2 535.9h0M45.5 535.2h0M49.8 547.6h0M48.7 539.2h0M47.9 546.0h0M47.5 543.2h0M48.8 541.8h0M45.3 531.5h0M45.3 548.2h0M44.6 541.9h0M47.8 536.7h0M49.2 540.8h0M46.8 545.3h0M50.1 542.8h0M47.1 537.0h0M46.1 548.1h0M45.7 544.9h0M42.7 547.1h0M45.0 547.3h0M44.1 546.5h0M43.9 538.1h0M43.9 540.2h0M48.0 543.5h0M47.2 531.3h0M45.9 547.7h0M45.1 543.7h0M48.4 545.6h0M48.0 542.3h0M46.7 539.0h0M47.5 547.0h0M47.7 534.6h0M80.0 542.9h0M74.3 548.2h0M79.2 548.1h0M76.5 544.6h0M77.7 545.4h0M77.5 545.8h0M78.7 544.6h0M77.4 546.4h0M78.9 544.3h0M79.8 544.1h0M78.2 544.1h0M78.2 541.6h0M78.2 546.6h0M79.6 547.6h0M77.8 548.4h0M76.1 548.4h0M78.4 545.6h0M82.2 544.9h0M79.4 542.3h0M82.6 545.8h0M81.4 547.0h0M77.0 546.5h0M82.2 546.9h0M74.8 548.2h0M79.3 547.6h0M79.4 545.6h0M76.7 546.9h0M78.2 545.8h0M80.7 545.3h0M76.5 547.9h0M82.5 546.7h0M79.1 544.3h0M80.6 547.7h0M78.2 545.5h0M79.4 547.3h0M79.7 548.0h0M113.1 542.7h0M111.4 545.6h0M112.4 539.4h0M113.2 536.6h0M115.9 545.6h0M110.7 547.2h0M109.7 547.3h0M111.9 548.4h0M111.2 543.2h0M112.4 548.0h0M113.5 545.9h0M106.2 547.5h0M111.6 542.9h0M111.4 542.0h0M112.0 546.0h0M111.3 544.3h0M112.4 540.5h0M113.6 544.6h0M109.8 547.0h0M114.2 544.2h0M110.4 547.9h0M113.3 546.6h0M113.2 541.4h0M111.2 546.1h0M112.5 542.7h0M106.7 547.3h0M111.9 545.1h0M113.0 547.0h0M109.4 546.6h0M114.1 546.1h0M113.4 544.9h0M111.5 547.0h0M110.4 544.6h0" stroke="#f89e2a" stroke-opacity="0.34" stroke-width="2.60" stroke-linecap="round" fill="none"/>
<path d="M64.6 546.0h0M61.5 544.8h0M60.7 545.1h0M61.5 545.5h0M62.1 540.9h0M60.0 548.2h0M59.6 540.0h0M61.8 545.3h0M62.2 535.8h0" stroke="#2e2496" stroke-opacity="0.34" stroke-width="2.60" stroke-linecap="round" fill="none"/>
<path d="M69.8 545.9h0M66.8 547.8h0M68.3 547.9h0M64.6 546.8h0M68.5 544.5h0M69.7 546.5h0M78.1 547.5h0M73.2 547.9h0M71.1 541.1h0M71.8 545.2h0M76.2 545.7h0M74.7 547.4h0" stroke="#c0359e" stroke-opacity="0.34" stroke-width="2.60" stroke-linecap="round" fill="none"/>
<path d="M91.1 543.7h0M95.1 541.2h0M96.9 548.4h0M93.8 547.3h0M97.2 545.7h0M92.6 547.1h0M97.0 542.2h0M95.3 546.8h0M91.2 547.7h0" stroke="#2e2496" stroke-opacity="0.28" stroke-width="2.90" stroke-linecap="round" fill="none"/>
<path d="M105.8 544.8h0M101.8 546.5h0M104.3 539.4h0M99.8 540.2h0M106.5 548.1h0M102.6 547.5h0" stroke="#c0359e" stroke-opacity="0.28" stroke-width="2.90" stroke-linecap="round" fill="none"/>
<line x1="28.20" y1="546.19" x2="28.20" y2="543.51" stroke="#222" stroke-width="0.7"/>
<path d="M28.20 543.25 L29.80 544.85 L28.20 546.45 L26.60 544.85 Z" fill="#e4e4e4" stroke="#1a1a1a" stroke-width="0.6"/>
<line x1="37.22" y1="549.47" x2="37.22" y2="533.39" stroke="#222" stroke-width="0.7"/>
<path d="M37.22 539.83 L38.82 541.43 L37.22 543.03 L35.62 541.43 Z" fill="#e4e4e4" stroke="#1a1a1a" stroke-width="0.6"/>
<line x1="46.24" y1="547.46" x2="46.24" y2="536.74" stroke="#222" stroke-width="0.7"/>
<path d="M46.24 540.50 L47.84 542.10 L46.24 543.70 L44.64 542.10 Z" fill="#e4e4e4" stroke="#1a1a1a" stroke-width="0.6"/>
<line x1="61.23" y1="547.26" x2="61.23" y2="540.56" stroke="#222" stroke-width="0.7"/>
<path d="M61.23 542.31 L62.83 543.91 L61.23 545.51 L59.63 543.91 Z" fill="#e4e4e4" stroke="#1a1a1a" stroke-width="0.6"/>
<line x1="70.25" y1="547.59" x2="70.25" y2="540.89" stroke="#222" stroke-width="0.7"/>
<path d="M70.25 542.64 L71.85 544.24 L70.25 545.84 L68.65 544.24 Z" fill="#e4e4e4" stroke="#1a1a1a" stroke-width="0.6"/>
<line x1="79.27" y1="547.73" x2="79.27" y2="543.71" stroke="#222" stroke-width="0.7"/>
<path d="M79.27 544.12 L80.87 545.72 L79.27 547.32 L77.67 545.72 Z" fill="#e4e4e4" stroke="#1a1a1a" stroke-width="0.6"/>
<line x1="94.26" y1="547.12" x2="94.26" y2="543.10" stroke="#222" stroke-width="0.7"/>
<path d="M94.26 543.51 L95.86 545.12 L94.26 546.72 L92.66 545.12 Z" fill="#e4e4e4" stroke="#1a1a1a" stroke-width="0.6"/>
<line x1="103.28" y1="546.92" x2="103.28" y2="542.90" stroke="#222" stroke-width="0.7"/>
<path d="M103.28 543.31 L104.88 544.91 L103.28 546.51 L101.68 544.91 Z" fill="#e4e4e4" stroke="#1a1a1a" stroke-width="0.6"/>
<line x1="112.30" y1="548.40" x2="112.30" y2="541.70" stroke="#222" stroke-width="0.7"/>
<path d="M112.30 543.45 L113.90 545.05 L112.30 546.65 L110.70 545.05 Z" fill="#e4e4e4" stroke="#1a1a1a" stroke-width="0.6"/>
<text x="24.70" y="540.10" font-size="5.7" text-anchor="start" fill="#111" stroke="#111" stroke-width="0.18" transform="rotate(-45 24.70 540.10) matrix(1 0 0 1.1 0 -54.010)">0.0059</text>
<text x="34.40" y="519.20" font-size="5.7" text-anchor="start" fill="#111" stroke="#111" stroke-width="0.18" transform="rotate(-45 34.40 519.20) matrix(1 0 0 1.1 0 -51.920)">0.011</text>
<text x="44.30" y="522.40" font-size="5.7" text-anchor="start" fill="#111" stroke="#111" stroke-width="0.18" transform="rotate(-45 44.30 522.40) matrix(1 0 0 1.1 0 -52.240)">0.01</text>
<text x="58.50" y="531.30" font-size="5.7" text-anchor="start" fill="#111" stroke="#111" stroke-width="0.18" transform="rotate(-45 58.50 531.30) matrix(1 0 0 1.1 0 -53.130)">0.0073</text>
<text x="67.30" y="532.90" font-size="5.7" text-anchor="start" fill="#111" stroke="#111" stroke-width="0.18" transform="rotate(-45 67.30 532.90) matrix(1 0 0 1.1 0 -53.290)">0.0068</text>
<text x="76.20" y="539.30" font-size="5.7" text-anchor="start" fill="#111" stroke="#111" stroke-width="0.18" transform="rotate(-45 76.20 539.30) matrix(1 0 0 1.1 0 -53.930)">0.0046</text>
<text x="91.50" y="536.90" font-size="5.7" text-anchor="start" fill="#111" stroke="#111" stroke-width="0.18" transform="rotate(-45 91.50 536.90) matrix(1 0 0 1.1 0 -53.690)">0.0055</text>
<text x="100.30" y="536.90" font-size="5.7" text-anchor="start" fill="#111" stroke="#111" stroke-width="0.18" transform="rotate(-45 100.30 536.90) matrix(1 0 0 1.1 0 -53.690)">0.0058</text>
<text x="109.50" y="536.10" font-size="5.7" text-anchor="start" fill="#111" stroke="#111" stroke-width="0.18" transform="rotate(-45 109.50 536.10) matrix(1 0 0 1.1 0 -53.610)">0.0056</text>
<polyline points="47.4,505.9 47.4,504.6 114.2,504.6 114.2,505.9" fill="none" stroke="#555" stroke-width="0.55"/>
<text x="81.10" y="507.10" font-size="10.0" text-anchor="middle" fill="#000" transform="matrix(1 0 0 1.1 0 -50.710)" letter-spacing="0.6">***</text>
<polyline points="47.4,512.8 47.4,511.5 80.4,511.5 80.4,512.8" fill="none" stroke="#555" stroke-width="0.55"/>
<text x="64.20" y="514.00" font-size="10.0" text-anchor="middle" fill="#000" transform="matrix(1 0 0 1.1 0 -51.400)" letter-spacing="0.6">***</text>
<circle cx="130.8" cy="517.9" r="1.35" fill="#2e2496"/>
<text x="135.10" y="519.90" font-size="5.6" text-anchor="start" fill="#333" stroke="#333" stroke-width="0.18" transform="matrix(1 0 0 1.1 0 -51.990)">BASE</text>
<circle cx="130.8" cy="526.0" r="1.35" fill="#c0359e"/>
<text x="135.10" y="528.00" font-size="5.6" text-anchor="start" fill="#333" stroke="#333" stroke-width="0.18" transform="matrix(1 0 0 1.1 0 -52.800)">TTX</text>
<circle cx="130.8" cy="533.8" r="1.35" fill="#f89e2a"/>
<text x="135.10" y="535.80" font-size="5.6" text-anchor="start" fill="#333" stroke="#333" stroke-width="0.18" transform="matrix(1 0 0 1.1 0 -53.580)">PHE</text>
<line x1="186.50" y1="495.40" x2="186.50" y2="552.00" stroke="#aaa" stroke-width="0.6"/>
<line x1="186.50" y1="552.00" x2="295.50" y2="552.00" stroke="#aaa" stroke-width="0.6"/>
<line x1="185.00" y1="538.60" x2="186.50" y2="538.60" stroke="#aaa" stroke-width="0.6"/>
<text x="183.20" y="541.20" font-size="7.1" text-anchor="end" fill="#222" stroke="#222" stroke-width="0.18" transform="matrix(1 0 0 1.1 0 -54.120)">400</text>
<line x1="185.00" y1="523.85" x2="186.50" y2="523.85" stroke="#aaa" stroke-width="0.6"/>
<text x="183.20" y="526.45" font-size="7.1" text-anchor="end" fill="#222" stroke="#222" stroke-width="0.18" transform="matrix(1 0 0 1.1 0 -52.645)">600</text>
<line x1="185.00" y1="509.10" x2="186.50" y2="509.10" stroke="#aaa" stroke-width="0.6"/>
<text x="183.20" y="511.70" font-size="7.1" text-anchor="end" fill="#222" stroke="#222" stroke-width="0.18" transform="matrix(1 0 0 1.1 0 -51.170)">800</text>
<line x1="206.94" y1="552.00" x2="206.94" y2="553.50" stroke="#aaa" stroke-width="0.6"/>
<text x="206.94" y="559.50" font-size="5.6" text-anchor="middle" fill="#222" stroke="#222" stroke-width="0.18" transform="matrix(1 0 0 1.1 0 -55.950)">CA1</text>
<line x1="241.00" y1="552.00" x2="241.00" y2="553.50" stroke="#aaa" stroke-width="0.6"/>
<text x="241.00" y="559.50" font-size="5.6" text-anchor="middle" fill="#222" stroke="#222" stroke-width="0.18" transform="matrix(1 0 0 1.1 0 -55.950)">L1</text>
<line x1="275.06" y1="552.00" x2="275.06" y2="553.50" stroke="#aaa" stroke-width="0.6"/>
<text x="275.06" y="559.50" font-size="5.6" text-anchor="middle" fill="#222" stroke="#222" stroke-width="0.18" transform="matrix(1 0 0 1.1 0 -55.950)">L3–5</text>
<text x="232.70" y="491.70" font-size="8.45" text-anchor="start" fill="#111" stroke="#111" stroke-width="0.18" transform="matrix(1 0 0 1.1 0 -49.170)">AUC</text>
<path d="M199.7 545.8h0M199.5 546.3h0M197.6 545.5h0M198.3 545.4h0M197.1 547.6h0M197.6 546.1h0M198.4 547.0h0M196.0 545.7h0M194.4 545.5h0M197.5 545.3h0M196.0 545.0h0M232.5 546.5h0M233.7 545.6h0M231.8 544.7h0M231.8 546.2h0M233.3 546.2h0M233.2 546.9h0M231.5 547.1h0M232.2 545.6h0M233.9 547.1h0M231.7 545.2h0M231.1 545.9h0M232.8 546.9h0M228.2 546.3h0M232.3 545.9h0" stroke="#2e2496" stroke-opacity="0.37" stroke-width="2.60" stroke-linecap="round" fill="none"/>
<path d="M207.5 545.1h0M207.3 546.0h0M210.7 545.9h0M209.0 545.5h0M204.6 545.9h0M206.3 546.3h0M209.5 545.9h0M206.2 545.2h0M209.1 545.9h0M207.4 546.2h0M208.4 545.0h0M207.0 547.0h0M206.8 545.8h0M206.1 544.1h0M207.6 546.4h0M207.5 543.9h0M206.9 547.3h0M206.9 545.1h0M203.8 545.3h0M204.5 545.9h0M207.6 546.6h0M238.7 546.8h0M240.3 546.0h0M243.2 546.6h0M240.5 547.4h0M238.2 545.3h0M239.8 547.7h0M241.8 547.0h0M242.5 544.9h0M240.4 545.7h0M241.0 546.2h0M242.5 544.5h0M241.2 545.0h0M240.6 546.4h0" stroke="#c0359e" stroke-opacity="0.37" stroke-width="2.60" stroke-linecap="round" fill="none"/>
<path d="M217.8 536.7h0M216.2 537.6h0M213.1 533.3h0M217.3 540.1h0M218.8 534.3h0M219.4 538.3h0M216.9 535.8h0M215.3 536.8h0M220.2 537.8h0M217.8 528.7h0M215.6 537.8h0M217.1 538.6h0M218.9 536.4h0M216.1 544.0h0M216.1 535.2h0M216.1 542.1h0M213.5 543.2h0M216.1 532.7h0M213.3 542.9h0M216.0 530.3h0M217.9 538.4h0M220.2 540.1h0M215.6 530.4h0M218.8 536.0h0M214.7 532.4h0M218.5 535.8h0M215.0 539.5h0M215.1 544.9h0M216.9 542.2h0M218.4 538.4h0M217.2 530.5h0M223.5 535.4h0M210.7 539.5h0M219.8 540.1h0M216.7 531.6h0M218.1 534.0h0M217.0 532.4h0M249.7 541.4h0M251.6 529.2h0M250.2 541.0h0M245.5 539.6h0M252.4 543.8h0M248.2 545.7h0M248.6 539.7h0M247.1 541.6h0M251.2 532.4h0M253.0 535.8h0M249.2 541.5h0M252.6 543.7h0M252.8 536.9h0M250.9 531.5h0M253.6 544.8h0M253.3 536.7h0M251.9 533.9h0M250.0 532.1h0M249.0 543.0h0M249.0 538.6h0M251.2 545.9h0M250.6 537.7h0M250.9 538.6h0M249.6 541.5h0M250.5 540.0h0M248.8 537.9h0M250.5 537.1h0M248.4 542.8h0M249.1 538.9h0M251.0 534.5h0M253.9 540.4h0M246.8 538.4h0M249.6 540.2h0M282.8 545.4h0M285.9 537.8h0M280.6 533.6h0M281.6 533.6h0M283.2 545.2h0M288.2 531.0h0M279.4 541.5h0M283.0 540.2h0M284.0 540.3h0M284.5 544.4h0M283.6 535.0h0M285.6 537.3h0M285.4 544.8h0M286.2 543.6h0M285.1 528.8h0M281.8 540.5h0M284.8 535.3h0M288.5 531.2h0M283.0 541.6h0M285.9 541.8h0M284.8 527.9h0M283.0 535.3h0M283.2 530.9h0M288.1 538.9h0M284.3 534.3h0M283.2 530.8h0M282.7 531.4h0M281.7 540.5h0M283.6 526.2h0M285.6 529.9h0M289.8 534.5h0M283.2 537.7h0M285.1 531.7h0M281.8 535.9h0M288.4 535.4h0M283.6 545.3h0M285.7 538.8h0M285.0 528.8h0M286.2 534.5h0M284.4 532.8h0M280.9 541.8h0M286.8 536.1h0M284.1 544.5h0" stroke="#f89e2a" stroke-opacity="0.34" stroke-width="2.60" stroke-linecap="round" fill="none"/>
<path d="M268.6 546.2h0M265.7 543.5h0M264.6 546.3h0M268.7 544.2h0" stroke="#2e2496" stroke-opacity="0.29" stroke-width="2.90" stroke-linecap="round" fill="none"/>
<path d="M275.6 544.4h0M272.4 544.9h0M271.6 545.8h0M274.5 547.0h0" stroke="#c0359e" stroke-opacity="0.29" stroke-width="2.90" stroke-linecap="round" fill="none"/>
<path d="M198.5 547.1h0M196.1 545.8h0M197.4 547.3h0M196.9 544.2h0M199.9 545.0h0M196.4 544.9h0M197.9 545.6h0M197.7 546.8h0M197.0 547.1h0M192.6 546.0h0M196.4 545.0h0M198.6 546.9h0M198.8 545.9h0M199.6 545.1h0M198.1 546.4h0M231.2 546.6h0M229.8 546.0h0M229.2 546.3h0M232.1 546.8h0M230.7 546.8h0M229.9 546.9h0M231.6 546.8h0M231.9 545.9h0M231.3 547.2h0M230.5 545.9h0M232.4 545.4h0M231.4 545.3h0M232.6 546.0h0M233.2 545.9h0M231.8 545.8h0M232.7 544.9h0M229.1 546.9h0" stroke="#2e2496" stroke-opacity="0.37" stroke-width="2.60" stroke-linecap="round" fill="none"/>
<path d="M206.5 545.7h0M208.1 544.2h0M206.8 543.5h0M207.5 547.5h0M207.4 544.4h0M209.9 545.4h0M207.5 545.3h0M209.0 546.0h0M209.5 545.2h0M205.5 545.9h0M241.9 547.7h0M240.3 545.6h0M242.6 545.7h0M240.0 546.8h0M244.0 546.2h0M240.5 546.2h0M241.8 546.2h0M238.7 546.0h0M241.4 547.5h0M239.9 545.4h0M239.3 546.6h0M241.0 547.4h0M243.5 545.1h0M242.5 544.7h0M240.5 546.4h0M240.6 544.7h0" stroke="#c0359e" stroke-opacity="0.37" stroke-width="2.60" stroke-linecap="round" fill="none"/>
<path d="M216.3 538.9h0M215.1 545.8h0M215.5 539.8h0M216.7 544.8h0M217.7 541.6h0M218.7 536.2h0M218.0 543.2h0M219.1 543.9h0M218.3 530.8h0M217.2 534.6h0M217.6 528.7h0M218.3 541.3h0M216.1 544.7h0M213.0 535.5h0M211.0 544.0h0M218.1 545.4h0M212.1 536.7h0M214.9 528.5h0M214.6 532.9h0M214.9 537.3h0M217.7 528.2h0M218.4 538.9h0M216.0 537.8h0M216.9 534.3h0M217.9 545.6h0M214.3 539.5h0M217.9 539.9h0M216.4 538.3h0M209.7 536.2h0M217.1 534.9h0M216.5 538.5h0M216.0 536.5h0M214.5 535.4h0M216.9 531.4h0M219.6 531.8h0M247.7 545.9h0M252.3 531.2h0M255.8 538.7h0M251.3 538.7h0M251.6 531.5h0M250.0 543.2h0M252.9 535.9h0M248.7 540.6h0M252.3 532.5h0M254.2 544.1h0M255.9 534.3h0M250.1 538.3h0M249.0 537.1h0M253.5 542.9h0M248.6 545.6h0M250.5 537.8h0M251.4 532.0h0M249.6 540.3h0M249.7 540.7h0M249.9 528.2h0M250.0 543.9h0M251.2 534.5h0M251.8 537.3h0M247.9 543.6h0M254.1 545.7h0M248.7 543.6h0M253.1 541.9h0M251.5 532.7h0M249.2 535.5h0M246.1 534.3h0M249.1 545.5h0M251.2 544.7h0M251.0 529.9h0M285.9 537.5h0M285.4 543.8h0M283.2 544.8h0M284.6 530.7h0M284.2 533.6h0M284.8 543.2h0M284.5 545.9h0M284.9 541.4h0M284.3 536.2h0M286.5 530.6h0M290.1 538.2h0M282.3 535.8h0M284.5 542.6h0M284.8 523.3h0M282.8 537.7h0M285.2 538.1h0M282.7 537.0h0M285.0 533.6h0M284.9 528.4h0M286.4 529.7h0M284.8 527.5h0M285.7 528.9h0M282.8 535.4h0M280.1 539.6h0M282.6 535.7h0M283.8 537.1h0M285.4 539.0h0M283.7 537.8h0M279.3 537.8h0M287.9 534.7h0M283.2 525.8h0M284.7 528.7h0M284.3 529.2h0M284.9 532.9h0M287.2 543.3h0M282.6 538.1h0M283.5 530.8h0M284.0 523.4h0" stroke="#f89e2a" stroke-opacity="0.34" stroke-width="2.60" stroke-linecap="round" fill="none"/>
<path d="M267.0 545.9h0M263.7 545.1h0M266.8 544.8h0M264.1 544.4h0M264.6 543.7h0M262.5 544.4h0M262.5 544.9h0" stroke="#2e2496" stroke-opacity="0.29" stroke-width="2.90" stroke-linecap="round" fill="none"/>
<path d="M273.1 547.3h0M273.5 546.9h0M274.2 545.2h0M276.6 546.5h0M273.1 546.9h0M274.7 547.3h0M274.9 545.2h0M275.4 547.1h0M277.5 545.1h0M276.8 546.8h0" stroke="#c0359e" stroke-opacity="0.29" stroke-width="2.90" stroke-linecap="round" fill="none"/>
<path d="M199.0 545.9h0M193.2 546.1h0M196.5 545.8h0M198.3 545.1h0M197.9 544.8h0M197.3 546.9h0M200.6 546.1h0M197.6 544.9h0M194.6 545.3h0M200.0 547.1h0M195.9 545.8h0M196.0 544.8h0M196.6 545.1h0M198.3 546.2h0M196.5 546.7h0M194.6 545.8h0M232.9 545.2h0M232.2 546.2h0M233.6 545.5h0M233.8 546.5h0M232.8 546.2h0M230.8 545.6h0M231.8 543.6h0M233.2 547.0h0M234.9 546.9h0" stroke="#2e2496" stroke-opacity="0.37" stroke-width="2.60" stroke-linecap="round" fill="none"/>
<path d="M206.2 546.2h0M208.6 546.2h0M207.5 545.7h0M205.4 546.4h0M209.0 545.8h0M206.7 545.6h0M208.8 546.5h0M205.7 545.8h0M210.6 545.6h0M207.0 544.8h0M205.6 545.9h0M208.3 546.3h0M206.0 545.8h0M207.3 546.2h0M241.5 545.3h0M238.8 545.7h0M241.0 547.5h0M241.1 545.2h0M243.0 545.7h0M238.1 544.8h0M240.3 546.2h0M240.2 545.8h0M240.4 547.2h0M242.8 545.8h0M239.5 547.0h0M240.5 545.6h0" stroke="#c0359e" stroke-opacity="0.37" stroke-width="2.60" stroke-linecap="round" fill="none"/>
<path d="M218.5 533.5h0M214.8 542.9h0M214.2 538.8h0M213.1 536.6h0M215.7 537.7h0M214.4 540.3h0M216.1 541.9h0M216.2 544.9h0M213.8 538.1h0M216.6 528.3h0M213.9 531.8h0M213.6 534.7h0M214.5 542.0h0M219.5 535.5h0M215.6 539.6h0M219.5 538.2h0M217.3 540.9h0M213.1 543.3h0M216.9 536.9h0M217.4 533.4h0M215.6 535.3h0M210.9 544.4h0M216.1 537.4h0M215.3 532.2h0M213.3 535.1h0M219.0 540.7h0M215.2 529.3h0M214.7 534.9h0M212.1 540.9h0M211.8 541.3h0M218.2 540.0h0M214.5 545.8h0M217.3 544.3h0M215.8 543.2h0M216.0 524.0h0M218.2 539.9h0M218.3 544.9h0M214.0 536.7h0M213.9 544.1h0M219.2 543.8h0M249.2 537.6h0M248.3 537.5h0M250.1 544.4h0M250.9 529.1h0M249.3 533.8h0M251.6 540.0h0M248.5 543.3h0M250.6 535.9h0M247.5 536.9h0M247.9 540.7h0M250.6 544.8h0M250.1 544.8h0M250.9 544.6h0M251.9 538.7h0M253.8 540.2h0M250.9 539.1h0M249.3 535.2h0M250.9 540.3h0M252.6 542.0h0M249.2 538.0h0M252.4 531.8h0M252.3 545.0h0M246.6 539.1h0M251.2 539.9h0M252.5 539.3h0M247.0 540.7h0M252.6 532.7h0M253.3 543.2h0M251.4 531.9h0M248.7 530.6h0M247.2 539.7h0M245.8 534.8h0M252.1 543.8h0M252.0 531.3h0M250.0 534.4h0M249.3 535.4h0M251.0 540.4h0M252.3 536.0h0M251.8 528.3h0M254.2 533.0h0M252.2 544.3h0M250.0 533.8h0M248.8 541.8h0M252.0 542.2h0M286.7 536.7h0M285.7 542.5h0M284.1 527.6h0M285.8 532.1h0M288.7 540.4h0M285.6 535.4h0M280.4 536.9h0M285.5 537.4h0M287.7 537.3h0M287.1 536.4h0M280.2 543.8h0M281.6 536.6h0M284.9 519.9h0M283.6 539.1h0M286.2 538.9h0M286.5 531.3h0M287.7 543.0h0M282.0 545.5h0M282.9 535.2h0M286.2 536.6h0M285.3 545.8h0M279.2 537.7h0M281.9 540.5h0M286.7 543.5h0M281.0 535.5h0M287.0 542.8h0M284.1 525.6h0M287.4 538.7h0M284.8 541.1h0M286.9 535.6h0M284.9 524.3h0M281.6 545.9h0M282.5 525.8h0M283.1 529.2h0M287.6 529.2h0M287.0 533.0h0M283.1 538.5h0M283.2 525.5h0M286.4 533.1h0" stroke="#f89e2a" stroke-opacity="0.34" stroke-width="2.60" stroke-linecap="round" fill="none"/>
<path d="M268.1 547.4h0M268.0 545.3h0M267.2 546.4h0M268.7 544.0h0M265.2 545.8h0M269.0 544.7h0M263.8 546.3h0" stroke="#2e2496" stroke-opacity="0.29" stroke-width="2.90" stroke-linecap="round" fill="none"/>
<path d="M276.8 546.7h0M276.9 545.8h0M275.8 545.3h0M274.1 546.1h0M273.0 547.9h0M277.2 545.2h0M271.4 546.1h0M273.9 546.3h0M276.4 547.8h0M277.0 547.6h0M278.4 545.5h0M272.0 546.1h0" stroke="#c0359e" stroke-opacity="0.29" stroke-width="2.90" stroke-linecap="round" fill="none"/>
<path d="M197.2 545.3h0M197.1 544.1h0M198.9 545.5h0M196.7 547.1h0M199.9 545.9h0M198.2 545.8h0M198.2 546.2h0M201.0 546.1h0M199.1 545.7h0M198.2 547.2h0M195.8 545.9h0M195.6 546.4h0M198.0 546.3h0M199.4 546.2h0M234.1 545.6h0M230.1 545.6h0M235.7 545.7h0M231.0 545.3h0M229.7 545.7h0M230.8 545.7h0M234.1 546.4h0M230.2 545.0h0M231.5 544.9h0M227.1 545.7h0M234.6 545.8h0M233.2 546.7h0M231.0 545.5h0" stroke="#2e2496" stroke-opacity="0.37" stroke-width="2.60" stroke-linecap="round" fill="none"/>
<path d="M205.6 546.4h0M208.8 545.8h0M208.5 545.4h0M210.8 545.7h0M203.2 545.5h0M204.7 544.8h0M207.5 545.6h0M204.6 545.8h0M205.5 544.9h0M207.4 546.5h0M205.8 545.5h0M207.7 546.5h0M240.1 545.2h0M243.3 546.7h0M241.2 543.8h0M241.6 544.8h0M242.6 546.3h0M241.4 546.2h0M242.5 545.6h0M240.7 546.3h0M240.8 544.2h0M237.7 546.2h0M240.9 545.4h0" stroke="#c0359e" stroke-opacity="0.37" stroke-width="2.60" stroke-linecap="round" fill="none"/>
<path d="M218.3 543.8h0M219.6 531.8h0M214.7 540.4h0M214.9 538.4h0M216.7 543.1h0M212.3 540.2h0M218.1 542.7h0M213.2 539.0h0M219.1 535.1h0M215.6 526.9h0M214.1 538.6h0M221.0 538.7h0M215.4 545.2h0M214.3 542.0h0M219.2 545.5h0M218.5 531.7h0M218.8 535.7h0M216.6 533.3h0M214.1 530.2h0M215.3 542.2h0M213.8 533.1h0M216.2 543.2h0M217.1 540.8h0M219.5 532.8h0M218.7 536.6h0M217.3 531.6h0M215.7 537.7h0M219.5 535.3h0M215.0 541.2h0M219.6 538.8h0M217.1 543.1h0M217.0 535.6h0M218.4 539.5h0M249.0 538.5h0M247.6 534.2h0M252.3 541.3h0M249.3 536.9h0M251.0 537.7h0M251.1 542.8h0M253.0 541.7h0M250.1 527.1h0M250.8 532.8h0M249.7 543.5h0M249.7 538.6h0M247.9 543.5h0M251.4 540.2h0M247.0 539.8h0M249.2 540.1h0M250.1 522.4h0M247.4 541.5h0M251.1 541.5h0M254.9 538.9h0M251.4 544.2h0M249.4 541.2h0M253.3 532.7h0M252.3 544.4h0M245.2 538.4h0M250.0 545.3h0M247.5 540.4h0M249.6 541.8h0M247.4 540.2h0M249.1 540.4h0M250.1 538.3h0M254.2 540.5h0M250.5 540.7h0M250.2 535.6h0M250.1 537.2h0M286.8 539.3h0M285.1 527.0h0M284.6 539.6h0M281.8 535.2h0M280.6 535.4h0M282.8 522.8h0M286.1 531.5h0M284.3 541.3h0M288.2 533.4h0M285.5 524.4h0M283.5 522.7h0M287.1 533.0h0M282.0 535.8h0M279.9 533.4h0M286.9 544.6h0M284.7 529.8h0M284.3 517.6h0M284.8 527.7h0M285.0 527.7h0M285.2 537.3h0M283.0 542.0h0M288.7 541.7h0M281.8 536.4h0M284.1 523.1h0M284.0 542.9h0M284.2 542.8h0M286.4 540.4h0M282.5 531.4h0M285.4 530.4h0M283.7 538.2h0M282.2 545.9h0M286.7 527.9h0M282.4 534.8h0M283.5 531.7h0M285.3 534.2h0M282.2 532.2h0M283.8 521.8h0M284.5 526.5h0M282.9 532.0h0M286.0 530.7h0M285.0 544.1h0M281.5 537.8h0M284.2 535.7h0M281.6 540.2h0" stroke="#f89e2a" stroke-opacity="0.34" stroke-width="2.60" stroke-linecap="round" fill="none"/>
<path d="M269.5 545.5h0M267.1 544.9h0M264.8 545.5h0M268.3 545.4h0M267.8 546.6h0M269.5 545.8h0M262.8 545.5h0M267.7 545.7h0M268.6 544.6h0M262.0 545.0h0M265.4 543.4h0M263.6 546.2h0" stroke="#2e2496" stroke-opacity="0.29" stroke-width="2.90" stroke-linecap="round" fill="none"/>
<path d="M274.8 545.7h0M273.5 546.2h0M275.8 545.5h0M277.6 544.2h0M277.4 547.6h0M273.5 547.3h0M277.7 545.2h0M273.7 546.8h0M278.3 547.0h0" stroke="#c0359e" stroke-opacity="0.29" stroke-width="2.90" stroke-linecap="round" fill="none"/>
<path d="M198.9 546.6h0M195.3 545.7h0M196.8 545.4h0M198.7 546.0h0M199.3 544.7h0M199.5 545.5h0M196.5 546.9h0M198.7 544.8h0M196.9 545.9h0M196.0 545.6h0M196.3 545.4h0M201.1 545.8h0M197.3 545.0h0M196.5 546.9h0M231.3 543.9h0M230.4 545.7h0M231.5 545.2h0M228.4 545.7h0M231.1 545.1h0M230.9 544.5h0M232.2 545.0h0M230.3 545.9h0M230.4 545.1h0M230.7 544.1h0M231.9 545.0h0M231.4 545.1h0M232.4 545.0h0M233.2 546.2h0M233.3 545.8h0M233.1 545.8h0M230.2 546.0h0" stroke="#2e2496" stroke-opacity="0.37" stroke-width="2.60" stroke-linecap="round" fill="none"/>
<path d="M207.6 546.0h0M207.9 543.8h0M208.3 546.4h0M206.8 547.3h0M206.9 546.9h0M207.4 546.8h0M204.9 544.5h0M204.1 545.8h0M207.1 546.1h0M209.9 545.6h0M208.4 546.0h0M205.7 546.9h0M206.5 544.8h0M239.0 544.8h0M238.0 546.2h0M239.9 546.6h0M239.6 544.7h0M242.2 545.1h0M240.5 545.6h0M237.5 546.9h0M239.7 544.7h0M241.4 546.6h0M242.2 545.9h0M241.4 547.7h0M243.9 545.3h0M242.7 546.4h0M240.4 546.6h0M242.4 544.8h0M239.8 545.6h0M241.5 545.3h0M239.4 546.3h0" stroke="#c0359e" stroke-opacity="0.37" stroke-width="2.60" stroke-linecap="round" fill="none"/>
<path d="M217.0 528.7h0M212.9 534.2h0M216.8 536.5h0M218.5 542.3h0M215.0 532.4h0M218.7 543.5h0M215.7 528.4h0M218.7 538.1h0M217.6 527.1h0M214.0 543.4h0M215.5 539.6h0M214.9 544.8h0M213.1 543.2h0M214.9 542.0h0M216.8 544.8h0M219.2 544.2h0M215.6 545.5h0M216.9 540.4h0M215.0 543.2h0M217.1 545.1h0M216.8 535.7h0M215.2 532.5h0M215.6 537.6h0M218.2 538.4h0M216.5 535.3h0M216.6 541.0h0M218.4 540.5h0M217.8 537.3h0M217.8 543.5h0M216.6 528.2h0M214.1 529.8h0M213.3 540.7h0M208.3 541.0h0M215.2 537.6h0M209.5 541.2h0M215.8 542.3h0M213.4 533.2h0M214.9 544.9h0M217.7 528.2h0M218.0 535.6h0M214.5 541.7h0M215.6 544.6h0M218.9 529.9h0M216.2 533.7h0M214.0 542.5h0M250.6 543.3h0M254.9 539.8h0M249.7 536.3h0M248.8 540.1h0M251.5 543.2h0M250.6 536.8h0M253.0 535.3h0M249.8 537.2h0M251.7 542.9h0M255.9 537.6h0M252.1 542.9h0M251.0 532.9h0M248.9 543.6h0M252.3 539.6h0M252.5 531.7h0M251.0 522.7h0M251.5 535.7h0M251.0 542.1h0M249.7 530.1h0M250.1 537.9h0M249.5 545.6h0M249.5 529.0h0M249.4 542.0h0M250.1 537.0h0M250.9 539.2h0M249.7 543.1h0M250.6 541.0h0M250.9 535.9h0M254.9 538.8h0M250.5 535.2h0M250.6 542.4h0M252.1 542.9h0M247.9 543.7h0M253.5 540.0h0M247.9 543.6h0M249.9 543.7h0M250.5 534.0h0M252.2 535.3h0M251.4 536.2h0M249.5 535.5h0M249.6 530.6h0M248.6 543.4h0M248.3 536.3h0M249.4 533.1h0M251.6 542.9h0M246.3 543.3h0M249.9 543.7h0M249.4 543.5h0M250.8 540.3h0M249.9 541.8h0M249.0 538.0h0M247.3 539.5h0M250.3 530.7h0M253.7 544.7h0M253.2 540.1h0M252.3 533.6h0M284.8 540.1h0M282.8 542.0h0M285.5 542.5h0M285.3 536.1h0M286.1 539.1h0M284.6 528.8h0M285.5 545.4h0M281.3 534.7h0M284.8 526.6h0M280.8 542.6h0M286.4 544.3h0M284.9 534.8h0M284.2 533.0h0M286.4 541.7h0M282.0 534.5h0M284.6 533.7h0M283.1 536.4h0M288.2 539.5h0M285.0 530.5h0M288.2 534.4h0M285.1 537.5h0M281.2 535.3h0M281.7 538.3h0M285.3 540.0h0M286.6 528.6h0M285.0 533.8h0M283.7 529.4h0M281.3 532.4h0M283.4 536.8h0M282.2 530.4h0M283.1 530.1h0M282.9 540.1h0M285.9 542.7h0M286.8 535.1h0M284.0 539.1h0M281.7 537.3h0" stroke="#f89e2a" stroke-opacity="0.34" stroke-width="2.60" stroke-linecap="round" fill="none"/>
<path d="M232.5 542.3h0" stroke="#2e2496" stroke-opacity="0.56" stroke-width="2.20" stroke-linecap="round" fill="none"/>
<path d="M266.6 544.8h0M267.9 546.3h0M265.8 546.0h0M263.6 544.9h0M266.4 545.8h0M267.8 545.8h0M269.3 544.9h0M263.2 545.4h0M261.9 545.3h0M263.8 544.8h0" stroke="#2e2496" stroke-opacity="0.29" stroke-width="2.90" stroke-linecap="round" fill="none"/>
<path d="M278.5 546.7h0M273.5 546.7h0M274.4 546.4h0M273.6 545.4h0M272.5 547.1h0" stroke="#c0359e" stroke-opacity="0.29" stroke-width="2.90" stroke-linecap="round" fill="none"/>
<path d="M197.64 544.23 L199.24 545.83 L197.64 547.43 L196.04 545.83 Z" fill="#e4e4e4" stroke="#1a1a1a" stroke-width="0.6"/>
<path d="M206.94 544.08 L208.54 545.68 L206.94 547.28 L205.34 545.68 Z" fill="#e4e4e4" stroke="#1a1a1a" stroke-width="0.6"/>
<line x1="216.24" y1="544.06" x2="216.24" y2="535.21" stroke="#222" stroke-width="0.7"/>
<path d="M216.24 538.03 L217.84 539.63 L216.24 541.23 L214.64 539.63 Z" fill="#e4e4e4" stroke="#1a1a1a" stroke-width="0.6"/>
<path d="M231.70 544.38 L233.30 545.98 L231.70 547.58 L230.10 545.98 Z" fill="#e4e4e4" stroke="#1a1a1a" stroke-width="0.6"/>
<path d="M241.00 544.08 L242.60 545.68 L241.00 547.28 L239.40 545.68 Z" fill="#e4e4e4" stroke="#1a1a1a" stroke-width="0.6"/>
<line x1="250.30" y1="544.13" x2="250.30" y2="535.28" stroke="#222" stroke-width="0.7"/>
<path d="M250.30 538.11 L251.90 539.71 L250.30 541.31 L248.70 539.71 Z" fill="#e4e4e4" stroke="#1a1a1a" stroke-width="0.6"/>
<path d="M265.76 543.93 L267.36 545.53 L265.76 547.13 L264.16 545.53 Z" fill="#e4e4e4" stroke="#1a1a1a" stroke-width="0.6"/>
<path d="M275.06 544.45 L276.66 546.05 L275.06 547.65 L273.46 546.05 Z" fill="#e4e4e4" stroke="#1a1a1a" stroke-width="0.6"/>
<line x1="284.36" y1="542.21" x2="284.36" y2="532.63" stroke="#222" stroke-width="0.7"/>
<path d="M284.36 535.82 L285.96 537.42 L284.36 539.02 L282.76 537.42 Z" fill="#e4e4e4" stroke="#1a1a1a" stroke-width="0.6"/>
<text x="196.80" y="536.90" font-size="5.7" text-anchor="start" fill="#111" stroke="#111" stroke-width="0.18" transform="rotate(-45 196.80 536.90) matrix(1 0 0 1.1 0 -53.690)">302</text>
<text x="206.40" y="536.90" font-size="5.7" text-anchor="start" fill="#111" stroke="#111" stroke-width="0.18" transform="rotate(-45 206.40 536.90) matrix(1 0 0 1.1 0 -53.690)">304</text>
<text x="216.10" y="527.30" font-size="5.7" text-anchor="start" fill="#111" stroke="#111" stroke-width="0.18" transform="rotate(-45 216.10 527.30) matrix(1 0 0 1.1 0 -52.730)">386</text>
<text x="230.50" y="537.70" font-size="5.7" text-anchor="start" fill="#111" stroke="#111" stroke-width="0.18" transform="rotate(-45 230.50 537.70) matrix(1 0 0 1.1 0 -53.770)">300</text>
<text x="240.20" y="536.90" font-size="5.7" text-anchor="start" fill="#111" stroke="#111" stroke-width="0.18" transform="rotate(-45 240.20 536.90) matrix(1 0 0 1.1 0 -53.690)">304</text>
<text x="249.40" y="526.50" font-size="5.7" text-anchor="start" fill="#111" stroke="#111" stroke-width="0.18" transform="rotate(-45 249.40 526.50) matrix(1 0 0 1.1 0 -52.650)">385</text>
<text x="264.70" y="536.10" font-size="5.7" text-anchor="start" fill="#111" stroke="#111" stroke-width="0.18" transform="rotate(-45 264.70 536.10) matrix(1 0 0 1.1 0 -53.610)">306</text>
<text x="274.00" y="537.20" font-size="5.7" text-anchor="start" fill="#111" stroke="#111" stroke-width="0.18" transform="rotate(-45 274.00 537.20) matrix(1 0 0 1.1 0 -53.720)">299</text>
<text x="283.70" y="524.10" font-size="5.7" text-anchor="start" fill="#111" stroke="#111" stroke-width="0.18" transform="rotate(-45 283.70 524.10) matrix(1 0 0 1.1 0 -52.410)">416</text>
<polyline points="217.6,502.2 217.6,500.9 285.8,500.9 285.8,502.2" fill="none" stroke="#555" stroke-width="0.55"/>
<text x="252.00" y="503.40" font-size="10.0" text-anchor="middle" fill="#000" transform="matrix(1 0 0 1.1 0 -50.340)" letter-spacing="0.6">***</text>
<polyline points="251.3,510.4 251.3,509.1 285.8,509.1 285.8,510.4" fill="none" stroke="#555" stroke-width="0.55"/>
<text x="268.85" y="511.60" font-size="10.0" text-anchor="middle" fill="#000" transform="matrix(1 0 0 1.1 0 -51.160)" letter-spacing="0.6">***</text>
<circle cx="302.4" cy="517.7" r="1.35" fill="#2e2496"/>
<text x="306.70" y="519.70" font-size="5.6" text-anchor="start" fill="#333" stroke="#333" stroke-width="0.18" transform="matrix(1 0 0 1.1 0 -51.970)">BASE</text>
<circle cx="302.4" cy="526.0" r="1.35" fill="#c0359e"/>
<text x="306.70" y="528.00" font-size="5.6" text-anchor="start" fill="#333" stroke="#333" stroke-width="0.18" transform="matrix(1 0 0 1.1 0 -52.800)">TTX</text>
<circle cx="302.4" cy="533.8" r="1.35" fill="#f89e2a"/>
<text x="306.70" y="535.80" font-size="5.6" text-anchor="start" fill="#333" stroke="#333" stroke-width="0.18" transform="matrix(1 0 0 1.1 0 -53.580)">PHE</text>
<text x="343.80" y="302.70" font-size="14" text-anchor="start" fill="#000" stroke="#000" stroke-width="0.35" font-weight="bold" transform="matrix(1 0 0 1.1 0 -30.270)">f</text>
<line x1="370.90" y1="309.10" x2="370.90" y2="371.60" stroke="#aaa" stroke-width="0.6"/>
<line x1="370.90" y1="371.60" x2="484.50" y2="371.60" stroke="#aaa" stroke-width="0.6"/>
<line x1="369.40" y1="368.90" x2="370.90" y2="368.90" stroke="#aaa" stroke-width="0.6"/>
<text x="367.60" y="371.50" font-size="7.1" text-anchor="end" fill="#222" stroke="#222" stroke-width="0.18" transform="matrix(1 0 0 1.1 0 -37.150)">0</text>
<line x1="369.40" y1="353.60" x2="370.90" y2="353.60" stroke="#aaa" stroke-width="0.6"/>
<text x="367.60" y="356.20" font-size="7.1" text-anchor="end" fill="#222" stroke="#222" stroke-width="0.18" transform="matrix(1 0 0 1.1 0 -35.620)">2</text>
<line x1="369.40" y1="338.30" x2="370.90" y2="338.30" stroke="#aaa" stroke-width="0.6"/>
<text x="367.60" y="340.90" font-size="7.1" text-anchor="end" fill="#222" stroke="#222" stroke-width="0.18" transform="matrix(1 0 0 1.1 0 -34.090)">4</text>
<line x1="369.40" y1="323.00" x2="370.90" y2="323.00" stroke="#aaa" stroke-width="0.6"/>
<text x="367.60" y="325.60" font-size="7.1" text-anchor="end" fill="#222" stroke="#222" stroke-width="0.18" transform="matrix(1 0 0 1.1 0 -32.560)">6</text>
<text x="385.50" y="304.60" font-size="8.45" text-anchor="start" fill="#111" stroke="#111" stroke-width="0.18" transform="matrix(1 0 0 1.1 0 -30.460)">Mean amplitude, dF/F<tspan font-size="5.9" dy="1.9">0</tspan></text>
<path d="M385.4 357.2h0M392.2 352.3h0M396.4 353.2h0M391.6 355.8h0M397.0 352.7h0M397.4 355.3h0M389.7 359.1h0M383.1 355.7h0M388.4 358.4h0M396.3 356.4h0M387.2 354.1h0M391.3 353.8h0M390.5 356.3h0M390.9 357.4h0M393.9 356.6h0M392.4 357.1h0M387.9 357.8h0M397.4 355.8h0M390.5 352.1h0M388.5 354.1h0M388.2 357.2h0M392.5 353.2h0M399.4 357.4h0M391.6 355.6h0M388.8 353.9h0M387.2 353.1h0M403.7 355.2h0M395.4 358.8h0M403.6 354.2h0M391.3 358.3h0M399.0 358.3h0M387.3 354.7h0M398.0 358.0h0M396.4 355.9h0M393.2 359.1h0M401.7 357.1h0M386.6 353.9h0M397.7 357.2h0M391.2 356.7h0" stroke="#66c2a5" stroke-opacity="0.22" stroke-width="2.90" stroke-linecap="round" fill="none"/>
<path d="M431.4 353.2h0M428.9 351.0h0M421.8 353.8h0M416.9 356.9h0M414.4 350.8h0M424.6 345.7h0M421.0 352.8h0M423.2 350.5h0M428.8 343.3h0M429.5 343.7h0M426.7 341.7h0M415.3 350.9h0M426.5 353.8h0M420.4 346.7h0M423.3 348.6h0M416.6 345.7h0M422.9 355.1h0M432.5 345.2h0M428.9 351.4h0M438.2 354.2h0M438.9 350.2h0M433.1 346.7h0M426.1 350.1h0M424.2 357.2h0M426.6 353.2h0M422.0 350.3h0M427.1 347.7h0M425.0 344.4h0M424.2 357.6h0M435.4 347.3h0M428.9 353.8h0M426.7 359.5h0M421.0 349.3h0M427.8 355.3h0M425.0 357.7h0M426.4 356.8h0M418.2 348.6h0M427.1 354.1h0M417.8 346.2h0" stroke="#fc8d62" stroke-opacity="0.22" stroke-width="2.90" stroke-linecap="round" fill="none"/>
<path d="M463.3 355.7h0M460.3 357.5h0M457.7 357.1h0M475.1 356.5h0M468.0 357.8h0M470.4 355.9h0M483.8 357.0h0M458.9 355.4h0M456.9 356.9h0M450.5 353.1h0M466.3 356.3h0M445.2 357.9h0M484.1 355.8h0M454.2 356.5h0M465.9 354.3h0M470.0 359.0h0M464.2 354.8h0M465.5 351.7h0M457.6 357.8h0M464.3 358.0h0M471.8 357.1h0M469.7 354.4h0M481.6 354.0h0M459.1 358.1h0M469.3 358.7h0M454.0 357.0h0M466.1 356.4h0M461.6 355.4h0M464.8 355.0h0M457.4 356.7h0M457.4 354.0h0M481.8 355.6h0M469.4 356.2h0M461.3 358.4h0M474.2 357.4h0M454.6 356.2h0M459.8 355.6h0M460.7 356.2h0M454.3 357.5h0M472.7 357.7h0M464.9 355.4h0M473.8 358.4h0M454.3 353.6h0M465.9 356.0h0M465.0 353.1h0M449.2 354.4h0M459.6 356.1h0M471.1 355.9h0M464.0 359.1h0M474.1 358.3h0M459.4 355.5h0M464.3 354.7h0M473.9 353.1h0" stroke="#8da0cb" stroke-opacity="0.2" stroke-width="2.90" stroke-linecap="round" fill="none"/>
<path d="M392.8 356.9h0M388.5 356.3h0M394.9 355.7h0M394.9 357.3h0M398.3 358.2h0M394.8 355.4h0M387.8 355.9h0M394.2 356.6h0M389.1 355.0h0M393.7 356.6h0M392.2 354.5h0M391.5 354.9h0M400.6 356.2h0M388.4 350.8h0M397.1 358.0h0M382.5 356.3h0M391.6 357.8h0M387.9 356.7h0M396.3 356.1h0M383.7 356.7h0M394.7 356.9h0M399.8 356.4h0M384.7 355.9h0M388.3 354.0h0M387.1 358.5h0M397.3 353.0h0M385.3 356.5h0M390.8 356.7h0M396.5 354.1h0M394.0 356.5h0M396.4 356.0h0M389.4 357.2h0M390.3 356.5h0" stroke="#66c2a5" stroke-opacity="0.22" stroke-width="2.90" stroke-linecap="round" fill="none"/>
<path d="M428.1 358.8h0M433.2 346.5h0M425.9 353.2h0M427.1 345.6h0M429.9 354.7h0M424.8 351.1h0M438.5 353.2h0M438.2 351.7h0M425.2 350.1h0M434.5 354.2h0M436.7 349.4h0M414.4 350.1h0M413.8 351.2h0M440.7 351.5h0M423.9 353.8h0M430.9 350.2h0M435.3 346.7h0M429.7 343.1h0M434.9 347.9h0M419.1 348.2h0M434.5 357.3h0M426.7 343.4h0M432.2 355.4h0M433.6 353.6h0M427.7 357.3h0M422.0 350.8h0M420.6 341.9h0M429.4 350.3h0M422.4 348.6h0M430.8 356.1h0M421.8 354.0h0M416.6 353.8h0M422.7 356.8h0M416.7 354.9h0M430.9 353.6h0M422.9 346.0h0M444.0 353.2h0M420.6 353.0h0M417.7 348.6h0M423.8 350.1h0M432.1 345.8h0M429.0 353.3h0M430.5 352.0h0M422.5 345.8h0" stroke="#fc8d62" stroke-opacity="0.22" stroke-width="2.90" stroke-linecap="round" fill="none"/>
<path d="M427.6 324.5h0" stroke="#fc8d62" stroke-opacity="0.32" stroke-width="2.90" stroke-linecap="round" fill="none"/>
<path d="M481.1 357.7h0M475.8 355.9h0M471.2 354.5h0M452.9 353.7h0M461.7 352.2h0M461.1 357.3h0M451.4 354.7h0M469.9 357.1h0M463.7 357.2h0M469.0 353.9h0M456.2 352.3h0M472.8 356.3h0M460.5 356.8h0M472.1 356.1h0M459.0 354.9h0M462.1 354.1h0M465.3 355.9h0M456.5 359.7h0M446.1 357.3h0M460.3 359.0h0M463.5 353.6h0M450.0 352.9h0M465.3 357.1h0M449.4 352.7h0M469.1 353.5h0M472.3 356.6h0M462.7 356.0h0M459.3 358.0h0M453.3 357.2h0M470.4 356.0h0M472.7 353.3h0M446.5 356.6h0M470.5 352.7h0M466.7 353.6h0M466.0 356.1h0M460.7 357.1h0M462.6 354.6h0M463.7 355.0h0M458.7 353.6h0M448.0 353.8h0M459.9 352.5h0M471.4 358.6h0M461.8 356.8h0M475.6 356.0h0M447.9 356.6h0M464.9 356.9h0M455.4 357.6h0M477.4 356.0h0M465.7 351.4h0M460.8 354.4h0M463.1 357.4h0M467.7 356.2h0M469.8 356.1h0M461.8 357.1h0M480.8 355.7h0M465.0 357.7h0" stroke="#8da0cb" stroke-opacity="0.2" stroke-width="2.90" stroke-linecap="round" fill="none"/>
<path d="M393.3 359.1h0M394.4 357.9h0M396.7 355.5h0M388.6 359.1h0M383.6 359.3h0M389.9 357.9h0M398.5 357.7h0M389.3 353.8h0M380.8 356.9h0M388.4 356.6h0M396.4 354.9h0M388.1 355.3h0M388.1 356.8h0M394.7 355.8h0M390.8 358.3h0M398.0 354.6h0M392.9 358.4h0M389.6 356.1h0M384.2 356.2h0M386.1 356.5h0M395.9 357.3h0M388.7 354.4h0M396.6 357.8h0M400.4 355.2h0M392.9 357.1h0M383.1 356.9h0M393.5 359.4h0M386.6 356.0h0M391.3 356.1h0M399.1 355.3h0" stroke="#66c2a5" stroke-opacity="0.22" stroke-width="2.90" stroke-linecap="round" fill="none"/>
<path d="M426.2 347.4h0M432.6 354.2h0M426.2 349.7h0M430.3 338.8h0M432.4 359.5h0M426.1 347.5h0M423.3 354.2h0M425.1 348.2h0M423.4 350.0h0M431.4 351.1h0M422.5 354.6h0M431.4 353.1h0M427.7 352.4h0M421.3 344.1h0M425.9 342.6h0M439.1 353.2h0M425.8 349.8h0M427.4 350.4h0M441.7 347.2h0M419.4 342.9h0M425.2 356.4h0M427.1 353.6h0M431.8 352.3h0M419.7 354.0h0M422.8 344.4h0M423.0 348.6h0M425.4 346.1h0M421.2 355.9h0M436.6 345.9h0M426.7 345.6h0M432.6 349.4h0M427.4 351.1h0M422.1 351.1h0M420.4 353.3h0M422.5 344.1h0M422.1 355.2h0M429.1 349.3h0M442.0 347.3h0M434.3 346.3h0M416.4 344.0h0M436.0 350.3h0M428.8 352.5h0M428.4 347.6h0M428.3 348.6h0M423.9 348.5h0M422.5 353.1h0M417.7 349.0h0" stroke="#fc8d62" stroke-opacity="0.22" stroke-width="2.90" stroke-linecap="round" fill="none"/>
<path d="M429.2 323.0h0" stroke="#fc8d62" stroke-opacity="0.32" stroke-width="2.90" stroke-linecap="round" fill="none"/>
<path d="M454.3 352.3h0M459.7 358.1h0M457.3 358.0h0M473.6 354.6h0M472.8 354.4h0M484.3 355.2h0M459.3 359.0h0M461.1 356.0h0M452.7 353.5h0M464.1 357.1h0M453.8 353.5h0M458.8 357.3h0M467.4 357.6h0M454.9 356.3h0M466.3 356.8h0M463.1 353.5h0M454.4 358.0h0M475.5 356.3h0M461.0 357.4h0M463.3 351.7h0M457.2 352.0h0M458.4 355.6h0M466.3 356.9h0M453.1 356.4h0M448.2 355.4h0M452.1 356.3h0M464.3 352.0h0M457.3 354.9h0M474.1 355.9h0M466.0 359.3h0M465.2 358.2h0M465.5 352.9h0M466.4 351.2h0M461.4 354.9h0M458.2 356.0h0M461.7 356.3h0M447.2 356.5h0M455.1 356.0h0M459.7 358.9h0M462.1 355.0h0M467.8 357.0h0M466.8 355.3h0M459.8 355.5h0M477.6 357.0h0M477.6 356.9h0M455.7 357.9h0M464.0 356.1h0M467.4 359.2h0M463.5 351.2h0M464.0 356.0h0M449.4 356.8h0M453.7 353.6h0M472.1 354.4h0M460.9 357.5h0M479.3 354.9h0M462.7 352.1h0M475.7 353.5h0" stroke="#8da0cb" stroke-opacity="0.2" stroke-width="2.90" stroke-linecap="round" fill="none"/>
<path d="M391.5 354.6h0M381.4 356.3h0M397.1 353.2h0M403.1 354.6h0M399.3 358.1h0M397.8 357.7h0M394.9 353.1h0M392.7 354.2h0M391.9 357.2h0M399.4 354.9h0M399.8 358.2h0M396.2 357.2h0M393.3 355.2h0M394.3 357.0h0M396.1 353.8h0M393.7 358.2h0M392.6 357.6h0M381.3 354.1h0M384.6 355.1h0M385.2 358.8h0M386.6 357.1h0M395.1 354.7h0M399.2 354.7h0M389.6 354.8h0M386.9 354.8h0M397.6 352.5h0M386.7 355.3h0M387.2 354.1h0" stroke="#66c2a5" stroke-opacity="0.22" stroke-width="2.90" stroke-linecap="round" fill="none"/>
<path d="M432.1 341.5h0M424.2 343.4h0M432.0 349.8h0M424.5 359.2h0M423.1 351.2h0M434.0 354.6h0M433.2 356.8h0M423.1 346.1h0M424.7 345.5h0M424.5 349.6h0M428.9 352.9h0M422.1 343.2h0M422.9 346.4h0M433.3 346.2h0M431.3 348.7h0M422.8 355.4h0M434.5 351.1h0M429.6 348.5h0M425.2 349.7h0M423.3 348.2h0M425.8 351.0h0M412.5 349.7h0M431.3 350.6h0M428.2 347.7h0M426.6 353.8h0M420.1 349.7h0M438.3 350.5h0M428.6 359.7h0M413.7 346.5h0M415.7 354.9h0M433.9 349.1h0M428.0 349.8h0M431.0 343.9h0M428.2 355.8h0M423.5 346.1h0M427.4 350.2h0" stroke="#fc8d62" stroke-opacity="0.22" stroke-width="2.90" stroke-linecap="round" fill="none"/>
<path d="M429.3 330.6h0" stroke="#fc8d62" stroke-opacity="0.32" stroke-width="2.90" stroke-linecap="round" fill="none"/>
<path d="M450.2 353.9h0M453.9 356.2h0M467.1 357.5h0M463.3 357.1h0M460.9 358.8h0M453.0 355.0h0M456.1 359.0h0M467.0 357.4h0M477.6 352.9h0M454.7 352.0h0M472.3 357.2h0M457.6 357.8h0M456.4 355.4h0M448.9 358.8h0M467.6 356.4h0M450.3 356.6h0M466.5 355.3h0M459.6 359.0h0M459.4 356.3h0M465.1 355.3h0M481.3 353.9h0M458.7 353.5h0M468.1 355.8h0M450.5 355.2h0M465.1 357.1h0M446.5 355.4h0M463.6 353.8h0M442.2 356.9h0M468.5 356.7h0M456.8 356.9h0M472.8 356.6h0M479.2 353.3h0M451.7 357.7h0M466.5 357.0h0M456.3 356.4h0M455.7 358.3h0M467.6 353.0h0M460.2 354.7h0M462.1 354.2h0M467.3 357.5h0M480.7 355.9h0M476.6 355.5h0M457.4 356.5h0M464.6 352.7h0M474.1 356.6h0M462.8 356.8h0M453.8 354.5h0M465.8 357.3h0M463.6 357.0h0M484.4 355.4h0M466.9 356.1h0M457.0 354.1h0M480.5 355.9h0M460.6 357.8h0M473.6 354.6h0M471.5 357.0h0M462.7 354.1h0M466.9 357.8h0M464.5 355.7h0M466.8 355.3h0M459.2 356.6h0M476.2 357.6h0" stroke="#8da0cb" stroke-opacity="0.2" stroke-width="2.90" stroke-linecap="round" fill="none"/>
<path d="M392.2 356.4h0M397.1 358.5h0M384.1 357.5h0M399.0 356.1h0M380.9 355.9h0M388.0 356.4h0M387.8 355.7h0M386.7 355.7h0M393.5 356.6h0M397.1 354.9h0M404.3 355.0h0M388.2 358.3h0M394.0 357.3h0M403.7 354.2h0M396.0 355.2h0M394.1 355.4h0M384.1 354.5h0M390.1 357.1h0M393.6 355.9h0M394.8 354.3h0" stroke="#66c2a5" stroke-opacity="0.22" stroke-width="2.90" stroke-linecap="round" fill="none"/>
<path d="M421.5 346.6h0M435.5 349.5h0M429.6 344.3h0M435.7 351.8h0M426.4 342.0h0M432.3 354.4h0M426.4 350.6h0M418.8 349.3h0M426.4 358.0h0M425.1 352.8h0M423.3 357.4h0M431.6 349.4h0M439.6 352.6h0M425.0 352.3h0M430.8 357.5h0M432.1 345.5h0M417.2 349.6h0M430.9 344.0h0M428.7 350.2h0M428.4 349.7h0M421.8 342.2h0M428.7 348.4h0M436.8 349.6h0M424.6 347.8h0M425.7 346.2h0M430.4 343.0h0M425.8 347.5h0M422.3 350.0h0M436.7 351.0h0M434.1 356.6h0M433.5 348.8h0M433.6 347.3h0M428.9 352.6h0M428.0 350.7h0" stroke="#fc8d62" stroke-opacity="0.22" stroke-width="2.90" stroke-linecap="round" fill="none"/>
<path d="M459.2 356.8h0M459.2 357.8h0M469.4 355.9h0M455.7 356.9h0M478.4 356.8h0M463.8 357.3h0M459.4 356.3h0M468.5 357.8h0M466.5 354.4h0M459.6 355.4h0M461.1 353.4h0M456.7 356.7h0M463.0 358.1h0M471.8 354.6h0M456.5 353.4h0M461.8 353.1h0M455.8 357.1h0M463.1 355.3h0M462.4 354.9h0M473.3 356.1h0M445.3 353.9h0M453.7 355.5h0M466.6 356.8h0M463.0 357.4h0M469.3 353.7h0M466.3 355.0h0M462.8 358.9h0M449.2 353.3h0M459.4 354.9h0M468.8 357.2h0M469.2 355.6h0M459.5 358.2h0M472.3 356.1h0M473.3 355.7h0M460.8 355.7h0M449.8 356.8h0M464.9 354.5h0M460.3 359.1h0M462.8 355.8h0M462.6 353.5h0M450.2 354.1h0M451.3 355.9h0M458.1 356.8h0M459.8 356.1h0M463.1 355.3h0M459.1 358.7h0M476.7 356.6h0M462.5 356.9h0M462.9 356.6h0M462.9 357.0h0M468.9 358.2h0M466.1 357.6h0M460.1 357.2h0M473.1 353.1h0M466.7 358.8h0M478.2 353.1h0M461.2 356.6h0M471.5 355.8h0M475.4 354.3h0M466.6 356.6h0M457.8 355.2h0M454.8 356.5h0M478.8 358.6h0M457.5 356.2h0M466.3 356.2h0M470.6 358.1h0M462.1 354.5h0M472.6 354.6h0M479.3 355.9h0M460.8 356.8h0M462.1 355.7h0M467.0 354.2h0" stroke="#8da0cb" stroke-opacity="0.2" stroke-width="2.90" stroke-linecap="round" fill="none"/>
<line x1="392.20" y1="357.20" x2="392.20" y2="355.36" stroke="#222" stroke-width="0.7"/>
<path d="M392.20 354.68 L393.80 356.28 L392.20 357.88 L390.60 356.28 Z" fill="#e4e4e4" stroke="#1a1a1a" stroke-width="0.6"/>
<line x1="427.70" y1="353.98" x2="427.70" y2="347.10" stroke="#222" stroke-width="0.7"/>
<path d="M427.70 348.94 L429.30 350.54 L427.70 352.14 L426.10 350.54 Z" fill="#e4e4e4" stroke="#1a1a1a" stroke-width="0.6"/>
<line x1="463.20" y1="357.04" x2="463.20" y2="354.75" stroke="#222" stroke-width="0.7"/>
<path d="M463.20 354.29 L464.80 355.89 L463.20 357.50 L461.60 355.89 Z" fill="#e4e4e4" stroke="#1a1a1a" stroke-width="0.6"/>
<polyline points="392.2,323.0 392.2,321.7 427.7,321.7 427.7,323.0" fill="none" stroke="#555" stroke-width="0.55"/>
<text x="410.25" y="324.20" font-size="10.0" text-anchor="middle" fill="#000" transform="matrix(1 0 0 1.1 0 -32.420)" letter-spacing="0.6">***</text>
<polyline points="427.7,317.7 427.7,316.4 463.2,316.4 463.2,317.7" fill="none" stroke="#555" stroke-width="0.55"/>
<text x="445.75" y="318.90" font-size="10.0" text-anchor="middle" fill="#000" transform="matrix(1 0 0 1.1 0 -31.890)" letter-spacing="0.6">***</text>
<text x="489.30" y="333.00" font-size="7.0" text-anchor="start" fill="#111" stroke="#111" stroke-width="0.18" transform="matrix(1 0 0 1.1 0 -33.300)">Clusters</text>
<circle cx="491.4" cy="338.0" r="1.2" fill="#66c2a5"/>
<text x="494.80" y="340.20" font-size="6.2" text-anchor="start" fill="#222" stroke="#222" stroke-width="0.18" transform="matrix(1 0 0 1.1 0 -34.020)">1</text>
<circle cx="491.4" cy="345.9" r="1.2" fill="#fc8d62"/>
<text x="494.80" y="348.10" font-size="6.2" text-anchor="start" fill="#222" stroke="#222" stroke-width="0.18" transform="matrix(1 0 0 1.1 0 -34.810)">2</text>
<circle cx="491.4" cy="353.8" r="1.2" fill="#8da0cb"/>
<text x="494.80" y="356.00" font-size="6.2" text-anchor="start" fill="#222" stroke="#222" stroke-width="0.18" transform="matrix(1 0 0 1.1 0 -35.600)">3</text>
<line x1="540.50" y1="308.80" x2="540.50" y2="371.60" stroke="#aaa" stroke-width="0.6"/>
<line x1="540.50" y1="371.60" x2="648.10" y2="371.60" stroke="#aaa" stroke-width="0.6"/>
<line x1="539.00" y1="368.90" x2="540.50" y2="368.90" stroke="#aaa" stroke-width="0.6"/>
<text x="537.20" y="371.50" font-size="7.1" text-anchor="end" fill="#222" stroke="#222" stroke-width="0.18" transform="matrix(1 0 0 1.1 0 -37.150)">0</text>
<line x1="539.00" y1="352.50" x2="540.50" y2="352.50" stroke="#aaa" stroke-width="0.6"/>
<text x="537.20" y="355.10" font-size="7.1" text-anchor="end" fill="#222" stroke="#222" stroke-width="0.18" transform="matrix(1 0 0 1.1 0 -35.510)">100</text>
<line x1="539.00" y1="336.10" x2="540.50" y2="336.10" stroke="#aaa" stroke-width="0.6"/>
<text x="537.20" y="338.70" font-size="7.1" text-anchor="end" fill="#222" stroke="#222" stroke-width="0.18" transform="matrix(1 0 0 1.1 0 -33.870)">200</text>
<line x1="539.00" y1="319.70" x2="540.50" y2="319.70" stroke="#aaa" stroke-width="0.6"/>
<text x="537.20" y="322.30" font-size="7.1" text-anchor="end" fill="#222" stroke="#222" stroke-width="0.18" transform="matrix(1 0 0 1.1 0 -32.230)">300</text>
<text x="560.20" y="304.60" font-size="8.45" text-anchor="start" fill="#111" stroke="#111" stroke-width="0.18" transform="matrix(1 0 0 1.1 0 -30.460)">Mean peak time, s</text>
<path d="M562.0 335.5h0M556.2 350.2h0M551.3 345.4h0M558.5 340.2h0M563.8 339.8h0M565.4 332.4h0M563.1 333.5h0M550.9 338.8h0M556.8 335.2h0M547.0 341.7h0M565.3 343.6h0M550.2 348.5h0M569.3 339.0h0M567.5 344.2h0M555.2 336.1h0M558.9 337.8h0M555.2 348.0h0M566.9 340.6h0" stroke="#66c2a5" stroke-opacity="0.25" stroke-width="2.90" stroke-linecap="round" fill="none"/>
<path d="M594.1 347.7h0M585.2 353.0h0M595.1 349.8h0M589.7 350.5h0M593.9 342.3h0M596.1 350.8h0M590.0 348.8h0M588.3 348.9h0M593.3 342.7h0M584.9 351.9h0M608.1 355.3h0M599.5 348.1h0M597.5 343.7h0M596.1 349.0h0M600.1 343.8h0M589.8 350.6h0M597.8 345.9h0M604.9 348.3h0M592.8 353.6h0M603.3 355.2h0M598.0 349.0h0M588.9 349.5h0M590.8 349.2h0M587.7 354.5h0M593.3 355.3h0M587.0 346.5h0M594.1 342.2h0M590.4 354.5h0M595.0 348.7h0M601.7 350.3h0M579.1 348.0h0M594.5 347.3h0M603.1 345.8h0M584.0 343.9h0M597.8 346.5h0" stroke="#fc8d62" stroke-opacity="0.22" stroke-width="2.90" stroke-linecap="round" fill="none"/>
<path d="M638.4 362.2h0M619.9 345.3h0M631.1 336.6h0M630.6 350.7h0M639.3 352.0h0M609.9 348.1h0M616.4 354.1h0M620.7 342.6h0M617.5 349.6h0M609.0 348.1h0M617.1 346.7h0M626.2 363.9h0M626.8 341.8h0M628.8 345.2h0M624.4 355.5h0M610.7 353.1h0M642.8 354.1h0M636.8 345.9h0M621.5 346.3h0M610.1 349.6h0M621.6 361.2h0M623.5 345.7h0M626.6 348.0h0M626.2 357.1h0M637.5 352.6h0M622.8 337.5h0M626.8 338.1h0M632.6 356.0h0M625.3 362.0h0M631.6 360.8h0M630.7 345.9h0M630.1 355.2h0M626.8 362.0h0M636.1 344.6h0M624.3 350.7h0M621.4 358.1h0M634.9 351.9h0M628.2 355.9h0M637.4 352.1h0M624.0 349.0h0M640.0 359.6h0M634.7 359.0h0M644.7 351.5h0M632.1 355.3h0M616.8 357.9h0M637.9 346.7h0M641.8 348.2h0M638.8 353.5h0M624.8 355.2h0M635.8 342.2h0M617.9 347.6h0M626.3 350.4h0M647.7 350.7h0M625.0 355.2h0M618.2 342.0h0M628.4 336.1h0M629.9 347.3h0M617.3 356.3h0M614.2 340.9h0" stroke="#8da0cb" stroke-opacity="0.2" stroke-width="2.90" stroke-linecap="round" fill="none"/>
<path d="M554.8 335.9h0M561.9 332.7h0M565.1 327.7h0M556.7 348.7h0M560.1 330.3h0M555.8 343.7h0M560.5 346.1h0M562.5 338.9h0M562.0 328.7h0M557.8 342.7h0M557.0 336.1h0M555.1 337.2h0M568.2 341.8h0M558.6 342.9h0M565.0 336.3h0M566.7 343.3h0" stroke="#66c2a5" stroke-opacity="0.25" stroke-width="2.90" stroke-linecap="round" fill="none"/>
<path d="M595.4 346.5h0M596.8 354.9h0M594.0 348.9h0M596.8 347.8h0M594.0 345.7h0M597.2 346.9h0M591.8 351.8h0M590.3 347.4h0M599.9 352.7h0M593.6 351.3h0M605.8 353.5h0M584.0 346.1h0M584.6 347.7h0M611.3 347.4h0M582.6 353.0h0M589.1 351.8h0M584.3 348.6h0M595.7 346.1h0M597.6 357.4h0M589.8 346.0h0M594.3 349.1h0M591.5 357.2h0M608.1 348.1h0M596.0 347.0h0M598.9 347.7h0M604.6 348.2h0M603.9 351.6h0M595.4 338.2h0M579.1 347.9h0M592.5 353.8h0M580.0 344.3h0M594.9 349.4h0M607.7 348.2h0M581.8 344.2h0M576.9 349.2h0M604.7 355.1h0M600.0 345.4h0M596.7 350.5h0M607.3 356.1h0M591.2 342.6h0M588.9 352.6h0M597.7 339.2h0M589.9 345.5h0M585.2 349.2h0M592.7 344.2h0" stroke="#fc8d62" stroke-opacity="0.22" stroke-width="2.90" stroke-linecap="round" fill="none"/>
<path d="M626.3 349.9h0M629.4 348.9h0M615.9 345.3h0M628.8 347.5h0M623.0 351.2h0M631.0 359.7h0M633.6 362.7h0M627.4 349.3h0M632.9 347.5h0M634.7 341.2h0M622.5 356.3h0M628.3 339.8h0M620.4 361.8h0M635.1 355.7h0M627.4 347.3h0M627.7 344.7h0M614.9 346.2h0M631.0 351.0h0M636.5 353.5h0M637.7 355.0h0M636.6 349.7h0M647.7 350.1h0M631.1 337.8h0M621.9 349.9h0M635.2 342.6h0M634.8 343.9h0M613.0 342.2h0M618.0 352.0h0M608.9 352.0h0M630.0 341.1h0M631.4 342.7h0M636.4 349.9h0M636.4 351.4h0M621.7 353.3h0M638.7 353.4h0M627.0 354.1h0M629.7 334.1h0M639.7 349.8h0M624.1 350.2h0M639.9 351.2h0M626.6 344.6h0M625.2 352.0h0M631.1 343.8h0M622.7 346.5h0M636.6 355.8h0M634.1 349.5h0M633.8 350.4h0M629.4 338.3h0M609.3 354.2h0M628.4 346.7h0M636.9 355.8h0M615.2 346.2h0M624.3 356.1h0M625.8 356.0h0M627.1 344.2h0M628.9 353.7h0M629.0 353.2h0M629.7 361.9h0M626.5 349.4h0M626.5 358.3h0M634.0 351.0h0M630.0 355.6h0M625.4 345.1h0M627.8 341.3h0M633.1 344.8h0M620.5 349.4h0" stroke="#8da0cb" stroke-opacity="0.2" stroke-width="2.90" stroke-linecap="round" fill="none"/>
<path d="M563.3 340.5h0M552.8 336.4h0M549.1 337.6h0M561.3 336.7h0M561.7 340.1h0M559.3 340.5h0M564.1 347.5h0M567.7 328.8h0M568.8 328.5h0M558.5 331.9h0M555.4 350.7h0M564.0 345.4h0M558.0 351.6h0M557.5 338.0h0M554.9 339.4h0M558.4 332.3h0M573.8 340.3h0M564.2 346.6h0M570.6 345.5h0" stroke="#66c2a5" stroke-opacity="0.25" stroke-width="2.90" stroke-linecap="round" fill="none"/>
<path d="M580.8 354.6h0M590.0 356.8h0M594.0 350.7h0M587.9 356.1h0M600.4 348.9h0M588.1 348.0h0M585.7 348.8h0M611.3 347.5h0M587.7 352.0h0M586.8 352.7h0M589.6 347.3h0M602.9 343.0h0M590.3 351.3h0M593.2 355.2h0M601.2 346.3h0M595.8 336.3h0M592.4 349.6h0M599.2 348.8h0M593.7 349.1h0M602.9 346.7h0M585.3 347.9h0M605.0 351.3h0M601.5 350.0h0M588.7 348.0h0M591.0 344.9h0M604.8 349.7h0M595.9 351.9h0M595.3 350.7h0M600.7 354.3h0M605.5 348.6h0M593.8 345.2h0M584.5 355.2h0M590.7 346.0h0M596.7 356.2h0M603.6 348.2h0M596.2 353.5h0M600.0 355.5h0M594.5 352.3h0M603.6 345.5h0M591.2 342.7h0M604.7 343.3h0M584.3 353.2h0M586.4 350.6h0M595.4 339.3h0M587.8 348.3h0M605.1 350.3h0" stroke="#fc8d62" stroke-opacity="0.22" stroke-width="2.90" stroke-linecap="round" fill="none"/>
<path d="M621.5 349.0h0M630.2 350.3h0M640.7 339.8h0M628.1 358.0h0M622.5 355.4h0M623.8 342.7h0M622.7 357.6h0M622.6 358.7h0M645.6 348.3h0M614.5 349.1h0M621.6 354.6h0M626.6 359.1h0M637.7 352.0h0M620.5 338.0h0M634.7 355.7h0M631.8 361.9h0M627.0 354.3h0M632.0 362.2h0M634.8 345.6h0M609.6 354.7h0M635.8 353.3h0M636.2 360.9h0M619.4 351.5h0M632.8 352.1h0M624.6 346.6h0M627.2 363.9h0M638.6 352.5h0M634.7 357.0h0M629.6 356.2h0M637.1 359.1h0M629.1 352.8h0M624.4 356.4h0M626.2 350.1h0M611.6 352.5h0M633.9 347.2h0M641.8 354.1h0M626.6 353.7h0M625.2 358.7h0M639.5 338.4h0M637.9 347.0h0M626.0 351.3h0M627.7 345.9h0M638.5 350.6h0M628.1 350.7h0M634.1 353.0h0M608.8 351.2h0M609.4 354.4h0M626.2 342.4h0M629.0 359.9h0M624.5 351.9h0M647.6 350.9h0M625.6 337.9h0M625.2 346.9h0M628.2 351.3h0" stroke="#8da0cb" stroke-opacity="0.2" stroke-width="2.90" stroke-linecap="round" fill="none"/>
<path d="M560.0 348.0h0M569.6 345.3h0M549.5 344.3h0M559.5 344.6h0M563.0 348.2h0M557.6 338.3h0M554.9 327.8h0M564.7 333.8h0M559.7 342.3h0M562.2 348.2h0M561.7 347.5h0M559.7 338.7h0M554.9 328.2h0M559.4 340.3h0M555.6 343.4h0M570.0 340.3h0M557.1 328.9h0M566.7 350.8h0M563.1 337.9h0M572.0 343.1h0M552.1 343.1h0M553.6 341.8h0M562.3 348.9h0M557.0 335.7h0M556.0 332.9h0M563.1 351.5h0M558.3 343.0h0" stroke="#66c2a5" stroke-opacity="0.25" stroke-width="2.90" stroke-linecap="round" fill="none"/>
<path d="M606.8 347.4h0M593.2 352.9h0M598.5 344.8h0M588.2 351.5h0M611.8 348.8h0M589.8 353.3h0M592.1 346.5h0M587.9 343.6h0M607.2 352.4h0M585.4 352.7h0M595.0 353.3h0M610.4 353.0h0M598.6 347.1h0M597.2 341.9h0M609.4 345.0h0M590.6 341.8h0M589.5 349.2h0M599.1 340.8h0M597.6 341.3h0M595.9 355.1h0M589.0 346.1h0M595.2 350.5h0M592.6 348.1h0M584.0 355.9h0M595.2 347.0h0M586.8 346.8h0M602.8 352.7h0M589.6 353.3h0M595.7 351.6h0M577.5 351.3h0M583.6 349.8h0M589.7 350.2h0M593.2 353.9h0M582.7 350.7h0M594.2 346.8h0M602.8 351.7h0M592.5 353.5h0M588.7 355.5h0" stroke="#fc8d62" stroke-opacity="0.22" stroke-width="2.90" stroke-linecap="round" fill="none"/>
<path d="M629.1 346.7h0M622.9 354.9h0M624.8 352.6h0M635.6 351.5h0M620.4 354.1h0M624.0 340.0h0M634.1 344.5h0M634.6 355.3h0M634.2 357.2h0M609.4 354.4h0M628.0 358.1h0M634.5 342.5h0M622.3 354.5h0M639.1 356.2h0M630.9 351.2h0M623.0 347.5h0M636.5 350.4h0M631.3 348.7h0M621.4 362.7h0M633.7 349.5h0M631.8 348.0h0M617.2 348.8h0M632.6 344.1h0M628.0 345.3h0M633.9 351.6h0M642.6 350.8h0M631.8 358.8h0M623.0 357.8h0M640.5 347.2h0M631.3 347.3h0M622.5 347.7h0M622.9 348.2h0M633.3 357.5h0M624.0 346.2h0M646.8 347.2h0M624.1 344.9h0M635.6 344.2h0M629.5 347.1h0M616.4 341.3h0M616.2 343.6h0M622.8 346.1h0M640.6 345.6h0M634.6 342.4h0M622.5 341.7h0M628.9 358.1h0M632.7 353.1h0" stroke="#8da0cb" stroke-opacity="0.2" stroke-width="2.90" stroke-linecap="round" fill="none"/>
<path d="M567.0 344.1h0M569.3 349.9h0M560.1 339.0h0M554.4 334.2h0M555.7 342.6h0M561.7 335.0h0M554.0 342.8h0M554.5 339.1h0M559.2 340.2h0M561.0 345.7h0M563.4 340.0h0M572.4 335.9h0M560.3 341.8h0M570.3 340.9h0M560.8 338.3h0M559.5 329.4h0M554.9 342.3h0M560.4 333.2h0M559.9 339.1h0M562.9 343.4h0" stroke="#66c2a5" stroke-opacity="0.25" stroke-width="2.90" stroke-linecap="round" fill="none"/>
<path d="M597.5 346.6h0M585.7 351.4h0M606.9 349.5h0M598.3 349.2h0M594.0 353.4h0M590.8 352.4h0M593.7 348.7h0M582.7 345.0h0M604.2 342.8h0M588.4 353.7h0M585.5 346.4h0M590.5 347.5h0M594.9 356.2h0M599.5 344.8h0M591.8 349.7h0M587.8 353.8h0M593.7 350.8h0M594.6 345.7h0M597.6 348.1h0M590.0 356.2h0M592.2 347.9h0M579.7 345.4h0M594.7 344.2h0M600.1 350.5h0M602.5 348.0h0M589.3 344.2h0M592.0 351.5h0M600.2 346.4h0M598.2 349.1h0M601.1 356.9h0M597.5 338.8h0M590.5 348.4h0M596.7 354.1h0M591.6 347.6h0M591.1 352.4h0M590.8 345.8h0M602.3 349.7h0M591.9 341.1h0M591.3 355.1h0M594.7 356.6h0M593.5 354.2h0M585.5 349.9h0M593.9 353.0h0M596.1 345.3h0M595.1 348.7h0M589.6 346.5h0" stroke="#fc8d62" stroke-opacity="0.22" stroke-width="2.90" stroke-linecap="round" fill="none"/>
<path d="M633.1 355.4h0M627.4 333.9h0M633.6 343.6h0M617.1 356.7h0M625.0 346.2h0M633.1 345.8h0M608.1 350.4h0M633.7 341.8h0M628.3 355.2h0M627.3 334.7h0M635.6 357.5h0M613.3 355.6h0M625.6 342.8h0M618.7 348.0h0M642.2 358.1h0M623.5 360.2h0M622.6 353.7h0M630.5 346.0h0M628.7 356.3h0M611.7 351.6h0M625.7 344.3h0M628.3 353.7h0M639.2 339.6h0M618.4 345.8h0M637.8 357.9h0M608.5 348.6h0M628.9 353.0h0M634.8 356.2h0M624.9 343.1h0M630.2 358.4h0M620.1 351.0h0M614.0 349.9h0M630.3 348.9h0M627.9 347.9h0M627.0 342.7h0M635.8 353.3h0M631.3 341.4h0M629.8 361.1h0M628.8 355.3h0M629.0 342.5h0M627.4 347.7h0M614.2 349.2h0M628.2 350.7h0M621.9 349.4h0M626.9 361.8h0M634.3 354.5h0M627.2 360.5h0M630.2 356.7h0M635.5 347.7h0M640.7 355.0h0M626.8 358.0h0M630.9 344.9h0M629.6 352.0h0M610.3 348.3h0M636.2 348.3h0M621.6 349.7h0M634.0 348.3h0M634.6 354.5h0M619.6 343.6h0M646.0 352.4h0M641.0 348.5h0M632.2 344.5h0M626.4 345.4h0M632.2 353.8h0M624.0 344.7h0M633.9 343.6h0M625.6 347.8h0M631.5 335.2h0M635.1 343.0h0M624.8 353.3h0M624.5 345.4h0M626.3 343.6h0M635.8 353.3h0M639.5 347.7h0M630.7 361.8h0" stroke="#8da0cb" stroke-opacity="0.2" stroke-width="2.90" stroke-linecap="round" fill="none"/>
<line x1="560.67" y1="345.45" x2="560.67" y2="333.97" stroke="#222" stroke-width="0.7"/>
<path d="M560.67 338.11 L562.27 339.71 L560.67 341.31 L559.07 339.71 Z" fill="#e4e4e4" stroke="#1a1a1a" stroke-width="0.6"/>
<line x1="594.30" y1="353.65" x2="594.30" y2="345.45" stroke="#222" stroke-width="0.7"/>
<path d="M594.30 347.95 L595.90 349.55 L594.30 351.15 L592.70 349.55 Z" fill="#e4e4e4" stroke="#1a1a1a" stroke-width="0.6"/>
<line x1="627.93" y1="355.45" x2="627.93" y2="345.61" stroke="#222" stroke-width="0.7"/>
<path d="M627.93 348.93 L629.53 350.53 L627.93 352.13 L626.33 350.53 Z" fill="#e4e4e4" stroke="#1a1a1a" stroke-width="0.6"/>
<polyline points="560.7,317.3 560.7,316.0 627.9,316.0 627.9,317.3" fill="none" stroke="#555" stroke-width="0.55"/>
<text x="594.60" y="318.50" font-size="10.0" text-anchor="middle" fill="#000" transform="matrix(1 0 0 1.1 0 -31.850)" letter-spacing="0.6">***</text>
<polyline points="560.7,323.8 560.7,322.5 594.3,322.5 594.3,323.8" fill="none" stroke="#555" stroke-width="0.55"/>
<text x="577.79" y="325.00" font-size="10.0" text-anchor="middle" fill="#000" transform="matrix(1 0 0 1.1 0 -32.500)" letter-spacing="0.6">***</text>
<text x="653.20" y="333.00" font-size="7.0" text-anchor="start" fill="#111" stroke="#111" stroke-width="0.18" transform="matrix(1 0 0 1.1 0 -33.300)">Clusters</text>
<circle cx="655.3" cy="338.0" r="1.2" fill="#66c2a5"/>
<text x="658.70" y="340.20" font-size="6.2" text-anchor="start" fill="#222" stroke="#222" stroke-width="0.18" transform="matrix(1 0 0 1.1 0 -34.020)">1</text>
<circle cx="655.3" cy="345.9" r="1.2" fill="#fc8d62"/>
<text x="658.70" y="348.10" font-size="6.2" text-anchor="start" fill="#222" stroke="#222" stroke-width="0.18" transform="matrix(1 0 0 1.1 0 -34.810)">2</text>
<circle cx="655.3" cy="353.8" r="1.2" fill="#8da0cb"/>
<text x="658.70" y="356.00" font-size="6.2" text-anchor="start" fill="#222" stroke="#222" stroke-width="0.18" transform="matrix(1 0 0 1.1 0 -35.600)">3</text>
<line x1="370.50" y1="399.10" x2="370.50" y2="462.40" stroke="#aaa" stroke-width="0.6"/>
<line x1="370.50" y1="462.40" x2="478.60" y2="462.40" stroke="#aaa" stroke-width="0.6"/>
<line x1="369.00" y1="459.40" x2="370.50" y2="459.40" stroke="#aaa" stroke-width="0.6"/>
<text x="367.20" y="462.00" font-size="7.1" text-anchor="end" fill="#222" stroke="#222" stroke-width="0.18" transform="matrix(1 0 0 1.1 0 -46.200)">0</text>
<line x1="369.00" y1="446.45" x2="370.50" y2="446.45" stroke="#aaa" stroke-width="0.6"/>
<text x="367.20" y="449.05" font-size="7.1" text-anchor="end" fill="#222" stroke="#222" stroke-width="0.18" transform="matrix(1 0 0 1.1 0 -44.905)">50</text>
<line x1="369.00" y1="433.50" x2="370.50" y2="433.50" stroke="#aaa" stroke-width="0.6"/>
<text x="367.20" y="436.10" font-size="7.1" text-anchor="end" fill="#222" stroke="#222" stroke-width="0.18" transform="matrix(1 0 0 1.1 0 -43.610)">100</text>
<line x1="369.00" y1="420.55" x2="370.50" y2="420.55" stroke="#aaa" stroke-width="0.6"/>
<text x="367.20" y="423.15" font-size="7.1" text-anchor="end" fill="#222" stroke="#222" stroke-width="0.18" transform="matrix(1 0 0 1.1 0 -42.315)">150</text>
<line x1="369.00" y1="407.60" x2="370.50" y2="407.60" stroke="#aaa" stroke-width="0.6"/>
<text x="367.20" y="410.20" font-size="7.1" text-anchor="end" fill="#222" stroke="#222" stroke-width="0.18" transform="matrix(1 0 0 1.1 0 -41.020)">200</text>
<text x="388.20" y="394.60" font-size="8.45" text-anchor="start" fill="#111" stroke="#111" stroke-width="0.18" transform="matrix(1 0 0 1.1 0 -39.460)">Mean peak width, s</text>
<path d="M391.6 453.2h0M382.1 456.3h0M406.1 455.1h0M394.7 453.2h0M387.4 452.9h0M400.8 456.5h0M396.4 455.2h0M386.1 452.2h0M393.7 453.9h0M384.3 455.5h0M386.6 452.9h0M398.4 455.3h0M395.9 459.0h0M400.0 455.2h0M399.3 454.7h0M391.4 453.1h0M386.6 449.4h0M384.7 456.3h0M394.6 457.2h0M398.3 453.1h0M383.5 452.2h0M386.5 456.0h0M382.2 455.3h0M382.4 450.3h0M389.5 453.7h0M384.6 453.9h0M394.7 450.9h0M388.0 449.9h0M385.4 455.0h0M385.3 458.8h0M391.4 456.7h0M385.9 456.4h0" stroke="#66c2a5" stroke-opacity="0.22" stroke-width="2.90" stroke-linecap="round" fill="none"/>
<path d="M437.1 451.1h0M425.2 452.7h0M426.3 439.6h0M428.0 436.6h0M422.3 454.4h0M430.0 458.4h0M421.9 455.2h0M427.6 440.7h0M418.2 448.7h0M420.6 443.7h0M428.6 452.6h0M422.9 447.8h0M429.5 436.4h0M419.5 441.1h0M417.4 451.9h0M429.5 438.2h0M420.1 450.7h0M425.9 447.3h0M421.1 445.7h0M433.1 436.2h0M427.9 451.6h0M429.6 442.1h0M422.9 449.8h0M435.5 436.0h0M420.8 442.2h0M420.1 448.4h0M428.7 458.0h0M431.8 434.2h0M430.4 436.7h0M416.2 448.3h0M431.9 455.8h0M427.1 439.9h0M427.7 437.6h0M424.1 456.5h0M418.4 437.6h0M427.4 436.4h0M425.5 446.0h0M432.0 447.6h0M428.8 434.8h0M416.9 447.5h0M416.9 441.8h0M421.8 457.5h0M430.3 445.3h0" stroke="#fc8d62" stroke-opacity="0.22" stroke-width="2.90" stroke-linecap="round" fill="none"/>
<path d="M452.3 451.7h0M455.8 455.2h0M475.2 447.7h0M449.3 447.7h0M449.9 440.0h0M451.7 447.7h0M447.2 447.7h0M460.8 449.0h0M438.5 451.7h0M464.0 439.1h0M452.9 444.3h0M450.1 459.1h0M454.5 452.2h0M454.2 453.3h0M443.5 446.2h0M447.2 454.9h0M454.2 435.5h0M457.2 436.5h0M459.8 451.1h0M464.5 437.2h0M462.8 450.2h0M448.4 456.7h0M470.1 445.0h0M450.8 447.8h0M458.5 447.8h0M473.8 448.5h0M452.0 443.5h0M455.7 441.5h0M448.1 448.7h0M452.8 457.5h0M456.4 440.3h0M463.4 442.5h0M462.6 439.1h0M452.6 444.3h0M474.4 445.5h0M459.0 446.1h0M455.8 445.4h0M457.7 456.7h0M461.7 459.2h0M459.4 453.7h0M452.0 448.7h0M457.5 440.5h0M459.9 446.5h0M455.5 449.4h0" stroke="#8da0cb" stroke-opacity="0.2" stroke-width="2.90" stroke-linecap="round" fill="none"/>
<path d="M382.5 455.2h0M387.3 451.7h0M390.7 457.5h0M378.7 457.2h0M383.4 458.9h0M382.5 455.1h0M386.8 454.2h0M394.1 451.1h0M390.3 449.2h0M389.9 452.6h0M383.4 454.6h0M398.4 457.8h0M390.3 450.6h0M395.1 452.5h0M385.3 456.1h0M390.6 456.7h0M386.4 454.4h0M385.6 455.7h0M398.8 455.3h0M394.2 457.3h0M379.7 456.6h0M402.6 457.6h0M390.8 457.7h0M383.4 457.4h0M397.3 457.4h0M387.2 457.3h0" stroke="#66c2a5" stroke-opacity="0.22" stroke-width="2.90" stroke-linecap="round" fill="none"/>
<path d="M426.7 451.2h0M429.3 434.3h0M429.0 448.8h0M422.5 445.1h0M414.2 449.3h0M414.6 447.7h0M420.1 449.0h0M422.5 442.0h0M434.3 456.8h0M422.9 453.2h0M426.7 436.9h0M427.9 457.3h0M423.7 439.8h0M415.4 445.1h0M426.4 435.5h0M423.9 446.3h0M410.3 446.5h0M420.0 438.9h0M419.4 443.4h0M415.3 447.7h0M428.1 442.8h0M438.4 443.6h0M427.4 454.5h0M429.2 453.4h0M426.8 444.7h0M429.6 448.5h0M420.3 456.4h0M426.4 439.5h0M430.4 456.3h0M420.6 435.5h0M423.5 457.8h0M429.8 448.3h0M418.9 449.5h0M424.6 443.4h0M430.5 455.5h0M431.5 458.5h0M423.9 441.3h0M425.1 457.5h0M413.4 436.4h0" stroke="#fc8d62" stroke-opacity="0.22" stroke-width="2.90" stroke-linecap="round" fill="none"/>
<path d="M461.9 444.2h0M453.4 450.8h0M456.0 455.0h0M454.1 445.8h0M452.9 456.4h0M451.0 445.8h0M463.0 447.7h0M455.6 439.6h0M455.4 453.6h0M472.8 456.2h0M443.5 448.6h0M445.6 447.6h0M469.4 457.1h0M466.1 443.5h0M450.5 447.5h0M455.6 444.0h0M467.2 455.5h0M456.9 447.1h0M455.7 452.7h0M456.6 457.5h0M447.3 446.5h0M456.6 456.9h0M451.3 451.5h0M458.1 445.7h0M451.3 452.1h0M454.9 450.6h0M455.0 454.8h0M451.7 438.2h0M462.2 449.5h0M443.2 453.5h0M454.6 448.4h0M437.4 448.9h0M456.1 444.7h0M471.4 450.3h0M461.9 455.2h0M447.7 452.0h0M438.7 452.8h0M450.2 452.1h0M475.9 453.3h0M457.7 458.2h0M457.7 456.1h0M470.1 452.3h0M445.3 448.6h0M456.1 438.3h0M450.5 442.3h0M462.2 455.4h0M456.8 455.9h0M467.2 441.0h0M457.9 447.9h0M450.2 446.5h0M457.1 455.3h0M455.6 446.8h0M459.1 444.8h0M451.8 459.0h0M459.4 443.2h0M443.6 452.5h0M455.5 451.8h0M451.6 450.5h0M454.0 449.0h0M459.1 457.2h0M477.1 445.5h0M464.0 441.4h0M470.4 452.2h0M445.2 446.6h0M466.0 450.1h0M451.9 443.7h0" stroke="#8da0cb" stroke-opacity="0.2" stroke-width="2.90" stroke-linecap="round" fill="none"/>
<path d="M393.1 454.2h0M381.2 455.8h0M397.5 450.9h0M401.3 458.0h0M387.2 453.8h0M388.2 458.0h0M392.3 458.4h0M396.1 457.3h0M393.2 457.0h0M390.9 455.8h0M388.7 455.1h0M402.8 455.9h0M384.8 454.6h0M385.7 454.1h0M397.6 452.5h0M380.9 455.3h0M387.7 450.3h0M382.6 456.8h0M395.3 456.9h0M389.0 452.7h0M378.0 456.6h0M394.5 453.0h0M404.4 455.6h0M389.3 458.9h0M391.6 458.9h0M390.2 452.7h0" stroke="#66c2a5" stroke-opacity="0.22" stroke-width="2.90" stroke-linecap="round" fill="none"/>
<path d="M427.2 436.2h0M419.0 438.5h0M414.9 441.9h0M427.0 441.0h0M424.6 439.2h0M431.1 440.3h0M426.9 448.3h0M425.8 448.8h0M427.9 449.5h0M424.1 438.3h0M424.3 447.9h0M424.0 435.7h0M430.7 455.0h0M427.6 442.4h0M430.6 454.8h0M432.8 445.0h0M411.8 454.4h0M423.3 450.3h0M421.3 451.6h0M424.9 449.9h0M434.2 449.6h0M422.3 457.8h0M431.3 455.2h0M429.0 447.8h0M426.8 446.9h0M430.1 452.9h0M420.5 441.4h0M427.8 455.0h0M419.0 457.5h0M425.1 435.5h0M420.3 442.4h0M425.6 448.9h0M432.3 451.2h0M417.7 445.2h0M418.8 448.8h0M427.8 440.4h0M421.1 453.1h0" stroke="#fc8d62" stroke-opacity="0.22" stroke-width="2.90" stroke-linecap="round" fill="none"/>
<path d="M453.9 441.2h0M452.3 456.3h0M469.4 448.3h0M464.4 452.0h0M463.7 441.0h0M448.1 444.6h0M456.3 449.7h0M457.6 455.0h0M456.9 434.4h0M454.6 446.9h0M468.5 446.9h0M469.9 446.7h0M455.2 444.7h0M451.0 453.4h0M450.6 450.4h0M468.6 453.2h0M464.8 452.7h0M471.2 449.5h0M455.9 450.8h0M457.6 446.6h0M447.4 449.8h0M458.6 450.0h0M464.6 454.5h0M465.2 452.0h0M461.5 446.5h0M467.9 451.0h0M461.6 445.9h0M441.9 447.4h0M467.2 455.0h0M452.3 446.5h0M438.0 446.7h0M462.7 454.8h0M470.5 445.6h0M467.3 437.2h0M462.3 450.6h0M472.9 450.3h0M458.3 452.8h0M451.9 454.9h0M453.7 451.5h0M452.2 450.5h0M438.1 451.2h0M465.9 444.9h0M443.7 454.8h0M456.2 459.2h0M462.0 441.6h0M455.3 454.3h0M446.6 449.1h0M470.0 444.8h0M465.1 453.0h0M452.2 438.4h0M475.0 444.3h0M453.7 457.9h0M458.1 453.3h0M473.0 451.2h0M459.3 441.1h0M454.9 449.6h0M460.5 450.6h0M454.0 442.9h0M458.0 442.9h0M448.2 454.0h0M462.5 455.6h0M461.1 442.5h0M448.0 452.5h0M463.3 450.9h0M461.5 441.3h0M475.1 446.4h0M454.1 450.1h0M447.8 445.7h0M449.2 451.4h0M460.0 446.5h0" stroke="#8da0cb" stroke-opacity="0.2" stroke-width="2.90" stroke-linecap="round" fill="none"/>
<path d="M385.1 457.3h0M388.1 455.2h0M382.7 454.7h0M388.9 451.5h0M404.6 455.3h0M391.3 457.4h0M390.1 452.8h0M387.2 455.3h0M403.9 455.3h0M393.1 452.9h0M395.9 455.6h0M385.4 457.5h0M399.8 457.4h0M383.0 457.6h0M395.0 453.5h0M391.0 453.0h0M390.1 452.7h0M392.6 454.4h0M391.9 458.1h0" stroke="#66c2a5" stroke-opacity="0.22" stroke-width="2.90" stroke-linecap="round" fill="none"/>
<path d="M429.6 458.5h0M415.6 450.6h0M426.0 447.6h0M427.6 437.3h0M420.0 442.3h0M427.9 444.1h0M424.2 440.9h0M412.2 453.9h0M432.0 439.6h0M423.7 450.8h0M418.5 458.4h0M427.2 440.4h0M428.4 442.2h0M429.1 436.8h0M424.5 448.2h0M419.5 456.4h0M422.2 438.0h0M413.8 435.7h0M417.0 450.7h0M437.0 453.1h0M420.5 457.1h0M417.0 450.8h0M431.9 440.0h0M426.6 456.5h0M432.2 455.1h0M419.8 444.7h0M427.1 457.2h0M426.1 454.4h0M421.3 442.1h0M423.4 435.0h0M424.7 447.2h0M424.6 454.7h0M421.7 458.5h0M427.0 440.0h0M427.2 439.5h0M424.4 441.0h0M431.0 437.9h0M424.5 440.4h0M436.3 452.6h0M419.6 450.9h0M430.0 449.3h0M423.1 457.4h0" stroke="#fc8d62" stroke-opacity="0.22" stroke-width="2.90" stroke-linecap="round" fill="none"/>
<path d="M458.9 446.9h0M458.8 446.0h0M452.1 451.8h0M447.8 446.2h0M452.8 448.4h0M462.9 444.0h0M470.8 455.8h0M462.8 451.6h0M456.2 443.9h0M456.5 449.6h0M458.9 444.1h0M455.0 448.0h0M446.8 448.4h0M459.1 443.1h0M457.7 451.8h0M464.9 453.7h0M451.9 457.1h0M450.9 455.0h0M452.1 446.4h0M451.7 444.0h0M467.1 439.2h0M457.6 447.8h0M462.2 447.4h0M462.4 455.1h0M458.4 449.8h0M463.0 451.8h0M448.4 450.7h0M464.2 446.3h0M454.2 449.8h0M454.3 443.6h0M474.6 443.1h0M461.1 438.1h0M454.9 442.0h0M456.4 444.9h0M456.0 451.7h0M470.8 451.2h0M471.8 442.6h0M459.3 454.5h0M469.1 455.2h0M454.3 441.9h0M458.9 444.0h0M450.0 440.8h0M453.7 454.4h0M466.3 441.4h0M446.1 458.2h0M459.3 448.8h0M464.5 456.6h0M457.1 449.1h0M466.6 455.4h0M458.0 448.3h0M472.3 452.7h0M462.2 439.9h0M460.6 442.6h0M453.5 453.3h0M458.6 450.7h0M457.5 439.7h0M472.9 446.4h0M439.0 445.7h0M455.7 458.8h0M450.0 437.4h0M454.5 443.4h0M457.1 437.2h0M457.5 442.8h0M467.2 444.8h0M446.6 453.8h0M465.7 448.5h0M459.8 457.4h0" stroke="#8da0cb" stroke-opacity="0.2" stroke-width="2.90" stroke-linecap="round" fill="none"/>
<path d="M395.2 456.7h0M384.3 458.4h0M399.8 456.7h0M383.1 459.2h0M388.1 455.7h0M389.5 451.7h0M388.8 450.9h0M375.9 456.6h0M394.1 458.1h0M386.5 459.2h0M393.6 457.7h0M384.2 458.4h0M388.7 455.2h0M384.1 458.3h0M396.6 456.6h0M380.0 453.8h0M402.0 455.2h0M385.9 454.9h0M395.1 452.9h0M397.9 455.9h0M399.7 455.6h0M395.0 450.5h0M393.3 456.1h0M383.6 454.5h0M391.7 454.1h0M386.8 454.2h0M387.2 454.3h0M390.1 454.9h0M387.5 453.3h0M389.5 456.0h0M392.7 454.6h0M403.8 454.5h0M391.9 454.2h0M386.9 458.7h0M386.5 453.7h0M394.0 454.6h0M394.2 454.8h0" stroke="#66c2a5" stroke-opacity="0.22" stroke-width="2.90" stroke-linecap="round" fill="none"/>
<path d="M422.7 434.3h0M428.4 438.0h0M421.5 446.5h0M434.7 450.1h0M426.9 459.3h0M429.1 440.4h0M415.4 444.1h0M425.9 449.5h0M434.3 455.6h0M429.3 444.6h0M422.7 454.1h0M414.6 455.6h0M426.6 448.2h0M417.6 443.0h0M425.6 449.9h0M423.1 438.4h0M417.0 443.4h0M424.9 435.9h0M418.6 441.3h0M419.6 445.8h0M428.3 451.3h0M421.4 447.9h0M426.7 456.8h0M425.2 444.7h0M425.6 445.9h0M418.1 455.0h0M419.0 444.3h0M415.8 452.0h0M412.6 447.3h0M433.8 443.6h0M416.7 450.9h0M423.7 458.3h0M429.1 458.4h0M424.3 438.4h0M428.0 442.6h0M432.7 440.0h0M425.2 452.5h0M422.2 455.1h0M422.2 447.0h0" stroke="#fc8d62" stroke-opacity="0.22" stroke-width="2.90" stroke-linecap="round" fill="none"/>
<path d="M458.9 443.3h0M454.5 444.8h0M441.6 446.2h0M447.7 438.1h0M455.4 450.6h0M462.3 448.8h0M458.0 448.9h0M464.2 444.6h0M452.2 451.6h0M457.7 446.1h0M466.1 453.6h0M461.4 457.8h0M460.9 438.2h0M449.8 443.0h0M470.3 446.4h0M457.4 438.0h0M472.0 449.6h0M451.2 449.5h0M437.7 449.8h0M476.9 454.2h0M450.2 453.2h0M461.3 447.0h0M462.4 443.3h0M474.8 451.0h0M452.3 456.6h0M462.0 449.1h0M458.4 446.4h0M449.4 450.2h0M461.3 444.4h0M450.3 440.8h0M452.1 445.3h0M465.7 449.9h0M464.7 458.4h0M450.5 443.0h0M472.3 454.4h0M440.4 447.6h0M447.6 446.5h0M468.5 449.8h0M442.3 454.5h0M457.9 453.3h0M468.6 450.2h0M475.5 447.4h0M460.7 450.2h0M463.7 450.1h0M455.7 452.7h0M464.3 452.1h0M453.3 449.2h0M460.9 442.8h0M459.7 452.8h0M456.3 454.5h0M455.1 446.4h0M463.5 454.4h0M466.7 454.9h0" stroke="#8da0cb" stroke-opacity="0.2" stroke-width="2.90" stroke-linecap="round" fill="none"/>
<path d="M457.0 421.8h0" stroke="#8da0cb" stroke-opacity="0.3" stroke-width="2.90" stroke-linecap="round" fill="none"/>
<line x1="390.77" y1="456.29" x2="390.77" y2="454.74" stroke="#222" stroke-width="0.7"/>
<path d="M390.77 453.91 L392.37 455.51 L390.77 457.12 L389.17 455.51 Z" fill="#e4e4e4" stroke="#1a1a1a" stroke-width="0.6"/>
<line x1="424.55" y1="454.48" x2="424.55" y2="439.97" stroke="#222" stroke-width="0.7"/>
<path d="M424.55 445.63 L426.15 447.23 L424.55 448.83 L422.95 447.23 Z" fill="#e4e4e4" stroke="#1a1a1a" stroke-width="0.6"/>
<line x1="458.33" y1="454.74" x2="458.33" y2="443.34" stroke="#222" stroke-width="0.7"/>
<path d="M458.33 447.44 L459.93 449.04 L458.33 450.64 L456.73 449.04 Z" fill="#e4e4e4" stroke="#1a1a1a" stroke-width="0.6"/>
<polyline points="390.8,409.7 390.8,408.4 458.3,408.4 458.3,409.7" fill="none" stroke="#555" stroke-width="0.55"/>
<text x="424.85" y="410.90" font-size="10.0" text-anchor="middle" fill="#000" transform="matrix(1 0 0 1.1 0 -41.090)" letter-spacing="0.6">***</text>
<polyline points="424.6,415.7 424.6,414.4 458.3,414.4 458.3,415.7" fill="none" stroke="#555" stroke-width="0.55"/>
<text x="441.74" y="416.90" font-size="10.0" text-anchor="middle" fill="#000" transform="matrix(1 0 0 1.1 0 -41.690)" letter-spacing="0.6">*</text>
<polyline points="390.8,421.3 390.8,420.0 424.6,420.0 424.6,421.3" fill="none" stroke="#555" stroke-width="0.55"/>
<text x="407.96" y="422.50" font-size="10.0" text-anchor="middle" fill="#000" transform="matrix(1 0 0 1.1 0 -42.250)" letter-spacing="0.6">***</text>
<text x="482.80" y="423.40" font-size="7.0" text-anchor="start" fill="#111" stroke="#111" stroke-width="0.18" transform="matrix(1 0 0 1.1 0 -42.340)">Clusters</text>
<circle cx="484.9" cy="428.4" r="1.2" fill="#66c2a5"/>
<text x="488.30" y="430.60" font-size="6.2" text-anchor="start" fill="#222" stroke="#222" stroke-width="0.18" transform="matrix(1 0 0 1.1 0 -43.060)">1</text>
<circle cx="484.9" cy="436.3" r="1.2" fill="#fc8d62"/>
<text x="488.30" y="438.50" font-size="6.2" text-anchor="start" fill="#222" stroke="#222" stroke-width="0.18" transform="matrix(1 0 0 1.1 0 -43.850)">2</text>
<circle cx="484.9" cy="444.2" r="1.2" fill="#8da0cb"/>
<text x="488.30" y="446.40" font-size="6.2" text-anchor="start" fill="#222" stroke="#222" stroke-width="0.18" transform="matrix(1 0 0 1.1 0 -44.640)">3</text>
<line x1="540.50" y1="399.10" x2="540.50" y2="462.40" stroke="#aaa" stroke-width="0.6"/>
<line x1="540.50" y1="462.40" x2="654.50" y2="462.40" stroke="#aaa" stroke-width="0.6"/>
<line x1="539.00" y1="459.10" x2="540.50" y2="459.10" stroke="#aaa" stroke-width="0.6"/>
<text x="537.20" y="461.70" font-size="7.1" text-anchor="end" fill="#222" stroke="#222" stroke-width="0.18" transform="matrix(1 0 0 1.1 0 -46.170)">0</text>
<line x1="539.00" y1="439.90" x2="540.50" y2="439.90" stroke="#aaa" stroke-width="0.6"/>
<text x="537.20" y="442.50" font-size="7.1" text-anchor="end" fill="#222" stroke="#222" stroke-width="0.18" transform="matrix(1 0 0 1.1 0 -44.250)">2</text>
<line x1="539.00" y1="420.70" x2="540.50" y2="420.70" stroke="#aaa" stroke-width="0.6"/>
<text x="537.20" y="423.30" font-size="7.1" text-anchor="end" fill="#222" stroke="#222" stroke-width="0.18" transform="matrix(1 0 0 1.1 0 -42.330)">4</text>
<line x1="539.00" y1="401.50" x2="540.50" y2="401.50" stroke="#aaa" stroke-width="0.6"/>
<text x="537.20" y="404.10" font-size="7.1" text-anchor="end" fill="#222" stroke="#222" stroke-width="0.18" transform="matrix(1 0 0 1.1 0 -40.410)">6</text>
<text x="541.40" y="394.60" font-size="8.45" text-anchor="start" fill="#111" stroke="#111" stroke-width="0.18" transform="matrix(1 0 0 1.1 0 -39.460)">Mean peak prominence, dF/F<tspan font-size="5.9" dy="1.9">0</tspan></text>
<path d="M566.8 456.1h0M564.1 450.3h0M560.1 455.5h0M563.6 456.8h0M561.5 452.5h0M568.5 455.5h0M562.4 458.5h0M557.8 455.7h0M562.2 457.0h0M564.2 456.3h0M563.1 456.7h0M548.6 457.0h0M566.3 456.7h0M550.6 456.8h0M574.1 454.4h0M556.4 454.8h0M557.5 457.4h0M560.1 451.4h0M559.8 456.5h0M548.7 455.0h0M567.1 456.6h0M568.8 455.2h0M564.8 455.6h0M574.1 453.0h0M562.9 454.0h0M556.9 455.4h0M565.7 456.2h0" stroke="#66c2a5" stroke-opacity="0.22" stroke-width="2.90" stroke-linecap="round" fill="none"/>
<path d="M603.4 450.6h0M608.7 444.7h0M610.3 447.7h0M592.0 445.0h0M603.9 452.2h0M602.3 449.8h0M603.1 453.1h0M606.9 447.7h0M600.6 440.9h0M591.6 448.9h0M592.0 446.6h0M607.6 449.6h0M590.1 450.8h0M607.1 452.1h0M602.0 449.4h0M601.9 450.4h0M600.5 445.6h0M602.3 454.1h0M595.6 448.9h0M603.8 451.6h0M605.1 446.0h0M597.7 441.9h0M604.3 450.5h0M592.3 447.5h0M607.3 443.2h0M612.8 447.7h0M594.4 442.8h0M599.2 441.9h0M600.0 448.6h0M609.0 449.6h0M606.3 447.3h0M592.1 448.6h0M597.5 450.4h0M599.2 450.9h0M595.0 444.5h0M611.6 451.6h0M581.6 446.3h0M597.8 450.4h0M593.2 452.1h0M592.0 449.8h0" stroke="#fc8d62" stroke-opacity="0.22" stroke-width="2.90" stroke-linecap="round" fill="none"/>
<path d="M599.5 419.7h0" stroke="#fc8d62" stroke-opacity="0.32" stroke-width="2.90" stroke-linecap="round" fill="none"/>
<path d="M622.8 452.2h0M625.6 453.5h0M621.6 454.3h0M635.5 453.7h0M646.3 455.4h0M629.4 452.3h0M637.0 454.4h0M623.7 450.7h0M637.6 452.9h0M619.3 451.8h0M629.8 453.4h0M624.8 453.3h0M629.3 452.7h0M630.0 456.1h0M629.9 456.4h0M631.6 456.4h0M631.5 449.3h0M633.9 452.3h0M631.7 453.1h0M631.6 452.0h0M633.1 454.1h0M632.5 452.1h0M655.1 453.3h0M638.7 450.1h0M630.6 452.3h0M633.6 454.9h0M637.5 451.9h0M626.9 452.1h0M638.3 454.7h0M633.7 452.7h0M626.6 449.3h0M634.4 448.8h0M638.2 453.5h0M619.8 455.4h0M640.5 452.7h0M618.4 454.9h0M636.9 450.9h0M654.0 454.3h0M631.5 452.3h0M645.5 454.7h0M626.5 453.4h0M634.4 449.9h0M629.7 455.3h0M631.6 450.6h0M631.5 451.2h0M633.4 453.1h0M633.7 450.3h0M639.2 452.7h0M644.7 452.8h0M641.5 451.8h0M636.4 452.4h0M633.2 452.4h0M645.5 455.7h0M628.1 451.1h0M625.9 453.4h0M645.6 453.6h0" stroke="#8da0cb" stroke-opacity="0.2" stroke-width="2.90" stroke-linecap="round" fill="none"/>
<path d="M564.9 455.1h0M561.9 458.5h0M550.0 454.6h0M563.0 456.4h0M571.2 455.6h0M567.6 457.0h0M559.1 454.7h0M557.4 456.3h0M568.4 457.2h0M552.5 454.6h0M560.3 452.2h0M566.5 454.8h0M566.7 454.6h0M568.7 452.4h0M577.2 455.5h0M564.9 458.3h0M564.0 456.3h0M553.0 453.6h0M561.2 452.5h0M559.1 456.8h0M575.4 455.8h0M560.2 456.1h0M563.2 453.2h0M567.5 453.9h0M560.5 456.6h0M563.3 455.4h0M557.2 454.2h0M556.3 451.8h0M557.1 456.5h0M575.9 455.8h0M554.4 454.1h0M569.2 453.3h0M565.7 456.9h0M558.9 451.4h0M559.9 457.3h0M572.2 456.4h0M564.4 457.7h0" stroke="#66c2a5" stroke-opacity="0.22" stroke-width="2.90" stroke-linecap="round" fill="none"/>
<path d="M591.7 438.0h0M602.1 449.7h0M602.4 454.6h0M604.9 445.8h0M602.4 443.9h0M599.5 451.5h0M595.6 451.4h0M594.0 448.3h0M604.3 453.2h0M599.5 453.5h0M582.4 449.8h0M600.2 448.8h0M600.9 447.1h0M593.3 443.6h0M614.2 448.9h0M596.8 445.0h0M601.6 445.9h0M597.9 452.2h0M599.2 448.1h0M594.6 452.3h0M602.7 453.2h0M590.4 442.2h0M598.3 444.6h0M609.8 449.1h0M598.6 454.3h0M612.5 452.1h0M600.6 453.1h0M598.3 455.0h0M607.9 444.7h0M607.9 454.9h0M598.1 446.4h0M592.3 449.5h0M580.8 446.7h0M591.3 446.0h0M594.3 451.9h0M589.3 444.3h0M591.3 442.1h0M598.2 449.6h0M590.4 450.0h0M605.4 453.1h0M593.8 452.8h0M596.8 447.5h0M598.9 449.5h0" stroke="#fc8d62" stroke-opacity="0.22" stroke-width="2.90" stroke-linecap="round" fill="none"/>
<path d="M598.5 423.6h0" stroke="#fc8d62" stroke-opacity="0.32" stroke-width="2.90" stroke-linecap="round" fill="none"/>
<path d="M639.6 451.5h0M649.1 452.0h0M625.1 452.0h0M628.1 452.6h0M643.0 455.6h0M633.8 452.9h0M633.5 452.6h0M621.9 451.0h0M644.5 451.6h0M633.5 451.2h0M626.3 456.1h0M633.0 451.1h0M638.3 455.3h0M612.3 453.1h0M636.2 452.6h0M625.9 456.5h0M643.0 449.5h0M632.1 452.6h0M641.8 453.0h0M636.0 450.5h0M611.3 453.7h0M629.5 456.5h0M630.8 450.8h0M636.6 452.9h0M625.6 453.5h0M622.5 454.2h0M637.3 451.9h0M632.2 452.0h0M635.4 447.8h0M627.0 451.9h0M640.6 454.6h0M633.1 454.1h0M628.7 450.5h0M623.2 450.8h0M626.1 452.0h0M621.3 451.2h0M629.2 453.6h0M625.6 454.3h0M638.9 451.6h0M625.6 451.2h0M648.1 454.3h0M646.8 452.0h0M638.3 452.0h0M637.7 454.4h0M637.4 453.8h0M634.9 454.5h0M640.8 455.1h0M621.3 452.2h0M636.7 449.1h0M638.2 451.8h0M637.1 451.6h0M621.8 453.5h0M645.4 452.4h0" stroke="#8da0cb" stroke-opacity="0.2" stroke-width="2.90" stroke-linecap="round" fill="none"/>
<path d="M562.4 458.4h0M570.3 455.5h0M557.4 456.1h0M566.9 453.5h0M569.7 455.7h0M567.9 455.8h0M554.9 453.0h0M569.4 458.3h0M562.7 456.4h0M559.4 452.1h0M561.3 453.9h0M569.7 455.3h0M554.5 457.2h0M564.6 453.6h0M570.3 455.9h0M557.6 457.0h0M567.8 457.5h0M556.5 456.2h0M566.7 457.3h0" stroke="#66c2a5" stroke-opacity="0.22" stroke-width="2.90" stroke-linecap="round" fill="none"/>
<path d="M607.6 452.0h0M597.1 445.5h0M588.8 449.0h0M597.5 443.8h0M593.3 448.9h0M583.8 444.0h0M588.7 451.6h0M588.6 446.6h0M602.6 445.2h0M591.3 442.6h0M580.1 449.5h0M600.4 450.2h0M601.7 449.7h0M584.8 445.0h0M594.7 449.9h0M604.2 444.6h0M590.4 448.5h0M591.0 448.5h0M606.6 449.0h0M595.5 454.4h0M601.7 449.0h0M604.2 449.7h0M587.3 451.1h0M597.0 454.6h0M599.7 443.7h0M597.0 448.8h0M606.4 440.2h0M582.1 449.3h0M600.9 446.0h0M610.0 450.7h0M602.5 452.5h0M594.1 452.5h0M590.7 449.9h0M586.6 446.1h0M592.5 450.2h0M600.7 447.5h0M592.2 446.2h0M598.1 445.6h0M591.5 454.2h0M610.0 443.1h0M596.8 444.6h0M600.3 447.3h0M593.2 453.8h0M585.1 448.8h0M602.3 448.5h0" stroke="#fc8d62" stroke-opacity="0.22" stroke-width="2.90" stroke-linecap="round" fill="none"/>
<path d="M635.7 453.4h0M630.6 453.6h0M636.4 453.4h0M636.3 451.1h0M633.3 453.8h0M643.2 458.1h0M627.9 448.2h0M634.9 449.1h0M632.9 453.7h0M634.6 454.0h0M628.8 456.1h0M634.8 451.7h0M627.6 451.4h0M634.2 454.6h0M621.8 450.9h0M636.4 452.7h0M644.7 455.8h0M637.8 450.6h0M639.0 451.6h0M632.8 452.1h0M612.3 453.7h0M611.8 452.9h0M639.3 452.7h0M638.8 451.6h0M631.3 450.8h0M631.4 451.6h0M624.7 453.2h0M637.9 454.8h0M647.7 453.4h0M641.4 453.8h0M622.5 453.0h0M633.5 456.2h0M622.6 454.3h0M634.7 453.4h0M624.5 449.9h0M625.7 451.7h0M625.8 454.3h0M632.8 452.8h0M628.1 453.1h0M612.3 454.4h0M626.7 451.4h0M653.5 453.7h0M649.1 454.3h0M634.5 452.2h0M621.1 452.6h0M631.8 454.7h0M641.8 451.3h0M639.8 454.8h0M632.2 454.7h0M619.6 453.6h0M654.1 452.4h0" stroke="#8da0cb" stroke-opacity="0.2" stroke-width="2.90" stroke-linecap="round" fill="none"/>
<path d="M554.4 457.5h0M564.1 453.8h0M569.5 457.2h0M557.1 455.2h0M565.2 456.5h0M567.4 453.8h0M557.7 454.7h0M568.1 454.7h0M565.0 454.3h0M556.8 453.5h0M568.8 458.1h0M550.2 457.9h0M563.6 451.0h0M555.1 455.4h0M564.5 457.5h0M561.4 456.1h0M573.8 453.2h0M563.4 451.7h0M556.5 457.2h0M559.1 455.6h0M567.5 454.6h0M554.4 454.2h0M553.6 454.8h0M550.1 456.1h0M565.5 454.4h0M558.7 455.0h0M549.4 456.4h0M562.2 453.3h0M547.5 454.6h0M558.9 453.0h0" stroke="#66c2a5" stroke-opacity="0.22" stroke-width="2.90" stroke-linecap="round" fill="none"/>
<path d="M590.6 454.6h0M589.2 450.2h0M601.6 448.5h0M601.2 445.9h0M589.4 447.2h0M608.4 447.2h0M582.3 449.6h0M611.7 444.3h0M596.7 444.1h0M599.9 447.4h0M593.9 450.0h0M608.7 442.1h0M593.4 448.3h0M588.9 442.2h0M605.4 445.2h0M600.1 441.1h0M608.7 451.1h0M596.1 451.3h0M595.1 446.5h0M609.2 450.3h0M613.4 451.3h0M602.5 448.5h0M592.6 445.9h0M593.9 454.1h0M593.3 440.4h0M598.6 441.5h0M597.4 447.9h0M606.5 449.1h0M602.2 446.7h0M600.5 448.1h0M600.7 444.1h0M601.2 449.2h0M586.3 448.5h0M590.4 455.8h0M604.6 445.6h0M589.9 446.5h0" stroke="#fc8d62" stroke-opacity="0.22" stroke-width="2.90" stroke-linecap="round" fill="none"/>
<path d="M625.7 452.1h0M636.6 452.5h0M648.1 450.4h0M633.0 453.1h0M626.6 457.2h0M626.0 455.5h0M646.5 452.1h0M625.5 451.1h0M627.4 454.6h0M629.5 451.9h0M634.6 454.2h0M622.9 452.6h0M624.9 453.6h0M617.9 454.7h0M638.0 453.6h0M638.4 453.4h0M643.8 450.4h0M625.8 453.1h0M632.2 454.5h0M622.5 453.8h0M620.1 452.6h0M624.9 455.4h0M627.2 455.3h0M635.0 447.7h0M634.9 453.5h0M634.7 456.7h0M636.8 453.0h0M620.1 451.7h0M633.0 455.5h0M614.7 452.6h0M639.3 454.4h0M614.5 453.7h0M622.2 454.7h0M645.3 452.7h0M630.7 451.3h0M638.8 452.8h0M627.9 452.4h0M635.6 454.7h0M650.1 452.0h0M625.8 453.4h0M628.7 457.0h0M630.2 455.8h0M638.4 455.8h0M643.2 453.2h0M626.8 451.3h0M628.5 451.4h0M634.1 456.3h0M641.2 451.5h0M648.5 452.1h0M625.7 451.4h0M629.2 453.0h0M632.7 456.5h0M634.1 451.8h0M626.5 449.2h0M635.5 453.8h0M642.3 453.7h0M633.7 453.1h0M630.9 450.0h0M633.3 449.6h0M632.6 453.3h0M619.0 456.1h0M633.5 453.7h0M636.4 451.8h0M611.5 452.8h0M627.3 451.0h0M622.1 450.8h0M652.8 453.5h0" stroke="#8da0cb" stroke-opacity="0.2" stroke-width="2.90" stroke-linecap="round" fill="none"/>
<path d="M553.5 453.5h0M562.1 450.6h0M567.8 457.7h0M565.8 454.0h0M560.0 454.4h0M558.1 454.4h0M563.5 453.7h0M560.6 457.0h0M560.4 456.0h0M569.0 452.2h0M561.0 453.1h0M563.0 452.4h0M562.6 456.4h0M575.1 455.5h0M561.3 453.3h0M554.5 455.2h0M563.8 457.2h0M568.9 458.2h0M557.0 456.4h0M559.0 456.8h0M551.1 458.3h0M566.1 456.0h0M569.3 454.5h0M562.9 455.2h0M553.9 457.9h0M562.2 455.7h0M563.4 453.5h0" stroke="#66c2a5" stroke-opacity="0.22" stroke-width="2.90" stroke-linecap="round" fill="none"/>
<path d="M601.9 452.3h0M596.3 447.2h0M597.0 444.0h0M607.5 447.7h0M603.0 454.0h0M597.6 448.5h0M603.4 448.9h0M595.8 447.1h0M600.3 443.8h0M581.9 451.3h0M589.4 454.1h0M588.4 442.2h0M593.0 449.4h0M601.2 449.2h0M600.1 449.4h0M608.3 453.3h0M596.7 454.7h0M603.9 452.9h0M590.6 452.1h0M594.4 451.8h0M593.2 449.3h0M595.4 451.9h0M600.7 451.6h0M602.4 441.6h0M601.4 447.8h0M600.4 453.5h0M593.3 447.3h0M592.4 449.9h0M609.7 451.4h0M584.2 445.3h0M595.5 442.4h0M601.3 438.0h0M604.1 449.4h0M595.2 451.6h0M597.9 446.3h0M589.9 448.6h0" stroke="#fc8d62" stroke-opacity="0.22" stroke-width="2.90" stroke-linecap="round" fill="none"/>
<path d="M626.8 457.2h0M628.8 456.7h0M615.4 455.4h0M648.5 452.9h0M636.3 450.7h0M626.0 454.1h0M622.3 453.2h0M632.8 453.0h0M633.0 451.0h0M644.5 452.7h0M629.4 454.7h0M617.4 452.9h0M617.6 454.4h0M616.9 452.1h0M629.1 453.1h0M638.1 451.0h0M615.1 452.6h0M646.2 453.2h0M638.9 448.6h0M616.7 452.3h0M627.7 455.2h0M622.2 451.0h0M636.5 451.8h0M648.4 453.6h0M654.4 452.5h0M626.6 451.5h0M634.5 454.8h0M634.6 454.8h0M632.4 454.8h0M621.5 456.0h0M631.1 452.7h0M644.7 452.6h0M647.9 454.9h0M625.6 453.9h0M644.1 455.2h0M628.6 452.6h0M644.3 453.4h0M640.0 448.7h0M648.9 452.4h0M637.1 450.8h0M647.8 456.3h0M622.8 455.7h0M617.6 455.3h0M648.6 456.1h0M644.2 452.4h0M630.2 452.8h0M627.1 451.8h0M624.0 451.1h0M621.4 452.0h0M631.7 454.4h0M640.7 453.4h0M615.6 452.5h0M631.6 454.2h0M631.8 451.4h0M638.9 453.7h0M651.3 451.4h0M629.5 453.0h0M639.7 453.5h0M635.1 450.2h0M640.5 448.8h0M627.7 452.3h0M623.6 451.8h0M625.6 451.4h0M623.8 457.1h0M641.5 453.4h0M626.7 450.3h0M632.2 454.6h0M623.0 452.7h0M637.6 453.8h0M645.6 456.3h0M643.9 452.6h0M625.1 452.0h0M620.9 453.8h0" stroke="#8da0cb" stroke-opacity="0.2" stroke-width="2.90" stroke-linecap="round" fill="none"/>
<line x1="561.88" y1="455.74" x2="561.88" y2="454.78" stroke="#222" stroke-width="0.7"/>
<path d="M561.88 453.66 L563.48 455.26 L561.88 456.86 L560.27 455.26 Z" fill="#e4e4e4" stroke="#1a1a1a" stroke-width="0.6"/>
<line x1="597.50" y1="451.90" x2="597.50" y2="445.18" stroke="#222" stroke-width="0.7"/>
<path d="M597.50 446.94 L599.10 448.54 L597.50 450.14 L595.90 448.54 Z" fill="#e4e4e4" stroke="#1a1a1a" stroke-width="0.6"/>
<line x1="633.12" y1="453.92" x2="633.12" y2="452.76" stroke="#222" stroke-width="0.7"/>
<path d="M633.12 451.74 L634.73 453.34 L633.12 454.94 L631.52 453.34 Z" fill="#e4e4e4" stroke="#1a1a1a" stroke-width="0.6"/>
<polyline points="561.9,408.5 561.9,407.2 633.1,407.2 633.1,408.5" fill="none" stroke="#555" stroke-width="0.55"/>
<text x="597.80" y="409.70" font-size="10.0" text-anchor="middle" fill="#000" transform="matrix(1 0 0 1.1 0 -40.970)" letter-spacing="0.6">***</text>
<polyline points="597.5,414.0 597.5,412.7 633.1,412.7 633.1,414.0" fill="none" stroke="#555" stroke-width="0.55"/>
<text x="615.61" y="415.20" font-size="10.0" text-anchor="middle" fill="#000" transform="matrix(1 0 0 1.1 0 -41.520)" letter-spacing="0.6">***</text>
<polyline points="561.9,419.4 561.9,418.1 597.5,418.1 597.5,419.4" fill="none" stroke="#555" stroke-width="0.55"/>
<text x="579.99" y="420.60" font-size="10.0" text-anchor="middle" fill="#000" transform="matrix(1 0 0 1.1 0 -42.060)" letter-spacing="0.6">***</text>
<text x="659.30" y="423.40" font-size="7.0" text-anchor="start" fill="#111" stroke="#111" stroke-width="0.18" transform="matrix(1 0 0 1.1 0 -42.340)">Clusters</text>
<circle cx="661.4" cy="428.4" r="1.2" fill="#66c2a5"/>
<text x="664.80" y="430.60" font-size="6.2" text-anchor="start" fill="#222" stroke="#222" stroke-width="0.18" transform="matrix(1 0 0 1.1 0 -43.060)">1</text>
<circle cx="661.4" cy="436.3" r="1.2" fill="#fc8d62"/>
<text x="664.80" y="438.50" font-size="6.2" text-anchor="start" fill="#222" stroke="#222" stroke-width="0.18" transform="matrix(1 0 0 1.1 0 -43.850)">2</text>
<circle cx="661.4" cy="444.2" r="1.2" fill="#8da0cb"/>
<text x="664.80" y="446.40" font-size="6.2" text-anchor="start" fill="#222" stroke="#222" stroke-width="0.18" transform="matrix(1 0 0 1.1 0 -44.640)">3</text>
<line x1="370.80" y1="490.10" x2="370.80" y2="552.50" stroke="#aaa" stroke-width="0.6"/>
<line x1="370.80" y1="552.50" x2="476.90" y2="552.50" stroke="#aaa" stroke-width="0.6"/>
<line x1="369.30" y1="549.40" x2="370.80" y2="549.40" stroke="#aaa" stroke-width="0.6"/>
<text x="367.50" y="552.00" font-size="7.1" text-anchor="end" fill="#222" stroke="#222" stroke-width="0.18" transform="matrix(1 0 0 1.1 0 -55.200)">0.00</text>
<line x1="369.30" y1="534.40" x2="370.80" y2="534.40" stroke="#aaa" stroke-width="0.6"/>
<text x="367.50" y="537.00" font-size="7.1" text-anchor="end" fill="#222" stroke="#222" stroke-width="0.18" transform="matrix(1 0 0 1.1 0 -53.700)">0.02</text>
<line x1="369.30" y1="519.40" x2="370.80" y2="519.40" stroke="#aaa" stroke-width="0.6"/>
<text x="367.50" y="522.00" font-size="7.1" text-anchor="end" fill="#222" stroke="#222" stroke-width="0.18" transform="matrix(1 0 0 1.1 0 -52.200)">0.04</text>
<line x1="369.30" y1="504.40" x2="370.80" y2="504.40" stroke="#aaa" stroke-width="0.6"/>
<text x="367.50" y="507.00" font-size="7.1" text-anchor="end" fill="#222" stroke="#222" stroke-width="0.18" transform="matrix(1 0 0 1.1 0 -50.700)">0.06</text>
<text x="385.80" y="485.70" font-size="8.45" text-anchor="start" fill="#111" stroke="#111" stroke-width="0.18" transform="matrix(1 0 0 1.1 0 -48.570)">Mean frequency, Hz</text>
<path d="M379.2 532.6h0M391.9 529.0h0M386.5 532.0h0M382.0 531.1h0M387.8 541.6h0M394.6 544.1h0M398.0 543.4h0M375.9 542.0h0M382.2 544.5h0M403.7 539.0h0M389.6 540.5h0M389.0 529.6h0M378.4 529.7h0M392.0 540.7h0M396.6 543.6h0M392.7 541.6h0M383.4 541.6h0M399.4 546.8h0M398.5 520.8h0M394.4 526.7h0M386.2 525.3h0M386.7 543.6h0" stroke="#66c2a5" stroke-opacity="0.24" stroke-width="2.90" stroke-linecap="round" fill="none"/>
<path d="M409.7 548.0h0M418.6 548.1h0M424.9 547.6h0M425.0 547.3h0M423.3 546.2h0M427.7 541.5h0M422.4 545.4h0M415.5 548.5h0M423.4 548.1h0M427.2 539.8h0M427.8 548.6h0M423.2 546.2h0M417.4 548.5h0M427.5 544.6h0M431.8 548.1h0M431.9 548.1h0M429.8 544.1h0M424.7 546.0h0M425.9 546.2h0M422.9 546.9h0M423.4 547.7h0M423.8 548.0h0M422.8 537.0h0M427.6 545.6h0M428.7 543.3h0M422.3 544.7h0M423.6 546.8h0M417.5 547.5h0M413.2 547.8h0M422.8 546.1h0M424.9 546.1h0M422.0 546.4h0M432.3 541.7h0M421.9 547.7h0M433.1 548.4h0M425.4 547.9h0M428.0 543.3h0M426.2 546.7h0M430.2 548.4h0M417.8 546.2h0M428.3 546.6h0M428.5 541.7h0M428.0 548.6h0M420.2 540.9h0M426.2 545.4h0" stroke="#fc8d62" stroke-opacity="0.22" stroke-width="2.90" stroke-linecap="round" fill="none"/>
<path d="M461.0 545.1h0M463.7 546.1h0M453.8 541.5h0M455.4 547.4h0M468.6 545.7h0M451.7 548.5h0M450.0 546.6h0M455.9 548.0h0M448.3 548.3h0M449.5 546.6h0M454.7 546.0h0M454.4 543.1h0M472.9 548.6h0M457.6 546.0h0M449.6 547.7h0M449.4 534.7h0M457.9 546.8h0M446.1 545.7h0M456.9 548.2h0M454.6 547.2h0M441.9 545.9h0M457.9 541.2h0M451.3 545.6h0M454.8 538.9h0M447.0 548.5h0M458.1 541.6h0M472.7 546.0h0M455.5 537.9h0M469.3 547.3h0M457.0 544.8h0M455.6 544.6h0M454.7 546.3h0M458.9 548.0h0M454.2 546.2h0M458.4 545.1h0M458.0 544.0h0M466.4 548.4h0M464.0 541.0h0M465.8 547.6h0M448.5 548.0h0M466.0 546.8h0M451.8 547.4h0M463.0 547.0h0M468.0 547.2h0M464.4 537.7h0M464.1 543.9h0M466.0 546.0h0M452.1 547.0h0M464.3 544.6h0M458.0 541.0h0M447.7 544.1h0M453.6 541.6h0M464.1 540.6h0M450.5 543.6h0M456.2 548.1h0M454.7 547.8h0M459.2 544.4h0M455.9 547.9h0M458.5 540.7h0M444.0 545.6h0M445.1 543.7h0" stroke="#8da0cb" stroke-opacity="0.2" stroke-width="2.90" stroke-linecap="round" fill="none"/>
<path d="M387.9 528.7h0M379.1 533.9h0M393.7 544.9h0M396.9 543.2h0M381.0 540.3h0M394.3 524.2h0M390.6 546.8h0M389.2 521.1h0M386.0 529.9h0M391.6 533.0h0M399.4 525.3h0M378.0 535.8h0M395.0 548.9h0M386.5 536.1h0" stroke="#66c2a5" stroke-opacity="0.24" stroke-width="2.90" stroke-linecap="round" fill="none"/>
<path d="M426.7 543.9h0M428.2 543.8h0M411.6 545.6h0M423.6 547.8h0M429.4 546.8h0M425.3 547.5h0M420.1 543.7h0M425.7 548.0h0M435.5 547.0h0M419.8 548.2h0M426.6 536.0h0M427.6 546.3h0M409.0 548.4h0M429.8 547.9h0M418.9 548.1h0M406.7 547.8h0M425.2 536.1h0M419.3 533.9h0M421.6 546.5h0M415.0 547.6h0M423.7 547.5h0M427.6 535.3h0M428.1 540.6h0M425.4 548.2h0M420.2 547.6h0M433.1 546.3h0M430.2 545.4h0M437.6 548.0h0M423.6 546.1h0M425.2 545.1h0M413.8 543.3h0M424.8 542.2h0M410.2 545.5h0M433.4 548.0h0M425.8 547.5h0M438.6 548.6h0M419.6 547.7h0M416.4 547.2h0M437.9 547.8h0M422.3 548.5h0" stroke="#fc8d62" stroke-opacity="0.22" stroke-width="2.90" stroke-linecap="round" fill="none"/>
<path d="M454.0 548.4h0M463.3 547.6h0M458.2 541.5h0M468.0 548.2h0M454.1 547.9h0M458.9 548.2h0M456.2 538.1h0M450.2 542.1h0M460.4 544.9h0M460.2 548.5h0M456.0 544.4h0M458.6 547.0h0M472.4 547.9h0M455.9 540.1h0M447.9 547.5h0M461.6 547.4h0M456.9 546.6h0M445.2 544.8h0M439.3 548.4h0M447.7 543.9h0M452.4 546.3h0M450.7 547.9h0M456.3 548.3h0M455.8 546.9h0M457.2 543.6h0M457.9 547.9h0M457.8 542.9h0M458.8 546.5h0M447.7 546.4h0M448.7 546.5h0M455.7 540.7h0M460.5 546.8h0M445.3 546.6h0M460.3 547.2h0M441.7 545.8h0M459.8 540.8h0M457.6 542.8h0M452.6 548.6h0M452.8 540.6h0M466.3 546.8h0M470.6 547.5h0M460.9 545.3h0M459.8 548.4h0M461.5 548.4h0M462.8 546.0h0M453.7 547.6h0M462.5 548.2h0M461.2 548.0h0M455.8 545.2h0M454.7 548.4h0M455.1 546.2h0M473.0 546.5h0M461.8 547.5h0M438.4 548.3h0M459.3 547.4h0M445.6 545.1h0" stroke="#8da0cb" stroke-opacity="0.2" stroke-width="2.90" stroke-linecap="round" fill="none"/>
<path d="M394.7 536.8h0M388.6 545.2h0M398.0 532.6h0M395.0 521.8h0M389.0 540.4h0M404.1 535.0h0M397.2 547.6h0M386.3 538.4h0M401.2 538.1h0M392.8 549.2h0M404.3 529.5h0M385.7 548.0h0M392.3 547.8h0M383.6 529.6h0M378.6 533.9h0M390.6 526.0h0M389.1 514.5h0M388.2 531.8h0M387.2 544.5h0M394.5 545.3h0M400.3 527.6h0M405.6 533.2h0M386.8 516.1h0M399.8 538.6h0M376.6 536.8h0M396.6 545.0h0M387.5 540.0h0M392.4 530.7h0" stroke="#66c2a5" stroke-opacity="0.24" stroke-width="2.90" stroke-linecap="round" fill="none"/>
<path d="M431.9 547.5h0M416.0 545.0h0M426.7 545.9h0M419.9 545.0h0M432.8 542.8h0M427.5 542.0h0M413.5 548.3h0M427.6 545.1h0M432.6 547.7h0M431.1 547.5h0M418.9 548.6h0M420.5 538.6h0M429.3 544.1h0M429.3 543.8h0M424.9 547.6h0M427.0 546.5h0M423.6 540.3h0M421.9 537.2h0M421.3 547.0h0M422.4 547.2h0M428.1 546.4h0M430.5 543.7h0M416.1 548.6h0M426.9 542.4h0M423.5 544.7h0M418.7 548.6h0M426.9 548.4h0M420.1 548.5h0M411.7 546.6h0M426.6 546.9h0M434.2 545.2h0M421.6 543.0h0M431.2 544.7h0M426.2 537.7h0M424.5 538.8h0" stroke="#fc8d62" stroke-opacity="0.22" stroke-width="2.90" stroke-linecap="round" fill="none"/>
<path d="M453.8 542.1h0M448.8 537.1h0M441.0 548.4h0M451.7 547.2h0M453.0 539.6h0M465.6 548.4h0M469.6 548.3h0M463.2 547.8h0M463.7 546.9h0M460.5 541.9h0M465.0 548.2h0M454.2 544.7h0M447.9 546.9h0M454.7 547.3h0M461.7 547.7h0M454.6 542.1h0M457.8 541.9h0M452.7 545.9h0M460.9 545.6h0M451.2 547.9h0M463.9 546.0h0M447.4 545.6h0M465.9 548.1h0M459.0 547.6h0M450.0 544.2h0M467.7 548.6h0M452.6 547.9h0M450.1 545.2h0M457.4 540.5h0M457.7 547.3h0M446.8 547.3h0M455.4 547.4h0M453.4 540.1h0M457.4 548.5h0M457.7 541.3h0M471.1 545.5h0M460.1 548.5h0M462.7 541.3h0M446.8 544.2h0M458.9 545.3h0M453.9 545.5h0M458.0 548.5h0M451.2 547.9h0M457.3 547.1h0M460.7 546.5h0M459.3 534.9h0M461.1 548.5h0M453.9 536.6h0M451.2 545.9h0M463.4 547.3h0M453.3 541.2h0M459.7 545.4h0M449.6 546.1h0M457.8 545.7h0M445.5 548.2h0M465.1 545.4h0M451.1 548.2h0M453.4 547.7h0M459.8 545.1h0M452.9 546.5h0M453.9 547.8h0" stroke="#8da0cb" stroke-opacity="0.2" stroke-width="2.90" stroke-linecap="round" fill="none"/>
<path d="M389.3 547.5h0M400.5 538.1h0M383.4 543.8h0M375.6 534.0h0M385.5 543.4h0M400.4 534.1h0M390.3 539.0h0M397.6 549.2h0M383.8 534.3h0M404.6 530.6h0M397.7 526.7h0M386.0 536.9h0M388.4 518.8h0M376.8 544.6h0M394.6 531.5h0M393.2 512.8h0M390.8 537.5h0M396.4 537.4h0M397.4 533.1h0M393.3 526.9h0M384.2 530.8h0M387.9 543.8h0M389.4 541.4h0M380.3 522.6h0M392.9 526.9h0M387.6 532.2h0M391.6 548.8h0M387.1 537.0h0M390.4 522.3h0M385.7 535.9h0" stroke="#66c2a5" stroke-opacity="0.24" stroke-width="2.90" stroke-linecap="round" fill="none"/>
<path d="M420.5 544.0h0M425.6 545.4h0M435.4 547.3h0M426.5 548.3h0M423.6 545.1h0M419.6 545.8h0M422.4 540.5h0M423.1 544.6h0M423.4 548.3h0M430.2 548.3h0M416.2 544.9h0M427.9 548.4h0M412.5 546.3h0M431.9 546.2h0M422.8 538.1h0M433.6 540.6h0M423.4 548.4h0M420.1 544.3h0M419.3 548.6h0M421.0 537.8h0M426.9 546.9h0M414.7 547.3h0M427.1 546.5h0M430.8 543.8h0M427.5 542.7h0M418.2 545.4h0M418.8 541.7h0M413.9 547.7h0M411.6 548.6h0M424.4 539.3h0M414.1 540.6h0M417.5 548.5h0M419.5 547.6h0M421.0 547.5h0M420.3 547.1h0M429.2 548.4h0M437.0 546.4h0M417.6 546.1h0M433.5 547.9h0M429.4 539.8h0M420.9 547.0h0M426.3 545.8h0M409.7 546.4h0M427.2 548.2h0M415.0 546.4h0M419.8 543.4h0" stroke="#fc8d62" stroke-opacity="0.22" stroke-width="2.90" stroke-linecap="round" fill="none"/>
<path d="M445.6 546.5h0M466.6 548.0h0M452.1 546.2h0M455.0 539.0h0M462.0 548.3h0M469.5 548.0h0M457.3 543.6h0M460.1 547.0h0M445.3 547.4h0M458.7 547.9h0M471.2 545.8h0M451.3 548.1h0M459.5 546.9h0M454.6 548.4h0M457.2 545.2h0M474.0 548.5h0M457.6 545.8h0M467.0 547.4h0M465.3 544.3h0M458.2 544.1h0M456.7 543.5h0M449.1 548.3h0M456.0 544.3h0M471.6 545.1h0M457.0 547.2h0M447.0 547.8h0M465.9 541.2h0M449.7 540.8h0M465.7 547.3h0M453.4 546.5h0M444.6 544.3h0M459.2 545.0h0M450.2 548.6h0M462.4 546.8h0M463.4 539.7h0M453.7 543.8h0M440.8 546.5h0M460.5 548.2h0M460.4 545.5h0M449.6 543.0h0M459.0 543.5h0M455.1 534.4h0M451.7 542.7h0M471.2 544.8h0M458.7 545.8h0M446.4 547.1h0M464.4 547.2h0M453.4 548.3h0M454.0 548.1h0M463.7 548.3h0M469.2 546.4h0M441.7 548.3h0M449.8 545.0h0M438.1 548.1h0M453.2 547.0h0M452.3 547.9h0M463.3 545.3h0M461.6 548.3h0M449.7 547.9h0" stroke="#8da0cb" stroke-opacity="0.2" stroke-width="2.90" stroke-linecap="round" fill="none"/>
<path d="M390.9 526.4h0M389.3 534.5h0M385.7 535.5h0M380.1 538.0h0M389.3 533.3h0M389.0 547.9h0M390.7 540.2h0M395.5 534.7h0M389.7 519.2h0M379.2 527.2h0M403.5 533.5h0M394.8 530.8h0M386.9 541.2h0M388.5 548.2h0M386.6 541.7h0M395.5 535.8h0" stroke="#66c2a5" stroke-opacity="0.24" stroke-width="2.90" stroke-linecap="round" fill="none"/>
<path d="M434.9 546.4h0M418.9 538.0h0M422.7 541.0h0M424.0 547.8h0M418.6 547.2h0M420.0 547.3h0M421.0 546.5h0M426.1 541.5h0M419.3 544.2h0M424.2 544.1h0M427.0 534.7h0M431.9 546.4h0M412.9 544.0h0M421.6 547.9h0M432.3 544.3h0M411.0 546.8h0M431.5 548.2h0M419.2 548.1h0M421.7 543.5h0M427.9 540.8h0M408.4 546.8h0M410.7 548.3h0M434.9 547.9h0M432.5 547.1h0M427.6 546.4h0M412.3 546.6h0M420.5 548.6h0M417.9 548.2h0M418.5 547.3h0M411.9 548.5h0M410.9 544.8h0M424.1 548.3h0M421.4 548.6h0M421.0 547.4h0" stroke="#fc8d62" stroke-opacity="0.22" stroke-width="2.90" stroke-linecap="round" fill="none"/>
<path d="M454.0 544.0h0M466.3 548.5h0M446.5 545.0h0M451.8 541.9h0M461.4 542.9h0M451.9 547.8h0M448.4 548.5h0M463.2 548.5h0M456.4 539.8h0M460.3 547.1h0M441.1 547.2h0M462.7 545.3h0M455.9 538.3h0M450.6 546.9h0M456.3 546.6h0M465.9 548.4h0M459.0 536.0h0M447.8 545.0h0M453.6 544.8h0M458.0 539.6h0M444.4 546.6h0M461.0 547.0h0M453.8 542.3h0M452.2 544.4h0M459.4 547.9h0M456.4 547.1h0M463.6 547.2h0M452.6 540.0h0M464.8 545.5h0M457.7 542.4h0M448.9 548.1h0M452.5 543.5h0M452.3 544.8h0M463.8 544.5h0M445.3 546.2h0M456.1 548.1h0M462.9 542.7h0M455.7 547.9h0M457.1 548.4h0M458.0 543.9h0M453.2 547.7h0M447.1 543.5h0M458.9 541.9h0M455.1 547.0h0M453.5 544.6h0M447.2 547.3h0M456.4 543.9h0M459.0 541.9h0M466.0 541.9h0M461.2 540.4h0M456.2 546.4h0M445.6 546.1h0M458.6 547.8h0M455.4 546.8h0M457.1 547.6h0M466.9 548.2h0M450.2 548.5h0M461.3 542.8h0M463.6 547.1h0M459.2 548.6h0M456.8 547.9h0M443.7 548.3h0M445.4 547.5h0" stroke="#8da0cb" stroke-opacity="0.2" stroke-width="2.90" stroke-linecap="round" fill="none"/>
<line x1="390.69" y1="545.65" x2="390.69" y2="529.15" stroke="#222" stroke-width="0.7"/>
<path d="M390.69 535.80 L392.29 537.40 L390.69 539.00 L389.09 537.40 Z" fill="#e4e4e4" stroke="#1a1a1a" stroke-width="0.6"/>
<line x1="423.85" y1="547.90" x2="423.85" y2="543.40" stroke="#222" stroke-width="0.7"/>
<path d="M423.85 544.05 L425.45 545.65 L423.85 547.25 L422.25 545.65 Z" fill="#e4e4e4" stroke="#1a1a1a" stroke-width="0.6"/>
<line x1="457.01" y1="547.15" x2="457.01" y2="544.15" stroke="#222" stroke-width="0.7"/>
<path d="M457.01 544.05 L458.61 545.65 L457.01 547.25 L455.41 545.65 Z" fill="#e4e4e4" stroke="#1a1a1a" stroke-width="0.6"/>
<polyline points="390.7,502.7 390.7,501.4 457.0,501.4 457.0,502.7" fill="none" stroke="#555" stroke-width="0.55"/>
<text x="424.15" y="503.90" font-size="10.0" text-anchor="middle" fill="#000" transform="matrix(1 0 0 1.1 0 -50.390)" letter-spacing="0.6">***</text>
<polyline points="390.7,508.7 390.7,507.4 423.9,507.4 423.9,508.7" fill="none" stroke="#555" stroke-width="0.55"/>
<text x="407.57" y="509.90" font-size="10.0" text-anchor="middle" fill="#000" transform="matrix(1 0 0 1.1 0 -50.990)" letter-spacing="0.6">***</text>
<text x="481.10" y="513.90" font-size="7.0" text-anchor="start" fill="#111" stroke="#111" stroke-width="0.18" transform="matrix(1 0 0 1.1 0 -51.390)">Clusters</text>
<circle cx="483.2" cy="518.9" r="1.2" fill="#66c2a5"/>
<text x="486.60" y="521.10" font-size="6.2" text-anchor="start" fill="#222" stroke="#222" stroke-width="0.18" transform="matrix(1 0 0 1.1 0 -52.110)">1</text>
<circle cx="483.2" cy="526.8" r="1.2" fill="#fc8d62"/>
<text x="486.60" y="529.00" font-size="6.2" text-anchor="start" fill="#222" stroke="#222" stroke-width="0.18" transform="matrix(1 0 0 1.1 0 -52.900)">2</text>
<circle cx="483.2" cy="534.7" r="1.2" fill="#8da0cb"/>
<text x="486.60" y="536.90" font-size="6.2" text-anchor="start" fill="#222" stroke="#222" stroke-width="0.18" transform="matrix(1 0 0 1.1 0 -53.690)">3</text>
<line x1="540.50" y1="490.10" x2="540.50" y2="552.80" stroke="#aaa" stroke-width="0.6"/>
<line x1="540.50" y1="552.80" x2="648.10" y2="552.80" stroke="#aaa" stroke-width="0.6"/>
<line x1="539.00" y1="549.70" x2="540.50" y2="549.70" stroke="#aaa" stroke-width="0.6"/>
<text x="537.20" y="552.30" font-size="7.1" text-anchor="end" fill="#222" stroke="#222" stroke-width="0.18" transform="matrix(1 0 0 1.1 0 -55.230)">0</text>
<line x1="539.00" y1="534.19" x2="540.50" y2="534.19" stroke="#aaa" stroke-width="0.6"/>
<text x="537.20" y="536.79" font-size="7.1" text-anchor="end" fill="#222" stroke="#222" stroke-width="0.18" transform="matrix(1 0 0 1.1 0 -53.679)">300</text>
<line x1="539.00" y1="518.68" x2="540.50" y2="518.68" stroke="#aaa" stroke-width="0.6"/>
<text x="537.20" y="521.28" font-size="7.1" text-anchor="end" fill="#222" stroke="#222" stroke-width="0.18" transform="matrix(1 0 0 1.1 0 -52.128)">600</text>
<line x1="539.00" y1="503.17" x2="540.50" y2="503.17" stroke="#aaa" stroke-width="0.6"/>
<text x="537.20" y="505.77" font-size="7.1" text-anchor="end" fill="#222" stroke="#222" stroke-width="0.18" transform="matrix(1 0 0 1.1 0 -50.577)">900</text>
<text x="585.80" y="485.70" font-size="8.45" text-anchor="start" fill="#111" stroke="#111" stroke-width="0.18" transform="matrix(1 0 0 1.1 0 -48.570)">AUC</text>
<path d="M555.8 528.7h0M550.1 526.2h0M551.7 528.4h0M551.8 528.4h0M563.6 531.7h0M566.3 531.6h0M564.6 528.3h0M562.8 531.9h0M571.4 528.1h0M566.0 526.8h0M567.4 529.7h0M554.6 530.4h0M555.7 532.8h0M565.6 530.0h0M564.1 526.3h0M559.1 525.4h0M572.9 530.0h0M558.2 527.8h0M558.7 529.2h0M559.5 526.5h0M566.5 531.2h0M545.4 530.1h0M558.3 531.2h0M560.8 532.1h0M552.4 530.2h0M549.0 533.4h0M553.4 527.4h0M558.8 531.2h0M560.3 526.7h0M563.7 532.2h0" stroke="#66c2a5" stroke-opacity="0.22" stroke-width="2.90" stroke-linecap="round" fill="none"/>
<path d="M611.1 526.2h0M599.1 529.0h0M594.1 524.1h0M589.5 531.1h0M585.2 529.9h0M583.0 523.5h0M597.1 534.3h0M601.9 530.8h0M597.1 520.9h0M599.5 520.9h0M592.3 527.4h0M599.6 529.5h0M587.1 525.1h0M585.2 526.3h0M590.1 521.4h0M605.7 530.9h0M592.8 526.7h0M595.2 533.4h0M591.8 525.6h0M601.3 526.7h0M595.7 522.4h0M599.0 530.1h0M602.4 531.7h0M591.3 528.2h0M594.0 525.4h0M582.0 525.1h0M599.7 519.8h0M593.4 526.2h0M594.3 520.2h0M593.4 531.5h0M578.7 527.9h0M579.2 525.8h0M599.9 526.5h0M593.4 526.3h0M594.4 530.9h0M602.3 520.6h0M581.9 528.0h0M600.8 523.2h0M594.4 519.0h0M591.9 521.1h0M587.3 519.2h0M599.2 533.0h0M585.9 526.9h0M586.2 522.8h0M597.9 532.9h0M584.3 523.0h0M580.5 522.3h0M589.7 522.3h0M583.6 520.9h0M584.3 522.1h0M602.6 526.5h0M588.5 529.8h0" stroke="#fc8d62" stroke-opacity="0.22" stroke-width="2.90" stroke-linecap="round" fill="none"/>
<path d="M617.3 532.0h0M635.2 528.0h0M635.3 530.3h0M630.8 532.9h0M620.9 530.9h0M612.4 530.7h0M633.3 530.4h0M627.3 532.1h0M622.0 527.0h0M620.7 531.0h0M626.3 530.8h0M625.1 530.0h0M626.4 531.1h0M625.5 530.6h0M613.8 527.6h0M617.9 529.3h0M630.2 531.5h0M620.4 532.4h0M623.1 531.6h0M629.9 532.0h0M630.1 533.5h0M635.3 528.6h0M635.3 530.4h0M624.9 533.2h0M610.1 529.2h0M638.9 533.7h0M631.5 530.6h0M625.9 529.9h0M614.5 530.9h0M637.7 531.4h0M630.8 528.2h0M631.2 527.6h0M623.7 529.9h0M634.7 529.8h0M621.8 528.2h0M627.6 528.0h0M627.3 531.6h0M633.3 527.5h0M623.5 531.2h0M624.9 530.4h0M619.0 531.7h0M633.6 530.8h0M620.9 533.9h0M634.9 531.3h0M635.2 528.1h0M630.9 529.8h0M632.0 532.2h0M629.3 528.1h0M617.5 530.9h0M638.2 531.1h0M626.1 532.7h0M620.4 530.9h0M636.2 532.8h0M624.3 529.2h0M632.2 529.7h0M616.1 531.0h0M621.9 528.5h0M647.2 530.3h0M636.5 527.8h0M615.8 533.0h0M623.4 531.1h0" stroke="#8da0cb" stroke-opacity="0.2" stroke-width="2.90" stroke-linecap="round" fill="none"/>
<path d="M557.1 531.7h0M561.0 529.5h0M568.6 528.3h0M560.0 529.9h0M557.6 531.2h0M560.1 532.6h0M553.7 528.9h0M552.9 529.0h0M558.4 529.5h0M566.3 531.2h0M554.0 530.0h0M564.2 532.1h0M564.6 526.4h0M571.4 530.3h0M552.9 529.5h0M560.1 530.2h0M560.1 529.5h0M551.1 531.9h0M561.6 530.7h0M565.2 530.1h0M560.4 530.1h0M568.5 525.9h0M558.7 531.4h0M561.8 533.4h0M564.1 532.9h0M562.9 530.0h0M553.3 528.0h0M555.5 532.7h0" stroke="#66c2a5" stroke-opacity="0.22" stroke-width="2.90" stroke-linecap="round" fill="none"/>
<path d="M599.1 524.8h0M578.8 527.5h0M583.5 532.6h0M585.0 528.7h0M583.6 530.3h0M592.8 521.1h0M588.2 524.5h0M593.4 519.1h0M593.7 525.6h0M593.2 519.9h0M582.3 534.6h0M595.5 522.1h0M608.7 527.8h0M584.3 530.7h0M602.8 526.2h0M593.1 521.7h0M604.7 524.9h0M586.2 527.5h0M600.9 521.8h0M586.0 527.2h0M595.6 531.6h0M582.9 532.2h0M596.8 533.7h0M591.5 531.6h0M587.7 531.3h0M592.7 530.5h0M591.0 522.2h0M592.9 520.5h0M602.4 522.5h0M599.0 531.9h0M591.9 520.1h0M597.5 526.6h0M588.7 520.9h0" stroke="#fc8d62" stroke-opacity="0.22" stroke-width="2.90" stroke-linecap="round" fill="none"/>
<path d="M635.1 531.5h0M625.6 530.5h0M617.6 530.8h0M630.4 533.5h0M626.8 529.6h0M624.8 532.5h0M624.5 528.4h0M621.2 531.4h0M623.3 532.0h0M631.1 528.3h0M628.1 530.1h0M629.1 532.9h0M647.2 530.0h0M633.0 532.1h0M624.6 529.5h0M631.3 529.3h0M619.5 529.3h0M630.2 531.5h0M629.1 532.8h0M634.5 532.5h0M630.9 530.1h0M629.3 531.0h0M623.4 529.9h0M626.8 531.2h0M616.8 531.4h0M630.1 529.1h0M619.4 534.2h0M612.1 531.6h0M629.0 531.5h0M616.0 530.7h0M627.7 526.0h0M621.7 533.5h0M648.6 529.5h0M636.2 532.4h0M643.6 531.3h0M630.9 530.3h0M629.0 530.5h0M614.8 529.8h0M617.9 531.2h0M639.9 532.3h0M629.6 527.9h0M644.9 531.8h0M625.0 529.4h0M611.5 529.0h0M623.8 527.8h0M627.0 528.8h0M626.9 529.5h0M628.4 530.8h0M620.8 528.2h0M627.0 528.4h0M645.3 529.9h0M630.1 528.9h0M635.1 528.6h0M640.5 529.8h0M639.1 531.8h0M621.7 531.8h0M632.1 529.9h0M629.0 532.0h0M615.4 531.9h0M617.5 527.6h0M607.0 531.3h0M612.1 531.4h0M616.6 531.2h0M628.5 530.0h0M633.5 532.1h0M615.6 530.0h0M635.4 533.6h0M631.8 531.6h0M623.3 532.3h0M641.2 529.6h0M623.1 529.8h0M621.0 528.1h0M626.8 530.6h0" stroke="#8da0cb" stroke-opacity="0.2" stroke-width="2.90" stroke-linecap="round" fill="none"/>
<path d="M562.4 529.6h0M565.2 525.5h0M560.3 532.3h0M574.1 529.6h0M562.8 530.5h0M559.5 527.2h0M556.4 527.7h0M568.4 531.0h0M561.0 530.2h0M554.3 528.6h0M550.0 532.0h0M557.8 529.7h0M572.6 531.9h0M562.2 531.9h0M559.3 531.2h0M546.6 527.9h0M565.2 531.4h0M553.4 532.9h0M558.3 525.8h0M554.0 528.6h0M553.3 530.8h0M558.5 531.8h0M562.1 530.3h0M568.7 533.7h0M561.5 523.9h0M557.9 529.7h0M551.2 529.2h0M565.8 528.9h0M569.0 532.9h0M554.2 528.2h0M550.4 532.7h0M568.9 532.3h0M559.8 534.6h0" stroke="#66c2a5" stroke-opacity="0.22" stroke-width="2.90" stroke-linecap="round" fill="none"/>
<path d="M598.4 519.3h0M594.0 531.1h0M609.6 523.3h0M576.9 529.9h0M593.5 531.9h0M592.2 531.3h0M594.4 532.2h0M604.3 526.6h0M593.4 521.2h0M586.7 527.8h0M602.0 520.6h0M592.1 517.9h0M605.3 526.5h0M582.9 528.4h0M593.2 534.9h0M582.7 524.6h0M604.5 523.9h0M584.1 528.7h0M604.1 522.2h0M598.3 533.0h0M592.8 530.8h0M592.2 521.3h0M603.4 533.8h0M590.3 521.0h0M605.1 521.4h0M587.5 529.2h0M600.4 521.0h0M586.2 530.9h0M603.7 524.9h0M591.1 520.5h0M592.5 531.3h0M601.2 523.6h0M591.8 529.1h0M612.6 528.4h0M602.4 524.4h0M587.7 528.9h0M600.8 527.5h0M584.6 528.3h0M600.8 525.6h0M581.2 531.9h0M589.5 520.7h0" stroke="#fc8d62" stroke-opacity="0.22" stroke-width="2.90" stroke-linecap="round" fill="none"/>
<path d="M626.0 530.4h0M647.9 529.3h0M629.7 531.5h0M628.4 531.7h0M632.8 527.5h0M623.9 528.3h0M619.0 528.5h0M635.1 530.0h0M623.8 528.7h0M609.7 528.7h0M639.2 530.3h0M632.1 529.5h0M632.2 529.1h0M618.4 529.7h0M625.7 531.5h0M619.1 533.4h0M627.0 525.6h0M612.6 530.4h0M613.5 531.4h0M634.8 531.2h0M616.6 530.4h0M622.8 529.4h0M617.2 530.0h0M636.0 530.2h0M624.3 530.1h0M619.2 530.7h0M637.2 529.0h0M619.0 530.7h0M638.6 529.0h0M623.2 530.9h0M622.1 529.1h0M628.8 534.0h0M628.0 530.0h0M623.0 532.0h0M627.3 530.9h0M610.0 530.2h0M613.9 530.8h0M640.0 532.5h0M630.5 528.1h0" stroke="#8da0cb" stroke-opacity="0.2" stroke-width="2.90" stroke-linecap="round" fill="none"/>
<path d="M561.0 523.6h0M566.7 532.5h0M553.1 530.6h0M555.4 529.3h0M566.3 533.7h0M570.5 529.5h0M562.1 529.3h0M565.6 533.6h0M556.3 531.2h0M555.4 529.9h0M569.3 528.6h0M566.7 531.2h0M565.8 526.3h0M555.7 525.6h0M554.3 529.1h0M553.3 530.9h0M563.9 527.8h0M566.0 532.6h0M557.4 528.2h0M559.4 524.8h0M562.7 531.3h0M553.4 529.8h0M567.5 526.2h0" stroke="#66c2a5" stroke-opacity="0.22" stroke-width="2.90" stroke-linecap="round" fill="none"/>
<path d="M612.5 525.2h0M589.7 534.5h0M585.3 532.2h0M599.4 529.0h0M596.2 531.2h0M608.4 530.8h0M587.2 529.0h0M598.9 531.9h0M585.0 532.1h0M588.4 530.1h0M593.0 527.1h0M593.6 530.5h0M591.1 527.6h0M608.0 527.3h0M593.6 517.7h0M602.1 524.7h0M602.7 519.8h0M598.8 530.2h0M602.5 528.2h0M591.4 529.2h0M607.1 533.9h0M608.7 528.1h0M595.3 524.4h0M586.7 525.8h0M603.6 522.4h0M605.2 521.9h0M600.5 522.1h0M603.7 531.6h0M593.2 526.9h0M592.6 526.0h0M596.4 532.0h0M598.0 524.3h0M584.9 533.3h0" stroke="#fc8d62" stroke-opacity="0.22" stroke-width="2.90" stroke-linecap="round" fill="none"/>
<path d="M649.1 529.8h0M635.4 533.6h0M635.6 531.6h0M620.8 530.4h0M618.9 529.1h0M619.1 531.7h0M648.7 530.0h0M618.0 530.2h0M617.8 532.0h0M631.7 531.2h0M621.0 528.6h0M637.5 531.7h0M625.5 528.7h0M626.2 531.5h0M619.8 530.9h0M611.3 528.3h0M632.0 529.9h0M625.6 535.2h0M637.9 531.6h0M625.2 529.7h0M618.6 533.1h0M639.2 529.4h0M634.5 530.5h0M628.6 531.4h0M630.3 530.8h0M632.9 528.9h0M612.2 529.6h0M632.8 529.6h0M630.5 530.4h0M607.5 531.6h0M624.7 530.4h0M635.3 526.1h0M632.8 531.3h0M632.4 533.2h0M625.6 532.3h0M625.9 531.7h0M632.9 531.4h0M629.1 531.2h0M633.6 529.7h0M634.3 531.1h0M638.1 530.2h0M620.2 530.2h0M624.8 529.8h0M610.0 532.0h0M638.2 530.0h0M629.7 525.6h0M625.1 532.6h0M633.5 530.7h0M623.2 529.4h0M624.6 533.0h0M635.7 531.2h0M618.5 530.7h0M622.4 529.9h0M629.1 531.1h0M625.7 527.2h0M649.9 530.5h0M617.6 529.0h0M626.3 533.2h0M623.6 533.1h0M631.3 530.7h0M633.6 531.6h0" stroke="#8da0cb" stroke-opacity="0.2" stroke-width="2.90" stroke-linecap="round" fill="none"/>
<path d="M571.9 532.8h0M546.9 532.4h0M554.3 527.7h0M560.0 525.1h0M544.2 530.4h0M566.2 526.2h0M572.1 530.0h0M568.6 529.4h0M563.5 530.1h0M565.6 534.8h0M573.7 529.9h0M567.5 527.3h0M559.4 528.9h0M574.4 529.4h0M556.1 528.2h0M553.8 530.7h0M572.7 531.5h0M551.2 529.0h0M560.2 526.4h0M563.2 532.8h0M553.3 525.9h0M566.5 530.2h0M559.2 526.3h0M548.8 529.8h0M560.1 526.9h0M573.0 530.6h0" stroke="#66c2a5" stroke-opacity="0.22" stroke-width="2.90" stroke-linecap="round" fill="none"/>
<path d="M596.5 532.5h0M576.5 529.4h0M581.4 526.7h0M596.4 517.4h0M611.7 524.3h0M578.0 524.6h0M602.5 525.1h0M591.3 530.6h0M606.3 529.6h0M591.6 525.0h0M595.6 524.1h0M603.5 525.9h0M598.9 533.5h0M597.7 527.1h0M592.2 530.8h0M587.5 529.9h0M605.0 530.9h0M583.5 524.7h0M596.2 524.0h0M594.3 532.4h0M593.2 531.5h0M593.2 520.8h0M590.2 522.7h0M602.8 523.4h0M585.4 524.4h0M586.1 527.4h0M594.1 526.2h0M598.5 528.7h0M589.5 528.4h0M601.4 527.6h0M612.1 524.6h0M601.0 526.4h0M600.7 523.7h0M584.2 530.0h0M602.4 519.0h0M606.1 525.0h0M590.2 525.8h0M606.5 530.8h0M601.9 528.1h0M600.4 524.3h0M589.1 534.7h0" stroke="#fc8d62" stroke-opacity="0.22" stroke-width="2.90" stroke-linecap="round" fill="none"/>
<path d="M628.8 533.8h0M607.0 529.6h0M632.6 528.6h0M629.2 529.8h0M634.0 530.9h0M628.2 529.0h0M627.7 531.6h0M640.7 529.4h0M613.8 530.2h0M635.5 528.2h0M627.4 530.8h0M631.5 534.3h0M633.8 531.5h0M631.3 533.2h0M628.4 531.7h0M634.6 530.4h0M628.5 531.5h0M634.7 529.8h0M612.3 529.5h0M616.1 528.9h0M621.7 532.2h0M621.2 529.1h0M634.4 531.8h0M612.4 528.9h0M643.0 531.5h0M621.0 531.2h0M640.4 529.4h0M624.7 531.2h0M622.1 533.8h0M629.4 528.6h0M636.0 527.7h0M634.1 530.0h0M621.2 529.4h0M611.6 529.3h0M635.1 531.7h0M617.1 531.5h0M624.9 528.6h0M635.5 528.1h0M635.1 528.1h0M623.1 532.0h0M629.9 530.0h0M619.0 530.7h0M639.8 529.8h0M622.5 531.4h0M633.6 534.3h0M619.6 528.9h0M637.7 530.1h0M626.6 530.7h0M624.5 528.1h0M627.3 529.1h0M642.3 532.4h0M614.4 531.0h0M619.5 528.7h0M628.6 532.1h0M609.2 529.7h0M619.1 530.5h0M627.6 528.6h0M636.2 532.8h0M647.1 532.1h0M628.2 532.5h0M621.4 533.3h0M636.5 532.8h0M625.8 534.3h0M617.4 528.6h0M619.5 530.0h0M616.9 532.3h0" stroke="#8da0cb" stroke-opacity="0.2" stroke-width="2.90" stroke-linecap="round" fill="none"/>
<line x1="560.67" y1="531.35" x2="560.67" y2="528.76" stroke="#222" stroke-width="0.7"/>
<path d="M560.67 528.45 L562.27 530.05 L560.67 531.65 L559.07 530.05 Z" fill="#e4e4e4" stroke="#1a1a1a" stroke-width="0.6"/>
<line x1="594.30" y1="530.05" x2="594.30" y2="523.85" stroke="#222" stroke-width="0.7"/>
<path d="M594.30 525.35 L595.90 526.95 L594.30 528.55 L592.70 526.95 Z" fill="#e4e4e4" stroke="#1a1a1a" stroke-width="0.6"/>
<line x1="627.93" y1="531.09" x2="627.93" y2="530.05" stroke="#222" stroke-width="0.7"/>
<path d="M627.93 528.97 L629.53 530.57 L627.93 532.17 L626.33 530.57 Z" fill="#e4e4e4" stroke="#1a1a1a" stroke-width="0.6"/>
<polyline points="560.7,497.7 560.7,496.4 627.9,496.4 627.9,497.7" fill="none" stroke="#555" stroke-width="0.55"/>
<text x="594.60" y="498.90" font-size="10.0" text-anchor="middle" fill="#000" transform="matrix(1 0 0 1.1 0 -49.890)" letter-spacing="0.6">*</text>
<polyline points="594.3,505.6 594.3,504.3 627.9,504.3 627.9,505.6" fill="none" stroke="#555" stroke-width="0.55"/>
<text x="611.41" y="506.80" font-size="10.0" text-anchor="middle" fill="#000" transform="matrix(1 0 0 1.1 0 -50.680)" letter-spacing="0.6">***</text>
<polyline points="560.7,510.9 560.7,509.6 594.3,509.6 594.3,510.9" fill="none" stroke="#555" stroke-width="0.55"/>
<text x="577.79" y="512.10" font-size="10.0" text-anchor="middle" fill="#000" transform="matrix(1 0 0 1.1 0 -51.210)" letter-spacing="0.6">***</text>
<text x="653.20" y="513.90" font-size="7.0" text-anchor="start" fill="#111" stroke="#111" stroke-width="0.18" transform="matrix(1 0 0 1.1 0 -51.390)">Clusters</text>
<circle cx="655.3" cy="518.9" r="1.2" fill="#66c2a5"/>
<text x="658.70" y="521.10" font-size="6.2" text-anchor="start" fill="#222" stroke="#222" stroke-width="0.18" transform="matrix(1 0 0 1.1 0 -52.110)">1</text>
<circle cx="655.3" cy="526.8" r="1.2" fill="#fc8d62"/>
<text x="658.70" y="529.00" font-size="6.2" text-anchor="start" fill="#222" stroke="#222" stroke-width="0.18" transform="matrix(1 0 0 1.1 0 -52.900)">2</text>
<circle cx="655.3" cy="534.7" r="1.2" fill="#8da0cb"/>
<text x="658.70" y="536.90" font-size="6.2" text-anchor="start" fill="#222" stroke="#222" stroke-width="0.18" transform="matrix(1 0 0 1.1 0 -53.690)">3</text>
</svg>
</body></html>
